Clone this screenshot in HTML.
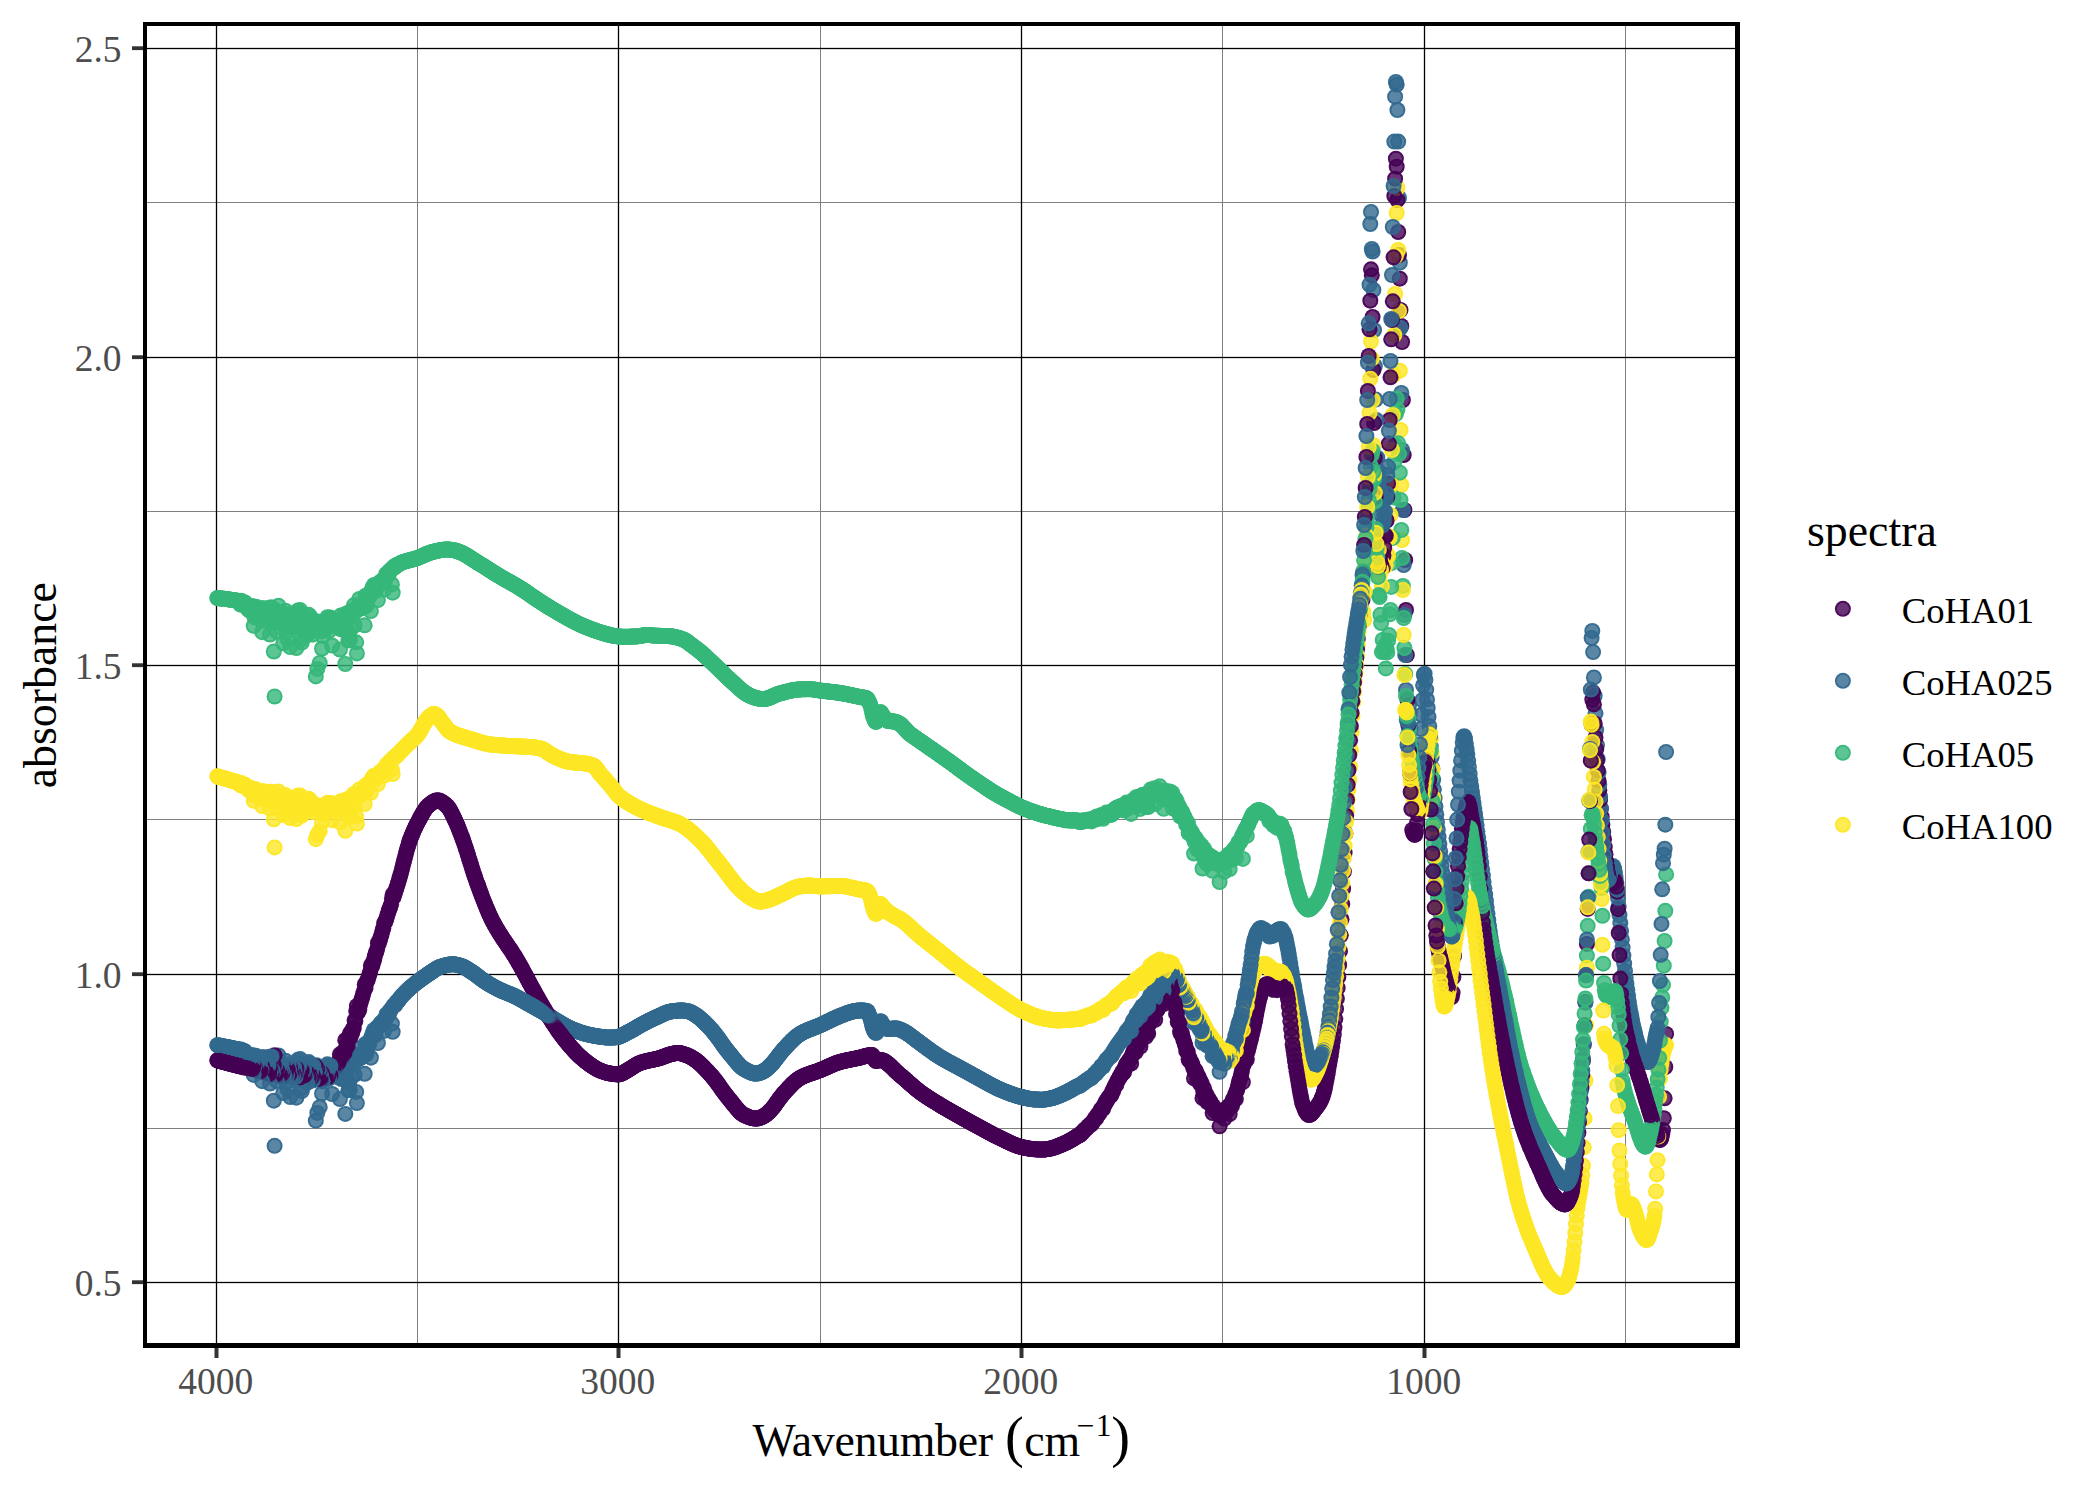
<!DOCTYPE html>
<html lang="en"><head><meta charset="utf-8"><title>FTIR spectra</title>
<style>
html,body{margin:0;padding:0;background:#fff}
body{width:2100px;height:1500px;overflow:hidden}
svg{display:block;font-family:"Liberation Serif","Times New Roman",serif}
circle{r:8px}
.a{fill:url(#ga)}.b{fill:url(#gb)}.c{fill:url(#gc)}.d{fill:url(#gd)}
.tk{fill:#4D4D4D;font-size:37.5px}
.lg{fill:#000;font-size:36.67px}
.tt{fill:#000;font-size:45.83px}
</style></head><body>
<svg width="2100" height="1500" viewBox="0 0 2100 1500">
<defs><radialGradient id="ga"><stop offset="0" stop-color="#440154" stop-opacity=".8"/><stop offset=".71" stop-color="#440154" stop-opacity=".8"/><stop offset=".76" stop-color="#440154" stop-opacity=".96"/><stop offset="1" stop-color="#440154" stop-opacity=".96"/></radialGradient><radialGradient id="gb"><stop offset="0" stop-color="#31688E" stop-opacity=".8"/><stop offset=".71" stop-color="#31688E" stop-opacity=".8"/><stop offset=".76" stop-color="#31688E" stop-opacity=".96"/><stop offset="1" stop-color="#31688E" stop-opacity=".96"/></radialGradient><radialGradient id="gc"><stop offset="0" stop-color="#35B779" stop-opacity=".8"/><stop offset=".71" stop-color="#35B779" stop-opacity=".8"/><stop offset=".76" stop-color="#35B779" stop-opacity=".96"/><stop offset="1" stop-color="#35B779" stop-opacity=".96"/></radialGradient><radialGradient id="gd"><stop offset="0" stop-color="#FDE725" stop-opacity=".8"/><stop offset=".71" stop-color="#FDE725" stop-opacity=".8"/><stop offset=".76" stop-color="#FDE725" stop-opacity=".96"/><stop offset="1" stop-color="#FDE725" stop-opacity=".96"/></radialGradient></defs>
<rect width="2100" height="1500" fill="#fff"/>
<g fill="#808080">
<rect x="417" y="26" width="1" height="1317"/><rect x="820" y="26" width="1" height="1317"/><rect x="1222" y="26" width="1" height="1317"/><rect x="1625" y="26" width="1" height="1317"/><rect x="147" y="202" width="1588" height="1"/><rect x="147" y="511" width="1588" height="1"/><rect x="147" y="819" width="1588" height="1"/><rect x="147" y="1128" width="1588" height="1"/>
</g>
<g fill="#000">
<rect x="215.85" y="26" width="1.3" height="1317"/><rect x="617.85" y="26" width="1.3" height="1317"/><rect x="1020.85" y="26" width="1.3" height="1317"/><rect x="1423.85" y="26" width="1.3" height="1317"/><rect x="147" y="47.85" width="1588" height="1.3"/><rect x="147" y="356.85" width="1588" height="1.3"/><rect x="147" y="664.85" width="1588" height="1.3"/><rect x="147" y="973.85" width="1588" height="1.3"/><rect x="147" y="1281.85" width="1588" height="1.3"/>
</g>
<svg x="147" y="26" width="1588" height="1317" viewBox="147 26 1588 1317" overflow="hidden">
<circle class=a cx=1666.1 cy=1033.9 r=8 /><circle class=b cx=1666.1 cy=752.0 r=8 /><circle class=c cx=1666.1 cy=874.4 r=8 /><circle class=d cx=1666.1 cy=1045.1 r=8 /><circle class=a cx=1665.3 cy=1067.0 r=8 /><circle class=b cx=1665.3 cy=824.7 r=8 />
<circle class=c cx=1665.3 cy=910.8 r=8 /><circle class=d cx=1665.3 cy=1046.3 r=8 /><circle class=a cx=1664.6 cy=1098.3 r=8 /><circle class=b cx=1664.6 cy=848.7 r=8 /><circle class=c cx=1664.6 cy=941.0 r=8 /><circle class=d cx=1664.6 cy=1048.3 r=8 />
<circle class=a cx=1663.8 cy=1118.2 r=8 /><circle class=b cx=1663.8 cy=854.7 r=8 /><circle class=c cx=1663.8 cy=965.7 r=8 /><circle class=d cx=1663.8 cy=1050.7 r=8 /><circle class=a cx=1663.0 cy=1130.0 r=8 /><circle class=b cx=1663.0 cy=863.2 r=8 />
<circle class=c cx=1663.0 cy=984.9 r=8 /><circle class=d cx=1663.0 cy=1054.1 r=8 /><circle class=a cx=1662.2 cy=1134.3 r=8 /><circle class=b cx=1662.2 cy=889.3 r=8 /><circle class=c cx=1662.2 cy=997.4 r=8 /><circle class=d cx=1662.2 cy=1058.5 r=8 />
<circle class=a cx=1661.5 cy=1137.5 r=8 /><circle class=b cx=1661.5 cy=923.9 r=8 /><circle class=c cx=1661.5 cy=1007.8 r=8 /><circle class=d cx=1661.5 cy=1063.7 r=8 /><circle class=a cx=1660.7 cy=1139.4 r=8 /><circle class=b cx=1660.7 cy=954.8 r=8 />
<circle class=c cx=1660.7 cy=1021.6 r=8 /><circle class=d cx=1660.7 cy=1069.9 r=8 /><circle class=a cx=1659.9 cy=1140.0 r=8 /><circle class=b cx=1659.9 cy=981.0 r=8 /><circle class=c cx=1659.9 cy=1040.6 r=8 /><circle class=d cx=1659.9 cy=1078.8 r=8 />
<circle class=a cx=1659.1 cy=1139.4 r=8 /><circle class=b cx=1659.1 cy=1002.9 r=8 /><circle class=c cx=1659.1 cy=1057.9 r=8 /><circle class=d cx=1659.1 cy=1096.9 r=8 /><circle class=a cx=1658.3 cy=1137.9 r=8 /><circle class=b cx=1658.3 cy=1017.0 r=8 />
<circle class=c cx=1658.3 cy=1069.5 r=8 /><circle class=d cx=1658.3 cy=1136.6 r=8 /><circle class=a cx=1657.6 cy=1135.9 r=8 /><circle class=b cx=1657.6 cy=1028.0 r=8 /><circle class=c cx=1657.6 cy=1079.1 r=8 /><circle class=d cx=1657.6 cy=1160.2 r=8 />
<circle class=a cx=1656.8 cy=1133.5 r=8 /><circle class=b cx=1656.8 cy=1032.0 r=8 /><circle class=c cx=1656.8 cy=1087.4 r=8 /><circle class=d cx=1656.8 cy=1174.4 r=8 /><circle class=a cx=1656.0 cy=1131.0 r=8 /><circle class=b cx=1656.0 cy=1034.9 r=8 />
<circle class=c cx=1656.0 cy=1094.8 r=8 /><circle class=d cx=1656.0 cy=1191.4 r=8 /><circle class=a cx=1655.2 cy=1128.7 r=8 /><circle class=b cx=1655.2 cy=1038.9 r=8 /><circle class=c cx=1655.2 cy=1101.9 r=8 /><circle class=d cx=1655.2 cy=1208.8 r=8 />
<circle class=a cx=1654.5 cy=1126.5 r=8 /><circle class=b cx=1654.5 cy=1043.2 r=8 /><circle class=c cx=1654.5 cy=1108.5 r=8 /><circle class=d cx=1654.5 cy=1215.8 r=8 /><circle class=a cx=1653.7 cy=1124.4 r=8 /><circle class=b cx=1653.7 cy=1047.2 r=8 />
<circle class=c cx=1653.7 cy=1114.6 r=8 /><circle class=d cx=1653.7 cy=1220.4 r=8 /><circle class=a cx=1652.9 cy=1122.1 r=8 /><circle class=b cx=1652.9 cy=1050.3 r=8 /><circle class=c cx=1652.9 cy=1119.9 r=8 /><circle class=d cx=1652.9 cy=1223.8 r=8 />
<circle class=a cx=1652.1 cy=1119.8 r=8 /><circle class=b cx=1652.1 cy=1052.9 r=8 /><circle class=c cx=1652.1 cy=1124.3 r=8 /><circle class=d cx=1652.1 cy=1226.5 r=8 /><circle class=a cx=1651.4 cy=1117.4 r=8 /><circle class=b cx=1651.4 cy=1055.5 r=8 />
<circle class=c cx=1651.4 cy=1128.1 r=8 /><circle class=d cx=1651.4 cy=1228.9 r=8 /><circle class=a cx=1650.6 cy=1115.0 r=8 /><circle class=b cx=1650.6 cy=1057.9 r=8 /><circle class=c cx=1650.6 cy=1131.8 r=8 /><circle class=d cx=1650.6 cy=1231.3 r=8 />
<circle class=a cx=1649.8 cy=1112.5 r=8 /><circle class=b cx=1649.8 cy=1059.8 r=8 /><circle class=c cx=1649.8 cy=1135.3 r=8 /><circle class=d cx=1649.8 cy=1233.8 r=8 /><circle class=a cx=1649.0 cy=1110.0 r=8 /><circle class=b cx=1649.0 cy=1061.2 r=8 />
<circle class=c cx=1649.0 cy=1138.6 r=8 /><circle class=d cx=1649.0 cy=1236.2 r=8 /><circle class=a cx=1648.3 cy=1107.5 r=8 /><circle class=b cx=1648.3 cy=1062.0 r=8 /><circle class=c cx=1648.3 cy=1141.5 r=8 /><circle class=d cx=1648.3 cy=1238.1 r=8 />
<circle class=a cx=1647.5 cy=1104.9 r=8 /><circle class=b cx=1647.5 cy=1061.9 r=8 /><circle class=c cx=1647.5 cy=1143.9 r=8 /><circle class=d cx=1647.5 cy=1239.5 r=8 /><circle class=a cx=1646.7 cy=1102.3 r=8 /><circle class=b cx=1646.7 cy=1061.5 r=8 />
<circle class=c cx=1646.7 cy=1145.6 r=8 /><circle class=d cx=1646.7 cy=1240.0 r=8 /><circle class=a cx=1645.9 cy=1099.7 r=8 /><circle class=b cx=1645.9 cy=1060.8 r=8 /><circle class=c cx=1645.9 cy=1146.6 r=8 /><circle class=d cx=1645.9 cy=1239.8 r=8 />
<circle class=a cx=1645.1 cy=1097.1 r=8 /><circle class=b cx=1645.1 cy=1059.9 r=8 /><circle class=c cx=1645.1 cy=1146.7 r=8 /><circle class=d cx=1645.1 cy=1239.2 r=8 /><circle class=a cx=1644.4 cy=1094.4 r=8 /><circle class=b cx=1644.4 cy=1058.8 r=8 />
<circle class=c cx=1644.4 cy=1146.2 r=8 /><circle class=d cx=1644.4 cy=1238.4 r=8 /><circle class=a cx=1643.6 cy=1091.8 r=8 /><circle class=b cx=1643.6 cy=1057.4 r=8 /><circle class=c cx=1643.6 cy=1145.4 r=8 /><circle class=d cx=1643.6 cy=1237.2 r=8 />
<circle class=a cx=1642.8 cy=1089.2 r=8 /><circle class=b cx=1642.8 cy=1055.9 r=8 /><circle class=c cx=1642.8 cy=1144.2 r=8 /><circle class=d cx=1642.8 cy=1235.9 r=8 /><circle class=a cx=1642.0 cy=1086.6 r=8 /><circle class=b cx=1642.0 cy=1054.4 r=8 />
<circle class=c cx=1642.0 cy=1142.7 r=8 /><circle class=d cx=1642.0 cy=1234.3 r=8 /><circle class=a cx=1641.3 cy=1084.1 r=8 /><circle class=b cx=1641.3 cy=1052.7 r=8 /><circle class=c cx=1641.3 cy=1141.0 r=8 /><circle class=d cx=1641.3 cy=1232.7 r=8 />
<circle class=a cx=1640.5 cy=1081.6 r=8 /><circle class=b cx=1640.5 cy=1051.0 r=8 /><circle class=c cx=1640.5 cy=1139.0 r=8 /><circle class=d cx=1640.5 cy=1231.1 r=8 /><circle class=a cx=1639.7 cy=1079.1 r=8 /><circle class=b cx=1639.7 cy=1049.4 r=8 />
<circle class=c cx=1639.7 cy=1136.8 r=8 /><circle class=d cx=1639.7 cy=1229.3 r=8 /><circle class=a cx=1638.9 cy=1076.7 r=8 /><circle class=b cx=1638.9 cy=1047.4 r=8 /><circle class=c cx=1638.9 cy=1134.4 r=8 /><circle class=d cx=1638.9 cy=1226.9 r=8 />
<circle class=a cx=1638.2 cy=1074.4 r=8 /><circle class=b cx=1638.2 cy=1045.2 r=8 /><circle class=c cx=1638.2 cy=1132.0 r=8 /><circle class=d cx=1638.2 cy=1224.0 r=8 /><circle class=a cx=1637.4 cy=1072.2 r=8 /><circle class=b cx=1637.4 cy=1042.7 r=8 />
<circle class=c cx=1637.4 cy=1129.5 r=8 /><circle class=d cx=1637.4 cy=1220.7 r=8 /><circle class=a cx=1636.6 cy=1070.0 r=8 /><circle class=b cx=1636.6 cy=1040.0 r=8 /><circle class=c cx=1636.6 cy=1127.0 r=8 /><circle class=d cx=1636.6 cy=1217.5 r=8 />
<circle class=a cx=1635.8 cy=1067.9 r=8 /><circle class=b cx=1635.8 cy=1037.1 r=8 /><circle class=c cx=1635.8 cy=1124.5 r=8 /><circle class=d cx=1635.8 cy=1214.5 r=8 /><circle class=a cx=1635.1 cy=1065.7 r=8 /><circle class=b cx=1635.1 cy=1033.9 r=8 />
<circle class=c cx=1635.1 cy=1122.1 r=8 /><circle class=d cx=1635.1 cy=1212.1 r=8 /><circle class=a cx=1634.3 cy=1063.4 r=8 /><circle class=b cx=1634.3 cy=1030.6 r=8 /><circle class=c cx=1634.3 cy=1119.9 r=8 /><circle class=d cx=1634.3 cy=1210.1 r=8 />
<circle class=a cx=1633.5 cy=1061.1 r=8 /><circle class=b cx=1633.5 cy=1027.1 r=8 /><circle class=c cx=1633.5 cy=1117.7 r=8 /><circle class=d cx=1633.5 cy=1208.0 r=8 /><circle class=a cx=1632.7 cy=1058.7 r=8 /><circle class=b cx=1632.7 cy=1023.5 r=8 />
<circle class=c cx=1632.7 cy=1115.7 r=8 /><circle class=d cx=1632.7 cy=1206.1 r=8 /><circle class=a cx=1631.9 cy=1056.2 r=8 /><circle class=b cx=1631.9 cy=1019.7 r=8 /><circle class=c cx=1631.9 cy=1113.7 r=8 /><circle class=d cx=1631.9 cy=1204.7 r=8 />
<circle class=a cx=1631.2 cy=1053.5 r=8 /><circle class=b cx=1631.2 cy=1015.7 r=8 /><circle class=c cx=1631.2 cy=1111.6 r=8 /><circle class=d cx=1631.2 cy=1204.0 r=8 /><circle class=a cx=1630.4 cy=1050.7 r=8 /><circle class=b cx=1630.4 cy=1011.3 r=8 />
<circle class=c cx=1630.4 cy=1109.6 r=8 /><circle class=d cx=1630.4 cy=1204.4 r=8 /><circle class=a cx=1629.6 cy=1047.6 r=8 /><circle class=b cx=1629.6 cy=1006.4 r=8 /><circle class=c cx=1629.6 cy=1107.4 r=8 /><circle class=d cx=1629.6 cy=1205.7 r=8 />
<circle class=a cx=1628.8 cy=1044.3 r=8 /><circle class=b cx=1628.8 cy=1001.3 r=8 /><circle class=c cx=1628.8 cy=1105.2 r=8 /><circle class=d cx=1628.8 cy=1207.4 r=8 /><circle class=a cx=1628.1 cy=1041.0 r=8 /><circle class=b cx=1628.1 cy=995.8 r=8 />
<circle class=c cx=1628.1 cy=1102.9 r=8 /><circle class=d cx=1628.1 cy=1209.0 r=8 /><circle class=a cx=1627.3 cy=1037.7 r=8 /><circle class=b cx=1627.3 cy=990.0 r=8 /><circle class=c cx=1627.3 cy=1100.4 r=8 /><circle class=d cx=1627.3 cy=1209.9 r=8 />
<circle class=a cx=1626.5 cy=1034.2 r=8 /><circle class=b cx=1626.5 cy=984.0 r=8 /><circle class=c cx=1626.5 cy=1097.8 r=8 /><circle class=d cx=1626.5 cy=1209.7 r=8 /><circle class=a cx=1625.7 cy=1030.5 r=8 /><circle class=b cx=1625.7 cy=977.8 r=8 />
<circle class=c cx=1625.7 cy=1095.1 r=8 /><circle class=d cx=1625.7 cy=1208.1 r=8 /><circle class=a cx=1625.0 cy=1026.3 r=8 /><circle class=b cx=1625.0 cy=971.0 r=8 /><circle class=c cx=1625.0 cy=1092.5 r=8 /><circle class=d cx=1625.0 cy=1205.3 r=8 />
<circle class=a cx=1624.2 cy=1021.5 r=8 /><circle class=b cx=1624.2 cy=963.6 r=8 /><circle class=c cx=1624.2 cy=1089.6 r=8 /><circle class=d cx=1624.2 cy=1201.6 r=8 /><circle class=a cx=1623.4 cy=1016.0 r=8 /><circle class=b cx=1623.4 cy=955.7 r=8 />
<circle class=c cx=1623.4 cy=1086.0 r=8 /><circle class=d cx=1623.4 cy=1197.3 r=8 /><circle class=a cx=1622.6 cy=1009.7 r=8 /><circle class=b cx=1622.6 cy=947.6 r=8 /><circle class=c cx=1622.6 cy=1081.0 r=8 /><circle class=d cx=1622.6 cy=1192.5 r=8 />
<circle class=a cx=1621.9 cy=1002.4 r=8 /><circle class=b cx=1621.9 cy=939.3 r=8 /><circle class=c cx=1621.9 cy=1069.9 r=8 /><circle class=d cx=1621.9 cy=1185.3 r=8 /><circle class=a cx=1621.1 cy=993.9 r=8 /><circle class=b cx=1621.1 cy=931.1 r=8 />
<circle class=c cx=1621.1 cy=1053.3 r=8 /><circle class=d cx=1621.1 cy=1175.6 r=8 /><circle class=a cx=1620.3 cy=978.6 r=8 /><circle class=b cx=1620.3 cy=923.0 r=8 /><circle class=c cx=1620.3 cy=1039.3 r=8 /><circle class=d cx=1620.3 cy=1164.0 r=8 />
<circle class=a cx=1619.5 cy=955.1 r=8 /><circle class=b cx=1619.5 cy=915.0 r=8 /><circle class=c cx=1619.5 cy=1025.5 r=8 /><circle class=d cx=1619.5 cy=1150.5 r=8 /><circle class=a cx=1618.7 cy=933.0 r=8 /><circle class=b cx=1618.7 cy=906.4 r=8 />
<circle class=c cx=1618.7 cy=1014.5 r=8 /><circle class=d cx=1618.7 cy=1130.2 r=8 /><circle class=a cx=1618.0 cy=909.2 r=8 /><circle class=b cx=1618.0 cy=897.8 r=8 /><circle class=c cx=1618.0 cy=1007.3 r=8 /><circle class=d cx=1618.0 cy=1106.1 r=8 />
<circle class=a cx=1617.2 cy=891.8 r=8 /><circle class=b cx=1617.2 cy=889.7 r=8 /><circle class=c cx=1617.2 cy=1000.8 r=8 /><circle class=d cx=1617.2 cy=1085.1 r=8 /><circle class=a cx=1616.4 cy=886.7 r=8 /><circle class=b cx=1616.4 cy=882.9 r=8 />
<circle class=c cx=1616.4 cy=995.5 r=8 /><circle class=d cx=1616.4 cy=1065.7 r=8 /><circle class=a cx=1615.6 cy=883.2 r=8 /><circle class=b cx=1615.6 cy=877.7 r=8 /><circle class=c cx=1615.6 cy=992.0 r=8 /><circle class=d cx=1615.6 cy=1057.5 r=8 />
<circle class=a cx=1614.9 cy=880.9 r=8 /><circle class=b cx=1614.9 cy=872.7 r=8 /><circle class=c cx=1614.9 cy=991.0 r=8 /><circle class=d cx=1614.9 cy=1053.2 r=8 /><circle class=a cx=1614.1 cy=880.0 r=8 /><circle class=b cx=1614.1 cy=868.6 r=8 />
<circle class=c cx=1614.1 cy=991.5 r=8 /><circle class=d cx=1614.1 cy=1050.2 r=8 /><circle class=a cx=1613.3 cy=880.0 r=8 /><circle class=b cx=1613.3 cy=866.2 r=8 /><circle class=c cx=1613.3 cy=992.6 r=8 /><circle class=d cx=1613.3 cy=1048.4 r=8 />
<circle class=a cx=1612.5 cy=880.0 r=8 /><circle class=b cx=1612.5 cy=866.3 r=8 /><circle class=c cx=1612.5 cy=993.9 r=8 /><circle class=d cx=1612.5 cy=1047.5 r=8 /><circle class=a cx=1611.8 cy=880.0 r=8 /><circle class=b cx=1611.8 cy=868.2 r=8 />
<circle class=c cx=1611.8 cy=995.3 r=8 /><circle class=d cx=1611.8 cy=1047.0 r=8 /><circle class=a cx=1611.0 cy=880.0 r=8 /><circle class=b cx=1611.0 cy=871.0 r=8 /><circle class=c cx=1611.0 cy=996.4 r=8 /><circle class=d cx=1611.0 cy=1046.6 r=8 />
<circle class=a cx=1610.2 cy=880.0 r=8 /><circle class=b cx=1610.2 cy=874.2 r=8 /><circle class=c cx=1610.2 cy=997.0 r=8 /><circle class=d cx=1610.2 cy=1046.3 r=8 /><circle class=a cx=1609.4 cy=879.4 r=8 /><circle class=b cx=1609.4 cy=877.2 r=8 />
<circle class=c cx=1609.4 cy=997.0 r=8 /><circle class=d cx=1609.4 cy=1046.0 r=8 /><circle class=a cx=1608.7 cy=877.0 r=8 /><circle class=b cx=1608.7 cy=879.3 r=8 /><circle class=c cx=1608.7 cy=996.8 r=8 /><circle class=d cx=1608.7 cy=1045.5 r=8 />
<circle class=a cx=1607.9 cy=873.0 r=8 /><circle class=b cx=1607.9 cy=880.0 r=8 /><circle class=c cx=1607.9 cy=996.4 r=8 /><circle class=d cx=1607.9 cy=1044.9 r=8 /><circle class=a cx=1607.1 cy=867.6 r=8 /><circle class=b cx=1607.1 cy=878.1 r=8 />
<circle class=c cx=1607.1 cy=996.0 r=8 /><circle class=d cx=1607.1 cy=1044.0 r=8 /><circle class=a cx=1606.3 cy=861.3 r=8 /><circle class=b cx=1606.3 cy=874.1 r=8 /><circle class=c cx=1606.3 cy=995.3 r=8 /><circle class=d cx=1606.3 cy=1042.9 r=8 />
<circle class=a cx=1605.5 cy=854.2 r=8 /><circle class=b cx=1605.5 cy=868.9 r=8 /><circle class=c cx=1605.5 cy=994.1 r=8 /><circle class=d cx=1605.5 cy=1041.2 r=8 /><circle class=a cx=1604.8 cy=846.8 r=8 /><circle class=b cx=1604.8 cy=863.2 r=8 />
<circle class=c cx=1604.8 cy=990.2 r=8 /><circle class=d cx=1604.8 cy=1038.6 r=8 /><circle class=a cx=1604.0 cy=839.2 r=8 /><circle class=b cx=1604.0 cy=855.1 r=8 /><circle class=c cx=1604.0 cy=983.0 r=8 /><circle class=d cx=1604.0 cy=1033.8 r=8 />
<circle class=a cx=1603.2 cy=831.9 r=8 /><circle class=b cx=1603.2 cy=844.6 r=8 /><circle class=c cx=1603.2 cy=963.7 r=8 /><circle class=d cx=1603.2 cy=1010.6 r=8 /><circle class=a cx=1602.4 cy=824.8 r=8 /><circle class=b cx=1602.4 cy=832.6 r=8 />
<circle class=c cx=1602.4 cy=915.8 r=8 /><circle class=d cx=1602.4 cy=944.8 r=8 /><circle class=a cx=1601.7 cy=817.0 r=8 /><circle class=b cx=1601.7 cy=820.2 r=8 /><circle class=c cx=1601.7 cy=888.0 r=8 /><circle class=d cx=1601.7 cy=899.0 r=8 />
<circle class=a cx=1600.9 cy=808.6 r=8 /><circle class=b cx=1600.9 cy=808.3 r=8 /><circle class=c cx=1600.9 cy=880.9 r=8 /><circle class=d cx=1600.9 cy=884.5 r=8 /><circle class=a cx=1600.1 cy=799.7 r=8 /><circle class=b cx=1600.1 cy=796.6 r=8 />
<circle class=c cx=1600.1 cy=875.9 r=8 /><circle class=d cx=1600.1 cy=873.8 r=8 /><circle class=a cx=1599.3 cy=790.3 r=8 /><circle class=b cx=1599.3 cy=784.7 r=8 /><circle class=c cx=1599.3 cy=869.7 r=8 /><circle class=d cx=1599.3 cy=861.0 r=8 />
<circle class=a cx=1598.6 cy=780.5 r=8 /><circle class=b cx=1598.6 cy=772.2 r=8 /><circle class=c cx=1598.6 cy=863.8 r=8 /><circle class=d cx=1598.6 cy=848.8 r=8 /><circle class=a cx=1597.8 cy=770.4 r=8 /><circle class=b cx=1597.8 cy=759.1 r=8 />
<circle class=c cx=1597.8 cy=858.1 r=8 /><circle class=d cx=1597.8 cy=837.1 r=8 /><circle class=a cx=1597.0 cy=760.0 r=8 /><circle class=b cx=1597.0 cy=745.1 r=8 /><circle class=c cx=1597.0 cy=852.5 r=8 /><circle class=d cx=1597.0 cy=825.4 r=8 />
<circle class=a cx=1596.2 cy=749.2 r=8 /><circle class=b cx=1596.2 cy=729.8 r=8 /><circle class=c cx=1596.2 cy=846.7 r=8 /><circle class=d cx=1596.2 cy=813.6 r=8 /><circle class=a cx=1595.5 cy=737.4 r=8 /><circle class=b cx=1595.5 cy=713.3 r=8 />
<circle class=c cx=1595.5 cy=840.2 r=8 /><circle class=d cx=1595.5 cy=801.5 r=8 /><circle class=a cx=1594.7 cy=723.5 r=8 /><circle class=b cx=1594.7 cy=695.8 r=8 /><circle class=c cx=1594.7 cy=832.2 r=8 /><circle class=d cx=1594.7 cy=789.4 r=8 />
<circle class=a cx=1593.9 cy=704.4 r=8 /><circle class=b cx=1593.9 cy=677.4 r=8 /><circle class=c cx=1593.9 cy=824.1 r=8 /><circle class=d cx=1593.9 cy=776.9 r=8 /><circle class=a cx=1593.1 cy=692.3 r=8 /><circle class=b cx=1593.1 cy=652.1 r=8 />
<circle class=c cx=1593.1 cy=817.4 r=8 /><circle class=d cx=1593.1 cy=762.1 r=8 /><circle class=a cx=1592.3 cy=699.6 r=8 /><circle class=b cx=1592.3 cy=630.9 r=8 /><circle class=c cx=1592.3 cy=813.5 r=8 /><circle class=d cx=1592.3 cy=741.9 r=8 />
<circle class=a cx=1591.6 cy=724.6 r=8 /><circle class=b cx=1591.6 cy=638.0 r=8 /><circle class=c cx=1591.6 cy=815.3 r=8 /><circle class=d cx=1591.6 cy=724.8 r=8 /><circle class=a cx=1590.8 cy=760.7 r=8 /><circle class=b cx=1590.8 cy=689.6 r=8 />
<circle class=c cx=1590.8 cy=829.0 r=8 /><circle class=d cx=1590.8 cy=721.6 r=8 /><circle class=a cx=1590.0 cy=801.2 r=8 /><circle class=b cx=1590.0 cy=749.0 r=8 /><circle class=c cx=1590.0 cy=850.1 r=8 /><circle class=d cx=1590.0 cy=750.2 r=8 />
<circle class=a cx=1589.2 cy=839.6 r=8 /><circle class=b cx=1589.2 cy=800.4 r=8 /><circle class=c cx=1589.2 cy=873.3 r=8 /><circle class=d cx=1589.2 cy=800.1 r=8 /><circle class=a cx=1588.5 cy=873.3 r=8 /><circle class=b cx=1588.5 cy=852.1 r=8 />
<circle class=c cx=1588.5 cy=896.8 r=8 /><circle class=d cx=1588.5 cy=852.4 r=8 /><circle class=a cx=1587.7 cy=908.9 r=8 /><circle class=b cx=1587.7 cy=897.7 r=8 /><circle class=c cx=1587.7 cy=925.8 r=8 /><circle class=d cx=1587.7 cy=907.3 r=8 />
<circle class=a cx=1586.9 cy=943.9 r=8 /><circle class=b cx=1586.9 cy=939.4 r=8 /><circle class=c cx=1586.9 cy=955.6 r=8 /><circle class=d cx=1586.9 cy=967.7 r=8 /><circle class=a cx=1586.1 cy=975.3 r=8 /><circle class=b cx=1586.1 cy=974.9 r=8 />
<circle class=c cx=1586.1 cy=980.6 r=8 /><circle class=d cx=1586.1 cy=1025.1 r=8 /><circle class=a cx=1585.4 cy=1001.8 r=8 /><circle class=b cx=1585.4 cy=1002.8 r=8 /><circle class=c cx=1585.4 cy=998.5 r=8 /><circle class=d cx=1585.4 cy=1080.7 r=8 />
<circle class=a cx=1584.6 cy=1025.3 r=8 /><circle class=b cx=1584.6 cy=1026.2 r=8 /><circle class=c cx=1584.6 cy=1013.5 r=8 /><circle class=d cx=1584.6 cy=1118.4 r=8 /><circle class=a cx=1583.8 cy=1044.4 r=8 /><circle class=b cx=1583.8 cy=1044.0 r=8 />
<circle class=c cx=1583.8 cy=1026.8 r=8 /><circle class=d cx=1583.8 cy=1147.3 r=8 /><circle class=a cx=1583.0 cy=1060.5 r=8 /><circle class=b cx=1583.0 cy=1058.3 r=8 /><circle class=c cx=1583.0 cy=1039.6 r=8 /><circle class=d cx=1583.0 cy=1165.6 r=8 />
<circle class=a cx=1582.3 cy=1074.9 r=8 /><circle class=b cx=1582.3 cy=1070.7 r=8 /><circle class=c cx=1582.3 cy=1052.0 r=8 /><circle class=d cx=1582.3 cy=1175.2 r=8 /><circle class=a cx=1581.5 cy=1087.9 r=8 /><circle class=b cx=1581.5 cy=1081.6 r=8 />
<circle class=c cx=1581.5 cy=1063.5 r=8 /><circle class=d cx=1581.5 cy=1182.4 r=8 /><circle class=a cx=1580.7 cy=1099.8 r=8 /><circle class=b cx=1580.7 cy=1091.5 r=8 /><circle class=c cx=1580.7 cy=1074.0 r=8 /><circle class=d cx=1580.7 cy=1188.0 r=8 />
<circle class=a cx=1579.9 cy=1111.1 r=8 /><circle class=b cx=1579.9 cy=1101.0 r=8 /><circle class=c cx=1579.9 cy=1084.2 r=8 /><circle class=d cx=1579.9 cy=1192.7 r=8 /><circle class=a cx=1579.1 cy=1122.1 r=8 /><circle class=b cx=1579.1 cy=1110.1 r=8 />
<circle class=c cx=1579.1 cy=1093.8 r=8 /><circle class=d cx=1579.1 cy=1197.2 r=8 /><circle class=a cx=1578.4 cy=1132.7 r=8 /><circle class=b cx=1578.4 cy=1118.7 r=8 /><circle class=c cx=1578.4 cy=1102.6 r=8 /><circle class=d cx=1578.4 cy=1202.1 r=8 />
<circle class=a cx=1577.6 cy=1142.8 r=8 /><circle class=b cx=1577.6 cy=1126.8 r=8 /><circle class=c cx=1577.6 cy=1110.1 r=8 /><circle class=d cx=1577.6 cy=1208.1 r=8 /><circle class=a cx=1576.8 cy=1152.1 r=8 /><circle class=b cx=1576.8 cy=1134.3 r=8 />
<circle class=c cx=1576.8 cy=1116.8 r=8 /><circle class=d cx=1576.8 cy=1215.5 r=8 /><circle class=a cx=1576.0 cy=1160.5 r=8 /><circle class=b cx=1576.0 cy=1141.4 r=8 /><circle class=c cx=1576.0 cy=1123.0 r=8 /><circle class=d cx=1576.0 cy=1224.0 r=8 />
<circle class=a cx=1575.3 cy=1167.8 r=8 /><circle class=b cx=1575.3 cy=1147.9 r=8 /><circle class=c cx=1575.3 cy=1128.5 r=8 /><circle class=d cx=1575.3 cy=1232.9 r=8 /><circle class=a cx=1574.5 cy=1174.2 r=8 /><circle class=b cx=1574.5 cy=1154.1 r=8 />
<circle class=c cx=1574.5 cy=1132.9 r=8 /><circle class=d cx=1574.5 cy=1241.8 r=8 /><circle class=a cx=1573.7 cy=1180.2 r=8 /><circle class=b cx=1573.7 cy=1160.3 r=8 /><circle class=c cx=1573.7 cy=1136.1 r=8 /><circle class=d cx=1573.7 cy=1250.1 r=8 />
<circle class=a cx=1572.9 cy=1185.7 r=8 /><circle class=b cx=1572.9 cy=1166.1 r=8 /><circle class=c cx=1572.9 cy=1138.9 r=8 /><circle class=d cx=1572.9 cy=1257.4 r=8 /><circle class=a cx=1572.2 cy=1190.4 r=8 /><circle class=b cx=1572.2 cy=1171.1 r=8 />
<circle class=c cx=1572.2 cy=1141.5 r=8 /><circle class=d cx=1572.2 cy=1263.1 r=8 /><circle class=a cx=1571.4 cy=1193.8 r=8 /><circle class=b cx=1571.4 cy=1174.8 r=8 /><circle class=c cx=1571.4 cy=1143.9 r=8 /><circle class=d cx=1571.4 cy=1267.4 r=8 />
<circle class=a cx=1570.6 cy=1196.0 r=8 /><circle class=b cx=1570.6 cy=1177.0 r=8 /><circle class=c cx=1570.6 cy=1146.0 r=8 /><circle class=d cx=1570.6 cy=1271.2 r=8 /><circle class=a cx=1569.8 cy=1197.9 r=8 /><circle class=b cx=1569.8 cy=1178.9 r=8 />
<circle class=c cx=1569.8 cy=1147.7 r=8 /><circle class=d cx=1569.8 cy=1274.6 r=8 /><circle class=a cx=1569.0 cy=1199.7 r=8 /><circle class=b cx=1569.0 cy=1180.6 r=8 /><circle class=c cx=1569.0 cy=1149.0 r=8 /><circle class=d cx=1569.0 cy=1277.3 r=8 />
<circle class=a cx=1568.3 cy=1201.2 r=8 /><circle class=b cx=1568.3 cy=1181.9 r=8 /><circle class=c cx=1568.3 cy=1149.7 r=8 /><circle class=d cx=1568.3 cy=1279.4 r=8 /><circle class=a cx=1567.5 cy=1202.5 r=8 /><circle class=b cx=1567.5 cy=1182.9 r=8 />
<circle class=c cx=1567.5 cy=1149.8 r=8 /><circle class=d cx=1567.5 cy=1280.9 r=8 /><circle class=a cx=1566.7 cy=1203.4 r=8 /><circle class=b cx=1566.7 cy=1183.4 r=8 /><circle class=c cx=1566.7 cy=1149.7 r=8 /><circle class=d cx=1566.7 cy=1282.3 r=8 />
<circle class=a cx=1565.9 cy=1204.1 r=8 /><circle class=b cx=1565.9 cy=1183.4 r=8 /><circle class=c cx=1565.9 cy=1149.4 r=8 /><circle class=d cx=1565.9 cy=1283.6 r=8 /><circle class=a cx=1565.2 cy=1204.4 r=8 /><circle class=b cx=1565.2 cy=1183.2 r=8 />
<circle class=c cx=1565.2 cy=1149.0 r=8 /><circle class=d cx=1565.2 cy=1284.7 r=8 /><circle class=a cx=1564.4 cy=1204.4 r=8 /><circle class=b cx=1564.4 cy=1182.8 r=8 /><circle class=c cx=1564.4 cy=1148.5 r=8 /><circle class=d cx=1564.4 cy=1285.6 r=8 />
<circle class=a cx=1563.6 cy=1204.2 r=8 /><circle class=b cx=1563.6 cy=1182.2 r=8 /><circle class=c cx=1563.6 cy=1147.9 r=8 /><circle class=d cx=1563.6 cy=1286.3 r=8 /><circle class=a cx=1562.8 cy=1203.9 r=8 /><circle class=b cx=1562.8 cy=1181.6 r=8 />
<circle class=c cx=1562.8 cy=1147.2 r=8 /><circle class=d cx=1562.8 cy=1286.8 r=8 /><circle class=a cx=1562.1 cy=1203.6 r=8 /><circle class=b cx=1562.1 cy=1180.8 r=8 /><circle class=c cx=1562.1 cy=1146.4 r=8 /><circle class=d cx=1562.1 cy=1287.0 r=8 />
<circle class=a cx=1561.3 cy=1203.1 r=8 /><circle class=b cx=1561.3 cy=1180.0 r=8 /><circle class=c cx=1561.3 cy=1145.5 r=8 /><circle class=d cx=1561.3 cy=1287.0 r=8 /><circle class=a cx=1560.5 cy=1202.6 r=8 /><circle class=b cx=1560.5 cy=1179.0 r=8 />
<circle class=c cx=1560.5 cy=1144.6 r=8 /><circle class=d cx=1560.5 cy=1286.8 r=8 /><circle class=a cx=1559.7 cy=1202.0 r=8 /><circle class=b cx=1559.7 cy=1178.0 r=8 /><circle class=c cx=1559.7 cy=1143.7 r=8 /><circle class=d cx=1559.7 cy=1286.6 r=8 />
<circle class=a cx=1559.0 cy=1201.3 r=8 /><circle class=b cx=1559.0 cy=1177.0 r=8 /><circle class=c cx=1559.0 cy=1142.7 r=8 /><circle class=d cx=1559.0 cy=1286.2 r=8 /><circle class=a cx=1558.2 cy=1200.5 r=8 /><circle class=b cx=1558.2 cy=1176.0 r=8 />
<circle class=c cx=1558.2 cy=1141.7 r=8 /><circle class=d cx=1558.2 cy=1285.8 r=8 /><circle class=a cx=1557.4 cy=1199.7 r=8 /><circle class=b cx=1557.4 cy=1175.0 r=8 /><circle class=c cx=1557.4 cy=1140.7 r=8 /><circle class=d cx=1557.4 cy=1285.3 r=8 />
<circle class=a cx=1556.6 cy=1198.9 r=8 /><circle class=b cx=1556.6 cy=1174.0 r=8 /><circle class=c cx=1556.6 cy=1139.7 r=8 /><circle class=d cx=1556.6 cy=1284.8 r=8 /><circle class=a cx=1555.8 cy=1198.0 r=8 /><circle class=b cx=1555.8 cy=1173.0 r=8 />
<circle class=c cx=1555.8 cy=1138.8 r=8 /><circle class=d cx=1555.8 cy=1284.2 r=8 /><circle class=a cx=1555.1 cy=1197.1 r=8 /><circle class=b cx=1555.1 cy=1172.0 r=8 /><circle class=c cx=1555.1 cy=1137.8 r=8 /><circle class=d cx=1555.1 cy=1283.5 r=8 />
<circle class=a cx=1554.3 cy=1196.2 r=8 /><circle class=b cx=1554.3 cy=1170.8 r=8 /><circle class=c cx=1554.3 cy=1136.9 r=8 /><circle class=d cx=1554.3 cy=1282.8 r=8 /><circle class=a cx=1553.5 cy=1195.3 r=8 /><circle class=b cx=1553.5 cy=1169.6 r=8 />
<circle class=c cx=1553.5 cy=1135.9 r=8 /><circle class=d cx=1553.5 cy=1282.1 r=8 /><circle class=a cx=1552.7 cy=1194.4 r=8 /><circle class=b cx=1552.7 cy=1168.3 r=8 /><circle class=c cx=1552.7 cy=1134.9 r=8 /><circle class=d cx=1552.7 cy=1281.3 r=8 />
<circle class=a cx=1552.0 cy=1193.5 r=8 /><circle class=b cx=1552.0 cy=1167.0 r=8 /><circle class=c cx=1552.0 cy=1133.8 r=8 /><circle class=d cx=1552.0 cy=1280.5 r=8 /><circle class=a cx=1551.2 cy=1192.4 r=8 /><circle class=b cx=1551.2 cy=1165.6 r=8 />
<circle class=c cx=1551.2 cy=1132.7 r=8 /><circle class=d cx=1551.2 cy=1279.7 r=8 /><circle class=a cx=1550.4 cy=1191.3 r=8 /><circle class=b cx=1550.4 cy=1164.2 r=8 /><circle class=c cx=1550.4 cy=1131.5 r=8 /><circle class=d cx=1550.4 cy=1278.9 r=8 />
<circle class=a cx=1549.6 cy=1190.1 r=8 /><circle class=b cx=1549.6 cy=1162.8 r=8 /><circle class=c cx=1549.6 cy=1130.3 r=8 /><circle class=d cx=1549.6 cy=1278.0 r=8 /><circle class=a cx=1548.9 cy=1188.7 r=8 /><circle class=b cx=1548.9 cy=1161.3 r=8 />
<circle class=c cx=1548.9 cy=1129.1 r=8 /><circle class=d cx=1548.9 cy=1277.2 r=8 /><circle class=a cx=1548.1 cy=1187.3 r=8 /><circle class=b cx=1548.1 cy=1159.8 r=8 /><circle class=c cx=1548.1 cy=1127.9 r=8 /><circle class=d cx=1548.1 cy=1276.1 r=8 />
<circle class=a cx=1547.3 cy=1185.8 r=8 /><circle class=b cx=1547.3 cy=1158.3 r=8 /><circle class=c cx=1547.3 cy=1126.6 r=8 /><circle class=d cx=1547.3 cy=1275.0 r=8 /><circle class=a cx=1546.5 cy=1184.2 r=8 /><circle class=b cx=1546.5 cy=1156.8 r=8 />
<circle class=c cx=1546.5 cy=1125.3 r=8 /><circle class=d cx=1546.5 cy=1273.8 r=8 /><circle class=a cx=1545.8 cy=1182.6 r=8 /><circle class=b cx=1545.8 cy=1155.3 r=8 /><circle class=c cx=1545.8 cy=1123.9 r=8 /><circle class=d cx=1545.8 cy=1272.4 r=8 />
<circle class=a cx=1545.0 cy=1180.9 r=8 /><circle class=b cx=1545.0 cy=1153.8 r=8 /><circle class=c cx=1545.0 cy=1122.5 r=8 /><circle class=d cx=1545.0 cy=1271.0 r=8 /><circle class=a cx=1544.2 cy=1179.2 r=8 /><circle class=b cx=1544.2 cy=1152.4 r=8 />
<circle class=c cx=1544.2 cy=1121.1 r=8 /><circle class=d cx=1544.2 cy=1269.5 r=8 /><circle class=a cx=1543.4 cy=1177.5 r=8 /><circle class=b cx=1543.4 cy=1150.9 r=8 /><circle class=c cx=1543.4 cy=1119.7 r=8 /><circle class=d cx=1543.4 cy=1267.9 r=8 />
<circle class=a cx=1542.6 cy=1175.7 r=8 /><circle class=b cx=1542.6 cy=1149.5 r=8 /><circle class=c cx=1542.6 cy=1118.3 r=8 /><circle class=d cx=1542.6 cy=1266.3 r=8 /><circle class=a cx=1541.9 cy=1173.9 r=8 /><circle class=b cx=1541.9 cy=1148.1 r=8 />
<circle class=c cx=1541.9 cy=1116.8 r=8 /><circle class=d cx=1541.9 cy=1264.6 r=8 /><circle class=a cx=1541.1 cy=1172.1 r=8 /><circle class=b cx=1541.1 cy=1146.7 r=8 /><circle class=c cx=1541.1 cy=1115.3 r=8 /><circle class=d cx=1541.1 cy=1262.8 r=8 />
<circle class=a cx=1540.3 cy=1170.3 r=8 /><circle class=b cx=1540.3 cy=1145.3 r=8 /><circle class=c cx=1540.3 cy=1113.8 r=8 /><circle class=d cx=1540.3 cy=1261.0 r=8 /><circle class=a cx=1539.5 cy=1168.6 r=8 /><circle class=b cx=1539.5 cy=1143.9 r=8 />
<circle class=c cx=1539.5 cy=1112.3 r=8 /><circle class=d cx=1539.5 cy=1259.2 r=8 /><circle class=a cx=1538.8 cy=1166.8 r=8 /><circle class=b cx=1538.8 cy=1142.5 r=8 /><circle class=c cx=1538.8 cy=1110.7 r=8 /><circle class=d cx=1538.8 cy=1257.4 r=8 />
<circle class=a cx=1538.0 cy=1165.1 r=8 /><circle class=b cx=1538.0 cy=1141.1 r=8 /><circle class=c cx=1538.0 cy=1109.2 r=8 /><circle class=d cx=1538.0 cy=1255.6 r=8 /><circle class=a cx=1537.2 cy=1163.4 r=8 /><circle class=b cx=1537.2 cy=1139.6 r=8 />
<circle class=c cx=1537.2 cy=1107.6 r=8 /><circle class=d cx=1537.2 cy=1253.7 r=8 /><circle class=a cx=1536.4 cy=1161.6 r=8 /><circle class=b cx=1536.4 cy=1138.2 r=8 /><circle class=c cx=1536.4 cy=1106.0 r=8 /><circle class=d cx=1536.4 cy=1251.9 r=8 />
<circle class=a cx=1535.7 cy=1159.9 r=8 /><circle class=b cx=1535.7 cy=1136.7 r=8 /><circle class=c cx=1535.7 cy=1104.3 r=8 /><circle class=d cx=1535.7 cy=1250.1 r=8 /><circle class=a cx=1534.9 cy=1158.2 r=8 /><circle class=b cx=1534.9 cy=1135.1 r=8 />
<circle class=c cx=1534.9 cy=1102.7 r=8 /><circle class=d cx=1534.9 cy=1248.4 r=8 /><circle class=a cx=1534.1 cy=1156.4 r=8 /><circle class=b cx=1534.1 cy=1133.5 r=8 /><circle class=c cx=1534.1 cy=1101.0 r=8 /><circle class=d cx=1534.1 cy=1246.6 r=8 />
<circle class=a cx=1533.3 cy=1154.7 r=8 /><circle class=b cx=1533.3 cy=1131.8 r=8 /><circle class=c cx=1533.3 cy=1099.2 r=8 /><circle class=d cx=1533.3 cy=1244.8 r=8 /><circle class=a cx=1532.6 cy=1152.9 r=8 /><circle class=b cx=1532.6 cy=1130.1 r=8 />
<circle class=c cx=1532.6 cy=1097.5 r=8 /><circle class=d cx=1532.6 cy=1242.9 r=8 /><circle class=a cx=1531.8 cy=1151.1 r=8 /><circle class=b cx=1531.8 cy=1128.4 r=8 /><circle class=c cx=1531.8 cy=1095.7 r=8 /><circle class=d cx=1531.8 cy=1241.1 r=8 />
<circle class=a cx=1531.0 cy=1149.3 r=8 /><circle class=b cx=1531.0 cy=1126.5 r=8 /><circle class=c cx=1531.0 cy=1093.8 r=8 /><circle class=d cx=1531.0 cy=1239.2 r=8 /><circle class=a cx=1530.2 cy=1147.4 r=8 /><circle class=b cx=1530.2 cy=1124.6 r=8 />
<circle class=c cx=1530.2 cy=1091.9 r=8 /><circle class=d cx=1530.2 cy=1237.3 r=8 /><circle class=a cx=1529.4 cy=1145.5 r=8 /><circle class=b cx=1529.4 cy=1122.6 r=8 /><circle class=c cx=1529.4 cy=1090.0 r=8 /><circle class=d cx=1529.4 cy=1235.4 r=8 />
<circle class=a cx=1528.7 cy=1143.6 r=8 /><circle class=b cx=1528.7 cy=1120.4 r=8 /><circle class=c cx=1528.7 cy=1088.1 r=8 /><circle class=d cx=1528.7 cy=1233.4 r=8 /><circle class=a cx=1527.9 cy=1141.6 r=8 /><circle class=b cx=1527.9 cy=1118.2 r=8 />
<circle class=c cx=1527.9 cy=1086.0 r=8 /><circle class=d cx=1527.9 cy=1231.4 r=8 /><circle class=a cx=1527.1 cy=1139.6 r=8 /><circle class=b cx=1527.1 cy=1115.8 r=8 /><circle class=c cx=1527.1 cy=1084.0 r=8 /><circle class=d cx=1527.1 cy=1229.4 r=8 />
<circle class=a cx=1526.3 cy=1137.6 r=8 /><circle class=b cx=1526.3 cy=1113.4 r=8 /><circle class=c cx=1526.3 cy=1081.9 r=8 /><circle class=d cx=1526.3 cy=1227.3 r=8 /><circle class=a cx=1525.6 cy=1135.5 r=8 /><circle class=b cx=1525.6 cy=1110.9 r=8 />
<circle class=c cx=1525.6 cy=1079.7 r=8 /><circle class=d cx=1525.6 cy=1225.1 r=8 /><circle class=a cx=1524.8 cy=1133.4 r=8 /><circle class=b cx=1524.8 cy=1108.2 r=8 /><circle class=c cx=1524.8 cy=1077.6 r=8 /><circle class=d cx=1524.8 cy=1222.9 r=8 />
<circle class=a cx=1524.0 cy=1131.2 r=8 /><circle class=b cx=1524.0 cy=1105.5 r=8 /><circle class=c cx=1524.0 cy=1075.3 r=8 /><circle class=d cx=1524.0 cy=1220.7 r=8 /><circle class=a cx=1523.2 cy=1128.9 r=8 /><circle class=b cx=1523.2 cy=1102.8 r=8 />
<circle class=c cx=1523.2 cy=1073.0 r=8 /><circle class=d cx=1523.2 cy=1218.4 r=8 /><circle class=a cx=1522.5 cy=1126.6 r=8 /><circle class=b cx=1522.5 cy=1099.9 r=8 /><circle class=c cx=1522.5 cy=1070.7 r=8 /><circle class=d cx=1522.5 cy=1216.0 r=8 />
<circle class=a cx=1521.7 cy=1124.3 r=8 /><circle class=b cx=1521.7 cy=1097.0 r=8 /><circle class=c cx=1521.7 cy=1068.3 r=8 /><circle class=d cx=1521.7 cy=1213.6 r=8 /><circle class=a cx=1520.9 cy=1121.8 r=8 /><circle class=b cx=1520.9 cy=1094.0 r=8 />
<circle class=c cx=1520.9 cy=1065.8 r=8 /><circle class=d cx=1520.9 cy=1211.0 r=8 /><circle class=a cx=1520.1 cy=1119.3 r=8 /><circle class=b cx=1520.1 cy=1091.0 r=8 /><circle class=c cx=1520.1 cy=1063.1 r=8 /><circle class=d cx=1520.1 cy=1208.4 r=8 />
<circle class=a cx=1519.4 cy=1116.6 r=8 /><circle class=b cx=1519.4 cy=1087.9 r=8 /><circle class=c cx=1519.4 cy=1060.3 r=8 /><circle class=d cx=1519.4 cy=1205.7 r=8 /><circle class=a cx=1518.6 cy=1113.9 r=8 /><circle class=b cx=1518.6 cy=1084.7 r=8 />
<circle class=c cx=1518.6 cy=1057.4 r=8 /><circle class=d cx=1518.6 cy=1202.9 r=8 /><circle class=a cx=1517.8 cy=1111.1 r=8 /><circle class=b cx=1517.8 cy=1081.5 r=8 /><circle class=c cx=1517.8 cy=1054.3 r=8 /><circle class=d cx=1517.8 cy=1199.8 r=8 />
<circle class=a cx=1517.0 cy=1108.1 r=8 /><circle class=b cx=1517.0 cy=1078.3 r=8 /><circle class=c cx=1517.0 cy=1051.2 r=8 /><circle class=d cx=1517.0 cy=1196.7 r=8 /><circle class=a cx=1516.2 cy=1105.2 r=8 /><circle class=b cx=1516.2 cy=1075.0 r=8 />
<circle class=c cx=1516.2 cy=1047.9 r=8 /><circle class=d cx=1516.2 cy=1193.4 r=8 /><circle class=a cx=1515.5 cy=1102.1 r=8 /><circle class=b cx=1515.5 cy=1071.7 r=8 /><circle class=c cx=1515.5 cy=1044.6 r=8 /><circle class=d cx=1515.5 cy=1190.0 r=8 />
<circle class=a cx=1514.7 cy=1099.0 r=8 /><circle class=b cx=1514.7 cy=1068.4 r=8 /><circle class=c cx=1514.7 cy=1041.2 r=8 /><circle class=d cx=1514.7 cy=1186.5 r=8 /><circle class=a cx=1513.9 cy=1095.8 r=8 /><circle class=b cx=1513.9 cy=1065.0 r=8 />
<circle class=c cx=1513.9 cy=1037.7 r=8 /><circle class=d cx=1513.9 cy=1182.9 r=8 /><circle class=a cx=1513.1 cy=1092.5 r=8 /><circle class=b cx=1513.1 cy=1061.5 r=8 /><circle class=c cx=1513.1 cy=1034.1 r=8 /><circle class=d cx=1513.1 cy=1179.2 r=8 />
<circle class=a cx=1512.4 cy=1089.2 r=8 /><circle class=b cx=1512.4 cy=1057.9 r=8 /><circle class=c cx=1512.4 cy=1030.6 r=8 /><circle class=d cx=1512.4 cy=1175.5 r=8 /><circle class=a cx=1511.6 cy=1085.9 r=8 /><circle class=b cx=1511.6 cy=1054.1 r=8 />
<circle class=c cx=1511.6 cy=1027.0 r=8 /><circle class=d cx=1511.6 cy=1171.7 r=8 /><circle class=a cx=1510.8 cy=1082.5 r=8 /><circle class=b cx=1510.8 cy=1050.3 r=8 /><circle class=c cx=1510.8 cy=1023.3 r=8 /><circle class=d cx=1510.8 cy=1167.9 r=8 />
<circle class=a cx=1510.0 cy=1079.0 r=8 /><circle class=b cx=1510.0 cy=1046.4 r=8 /><circle class=c cx=1510.0 cy=1019.7 r=8 /><circle class=d cx=1510.0 cy=1164.0 r=8 /><circle class=a cx=1509.3 cy=1075.5 r=8 /><circle class=b cx=1509.3 cy=1042.3 r=8 />
<circle class=c cx=1509.3 cy=1016.0 r=8 /><circle class=d cx=1509.3 cy=1160.2 r=8 /><circle class=a cx=1508.5 cy=1072.0 r=8 /><circle class=b cx=1508.5 cy=1038.3 r=8 /><circle class=c cx=1508.5 cy=1012.4 r=8 /><circle class=d cx=1508.5 cy=1156.3 r=8 />
<circle class=a cx=1507.7 cy=1068.5 r=8 /><circle class=b cx=1507.7 cy=1034.1 r=8 /><circle class=c cx=1507.7 cy=1008.8 r=8 /><circle class=d cx=1507.7 cy=1152.5 r=8 /><circle class=a cx=1506.9 cy=1064.9 r=8 /><circle class=b cx=1506.9 cy=1030.0 r=8 />
<circle class=c cx=1506.9 cy=1005.2 r=8 /><circle class=d cx=1506.9 cy=1148.7 r=8 /><circle class=a cx=1506.2 cy=1061.2 r=8 /><circle class=b cx=1506.2 cy=1025.7 r=8 /><circle class=c cx=1506.2 cy=1001.7 r=8 /><circle class=d cx=1506.2 cy=1144.9 r=8 />
<circle class=a cx=1505.4 cy=1057.5 r=8 /><circle class=b cx=1505.4 cy=1021.5 r=8 /><circle class=c cx=1505.4 cy=998.2 r=8 /><circle class=d cx=1505.4 cy=1141.1 r=8 /><circle class=a cx=1504.6 cy=1053.7 r=8 /><circle class=b cx=1504.6 cy=1017.2 r=8 />
<circle class=c cx=1504.6 cy=994.8 r=8 /><circle class=d cx=1504.6 cy=1137.3 r=8 /><circle class=a cx=1503.8 cy=1049.9 r=8 /><circle class=b cx=1503.8 cy=1013.0 r=8 /><circle class=c cx=1503.8 cy=991.5 r=8 /><circle class=d cx=1503.8 cy=1133.4 r=8 />
<circle class=a cx=1503.0 cy=1045.9 r=8 /><circle class=b cx=1503.0 cy=1008.7 r=8 /><circle class=c cx=1503.0 cy=988.2 r=8 /><circle class=d cx=1503.0 cy=1129.5 r=8 /><circle class=a cx=1502.3 cy=1041.9 r=8 /><circle class=b cx=1502.3 cy=1004.5 r=8 />
<circle class=c cx=1502.3 cy=985.1 r=8 /><circle class=d cx=1502.3 cy=1125.6 r=8 /><circle class=a cx=1501.5 cy=1037.9 r=8 /><circle class=b cx=1501.5 cy=1000.3 r=8 /><circle class=c cx=1501.5 cy=982.0 r=8 /><circle class=d cx=1501.5 cy=1121.7 r=8 />
<circle class=a cx=1500.7 cy=1033.7 r=8 /><circle class=b cx=1500.7 cy=996.1 r=8 /><circle class=c cx=1500.7 cy=979.1 r=8 /><circle class=d cx=1500.7 cy=1117.7 r=8 /><circle class=a cx=1499.9 cy=1029.6 r=8 /><circle class=b cx=1499.9 cy=991.9 r=8 />
<circle class=c cx=1499.9 cy=976.2 r=8 /><circle class=d cx=1499.9 cy=1113.6 r=8 /><circle class=a cx=1499.2 cy=1025.3 r=8 /><circle class=b cx=1499.2 cy=987.7 r=8 /><circle class=c cx=1499.2 cy=973.4 r=8 /><circle class=d cx=1499.2 cy=1109.5 r=8 />
<circle class=a cx=1498.4 cy=1021.0 r=8 /><circle class=b cx=1498.4 cy=983.6 r=8 /><circle class=c cx=1498.4 cy=970.6 r=8 /><circle class=d cx=1498.4 cy=1105.4 r=8 /><circle class=a cx=1497.6 cy=1016.7 r=8 /><circle class=b cx=1497.6 cy=979.4 r=8 />
<circle class=c cx=1497.6 cy=967.8 r=8 /><circle class=d cx=1497.6 cy=1101.1 r=8 /><circle class=a cx=1496.8 cy=1012.3 r=8 /><circle class=b cx=1496.8 cy=975.1 r=8 /><circle class=c cx=1496.8 cy=965.1 r=8 /><circle class=d cx=1496.8 cy=1096.8 r=8 />
<circle class=a cx=1496.1 cy=1007.9 r=8 /><circle class=b cx=1496.1 cy=970.8 r=8 /><circle class=c cx=1496.1 cy=962.4 r=8 /><circle class=d cx=1496.1 cy=1092.4 r=8 /><circle class=a cx=1495.3 cy=1003.4 r=8 /><circle class=b cx=1495.3 cy=966.4 r=8 />
<circle class=c cx=1495.3 cy=959.7 r=8 /><circle class=d cx=1495.3 cy=1088.0 r=8 /><circle class=a cx=1494.5 cy=998.9 r=8 /><circle class=b cx=1494.5 cy=961.9 r=8 /><circle class=c cx=1494.5 cy=956.9 r=8 /><circle class=d cx=1494.5 cy=1083.4 r=8 />
<circle class=a cx=1493.7 cy=994.3 r=8 /><circle class=b cx=1493.7 cy=957.3 r=8 /><circle class=c cx=1493.7 cy=954.1 r=8 /><circle class=d cx=1493.7 cy=1078.8 r=8 /><circle class=a cx=1493.0 cy=989.7 r=8 /><circle class=b cx=1493.0 cy=952.6 r=8 />
<circle class=c cx=1493.0 cy=951.3 r=8 /><circle class=d cx=1493.0 cy=1074.0 r=8 /><circle class=a cx=1492.2 cy=985.1 r=8 /><circle class=b cx=1492.2 cy=947.7 r=8 /><circle class=c cx=1492.2 cy=948.5 r=8 /><circle class=d cx=1492.2 cy=1069.1 r=8 />
<circle class=a cx=1491.4 cy=980.4 r=8 /><circle class=b cx=1491.4 cy=942.7 r=8 /><circle class=c cx=1491.4 cy=945.5 r=8 /><circle class=d cx=1491.4 cy=1064.1 r=8 /><circle class=a cx=1490.6 cy=975.9 r=8 /><circle class=b cx=1490.6 cy=937.4 r=8 />
<circle class=c cx=1490.6 cy=942.5 r=8 /><circle class=d cx=1490.6 cy=1058.8 r=8 /><circle class=a cx=1489.8 cy=971.5 r=8 /><circle class=b cx=1489.8 cy=931.9 r=8 /><circle class=c cx=1489.8 cy=939.4 r=8 /><circle class=d cx=1489.8 cy=1053.3 r=8 />
<circle class=a cx=1489.1 cy=967.1 r=8 /><circle class=b cx=1489.1 cy=926.1 r=8 /><circle class=c cx=1489.1 cy=936.2 r=8 /><circle class=d cx=1489.1 cy=1047.6 r=8 /><circle class=a cx=1488.3 cy=962.6 r=8 /><circle class=b cx=1488.3 cy=920.0 r=8 />
<circle class=c cx=1488.3 cy=933.1 r=8 /><circle class=d cx=1488.3 cy=1041.8 r=8 /><circle class=a cx=1487.5 cy=957.9 r=8 /><circle class=b cx=1487.5 cy=913.8 r=8 /><circle class=c cx=1487.5 cy=930.0 r=8 /><circle class=d cx=1487.5 cy=1035.8 r=8 />
<circle class=a cx=1486.7 cy=953.0 r=8 /><circle class=b cx=1486.7 cy=907.4 r=8 /><circle class=c cx=1486.7 cy=926.8 r=8 /><circle class=d cx=1486.7 cy=1029.7 r=8 /><circle class=a cx=1486.0 cy=947.8 r=8 /><circle class=b cx=1486.0 cy=901.0 r=8 />
<circle class=c cx=1486.0 cy=923.5 r=8 /><circle class=d cx=1486.0 cy=1023.5 r=8 /><circle class=a cx=1485.2 cy=942.2 r=8 /><circle class=b cx=1485.2 cy=894.6 r=8 /><circle class=c cx=1485.2 cy=920.2 r=8 /><circle class=d cx=1485.2 cy=1017.2 r=8 />
<circle class=a cx=1484.4 cy=936.2 r=8 /><circle class=b cx=1484.4 cy=888.3 r=8 /><circle class=c cx=1484.4 cy=916.8 r=8 /><circle class=d cx=1484.4 cy=1011.0 r=8 /><circle class=a cx=1483.6 cy=929.7 r=8 /><circle class=b cx=1483.6 cy=882.1 r=8 />
<circle class=c cx=1483.6 cy=913.3 r=8 /><circle class=d cx=1483.6 cy=1004.7 r=8 /><circle class=a cx=1482.9 cy=922.6 r=8 /><circle class=b cx=1482.9 cy=875.7 r=8 /><circle class=c cx=1482.9 cy=909.7 r=8 /><circle class=d cx=1482.9 cy=998.5 r=8 />
<circle class=a cx=1482.1 cy=913.1 r=8 /><circle class=b cx=1482.1 cy=869.3 r=8 /><circle class=c cx=1482.1 cy=906.0 r=8 /><circle class=d cx=1482.1 cy=992.4 r=8 /><circle class=a cx=1481.3 cy=901.5 r=8 /><circle class=b cx=1481.3 cy=862.9 r=8 />
<circle class=c cx=1481.3 cy=902.0 r=8 /><circle class=d cx=1481.3 cy=986.3 r=8 /><circle class=a cx=1480.5 cy=888.9 r=8 /><circle class=b cx=1480.5 cy=856.5 r=8 /><circle class=c cx=1480.5 cy=897.9 r=8 /><circle class=d cx=1480.5 cy=980.3 r=8 />
<circle class=a cx=1479.8 cy=876.6 r=8 /><circle class=b cx=1479.8 cy=850.0 r=8 /><circle class=c cx=1479.8 cy=893.6 r=8 /><circle class=d cx=1479.8 cy=974.0 r=8 /><circle class=a cx=1479.0 cy=866.0 r=8 /><circle class=b cx=1479.0 cy=843.7 r=8 />
<circle class=c cx=1479.0 cy=888.7 r=8 /><circle class=d cx=1479.0 cy=967.5 r=8 /><circle class=a cx=1478.2 cy=858.3 r=8 /><circle class=b cx=1478.2 cy=837.4 r=8 /><circle class=c cx=1478.2 cy=883.2 r=8 /><circle class=d cx=1478.2 cy=960.8 r=8 />
<circle class=a cx=1477.4 cy=852.0 r=8 /><circle class=b cx=1477.4 cy=831.3 r=8 /><circle class=c cx=1477.4 cy=877.4 r=8 /><circle class=d cx=1477.4 cy=954.1 r=8 /><circle class=a cx=1476.6 cy=846.3 r=8 /><circle class=b cx=1476.6 cy=825.3 r=8 />
<circle class=c cx=1476.6 cy=871.3 r=8 /><circle class=d cx=1476.6 cy=947.5 r=8 /><circle class=a cx=1475.9 cy=841.2 r=8 /><circle class=b cx=1475.9 cy=819.5 r=8 /><circle class=c cx=1475.9 cy=865.2 r=8 /><circle class=d cx=1475.9 cy=941.0 r=8 />
<circle class=a cx=1475.1 cy=836.5 r=8 /><circle class=b cx=1475.1 cy=813.9 r=8 /><circle class=c cx=1475.1 cy=859.2 r=8 /><circle class=d cx=1475.1 cy=934.8 r=8 /><circle class=a cx=1474.3 cy=832.1 r=8 /><circle class=b cx=1474.3 cy=808.4 r=8 />
<circle class=c cx=1474.3 cy=853.5 r=8 /><circle class=d cx=1474.3 cy=929.0 r=8 /><circle class=a cx=1473.5 cy=827.9 r=8 /><circle class=b cx=1473.5 cy=803.0 r=8 /><circle class=c cx=1473.5 cy=848.3 r=8 /><circle class=d cx=1473.5 cy=923.7 r=8 />
<circle class=a cx=1472.8 cy=823.9 r=8 /><circle class=b cx=1472.8 cy=797.5 r=8 /><circle class=c cx=1472.8 cy=843.6 r=8 /><circle class=d cx=1472.8 cy=919.0 r=8 /><circle class=a cx=1472.0 cy=819.9 r=8 /><circle class=b cx=1472.0 cy=791.9 r=8 />
<circle class=c cx=1472.0 cy=838.5 r=8 /><circle class=d cx=1472.0 cy=914.9 r=8 /><circle class=a cx=1471.2 cy=815.5 r=8 /><circle class=b cx=1471.2 cy=786.2 r=8 /><circle class=c cx=1471.2 cy=833.5 r=8 /><circle class=d cx=1471.2 cy=911.1 r=8 />
<circle class=a cx=1470.4 cy=810.9 r=8 /><circle class=b cx=1470.4 cy=780.3 r=8 /><circle class=c cx=1470.4 cy=829.7 r=8 /><circle class=d cx=1470.4 cy=907.3 r=8 /><circle class=a cx=1469.7 cy=806.6 r=8 /><circle class=b cx=1469.7 cy=773.9 r=8 />
<circle class=c cx=1469.7 cy=828.0 r=8 /><circle class=d cx=1469.7 cy=903.7 r=8 /><circle class=a cx=1468.9 cy=803.5 r=8 /><circle class=b cx=1468.9 cy=767.0 r=8 /><circle class=c cx=1468.9 cy=828.8 r=8 /><circle class=d cx=1468.9 cy=900.6 r=8 />
<circle class=a cx=1468.1 cy=802.0 r=8 /><circle class=b cx=1468.1 cy=760.3 r=8 /><circle class=c cx=1468.1 cy=831.3 r=8 /><circle class=d cx=1468.1 cy=898.3 r=8 /><circle class=a cx=1467.3 cy=802.6 r=8 /><circle class=b cx=1467.3 cy=754.2 r=8 />
<circle class=c cx=1467.3 cy=834.8 r=8 /><circle class=d cx=1467.3 cy=897.1 r=8 /><circle class=a cx=1466.6 cy=804.4 r=8 /><circle class=b cx=1466.6 cy=748.9 r=8 /><circle class=c cx=1466.6 cy=838.9 r=8 /><circle class=d cx=1466.6 cy=897.1 r=8 />
<circle class=a cx=1465.8 cy=807.1 r=8 /><circle class=b cx=1465.8 cy=743.4 r=8 /><circle class=c cx=1465.8 cy=843.3 r=8 /><circle class=d cx=1465.8 cy=897.7 r=8 /><circle class=a cx=1465.0 cy=810.4 r=8 /><circle class=b cx=1465.0 cy=738.7 r=8 />
<circle class=c cx=1465.0 cy=849.3 r=8 /><circle class=d cx=1465.0 cy=898.7 r=8 /><circle class=a cx=1464.2 cy=814.0 r=8 /><circle class=b cx=1464.2 cy=736.2 r=8 /><circle class=c cx=1464.2 cy=856.9 r=8 /><circle class=d cx=1464.2 cy=900.0 r=8 />
<circle class=a cx=1463.4 cy=817.8 r=8 /><circle class=b cx=1463.4 cy=737.2 r=8 /><circle class=c cx=1463.4 cy=865.2 r=8 /><circle class=d cx=1463.4 cy=901.6 r=8 /><circle class=a cx=1462.7 cy=822.7 r=8 /><circle class=b cx=1462.7 cy=742.5 r=8 />
<circle class=c cx=1462.7 cy=873.5 r=8 /><circle class=d cx=1462.7 cy=903.4 r=8 /><circle class=a cx=1461.9 cy=828.5 r=8 /><circle class=b cx=1461.9 cy=750.7 r=8 /><circle class=c cx=1461.9 cy=881.0 r=8 /><circle class=d cx=1461.9 cy=905.3 r=8 />
<circle class=a cx=1461.1 cy=835.0 r=8 /><circle class=b cx=1461.1 cy=760.5 r=8 /><circle class=c cx=1461.1 cy=888.5 r=8 /><circle class=d cx=1461.1 cy=907.8 r=8 /><circle class=a cx=1460.3 cy=841.9 r=8 /><circle class=b cx=1460.3 cy=770.7 r=8 />
<circle class=c cx=1460.3 cy=896.2 r=8 /><circle class=d cx=1460.3 cy=911.1 r=8 /><circle class=a cx=1459.6 cy=849.1 r=8 /><circle class=b cx=1459.6 cy=780.6 r=8 /><circle class=c cx=1459.6 cy=903.6 r=8 /><circle class=d cx=1459.6 cy=915.0 r=8 />
<circle class=a cx=1458.8 cy=857.1 r=8 /><circle class=b cx=1458.8 cy=791.7 r=8 /><circle class=c cx=1458.8 cy=910.1 r=8 /><circle class=d cx=1458.8 cy=919.4 r=8 /><circle class=a cx=1458.0 cy=866.2 r=8 /><circle class=b cx=1458.0 cy=804.5 r=8 />
<circle class=c cx=1458.0 cy=914.9 r=8 /><circle class=d cx=1458.0 cy=924.0 r=8 /><circle class=a cx=1457.2 cy=876.6 r=8 /><circle class=b cx=1457.2 cy=819.6 r=8 /><circle class=c cx=1457.2 cy=918.9 r=8 /><circle class=d cx=1457.2 cy=928.6 r=8 />
<circle class=a cx=1456.5 cy=888.6 r=8 /><circle class=b cx=1456.5 cy=838.4 r=8 /><circle class=c cx=1456.5 cy=922.6 r=8 /><circle class=d cx=1456.5 cy=933.3 r=8 /><circle class=a cx=1455.7 cy=903.3 r=8 /><circle class=b cx=1455.7 cy=858.2 r=8 />
<circle class=c cx=1455.7 cy=925.9 r=8 /><circle class=d cx=1455.7 cy=938.3 r=8 /><circle class=a cx=1454.9 cy=923.0 r=8 /><circle class=b cx=1454.9 cy=879.2 r=8 /><circle class=c cx=1454.9 cy=928.3 r=8 /><circle class=d cx=1454.9 cy=943.7 r=8 />
<circle class=a cx=1454.1 cy=956.0 r=8 /><circle class=b cx=1454.1 cy=899.0 r=8 /><circle class=c cx=1454.1 cy=929.8 r=8 /><circle class=d cx=1454.1 cy=949.3 r=8 /><circle class=a cx=1453.4 cy=977.0 r=8 /><circle class=b cx=1453.4 cy=920.7 r=8 />
<circle class=c cx=1453.4 cy=930.0 r=8 /><circle class=d cx=1453.4 cy=955.1 r=8 /><circle class=a cx=1452.6 cy=992.7 r=8 /><circle class=b cx=1452.6 cy=935.6 r=8 /><circle class=c cx=1452.6 cy=929.9 r=8 /><circle class=d cx=1452.6 cy=960.8 r=8 />
<circle class=a cx=1451.8 cy=997.0 r=8 /><circle class=b cx=1451.8 cy=936.7 r=8 /><circle class=c cx=1451.8 cy=929.8 r=8 /><circle class=d cx=1451.8 cy=966.5 r=8 /><circle class=a cx=1451.0 cy=996.2 r=8 /><circle class=b cx=1451.0 cy=935.2 r=8 />
<circle class=c cx=1451.0 cy=929.6 r=8 /><circle class=d cx=1451.0 cy=972.8 r=8 /><circle class=a cx=1450.2 cy=994.5 r=8 /><circle class=b cx=1450.2 cy=932.8 r=8 /><circle class=c cx=1450.2 cy=929.3 r=8 /><circle class=d cx=1450.2 cy=979.4 r=8 />
<circle class=a cx=1449.5 cy=992.4 r=8 /><circle class=b cx=1449.5 cy=929.9 r=8 /><circle class=c cx=1449.5 cy=929.0 r=8 /><circle class=d cx=1449.5 cy=985.7 r=8 /><circle class=a cx=1448.7 cy=990.0 r=8 /><circle class=b cx=1448.7 cy=926.6 r=8 />
<circle class=c cx=1448.7 cy=928.6 r=8 /><circle class=d cx=1448.7 cy=991.2 r=8 /><circle class=a cx=1447.9 cy=987.8 r=8 /><circle class=b cx=1447.9 cy=921.6 r=8 /><circle class=c cx=1447.9 cy=928.2 r=8 /><circle class=d cx=1447.9 cy=995.4 r=8 />
<circle class=a cx=1447.1 cy=985.4 r=8 /><circle class=b cx=1447.1 cy=915.0 r=8 /><circle class=c cx=1447.1 cy=927.8 r=8 /><circle class=d cx=1447.1 cy=998.8 r=8 /><circle class=a cx=1446.4 cy=982.8 r=8 /><circle class=b cx=1446.4 cy=907.7 r=8 />
<circle class=c cx=1446.4 cy=927.2 r=8 /><circle class=d cx=1446.4 cy=1002.1 r=8 /><circle class=a cx=1445.6 cy=980.0 r=8 /><circle class=b cx=1445.6 cy=900.3 r=8 /><circle class=c cx=1445.6 cy=926.7 r=8 /><circle class=d cx=1445.6 cy=1004.7 r=8 />
<circle class=a cx=1444.8 cy=977.0 r=8 /><circle class=b cx=1444.8 cy=893.4 r=8 /><circle class=c cx=1444.8 cy=925.7 r=8 /><circle class=d cx=1444.8 cy=1006.4 r=8 /><circle class=a cx=1444.0 cy=973.8 r=8 /><circle class=b cx=1444.0 cy=886.6 r=8 />
<circle class=c cx=1444.0 cy=924.3 r=8 /><circle class=d cx=1444.0 cy=1006.5 r=8 /><circle class=a cx=1443.3 cy=970.5 r=8 /><circle class=b cx=1443.3 cy=879.8 r=8 /><circle class=c cx=1443.3 cy=922.6 r=8 /><circle class=d cx=1443.3 cy=1004.4 r=8 />
<circle class=a cx=1442.5 cy=967.1 r=8 /><circle class=b cx=1442.5 cy=872.9 r=8 /><circle class=c cx=1442.5 cy=920.5 r=8 /><circle class=d cx=1442.5 cy=1000.3 r=8 /><circle class=a cx=1441.7 cy=963.7 r=8 /><circle class=b cx=1441.7 cy=865.8 r=8 />
<circle class=c cx=1441.7 cy=918.2 r=8 /><circle class=d cx=1441.7 cy=994.8 r=8 /><circle class=a cx=1440.9 cy=960.6 r=8 /><circle class=b cx=1440.9 cy=858.7 r=8 /><circle class=c cx=1440.9 cy=915.5 r=8 /><circle class=d cx=1440.9 cy=988.6 r=8 />
<circle class=a cx=1440.2 cy=957.6 r=8 /><circle class=b cx=1440.2 cy=851.4 r=8 /><circle class=c cx=1440.2 cy=912.6 r=8 /><circle class=d cx=1440.2 cy=981.7 r=8 /><circle class=a cx=1439.4 cy=954.4 r=8 /><circle class=b cx=1439.4 cy=844.1 r=8 />
<circle class=c cx=1439.4 cy=909.0 r=8 /><circle class=d cx=1439.4 cy=972.3 r=8 /><circle class=a cx=1438.6 cy=950.9 r=8 /><circle class=b cx=1438.6 cy=836.8 r=8 /><circle class=c cx=1438.6 cy=904.1 r=8 /><circle class=d cx=1438.6 cy=960.4 r=8 />
<circle class=a cx=1437.8 cy=946.7 r=8 /><circle class=b cx=1437.8 cy=829.5 r=8 /><circle class=c cx=1437.8 cy=897.8 r=8 /><circle class=d cx=1437.8 cy=946.6 r=8 /><circle class=a cx=1437.0 cy=941.7 r=8 /><circle class=b cx=1437.0 cy=822.1 r=8 />
<circle class=c cx=1437.0 cy=890.6 r=8 /><circle class=d cx=1437.0 cy=928.9 r=8 /><circle class=a cx=1436.3 cy=935.5 r=8 /><circle class=b cx=1436.3 cy=814.5 r=8 /><circle class=c cx=1436.3 cy=882.4 r=8 /><circle class=d cx=1436.3 cy=907.8 r=8 />
<circle class=a cx=1435.5 cy=925.5 r=8 /><circle class=b cx=1435.5 cy=806.5 r=8 /><circle class=c cx=1435.5 cy=871.9 r=8 /><circle class=d cx=1435.5 cy=883.9 r=8 /><circle class=a cx=1434.7 cy=907.6 r=8 /><circle class=b cx=1434.7 cy=798.1 r=8 />
<circle class=c cx=1434.7 cy=858.8 r=8 /><circle class=d cx=1434.7 cy=856.0 r=8 /><circle class=a cx=1433.9 cy=888.6 r=8 /><circle class=b cx=1433.9 cy=789.3 r=8 /><circle class=c cx=1433.9 cy=843.7 r=8 /><circle class=d cx=1433.9 cy=827.8 r=8 />
<circle class=a cx=1433.2 cy=871.3 r=8 /><circle class=b cx=1433.2 cy=779.4 r=8 /><circle class=c cx=1433.2 cy=824.1 r=8 /><circle class=d cx=1433.2 cy=797.5 r=8 /><circle class=a cx=1432.4 cy=853.4 r=8 /><circle class=b cx=1432.4 cy=768.5 r=8 />
<circle class=c cx=1432.4 cy=801.2 r=8 /><circle class=d cx=1432.4 cy=769.6 r=8 /><circle class=a cx=1431.6 cy=833.3 r=8 /><circle class=b cx=1431.6 cy=757.2 r=8 /><circle class=c cx=1431.6 cy=776.8 r=8 /><circle class=d cx=1431.6 cy=752.4 r=8 />
<circle class=a cx=1430.8 cy=809.5 r=8 /><circle class=b cx=1430.8 cy=746.1 r=8 /><circle class=c cx=1430.8 cy=750.8 r=8 /><circle class=d cx=1430.8 cy=739.2 r=8 /><circle class=a cx=1430.1 cy=790.9 r=8 /><circle class=b cx=1430.1 cy=735.7 r=8 />
<circle class=c cx=1430.1 cy=747.7 r=8 /><circle class=d cx=1430.1 cy=733.0 r=8 /><circle class=a cx=1429.3 cy=779.4 r=8 /><circle class=b cx=1429.3 cy=726.1 r=8 /><circle class=c cx=1429.3 cy=751.6 r=8 /><circle class=d cx=1429.3 cy=734.5 r=8 />
<circle class=a cx=1428.5 cy=769.4 r=8 /><circle class=b cx=1428.5 cy=716.9 r=8 /><circle class=c cx=1428.5 cy=758.0 r=8 /><circle class=d cx=1428.5 cy=738.8 r=8 /><circle class=a cx=1427.7 cy=762.4 r=8 /><circle class=b cx=1427.7 cy=708.0 r=8 />
<circle class=c cx=1427.7 cy=765.5 r=8 /><circle class=d cx=1427.7 cy=744.5 r=8 /><circle class=a cx=1427.0 cy=760.0 r=8 /><circle class=b cx=1427.0 cy=699.5 r=8 /><circle class=c cx=1427.0 cy=772.9 r=8 /><circle class=d cx=1427.0 cy=750.4 r=8 />
<circle class=a cx=1426.2 cy=760.6 r=8 /><circle class=b cx=1426.2 cy=689.7 r=8 /><circle class=c cx=1426.2 cy=779.0 r=8 /><circle class=d cx=1426.2 cy=757.3 r=8 /><circle class=a cx=1425.4 cy=762.1 r=8 /><circle class=b cx=1425.4 cy=679.9 r=8 />
<circle class=c cx=1425.4 cy=783.5 r=8 /><circle class=d cx=1425.4 cy=765.6 r=8 /><circle class=a cx=1424.6 cy=764.3 r=8 /><circle class=b cx=1424.6 cy=673.7 r=8 /><circle class=c cx=1424.6 cy=788.2 r=8 /><circle class=d cx=1424.6 cy=774.1 r=8 />
<circle class=a cx=1423.8 cy=766.9 r=8 /><circle class=b cx=1423.8 cy=675.0 r=8 /><circle class=c cx=1423.8 cy=792.6 r=8 /><circle class=d cx=1423.8 cy=781.4 r=8 /><circle class=a cx=1423.1 cy=769.7 r=8 /><circle class=b cx=1423.1 cy=685.3 r=8 />
<circle class=c cx=1423.1 cy=796.4 r=8 /><circle class=d cx=1423.1 cy=788.8 r=8 /><circle class=a cx=1422.3 cy=773.5 r=8 /><circle class=b cx=1422.3 cy=700.2 r=8 /><circle class=c cx=1422.3 cy=799.0 r=8 /><circle class=d cx=1422.3 cy=796.5 r=8 />
<circle class=a cx=1421.5 cy=778.7 r=8 /><circle class=b cx=1421.5 cy=714.8 r=8 /><circle class=c cx=1421.5 cy=800.0 r=8 /><circle class=d cx=1421.5 cy=803.5 r=8 /><circle class=a cx=1420.7 cy=785.0 r=8 /><circle class=b cx=1420.7 cy=729.0 r=8 />
<circle class=c cx=1420.7 cy=799.6 r=8 /><circle class=d cx=1420.7 cy=808.9 r=8 /><circle class=a cx=1420.0 cy=791.8 r=8 /><circle class=b cx=1420.0 cy=744.4 r=8 /><circle class=c cx=1420.0 cy=798.3 r=8 /><circle class=d cx=1420.0 cy=811.8 r=8 />
<circle class=a cx=1419.2 cy=798.5 r=8 /><circle class=b cx=1419.2 cy=757.5 r=8 /><circle class=c cx=1419.2 cy=796.5 r=8 /><circle class=d cx=1419.2 cy=811.8 r=8 /><circle class=a cx=1418.4 cy=805.5 r=8 /><circle class=b cx=1418.4 cy=767.6 r=8 />
<circle class=c cx=1418.4 cy=794.1 r=8 /><circle class=d cx=1418.4 cy=811.1 r=8 /><circle class=a cx=1417.6 cy=814.3 r=8 /><circle class=b cx=1417.6 cy=777.2 r=8 /><circle class=c cx=1417.6 cy=791.3 r=8 /><circle class=d cx=1417.6 cy=809.8 r=8 />
<circle class=a cx=1416.9 cy=823.1 r=8 /><circle class=b cx=1416.9 cy=784.6 r=8 /><circle class=c cx=1416.9 cy=788.3 r=8 /><circle class=d cx=1416.9 cy=808.0 r=8 /><circle class=a cx=1416.1 cy=830.5 r=8 /><circle class=b cx=1416.1 cy=788.0 r=8 />
<circle class=c cx=1416.1 cy=785.3 r=8 /><circle class=d cx=1416.1 cy=806.0 r=8 /><circle class=a cx=1415.3 cy=834.6 r=8 /><circle class=b cx=1415.3 cy=786.5 r=8 /><circle class=c cx=1415.3 cy=781.9 r=8 /><circle class=d cx=1415.3 cy=803.9 r=8 />
<circle class=a cx=1414.5 cy=834.9 r=8 /><circle class=b cx=1414.5 cy=781.7 r=8 /><circle class=c cx=1414.5 cy=777.7 r=8 /><circle class=d cx=1414.5 cy=801.5 r=8 /><circle class=a cx=1413.7 cy=834.1 r=8 /><circle class=b cx=1413.7 cy=774.6 r=8 />
<circle class=c cx=1413.7 cy=772.8 r=8 /><circle class=d cx=1413.7 cy=798.4 r=8 /><circle class=a cx=1413.0 cy=832.6 r=8 /><circle class=b cx=1413.0 cy=766.2 r=8 /><circle class=c cx=1413.0 cy=767.3 r=8 /><circle class=d cx=1413.0 cy=794.5 r=8 />
<circle class=a cx=1412.2 cy=830.0 r=8 /><circle class=b cx=1412.2 cy=757.2 r=8 /><circle class=c cx=1412.2 cy=761.5 r=8 /><circle class=d cx=1412.2 cy=790.0 r=8 /><circle class=a cx=1411.4 cy=809.0 r=8 /><circle class=b cx=1411.4 cy=745.9 r=8 />
<circle class=c cx=1411.4 cy=755.3 r=8 /><circle class=d cx=1411.4 cy=784.9 r=8 /><circle class=a cx=1410.6 cy=792.0 r=8 /><circle class=b cx=1410.6 cy=729.0 r=8 /><circle class=c cx=1410.6 cy=748.1 r=8 /><circle class=d cx=1410.6 cy=779.4 r=8 />
<circle class=a cx=1409.9 cy=773.0 r=8 /><circle class=b cx=1409.9 cy=713.1 r=8 /><circle class=c cx=1409.9 cy=740.1 r=8 /><circle class=d cx=1409.9 cy=772.9 r=8 /><circle class=a cx=1409.1 cy=751.0 r=8 /><circle class=b cx=1409.1 cy=705.1 r=8 />
<circle class=c cx=1409.1 cy=729.9 r=8 /><circle class=d cx=1409.1 cy=764.9 r=8 /><circle class=a cx=1408.3 cy=725.0 r=8 /><circle class=b cx=1408.3 cy=723.1 r=8 /><circle class=c cx=1408.3 cy=717.7 r=8 /><circle class=d cx=1408.3 cy=754.8 r=8 />
<circle class=a cx=1407.5 cy=700.0 r=8 /><circle class=b cx=1407.5 cy=745.0 r=8 /><circle class=c cx=1407.5 cy=736.0 r=8 /><circle class=d cx=1407.5 cy=737.4 r=8 /><circle class=a cx=1406.8 cy=655.0 r=8 /><circle class=b cx=1406.8 cy=720.0 r=8 />
<circle class=c cx=1406.8 cy=716.0 r=8 /><circle class=d cx=1406.8 cy=712.6 r=8 /><circle class=a cx=1406.0 cy=610.0 r=8 /><circle class=b cx=1406.0 cy=690.0 r=8 /><circle class=c cx=1406.0 cy=696.0 r=8 /><circle class=d cx=1406.0 cy=710.0 r=8 />
<circle class=a cx=1405.2 cy=560.0 r=8 /><circle class=b cx=1405.2 cy=655.0 r=8 /><circle class=c cx=1405.2 cy=674.0 r=8 /><circle class=d cx=1405.2 cy=710.0 r=8 /><circle class=a cx=1404.4 cy=510.0 r=8 /><circle class=b cx=1404.4 cy=615.0 r=8 />
<circle class=c cx=1404.4 cy=648.0 r=8 /><circle class=d cx=1404.4 cy=675.0 r=8 /><circle class=a cx=1403.7 cy=455.0 r=8 /><circle class=b cx=1403.7 cy=565.0 r=8 /><circle class=c cx=1403.7 cy=618.0 r=8 /><circle class=d cx=1403.7 cy=635.0 r=8 />
<circle class=a cx=1402.9 cy=400.0 r=8 /><circle class=b cx=1402.9 cy=510.0 r=8 /><circle class=c cx=1402.9 cy=586.0 r=8 /><circle class=d cx=1402.9 cy=590.0 r=8 /><circle class=a cx=1402.1 cy=342.0 r=8 /><circle class=b cx=1402.1 cy=450.0 r=8 />
<circle class=c cx=1402.1 cy=558.0 r=8 /><circle class=d cx=1402.1 cy=540.0 r=8 /><circle class=a cx=1401.3 cy=326.0 r=8 /><circle class=b cx=1401.3 cy=393.0 r=8 /><circle class=c cx=1401.3 cy=530.0 r=8 /><circle class=d cx=1401.3 cy=485.0 r=8 />
<circle class=a cx=1400.5 cy=310.0 r=8 /><circle class=b cx=1400.5 cy=328.0 r=8 /><circle class=c cx=1400.5 cy=500.0 r=8 /><circle class=d cx=1400.5 cy=430.0 r=8 /><circle class=a cx=1399.8 cy=278.7 r=8 /><circle class=b cx=1399.8 cy=262.7 r=8 />
<circle class=c cx=1399.8 cy=472.7 r=8 /><circle class=d cx=1399.8 cy=370.7 r=8 /><circle class=a cx=1399.0 cy=255.0 r=8 /><circle class=b cx=1399.0 cy=198.0 r=8 /><circle class=c cx=1399.0 cy=454.0 r=8 /><circle class=d cx=1399.0 cy=311.0 r=8 />
<circle class=a cx=1398.2 cy=232.0 r=8 /><circle class=b cx=1398.2 cy=141.6 r=8 /><circle class=c cx=1398.2 cy=443.3 r=8 /><circle class=d cx=1398.2 cy=250.0 r=8 /><circle class=a cx=1397.4 cy=200.0 r=8 /><circle class=b cx=1397.4 cy=110.0 r=8 />
<circle class=c cx=1397.4 cy=409.7 r=8 /><circle class=d cx=1397.4 cy=188.0 r=8 /><circle class=a cx=1396.7 cy=166.7 r=8 /><circle class=b cx=1396.7 cy=84.5 r=8 /><circle class=c cx=1396.7 cy=398.5 r=8 /><circle class=d cx=1396.7 cy=213.0 r=8 />
<circle class=a cx=1395.9 cy=158.7 r=8 /><circle class=b cx=1395.9 cy=82.0 r=8 /><circle class=c cx=1395.9 cy=414.2 r=8 /><circle class=d cx=1395.9 cy=256.0 r=8 /><circle class=a cx=1395.1 cy=178.7 r=8 /><circle class=b cx=1395.1 cy=96.7 r=8 />
<circle class=c cx=1395.1 cy=445.4 r=8 /><circle class=d cx=1395.1 cy=294.0 r=8 /><circle class=a cx=1394.3 cy=196.0 r=8 /><circle class=b cx=1394.3 cy=141.6 r=8 /><circle class=c cx=1394.3 cy=462.0 r=8 /><circle class=d cx=1394.3 cy=335.0 r=8 />
<circle class=a cx=1393.6 cy=257.3 r=8 /><circle class=b cx=1393.6 cy=186.0 r=8 /><circle class=c cx=1393.6 cy=497.4 r=8 /><circle class=d cx=1393.6 cy=375.0 r=8 /><circle class=a cx=1392.8 cy=301.3 r=8 /><circle class=b cx=1392.8 cy=227.0 r=8 />
<circle class=c cx=1392.8 cy=537.9 r=8 /><circle class=d cx=1392.8 cy=415.0 r=8 /><circle class=a cx=1392.0 cy=320.0 r=8 /><circle class=b cx=1392.0 cy=275.0 r=8 /><circle class=c cx=1392.0 cy=562.9 r=8 /><circle class=d cx=1392.0 cy=450.0 r=8 />
<circle class=a cx=1391.2 cy=339.3 r=8 /><circle class=b cx=1391.2 cy=319.0 r=8 /><circle class=c cx=1391.2 cy=586.9 r=8 /><circle class=d cx=1391.2 cy=485.0 r=8 /><circle class=a cx=1390.5 cy=377.3 r=8 /><circle class=b cx=1390.5 cy=361.0 r=8 />
<circle class=c cx=1390.5 cy=610.0 r=8 /><circle class=d cx=1390.5 cy=515.0 r=8 /><circle class=a cx=1389.7 cy=420.0 r=8 /><circle class=b cx=1389.7 cy=398.9 r=8 /><circle class=c cx=1389.7 cy=614.3 r=8 /><circle class=d cx=1389.7 cy=537.6 r=8 />
<circle class=a cx=1388.9 cy=443.6 r=8 /><circle class=b cx=1388.9 cy=430.8 r=8 /><circle class=c cx=1388.9 cy=634.9 r=8 /><circle class=d cx=1388.9 cy=536.3 r=8 /><circle class=a cx=1388.1 cy=483.4 r=8 /><circle class=b cx=1388.1 cy=466.8 r=8 />
<circle class=c cx=1388.1 cy=640.7 r=8 /><circle class=d cx=1388.1 cy=556.3 r=8 /><circle class=a cx=1387.3 cy=496.9 r=8 /><circle class=b cx=1387.3 cy=474.9 r=8 /><circle class=c cx=1387.3 cy=652.4 r=8 /><circle class=d cx=1387.3 cy=554.2 r=8 />
<circle class=a cx=1386.6 cy=520.5 r=8 /><circle class=b cx=1386.6 cy=493.7 r=8 /><circle class=c cx=1386.6 cy=648.8 r=8 /><circle class=d cx=1386.6 cy=555.8 r=8 /><circle class=a cx=1385.8 cy=535.8 r=8 /><circle class=b cx=1385.8 cy=498.7 r=8 />
<circle class=c cx=1385.8 cy=668.4 r=8 /><circle class=d cx=1385.8 cy=565.3 r=8 /><circle class=a cx=1385.0 cy=535.4 r=8 /><circle class=b cx=1385.0 cy=511.3 r=8 /><circle class=c cx=1385.0 cy=645.3 r=8 /><circle class=d cx=1385.0 cy=561.1 r=8 />
<circle class=a cx=1384.2 cy=547.7 r=8 /><circle class=b cx=1384.2 cy=514.5 r=8 /><circle class=c cx=1384.2 cy=651.9 r=8 /><circle class=d cx=1384.2 cy=565.4 r=8 /><circle class=a cx=1383.5 cy=555.5 r=8 /><circle class=b cx=1383.5 cy=521.7 r=8 />
<circle class=c cx=1383.5 cy=649.2 r=8 /><circle class=d cx=1383.5 cy=567.4 r=8 /><circle class=a cx=1382.7 cy=567.5 r=8 /><circle class=b cx=1382.7 cy=525.3 r=8 /><circle class=c cx=1382.7 cy=639.9 r=8 /><circle class=d cx=1382.7 cy=563.9 r=8 />
<circle class=a cx=1381.9 cy=566.3 r=8 /><circle class=b cx=1381.9 cy=506.3 r=8 /><circle class=c cx=1381.9 cy=652.1 r=8 /><circle class=d cx=1381.9 cy=586.2 r=8 /><circle class=a cx=1381.1 cy=553.9 r=8 /><circle class=b cx=1381.1 cy=514.5 r=8 />
<circle class=c cx=1381.1 cy=623.1 r=8 /><circle class=d cx=1381.1 cy=570.2 r=8 /><circle class=a cx=1380.4 cy=562.2 r=8 /><circle class=b cx=1380.4 cy=490.4 r=8 /><circle class=c cx=1380.4 cy=614.8 r=8 /><circle class=d cx=1380.4 cy=568.7 r=8 />
<circle class=a cx=1379.6 cy=561.5 r=8 /><circle class=b cx=1379.6 cy=480.0 r=8 /><circle class=c cx=1379.6 cy=597.1 r=8 /><circle class=d cx=1379.6 cy=575.5 r=8 /><circle class=a cx=1378.8 cy=567.0 r=8 /><circle class=b cx=1378.8 cy=481.6 r=8 />
<circle class=c cx=1378.8 cy=595.1 r=8 /><circle class=d cx=1378.8 cy=549.9 r=8 /><circle class=a cx=1378.0 cy=540.4 r=8 /><circle class=b cx=1378.0 cy=470.5 r=8 /><circle class=c cx=1378.0 cy=576.9 r=8 /><circle class=d cx=1378.0 cy=566.0 r=8 />
<circle class=a cx=1377.3 cy=541.2 r=8 /><circle class=b cx=1377.3 cy=457.7 r=8 /><circle class=c cx=1377.3 cy=557.1 r=8 /><circle class=d cx=1377.3 cy=562.1 r=8 /><circle class=a cx=1376.5 cy=543.0 r=8 /><circle class=b cx=1376.5 cy=420.1 r=8 />
<circle class=c cx=1376.5 cy=547.8 r=8 /><circle class=d cx=1376.5 cy=544.1 r=8 /><circle class=a cx=1375.7 cy=496.9 r=8 /><circle class=b cx=1375.7 cy=399.6 r=8 /><circle class=c cx=1375.7 cy=529.0 r=8 /><circle class=d cx=1375.7 cy=532.7 r=8 />
<circle class=a cx=1374.9 cy=457.8 r=8 /><circle class=b cx=1374.9 cy=366.0 r=8 /><circle class=c cx=1374.9 cy=501.7 r=8 /><circle class=d cx=1374.9 cy=492.8 r=8 /><circle class=a cx=1374.1 cy=423.1 r=8 /><circle class=b cx=1374.1 cy=330.0 r=8 />
<circle class=c cx=1374.1 cy=479.3 r=8 /><circle class=d cx=1374.1 cy=474.9 r=8 /><circle class=a cx=1373.4 cy=370.0 r=8 /><circle class=b cx=1373.4 cy=290.0 r=8 /><circle class=c cx=1373.4 cy=471.9 r=8 /><circle class=d cx=1373.4 cy=445.2 r=8 />
<circle class=a cx=1372.6 cy=317.0 r=8 /><circle class=b cx=1372.6 cy=251.5 r=8 /><circle class=c cx=1372.6 cy=450.7 r=8 /><circle class=d cx=1372.6 cy=400.0 r=8 /><circle class=a cx=1371.8 cy=275.3 r=8 /><circle class=b cx=1371.8 cy=249.0 r=8 />
<circle class=c cx=1371.8 cy=454.6 r=8 /><circle class=d cx=1371.8 cy=358.7 r=8 /><circle class=a cx=1371.0 cy=269.3 r=8 /><circle class=b cx=1371.0 cy=212.0 r=8 /><circle class=c cx=1371.0 cy=466.3 r=8 /><circle class=d cx=1371.0 cy=341.3 r=8 />
<circle class=a cx=1370.3 cy=300.7 r=8 /><circle class=b cx=1370.3 cy=224.0 r=8 /><circle class=c cx=1370.3 cy=483.7 r=8 /><circle class=d cx=1370.3 cy=378.7 r=8 /><circle class=a cx=1369.5 cy=329.3 r=8 /><circle class=b cx=1369.5 cy=284.7 r=8 />
<circle class=c cx=1369.5 cy=489.0 r=8 /><circle class=d cx=1369.5 cy=413.0 r=8 /><circle class=a cx=1368.7 cy=356.0 r=8 /><circle class=b cx=1368.7 cy=323.3 r=8 /><circle class=c cx=1368.7 cy=500.0 r=8 /><circle class=d cx=1368.7 cy=447.0 r=8 />
<circle class=a cx=1367.9 cy=391.0 r=8 /><circle class=b cx=1367.9 cy=362.7 r=8 /><circle class=c cx=1367.9 cy=509.2 r=8 /><circle class=d cx=1367.9 cy=477.0 r=8 /><circle class=a cx=1367.2 cy=424.0 r=8 /><circle class=b cx=1367.2 cy=400.0 r=8 />
<circle class=c cx=1367.2 cy=518.1 r=8 /><circle class=d cx=1367.2 cy=507.0 r=8 /><circle class=a cx=1366.4 cy=457.0 r=8 /><circle class=b cx=1366.4 cy=436.0 r=8 /><circle class=c cx=1366.4 cy=527.9 r=8 /><circle class=d cx=1366.4 cy=536.0 r=8 />
<circle class=a cx=1365.6 cy=488.0 r=8 /><circle class=b cx=1365.6 cy=468.0 r=8 /><circle class=c cx=1365.6 cy=538.3 r=8 /><circle class=d cx=1365.6 cy=565.0 r=8 /><circle class=a cx=1364.8 cy=517.0 r=8 /><circle class=b cx=1364.8 cy=497.0 r=8 />
<circle class=c cx=1364.8 cy=549.3 r=8 /><circle class=d cx=1364.8 cy=592.0 r=8 /><circle class=a cx=1364.1 cy=545.0 r=8 /><circle class=b cx=1364.1 cy=525.0 r=8 /><circle class=c cx=1364.1 cy=560.3 r=8 /><circle class=d cx=1364.1 cy=620.0 r=8 />
<circle class=a cx=1363.3 cy=572.0 r=8 /><circle class=b cx=1363.3 cy=551.0 r=8 /><circle class=c cx=1363.3 cy=571.3 r=8 /><circle class=d cx=1363.3 cy=611.8 r=8 /><circle class=a cx=1362.5 cy=600.0 r=8 /><circle class=b cx=1362.5 cy=575.0 r=8 />
<circle class=c cx=1362.5 cy=581.8 r=8 /><circle class=d cx=1362.5 cy=596.9 r=8 /><circle class=a cx=1361.7 cy=600.0 r=8 /><circle class=b cx=1361.7 cy=585.6 r=8 /><circle class=c cx=1361.7 cy=591.6 r=8 /><circle class=d cx=1361.7 cy=590.0 r=8 />
<circle class=a cx=1360.9 cy=600.7 r=8 /><circle class=b cx=1360.9 cy=592.8 r=8 /><circle class=c cx=1360.9 cy=600.6 r=8 /><circle class=d cx=1360.9 cy=594.4 r=8 /><circle class=a cx=1360.2 cy=606.0 r=8 /><circle class=b cx=1360.2 cy=598.7 r=8 />
<circle class=c cx=1360.2 cy=608.7 r=8 /><circle class=d cx=1360.2 cy=604.3 r=8 /><circle class=a cx=1359.4 cy=615.4 r=8 /><circle class=b cx=1359.4 cy=604.4 r=8 /><circle class=c cx=1359.4 cy=616.2 r=8 /><circle class=d cx=1359.4 cy=617.6 r=8 />
<circle class=a cx=1358.6 cy=626.9 r=8 /><circle class=b cx=1358.6 cy=609.4 r=8 /><circle class=c cx=1358.6 cy=623.4 r=8 /><circle class=d cx=1358.6 cy=632.0 r=8 /><circle class=a cx=1357.8 cy=638.8 r=8 /><circle class=b cx=1357.8 cy=613.9 r=8 />
<circle class=c cx=1357.8 cy=630.2 r=8 /><circle class=d cx=1357.8 cy=645.2 r=8 /><circle class=a cx=1357.1 cy=649.2 r=8 /><circle class=b cx=1357.1 cy=618.3 r=8 /><circle class=c cx=1357.1 cy=636.9 r=8 /><circle class=d cx=1357.1 cy=655.5 r=8 />
<circle class=a cx=1356.3 cy=657.8 r=8 /><circle class=b cx=1356.3 cy=623.1 r=8 /><circle class=c cx=1356.3 cy=643.6 r=8 /><circle class=d cx=1356.3 cy=664.5 r=8 /><circle class=a cx=1355.5 cy=665.9 r=8 /><circle class=b cx=1355.5 cy=628.2 r=8 />
<circle class=c cx=1355.5 cy=650.4 r=8 /><circle class=d cx=1355.5 cy=673.2 r=8 /><circle class=a cx=1354.7 cy=673.9 r=8 /><circle class=b cx=1354.7 cy=633.2 r=8 /><circle class=c cx=1354.7 cy=657.4 r=8 /><circle class=d cx=1354.7 cy=682.0 r=8 />
<circle class=a cx=1354.0 cy=682.2 r=8 /><circle class=b cx=1354.0 cy=638.2 r=8 /><circle class=c cx=1354.0 cy=664.3 r=8 /><circle class=d cx=1354.0 cy=691.5 r=8 /><circle class=a cx=1353.2 cy=691.2 r=8 /><circle class=b cx=1353.2 cy=643.5 r=8 />
<circle class=c cx=1353.2 cy=671.2 r=8 /><circle class=d cx=1353.2 cy=702.2 r=8 /><circle class=a cx=1352.4 cy=701.3 r=8 /><circle class=b cx=1352.4 cy=649.4 r=8 /><circle class=c cx=1352.4 cy=678.1 r=8 /><circle class=d cx=1352.4 cy=715.6 r=8 />
<circle class=a cx=1351.6 cy=713.0 r=8 /><circle class=b cx=1351.6 cy=656.4 r=8 /><circle class=c cx=1351.6 cy=685.0 r=8 /><circle class=d cx=1351.6 cy=732.3 r=8 /><circle class=a cx=1350.9 cy=726.1 r=8 /><circle class=b cx=1350.9 cy=664.8 r=8 />
<circle class=c cx=1350.9 cy=692.0 r=8 /><circle class=d cx=1350.9 cy=750.2 r=8 /><circle class=a cx=1350.1 cy=740.3 r=8 /><circle class=b cx=1350.1 cy=677.0 r=8 /><circle class=c cx=1350.1 cy=699.3 r=8 /><circle class=d cx=1350.1 cy=766.6 r=8 />
<circle class=a cx=1349.3 cy=755.0 r=8 /><circle class=b cx=1349.3 cy=692.6 r=8 /><circle class=c cx=1349.3 cy=706.8 r=8 /><circle class=d cx=1349.3 cy=779.5 r=8 /><circle class=a cx=1348.5 cy=770.0 r=8 /><circle class=b cx=1348.5 cy=709.3 r=8 />
<circle class=c cx=1348.5 cy=714.6 r=8 /><circle class=d cx=1348.5 cy=789.5 r=8 /><circle class=a cx=1347.7 cy=784.8 r=8 /><circle class=b cx=1347.7 cy=725.0 r=8 /><circle class=c cx=1347.7 cy=722.5 r=8 /><circle class=d cx=1347.7 cy=799.4 r=8 />
<circle class=a cx=1347.0 cy=799.9 r=8 /><circle class=b cx=1347.0 cy=740.4 r=8 /><circle class=c cx=1347.0 cy=730.4 r=8 /><circle class=d cx=1347.0 cy=810.4 r=8 /><circle class=a cx=1346.2 cy=815.8 r=8 /><circle class=b cx=1346.2 cy=756.0 r=8 />
<circle class=c cx=1346.2 cy=738.1 r=8 /><circle class=d cx=1346.2 cy=821.8 r=8 /><circle class=a cx=1345.4 cy=833.4 r=8 /><circle class=b cx=1345.4 cy=771.6 r=8 /><circle class=c cx=1345.4 cy=745.6 r=8 /><circle class=d cx=1345.4 cy=833.6 r=8 />
<circle class=a cx=1344.6 cy=852.7 r=8 /><circle class=b cx=1344.6 cy=787.2 r=8 /><circle class=c cx=1344.6 cy=752.9 r=8 /><circle class=d cx=1344.6 cy=845.6 r=8 /><circle class=a cx=1343.9 cy=871.7 r=8 /><circle class=b cx=1343.9 cy=802.7 r=8 />
<circle class=c cx=1343.9 cy=760.2 r=8 /><circle class=d cx=1343.9 cy=857.9 r=8 /><circle class=a cx=1343.1 cy=888.7 r=8 /><circle class=b cx=1343.1 cy=818.2 r=8 /><circle class=c cx=1343.1 cy=767.4 r=8 /><circle class=d cx=1343.1 cy=870.5 r=8 />
<circle class=a cx=1342.3 cy=904.1 r=8 /><circle class=b cx=1342.3 cy=833.8 r=8 /><circle class=c cx=1342.3 cy=774.8 r=8 /><circle class=d cx=1342.3 cy=883.2 r=8 /><circle class=a cx=1341.5 cy=919.3 r=8 /><circle class=b cx=1341.5 cy=849.3 r=8 />
<circle class=c cx=1341.5 cy=782.7 r=8 /><circle class=d cx=1341.5 cy=896.1 r=8 /><circle class=a cx=1340.8 cy=935.3 r=8 /><circle class=b cx=1340.8 cy=864.8 r=8 /><circle class=c cx=1340.8 cy=790.7 r=8 /><circle class=d cx=1340.8 cy=909.2 r=8 />
<circle class=a cx=1340.0 cy=951.2 r=8 /><circle class=b cx=1340.0 cy=880.3 r=8 /><circle class=c cx=1340.0 cy=798.3 r=8 /><circle class=d cx=1340.0 cy=922.1 r=8 /><circle class=a cx=1339.2 cy=964.9 r=8 /><circle class=b cx=1339.2 cy=895.9 r=8 />
<circle class=c cx=1339.2 cy=805.1 r=8 /><circle class=d cx=1339.2 cy=934.6 r=8 /><circle class=a cx=1338.4 cy=976.9 r=8 /><circle class=b cx=1338.4 cy=912.3 r=8 /><circle class=c cx=1338.4 cy=810.8 r=8 /><circle class=d cx=1338.4 cy=947.1 r=8 />
<circle class=a cx=1337.7 cy=987.9 r=8 /><circle class=b cx=1337.7 cy=929.8 r=8 /><circle class=c cx=1337.7 cy=815.9 r=8 /><circle class=d cx=1337.7 cy=958.5 r=8 /><circle class=a cx=1336.9 cy=998.4 r=8 /><circle class=b cx=1336.9 cy=944.2 r=8 />
<circle class=c cx=1336.9 cy=820.6 r=8 /><circle class=d cx=1336.9 cy=967.9 r=8 /><circle class=a cx=1336.1 cy=1008.9 r=8 /><circle class=b cx=1336.1 cy=953.7 r=8 /><circle class=c cx=1336.1 cy=825.0 r=8 /><circle class=d cx=1336.1 cy=976.3 r=8 />
<circle class=a cx=1335.3 cy=1018.9 r=8 /><circle class=b cx=1335.3 cy=960.9 r=8 /><circle class=c cx=1335.3 cy=829.3 r=8 /><circle class=d cx=1335.3 cy=983.8 r=8 /><circle class=a cx=1334.5 cy=1027.6 r=8 /><circle class=b cx=1334.5 cy=967.0 r=8 />
<circle class=c cx=1334.5 cy=833.4 r=8 /><circle class=d cx=1334.5 cy=990.6 r=8 /><circle class=a cx=1333.8 cy=1034.6 r=8 /><circle class=b cx=1333.8 cy=973.1 r=8 /><circle class=c cx=1333.8 cy=837.5 r=8 /><circle class=d cx=1333.8 cy=996.9 r=8 />
<circle class=a cx=1333.0 cy=1040.8 r=8 /><circle class=b cx=1333.0 cy=980.1 r=8 /><circle class=c cx=1333.0 cy=841.7 r=8 /><circle class=d cx=1333.0 cy=1002.8 r=8 /><circle class=a cx=1332.2 cy=1046.4 r=8 /><circle class=b cx=1332.2 cy=988.5 r=8 />
<circle class=c cx=1332.2 cy=845.8 r=8 /><circle class=d cx=1332.2 cy=1008.4 r=8 /><circle class=a cx=1331.4 cy=1051.5 r=8 /><circle class=b cx=1331.4 cy=997.7 r=8 /><circle class=c cx=1331.4 cy=850.0 r=8 /><circle class=d cx=1331.4 cy=1013.7 r=8 />
<circle class=a cx=1330.7 cy=1056.2 r=8 /><circle class=b cx=1330.7 cy=1006.6 r=8 /><circle class=c cx=1330.7 cy=854.1 r=8 /><circle class=d cx=1330.7 cy=1018.6 r=8 /><circle class=a cx=1329.9 cy=1060.8 r=8 /><circle class=b cx=1329.9 cy=1014.0 r=8 />
<circle class=c cx=1329.9 cy=858.1 r=8 /><circle class=d cx=1329.9 cy=1023.2 r=8 /><circle class=a cx=1329.1 cy=1065.2 r=8 /><circle class=b cx=1329.1 cy=1020.5 r=8 /><circle class=c cx=1329.1 cy=862.0 r=8 /><circle class=d cx=1329.1 cy=1027.4 r=8 />
<circle class=a cx=1328.3 cy=1069.7 r=8 /><circle class=b cx=1328.3 cy=1026.8 r=8 /><circle class=c cx=1328.3 cy=865.8 r=8 /><circle class=d cx=1328.3 cy=1031.3 r=8 /><circle class=a cx=1327.6 cy=1074.2 r=8 /><circle class=b cx=1327.6 cy=1032.6 r=8 />
<circle class=c cx=1327.6 cy=869.4 r=8 /><circle class=d cx=1327.6 cy=1035.0 r=8 /><circle class=a cx=1326.8 cy=1078.5 r=8 /><circle class=b cx=1326.8 cy=1037.9 r=8 /><circle class=c cx=1326.8 cy=872.9 r=8 /><circle class=d cx=1326.8 cy=1038.4 r=8 />
<circle class=a cx=1326.0 cy=1082.6 r=8 /><circle class=b cx=1326.0 cy=1042.4 r=8 /><circle class=c cx=1326.0 cy=876.4 r=8 /><circle class=d cx=1326.0 cy=1041.8 r=8 /><circle class=a cx=1325.2 cy=1086.5 r=8 /><circle class=b cx=1325.2 cy=1045.9 r=8 />
<circle class=c cx=1325.2 cy=879.9 r=8 /><circle class=d cx=1325.2 cy=1045.0 r=8 /><circle class=a cx=1324.5 cy=1090.0 r=8 /><circle class=b cx=1324.5 cy=1048.4 r=8 /><circle class=c cx=1324.5 cy=883.2 r=8 /><circle class=d cx=1324.5 cy=1048.0 r=8 />
<circle class=a cx=1323.7 cy=1093.0 r=8 /><circle class=b cx=1323.7 cy=1050.5 r=8 /><circle class=c cx=1323.7 cy=886.2 r=8 /><circle class=d cx=1323.7 cy=1050.9 r=8 /><circle class=a cx=1322.9 cy=1095.6 r=8 /><circle class=b cx=1322.9 cy=1052.3 r=8 />
<circle class=c cx=1322.9 cy=888.9 r=8 /><circle class=d cx=1322.9 cy=1053.7 r=8 /><circle class=a cx=1322.1 cy=1097.6 r=8 /><circle class=b cx=1322.1 cy=1053.9 r=8 /><circle class=c cx=1322.1 cy=891.0 r=8 /><circle class=d cx=1322.1 cy=1056.3 r=8 />
<circle class=a cx=1321.3 cy=1099.4 r=8 /><circle class=b cx=1321.3 cy=1055.4 r=8 /><circle class=c cx=1321.3 cy=892.9 r=8 /><circle class=d cx=1321.3 cy=1058.9 r=8 /><circle class=a cx=1320.6 cy=1101.0 r=8 /><circle class=b cx=1320.6 cy=1056.8 r=8 />
<circle class=c cx=1320.6 cy=894.7 r=8 /><circle class=d cx=1320.6 cy=1061.3 r=8 /><circle class=a cx=1319.8 cy=1102.5 r=8 /><circle class=b cx=1319.8 cy=1058.4 r=8 /><circle class=c cx=1319.8 cy=896.4 r=8 /><circle class=d cx=1319.8 cy=1063.6 r=8 />
<circle class=a cx=1319.0 cy=1103.8 r=8 /><circle class=b cx=1319.0 cy=1060.2 r=8 /><circle class=c cx=1319.0 cy=897.9 r=8 /><circle class=d cx=1319.0 cy=1065.8 r=8 /><circle class=a cx=1318.2 cy=1105.0 r=8 /><circle class=b cx=1318.2 cy=1061.9 r=8 />
<circle class=c cx=1318.2 cy=899.3 r=8 /><circle class=d cx=1318.2 cy=1067.9 r=8 /><circle class=a cx=1317.5 cy=1106.1 r=8 /><circle class=b cx=1317.5 cy=1063.4 r=8 /><circle class=c cx=1317.5 cy=900.6 r=8 /><circle class=d cx=1317.5 cy=1069.9 r=8 />
<circle class=a cx=1316.7 cy=1107.1 r=8 /><circle class=b cx=1316.7 cy=1064.3 r=8 /><circle class=c cx=1316.7 cy=901.8 r=8 /><circle class=d cx=1316.7 cy=1071.6 r=8 /><circle class=a cx=1315.9 cy=1108.1 r=8 /><circle class=b cx=1315.9 cy=1065.2 r=8 />
<circle class=c cx=1315.9 cy=902.9 r=8 /><circle class=d cx=1315.9 cy=1073.2 r=8 /><circle class=a cx=1315.1 cy=1109.1 r=8 /><circle class=b cx=1315.1 cy=1065.9 r=8 /><circle class=c cx=1315.1 cy=903.8 r=8 /><circle class=d cx=1315.1 cy=1074.7 r=8 />
<circle class=a cx=1314.4 cy=1110.2 r=8 /><circle class=b cx=1314.4 cy=1066.5 r=8 /><circle class=c cx=1314.4 cy=904.7 r=8 /><circle class=d cx=1314.4 cy=1076.3 r=8 /><circle class=a cx=1313.6 cy=1111.3 r=8 /><circle class=b cx=1313.6 cy=1066.9 r=8 />
<circle class=c cx=1313.6 cy=905.6 r=8 /><circle class=d cx=1313.6 cy=1077.7 r=8 /><circle class=a cx=1312.8 cy=1112.2 r=8 /><circle class=b cx=1312.8 cy=1067.0 r=8 /><circle class=c cx=1312.8 cy=906.5 r=8 /><circle class=d cx=1312.8 cy=1078.8 r=8 />
<circle class=a cx=1312.0 cy=1113.2 r=8 /><circle class=b cx=1312.0 cy=1066.4 r=8 /><circle class=c cx=1312.0 cy=907.3 r=8 /><circle class=d cx=1312.0 cy=1079.4 r=8 /><circle class=a cx=1311.3 cy=1113.9 r=8 /><circle class=b cx=1311.3 cy=1065.2 r=8 />
<circle class=c cx=1311.3 cy=908.1 r=8 /><circle class=d cx=1311.3 cy=1079.5 r=8 /><circle class=a cx=1310.5 cy=1114.5 r=8 /><circle class=b cx=1310.5 cy=1063.6 r=8 /><circle class=c cx=1310.5 cy=908.7 r=8 /><circle class=d cx=1310.5 cy=1079.4 r=8 />
<circle class=a cx=1309.7 cy=1114.9 r=8 /><circle class=b cx=1309.7 cy=1061.8 r=8 /><circle class=c cx=1309.7 cy=909.1 r=8 /><circle class=d cx=1309.7 cy=1079.3 r=8 /><circle class=a cx=1308.9 cy=1115.0 r=8 /><circle class=b cx=1308.9 cy=1059.8 r=8 />
<circle class=c cx=1308.9 cy=909.4 r=8 /><circle class=d cx=1308.9 cy=1079.1 r=8 /><circle class=a cx=1308.1 cy=1114.7 r=8 /><circle class=b cx=1308.1 cy=1057.3 r=8 /><circle class=c cx=1308.1 cy=909.5 r=8 /><circle class=d cx=1308.1 cy=1078.9 r=8 />
<circle class=a cx=1307.4 cy=1114.0 r=8 /><circle class=b cx=1307.4 cy=1054.0 r=8 /><circle class=c cx=1307.4 cy=909.3 r=8 /><circle class=d cx=1307.4 cy=1078.6 r=8 /><circle class=a cx=1306.6 cy=1112.9 r=8 /><circle class=b cx=1306.6 cy=1050.4 r=8 />
<circle class=c cx=1306.6 cy=908.9 r=8 /><circle class=d cx=1306.6 cy=1078.3 r=8 /><circle class=a cx=1305.8 cy=1111.6 r=8 /><circle class=b cx=1305.8 cy=1046.8 r=8 /><circle class=c cx=1305.8 cy=908.2 r=8 /><circle class=d cx=1305.8 cy=1077.9 r=8 />
<circle class=a cx=1305.0 cy=1110.0 r=8 /><circle class=b cx=1305.0 cy=1043.3 r=8 /><circle class=c cx=1305.0 cy=907.4 r=8 /><circle class=d cx=1305.0 cy=1077.3 r=8 /><circle class=a cx=1304.3 cy=1108.1 r=8 /><circle class=b cx=1304.3 cy=1039.6 r=8 />
<circle class=c cx=1304.3 cy=906.4 r=8 /><circle class=d cx=1304.3 cy=1076.4 r=8 /><circle class=a cx=1303.5 cy=1106.2 r=8 /><circle class=b cx=1303.5 cy=1035.9 r=8 /><circle class=c cx=1303.5 cy=905.3 r=8 /><circle class=d cx=1303.5 cy=1075.2 r=8 />
<circle class=a cx=1302.7 cy=1104.2 r=8 /><circle class=b cx=1302.7 cy=1032.0 r=8 /><circle class=c cx=1302.7 cy=904.1 r=8 /><circle class=d cx=1302.7 cy=1073.8 r=8 /><circle class=a cx=1301.9 cy=1101.5 r=8 /><circle class=b cx=1301.9 cy=1028.2 r=8 />
<circle class=c cx=1301.9 cy=903.0 r=8 /><circle class=d cx=1301.9 cy=1072.2 r=8 /><circle class=a cx=1301.2 cy=1097.9 r=8 /><circle class=b cx=1301.2 cy=1024.2 r=8 /><circle class=c cx=1301.2 cy=901.4 r=8 /><circle class=d cx=1301.2 cy=1070.4 r=8 />
<circle class=a cx=1300.4 cy=1093.9 r=8 /><circle class=b cx=1300.4 cy=1020.2 r=8 /><circle class=c cx=1300.4 cy=899.4 r=8 /><circle class=d cx=1300.4 cy=1068.3 r=8 /><circle class=a cx=1299.6 cy=1089.4 r=8 /><circle class=b cx=1299.6 cy=1016.2 r=8 />
<circle class=c cx=1299.6 cy=897.1 r=8 /><circle class=d cx=1299.6 cy=1065.6 r=8 /><circle class=a cx=1298.8 cy=1085.0 r=8 /><circle class=b cx=1298.8 cy=1012.2 r=8 /><circle class=c cx=1298.8 cy=894.7 r=8 /><circle class=d cx=1298.8 cy=1062.3 r=8 />
<circle class=a cx=1298.1 cy=1080.4 r=8 /><circle class=b cx=1298.1 cy=1008.1 r=8 /><circle class=c cx=1298.1 cy=892.1 r=8 /><circle class=d cx=1298.1 cy=1058.5 r=8 /><circle class=a cx=1297.3 cy=1076.0 r=8 /><circle class=b cx=1297.3 cy=1004.1 r=8 />
<circle class=c cx=1297.3 cy=889.6 r=8 /><circle class=d cx=1297.3 cy=1054.4 r=8 /><circle class=a cx=1296.5 cy=1071.2 r=8 /><circle class=b cx=1296.5 cy=999.7 r=8 /><circle class=c cx=1296.5 cy=886.6 r=8 /><circle class=d cx=1296.5 cy=1049.8 r=8 />
<circle class=a cx=1295.7 cy=1066.2 r=8 /><circle class=b cx=1295.7 cy=995.4 r=8 /><circle class=c cx=1295.7 cy=883.5 r=8 /><circle class=d cx=1295.7 cy=1044.9 r=8 /><circle class=a cx=1294.9 cy=1061.1 r=8 /><circle class=b cx=1294.9 cy=991.1 r=8 />
<circle class=c cx=1294.9 cy=880.4 r=8 /><circle class=d cx=1294.9 cy=1038.9 r=8 /><circle class=a cx=1294.2 cy=1055.6 r=8 /><circle class=b cx=1294.2 cy=986.7 r=8 /><circle class=c cx=1294.2 cy=877.2 r=8 /><circle class=d cx=1294.2 cy=1031.9 r=8 />
<circle class=a cx=1293.4 cy=1049.8 r=8 /><circle class=b cx=1293.4 cy=982.3 r=8 /><circle class=c cx=1293.4 cy=873.8 r=8 /><circle class=d cx=1293.4 cy=1024.6 r=8 /><circle class=a cx=1292.6 cy=1044.4 r=8 /><circle class=b cx=1292.6 cy=978.5 r=8 />
<circle class=c cx=1292.6 cy=871.5 r=8 /><circle class=d cx=1292.6 cy=1018.4 r=8 /><circle class=a cx=1291.8 cy=1036.1 r=8 /><circle class=b cx=1291.8 cy=972.9 r=8 /><circle class=c cx=1291.8 cy=866.0 r=8 /><circle class=d cx=1291.8 cy=1011.8 r=8 />
<circle class=a cx=1291.1 cy=1028.9 r=8 /><circle class=b cx=1291.1 cy=968.4 r=8 /><circle class=c cx=1291.1 cy=863.0 r=8 /><circle class=d cx=1291.1 cy=1007.3 r=8 /><circle class=a cx=1290.3 cy=1021.3 r=8 /><circle class=b cx=1290.3 cy=963.7 r=8 />
<circle class=c cx=1290.3 cy=859.5 r=8 /><circle class=d cx=1290.3 cy=1002.8 r=8 /><circle class=a cx=1289.5 cy=1013.3 r=8 /><circle class=b cx=1289.5 cy=958.3 r=8 /><circle class=c cx=1289.5 cy=854.6 r=8 /><circle class=d cx=1289.5 cy=997.9 r=8 />
<circle class=a cx=1288.7 cy=1005.9 r=8 /><circle class=b cx=1288.7 cy=953.5 r=8 /><circle class=c cx=1288.7 cy=850.3 r=8 /><circle class=d cx=1288.7 cy=993.7 r=8 /><circle class=a cx=1288.0 cy=999.2 r=8 /><circle class=b cx=1288.0 cy=949.3 r=8 />
<circle class=c cx=1288.0 cy=846.5 r=8 /><circle class=d cx=1288.0 cy=990.1 r=8 /><circle class=a cx=1287.2 cy=994.7 r=8 /><circle class=b cx=1287.2 cy=945.4 r=8 /><circle class=c cx=1287.2 cy=842.7 r=8 /><circle class=d cx=1287.2 cy=986.5 r=8 />
<circle class=a cx=1286.4 cy=990.9 r=8 /><circle class=b cx=1286.4 cy=941.5 r=8 /><circle class=c cx=1286.4 cy=838.9 r=8 /><circle class=d cx=1286.4 cy=982.8 r=8 /><circle class=a cx=1285.6 cy=988.0 r=8 /><circle class=b cx=1285.6 cy=938.0 r=8 />
<circle class=c cx=1285.6 cy=835.4 r=8 /><circle class=d cx=1285.6 cy=979.8 r=8 /><circle class=a cx=1284.9 cy=988.3 r=8 /><circle class=b cx=1284.9 cy=936.8 r=8 /><circle class=c cx=1284.9 cy=835.0 r=8 /><circle class=d cx=1284.9 cy=978.9 r=8 />
<circle class=a cx=1284.1 cy=986.5 r=8 /><circle class=b cx=1284.1 cy=933.5 r=8 /><circle class=c cx=1284.1 cy=830.7 r=8 /><circle class=d cx=1284.1 cy=976.0 r=8 /><circle class=a cx=1283.3 cy=986.9 r=8 /><circle class=b cx=1283.3 cy=932.3 r=8 />
<circle class=c cx=1283.3 cy=829.9 r=8 /><circle class=d cx=1283.3 cy=975.1 r=8 /><circle class=a cx=1282.5 cy=988.4 r=8 /><circle class=b cx=1282.5 cy=932.3 r=8 /><circle class=c cx=1282.5 cy=830.7 r=8 /><circle class=d cx=1282.5 cy=975.4 r=8 />
<circle class=a cx=1281.7 cy=985.5 r=8 /><circle class=b cx=1281.7 cy=929.4 r=8 /><circle class=c cx=1281.7 cy=825.3 r=8 /><circle class=d cx=1281.7 cy=972.4 r=8 /><circle class=a cx=1281.0 cy=985.2 r=8 /><circle class=b cx=1281.0 cy=929.3 r=8 />
<circle class=c cx=1281.0 cy=824.6 r=8 /><circle class=d cx=1281.0 cy=972.0 r=8 /><circle class=a cx=1280.2 cy=985.2 r=8 /><circle class=b cx=1280.2 cy=929.2 r=8 /><circle class=c cx=1280.2 cy=824.1 r=8 /><circle class=d cx=1280.2 cy=971.7 r=8 />
<circle class=a cx=1279.4 cy=985.7 r=8 /><circle class=b cx=1279.4 cy=929.4 r=8 /><circle class=c cx=1279.4 cy=823.9 r=8 /><circle class=d cx=1279.4 cy=971.6 r=8 /><circle class=a cx=1278.6 cy=986.3 r=8 /><circle class=b cx=1278.6 cy=929.6 r=8 />
<circle class=c cx=1278.6 cy=823.6 r=8 /><circle class=d cx=1278.6 cy=971.4 r=8 /><circle class=a cx=1277.9 cy=987.3 r=8 /><circle class=b cx=1277.9 cy=930.3 r=8 /><circle class=c cx=1277.9 cy=824.1 r=8 /><circle class=d cx=1277.9 cy=971.6 r=8 />
<circle class=a cx=1277.1 cy=990.2 r=8 /><circle class=b cx=1277.1 cy=932.7 r=8 /><circle class=c cx=1277.1 cy=827.8 r=8 /><circle class=d cx=1277.1 cy=973.6 r=8 /><circle class=a cx=1276.3 cy=988.2 r=8 /><circle class=b cx=1276.3 cy=931.1 r=8 />
<circle class=c cx=1276.3 cy=823.7 r=8 /><circle class=d cx=1276.3 cy=971.5 r=8 /><circle class=a cx=1275.5 cy=988.2 r=8 /><circle class=b cx=1275.5 cy=931.5 r=8 /><circle class=c cx=1275.5 cy=823.2 r=8 /><circle class=d cx=1275.5 cy=971.3 r=8 />
<circle class=a cx=1274.8 cy=988.9 r=8 /><circle class=b cx=1274.8 cy=932.8 r=8 /><circle class=c cx=1274.8 cy=823.9 r=8 /><circle class=d cx=1274.8 cy=971.8 r=8 /><circle class=a cx=1274.0 cy=988.8 r=8 /><circle class=b cx=1274.0 cy=933.7 r=8 />
<circle class=c cx=1274.0 cy=823.5 r=8 /><circle class=d cx=1274.0 cy=971.5 r=8 /><circle class=a cx=1273.2 cy=989.8 r=8 /><circle class=b cx=1273.2 cy=935.6 r=8 /><circle class=c cx=1273.2 cy=825.0 r=8 /><circle class=d cx=1273.2 cy=972.0 r=8 />
<circle class=a cx=1272.4 cy=987.3 r=8 /><circle class=b cx=1272.4 cy=934.4 r=8 /><circle class=c cx=1272.4 cy=820.8 r=8 /><circle class=d cx=1272.4 cy=969.4 r=8 /><circle class=a cx=1271.7 cy=988.2 r=8 /><circle class=b cx=1271.7 cy=936.0 r=8 />
<circle class=c cx=1271.7 cy=821.9 r=8 /><circle class=d cx=1271.7 cy=969.7 r=8 /><circle class=a cx=1270.9 cy=986.7 r=8 /><circle class=b cx=1270.9 cy=935.3 r=8 /><circle class=c cx=1270.9 cy=819.3 r=8 /><circle class=d cx=1270.9 cy=968.0 r=8 />
<circle class=a cx=1270.1 cy=986.1 r=8 /><circle class=b cx=1270.1 cy=935.1 r=8 /><circle class=c cx=1270.1 cy=818.3 r=8 /><circle class=d cx=1270.1 cy=967.4 r=8 /><circle class=a cx=1269.3 cy=987.8 r=8 /><circle class=b cx=1269.3 cy=936.6 r=8 />
<circle class=c cx=1269.3 cy=821.1 r=8 /><circle class=d cx=1269.3 cy=968.8 r=8 /><circle class=a cx=1268.5 cy=984.6 r=8 /><circle class=b cx=1268.5 cy=933.6 r=8 /><circle class=c cx=1268.5 cy=815.9 r=8 /><circle class=d cx=1268.5 cy=965.8 r=8 />
<circle class=a cx=1267.8 cy=984.7 r=8 /><circle class=b cx=1267.8 cy=933.2 r=8 /><circle class=c cx=1267.8 cy=815.9 r=8 /><circle class=d cx=1267.8 cy=965.7 r=8 /><circle class=a cx=1267.0 cy=984.0 r=8 /><circle class=b cx=1267.0 cy=931.8 r=8 />
<circle class=c cx=1267.0 cy=814.2 r=8 /><circle class=d cx=1267.0 cy=964.6 r=8 /><circle class=a cx=1266.2 cy=985.1 r=8 /><circle class=b cx=1266.2 cy=932.0 r=8 /><circle class=c cx=1266.2 cy=815.1 r=8 /><circle class=d cx=1266.2 cy=964.9 r=8 />
<circle class=a cx=1265.4 cy=985.0 r=8 /><circle class=b cx=1265.4 cy=930.8 r=8 /><circle class=c cx=1265.4 cy=813.5 r=8 /><circle class=d cx=1265.4 cy=964.1 r=8 /><circle class=a cx=1264.7 cy=985.8 r=8 /><circle class=b cx=1264.7 cy=930.1 r=8 />
<circle class=c cx=1264.7 cy=812.7 r=8 /><circle class=d cx=1264.7 cy=963.9 r=8 /><circle class=a cx=1263.9 cy=986.8 r=8 /><circle class=b cx=1263.9 cy=929.5 r=8 /><circle class=c cx=1263.9 cy=812.2 r=8 /><circle class=d cx=1263.9 cy=963.9 r=8 />
<circle class=a cx=1263.1 cy=988.9 r=8 /><circle class=b cx=1263.1 cy=929.8 r=8 /><circle class=c cx=1263.1 cy=813.2 r=8 /><circle class=d cx=1263.1 cy=964.9 r=8 /><circle class=a cx=1262.3 cy=990.2 r=8 /><circle class=b cx=1262.3 cy=929.2 r=8 />
<circle class=c cx=1262.3 cy=812.4 r=8 /><circle class=d cx=1262.3 cy=964.8 r=8 /><circle class=a cx=1261.6 cy=991.6 r=8 /><circle class=b cx=1261.6 cy=928.3 r=8 /><circle class=c cx=1261.6 cy=810.9 r=8 /><circle class=d cx=1261.6 cy=964.3 r=8 />
<circle class=a cx=1260.8 cy=994.3 r=8 /><circle class=b cx=1260.8 cy=928.3 r=8 /><circle class=c cx=1260.8 cy=810.8 r=8 /><circle class=d cx=1260.8 cy=964.6 r=8 /><circle class=a cx=1260.0 cy=997.0 r=8 /><circle class=b cx=1260.0 cy=928.5 r=8 />
<circle class=c cx=1260.0 cy=810.5 r=8 /><circle class=d cx=1260.0 cy=964.7 r=8 /><circle class=a cx=1259.2 cy=999.7 r=8 /><circle class=b cx=1259.2 cy=929.1 r=8 /><circle class=c cx=1259.2 cy=810.1 r=8 /><circle class=d cx=1259.2 cy=964.9 r=8 />
<circle class=a cx=1258.4 cy=1003.3 r=8 /><circle class=b cx=1258.4 cy=930.3 r=8 /><circle class=c cx=1258.4 cy=810.5 r=8 /><circle class=d cx=1258.4 cy=965.6 r=8 /><circle class=a cx=1257.7 cy=1007.0 r=8 /><circle class=b cx=1257.7 cy=931.7 r=8 />
<circle class=c cx=1257.7 cy=810.6 r=8 /><circle class=d cx=1257.7 cy=966.4 r=8 /><circle class=a cx=1256.9 cy=1010.6 r=8 /><circle class=b cx=1256.9 cy=932.9 r=8 /><circle class=c cx=1256.9 cy=810.5 r=8 /><circle class=d cx=1256.9 cy=967.1 r=8 />
<circle class=a cx=1256.1 cy=1015.0 r=8 /><circle class=b cx=1256.1 cy=935.0 r=8 /><circle class=c cx=1256.1 cy=811.7 r=8 /><circle class=d cx=1256.1 cy=968.5 r=8 /><circle class=a cx=1255.3 cy=1019.7 r=8 /><circle class=b cx=1255.3 cy=937.5 r=8 />
<circle class=c cx=1255.3 cy=813.3 r=8 /><circle class=d cx=1255.3 cy=970.3 r=8 /><circle class=a cx=1254.6 cy=1022.9 r=8 /><circle class=b cx=1254.6 cy=939.6 r=8 /><circle class=c cx=1254.6 cy=812.7 r=8 /><circle class=d cx=1254.6 cy=970.9 r=8 />
<circle class=a cx=1253.8 cy=1026.8 r=8 /><circle class=b cx=1253.8 cy=943.1 r=8 /><circle class=c cx=1253.8 cy=813.7 r=8 /><circle class=d cx=1253.8 cy=972.5 r=8 /><circle class=a cx=1253.0 cy=1029.9 r=8 /><circle class=b cx=1253.0 cy=946.6 r=8 />
<circle class=c cx=1253.0 cy=814.0 r=8 /><circle class=d cx=1253.0 cy=974.0 r=8 /><circle class=a cx=1252.2 cy=1033.2 r=8 /><circle class=b cx=1252.2 cy=951.8 r=8 /><circle class=c cx=1252.2 cy=815.3 r=8 /><circle class=d cx=1252.2 cy=976.3 r=8 />
<circle class=a cx=1251.5 cy=1036.4 r=8 /><circle class=b cx=1251.5 cy=958.1 r=8 /><circle class=c cx=1251.5 cy=816.8 r=8 /><circle class=d cx=1251.5 cy=978.7 r=8 /><circle class=a cx=1250.7 cy=1040.0 r=8 /><circle class=b cx=1250.7 cy=964.5 r=8 />
<circle class=c cx=1250.7 cy=819.1 r=8 /><circle class=d cx=1250.7 cy=981.8 r=8 /><circle class=a cx=1249.9 cy=1042.7 r=8 /><circle class=b cx=1249.9 cy=969.9 r=8 /><circle class=c cx=1249.9 cy=820.3 r=8 /><circle class=d cx=1249.9 cy=985.0 r=8 />
<circle class=a cx=1249.1 cy=1045.7 r=8 /><circle class=b cx=1249.1 cy=975.4 r=8 /><circle class=c cx=1249.1 cy=822.1 r=8 /><circle class=d cx=1249.1 cy=989.0 r=8 /><circle class=a cx=1248.4 cy=1048.8 r=8 /><circle class=b cx=1248.4 cy=980.6 r=8 />
<circle class=c cx=1248.4 cy=824.1 r=8 /><circle class=d cx=1248.4 cy=993.4 r=8 /><circle class=a cx=1247.6 cy=1051.8 r=8 /><circle class=b cx=1247.6 cy=985.1 r=8 /><circle class=c cx=1247.6 cy=825.9 r=8 /><circle class=d cx=1247.6 cy=997.5 r=8 />
<circle class=a cx=1246.8 cy=1059.6 r=8 /><circle class=b cx=1246.8 cy=993.6 r=8 /><circle class=c cx=1246.8 cy=835.8 r=8 /><circle class=d cx=1246.8 cy=1005.7 r=8 /><circle class=a cx=1246.0 cy=1056.8 r=8 /><circle class=b cx=1246.0 cy=992.5 r=8 />
<circle class=c cx=1246.0 cy=828.5 r=8 /><circle class=d cx=1246.0 cy=1004.6 r=8 /><circle class=a cx=1245.2 cy=1059.3 r=8 /><circle class=b cx=1245.2 cy=996.0 r=8 /><circle class=c cx=1245.2 cy=829.8 r=8 /><circle class=d cx=1245.2 cy=1008.1 r=8 />
<circle class=a cx=1244.5 cy=1062.3 r=8 /><circle class=b cx=1244.5 cy=1000.2 r=8 /><circle class=c cx=1244.5 cy=832.1 r=8 /><circle class=d cx=1244.5 cy=1011.8 r=8 /><circle class=a cx=1243.7 cy=1064.5 r=8 /><circle class=b cx=1243.7 cy=1003.8 r=8 />
<circle class=c cx=1243.7 cy=833.1 r=8 /><circle class=d cx=1243.7 cy=1014.5 r=8 /><circle class=a cx=1242.9 cy=1082.1 r=8 /><circle class=b cx=1242.9 cy=1020.7 r=8 /><circle class=c cx=1242.9 cy=858.9 r=8 /><circle class=d cx=1242.9 cy=1030.2 r=8 />
<circle class=a cx=1242.1 cy=1069.8 r=8 /><circle class=b cx=1242.1 cy=1011.1 r=8 /><circle class=c cx=1242.1 cy=835.9 r=8 /><circle class=d cx=1242.1 cy=1019.5 r=8 /><circle class=a cx=1241.4 cy=1073.7 r=8 /><circle class=b cx=1241.4 cy=1015.2 r=8 />
<circle class=c cx=1241.4 cy=839.1 r=8 /><circle class=d cx=1241.4 cy=1022.8 r=8 /><circle class=a cx=1240.6 cy=1077.0 r=8 /><circle class=b cx=1240.6 cy=1018.4 r=8 /><circle class=c cx=1240.6 cy=841.2 r=8 /><circle class=d cx=1240.6 cy=1025.5 r=8 />
<circle class=a cx=1239.8 cy=1079.9 r=8 /><circle class=b cx=1239.8 cy=1021.1 r=8 /><circle class=c cx=1239.8 cy=842.4 r=8 /><circle class=d cx=1239.8 cy=1028.1 r=8 /><circle class=a cx=1239.0 cy=1081.5 r=8 /><circle class=b cx=1239.0 cy=1022.5 r=8 />
<circle class=c cx=1239.0 cy=841.6 r=8 /><circle class=d cx=1239.0 cy=1029.9 r=8 /><circle class=a cx=1238.3 cy=1084.4 r=8 /><circle class=b cx=1238.3 cy=1025.0 r=8 /><circle class=c cx=1238.3 cy=843.0 r=8 /><circle class=d cx=1238.3 cy=1033.5 r=8 />
<circle class=a cx=1237.5 cy=1088.5 r=8 /><circle class=b cx=1237.5 cy=1028.7 r=8 /><circle class=c cx=1237.5 cy=846.4 r=8 /><circle class=d cx=1237.5 cy=1038.8 r=8 /><circle class=a cx=1236.7 cy=1091.0 r=8 /><circle class=b cx=1236.7 cy=1031.3 r=8 />
<circle class=c cx=1236.7 cy=847.5 r=8 /><circle class=d cx=1236.7 cy=1042.6 r=8 /><circle class=a cx=1235.9 cy=1099.1 r=8 /><circle class=b cx=1235.9 cy=1039.0 r=8 /><circle class=c cx=1235.9 cy=857.9 r=8 /><circle class=d cx=1235.9 cy=1050.5 r=8 />
<circle class=a cx=1235.2 cy=1094.2 r=8 /><circle class=b cx=1235.2 cy=1035.8 r=8 /><circle class=c cx=1235.2 cy=847.6 r=8 /><circle class=d cx=1235.2 cy=1046.7 r=8 /><circle class=a cx=1234.4 cy=1098.9 r=8 /><circle class=b cx=1234.4 cy=1041.2 r=8 />
<circle class=c cx=1234.4 cy=853.2 r=8 /><circle class=d cx=1234.4 cy=1051.4 r=8 /><circle class=a cx=1233.6 cy=1098.8 r=8 /><circle class=b cx=1233.6 cy=1042.5 r=8 /><circle class=c cx=1233.6 cy=851.3 r=8 /><circle class=d cx=1233.6 cy=1051.8 r=8 />
<circle class=a cx=1232.8 cy=1099.4 r=8 /><circle class=b cx=1232.8 cy=1044.2 r=8 /><circle class=c cx=1232.8 cy=850.7 r=8 /><circle class=d cx=1232.8 cy=1052.4 r=8 /><circle class=a cx=1232.0 cy=1106.0 r=8 /><circle class=b cx=1232.0 cy=1050.7 r=8 />
<circle class=c cx=1232.0 cy=859.8 r=8 /><circle class=d cx=1232.0 cy=1057.7 r=8 /><circle class=a cx=1231.3 cy=1103.4 r=8 /><circle class=b cx=1231.3 cy=1048.8 r=8 /><circle class=c cx=1231.3 cy=854.2 r=8 /><circle class=d cx=1231.3 cy=1054.3 r=8 />
<circle class=a cx=1230.5 cy=1105.5 r=8 /><circle class=b cx=1230.5 cy=1050.9 r=8 /><circle class=c cx=1230.5 cy=856.3 r=8 /><circle class=d cx=1230.5 cy=1054.9 r=8 /><circle class=a cx=1229.7 cy=1114.1 r=8 /><circle class=b cx=1229.7 cy=1058.6 r=8 />
<circle class=c cx=1229.7 cy=869.1 r=8 /><circle class=d cx=1229.7 cy=1061.1 r=8 /><circle class=a cx=1228.9 cy=1107.5 r=8 /><circle class=b cx=1228.9 cy=1053.0 r=8 /><circle class=c cx=1228.9 cy=857.4 r=8 /><circle class=d cx=1228.9 cy=1054.2 r=8 />
<circle class=a cx=1228.2 cy=1106.3 r=8 /><circle class=b cx=1228.2 cy=1052.1 r=8 /><circle class=c cx=1228.2 cy=854.7 r=8 /><circle class=d cx=1228.2 cy=1051.9 r=8 /><circle class=a cx=1227.4 cy=1110.8 r=8 /><circle class=b cx=1227.4 cy=1056.2 r=8 />
<circle class=c cx=1227.4 cy=861.3 r=8 /><circle class=d cx=1227.4 cy=1054.7 r=8 /><circle class=a cx=1226.6 cy=1111.0 r=8 /><circle class=b cx=1226.6 cy=1056.6 r=8 /><circle class=c cx=1226.6 cy=861.1 r=8 /><circle class=d cx=1226.6 cy=1053.8 r=8 />
<circle class=a cx=1225.8 cy=1110.1 r=8 /><circle class=b cx=1225.8 cy=1056.0 r=8 /><circle class=c cx=1225.8 cy=859.1 r=8 /><circle class=d cx=1225.8 cy=1052.0 r=8 /><circle class=a cx=1225.1 cy=1109.7 r=8 /><circle class=b cx=1225.1 cy=1055.8 r=8 />
<circle class=c cx=1225.1 cy=858.0 r=8 /><circle class=d cx=1225.1 cy=1050.6 r=8 /><circle class=a cx=1224.3 cy=1118.5 r=8 /><circle class=b cx=1224.3 cy=1063.7 r=8 /><circle class=c cx=1224.3 cy=871.8 r=8 /><circle class=d cx=1224.3 cy=1057.2 r=8 />
<circle class=a cx=1223.5 cy=1113.3 r=8 /><circle class=b cx=1223.5 cy=1059.5 r=8 /><circle class=c cx=1223.5 cy=862.8 r=8 /><circle class=d cx=1223.5 cy=1051.7 r=8 /><circle class=a cx=1222.7 cy=1112.9 r=8 /><circle class=b cx=1222.7 cy=1059.4 r=8 />
<circle class=c cx=1222.7 cy=861.4 r=8 /><circle class=d cx=1222.7 cy=1050.3 r=8 /><circle class=a cx=1222.0 cy=1113.5 r=8 /><circle class=b cx=1222.0 cy=1060.2 r=8 /><circle class=c cx=1222.0 cy=861.9 r=8 /><circle class=d cx=1222.0 cy=1049.9 r=8 />
<circle class=a cx=1221.2 cy=1113.8 r=8 /><circle class=b cx=1221.2 cy=1060.8 r=8 /><circle class=c cx=1221.2 cy=862.0 r=8 /><circle class=d cx=1221.2 cy=1049.3 r=8 /><circle class=a cx=1220.4 cy=1115.5 r=8 /><circle class=b cx=1220.4 cy=1062.4 r=8 />
<circle class=c cx=1220.4 cy=864.4 r=8 /><circle class=d cx=1220.4 cy=1049.9 r=8 /><circle class=a cx=1219.6 cy=1126.3 r=8 /><circle class=b cx=1219.6 cy=1071.8 r=8 /><circle class=c cx=1219.6 cy=882.0 r=8 /><circle class=d cx=1219.6 cy=1058.6 r=8 />
<circle class=a cx=1218.8 cy=1115.2 r=8 /><circle class=b cx=1218.8 cy=1061.9 r=8 /><circle class=c cx=1218.8 cy=864.5 r=8 /><circle class=d cx=1218.8 cy=1048.5 r=8 /><circle class=a cx=1218.1 cy=1113.0 r=8 /><circle class=b cx=1218.1 cy=1059.7 r=8 />
<circle class=c cx=1218.1 cy=861.9 r=8 /><circle class=d cx=1218.1 cy=1046.3 r=8 /><circle class=a cx=1217.3 cy=1112.3 r=8 /><circle class=b cx=1217.3 cy=1058.6 r=8 /><circle class=c cx=1217.3 cy=861.9 r=8 /><circle class=d cx=1217.3 cy=1045.5 r=8 />
<circle class=a cx=1216.5 cy=1110.3 r=8 /><circle class=b cx=1216.5 cy=1056.4 r=8 /><circle class=c cx=1216.5 cy=859.9 r=8 /><circle class=d cx=1216.5 cy=1043.6 r=8 /><circle class=a cx=1215.7 cy=1111.2 r=8 /><circle class=b cx=1215.7 cy=1056.8 r=8 />
<circle class=c cx=1215.7 cy=862.5 r=8 /><circle class=d cx=1215.7 cy=1044.2 r=8 /><circle class=a cx=1215.0 cy=1108.4 r=8 /><circle class=b cx=1215.0 cy=1053.8 r=8 /><circle class=c cx=1215.0 cy=859.1 r=8 /><circle class=d cx=1215.0 cy=1041.6 r=8 />
<circle class=a cx=1214.2 cy=1110.0 r=8 /><circle class=b cx=1214.2 cy=1054.6 r=8 /><circle class=c cx=1214.2 cy=863.0 r=8 /><circle class=d cx=1214.2 cy=1042.9 r=8 /><circle class=a cx=1213.4 cy=1106.2 r=8 /><circle class=b cx=1213.4 cy=1050.7 r=8 />
<circle class=c cx=1213.4 cy=858.1 r=8 /><circle class=d cx=1213.4 cy=1039.4 r=8 /><circle class=a cx=1212.6 cy=1113.1 r=8 /><circle class=b cx=1212.6 cy=1056.2 r=8 /><circle class=c cx=1212.6 cy=870.8 r=8 /><circle class=d cx=1212.6 cy=1045.4 r=8 />
<circle class=a cx=1211.9 cy=1105.7 r=8 /><circle class=b cx=1211.9 cy=1049.3 r=8 /><circle class=c cx=1211.9 cy=860.1 r=8 /><circle class=d cx=1211.9 cy=1038.9 r=8 /><circle class=a cx=1211.1 cy=1103.1 r=8 /><circle class=b cx=1211.1 cy=1046.7 r=8 />
<circle class=c cx=1211.1 cy=857.4 r=8 /><circle class=d cx=1211.1 cy=1036.7 r=8 /><circle class=a cx=1210.3 cy=1101.3 r=8 /><circle class=b cx=1210.3 cy=1045.0 r=8 /><circle class=c cx=1210.3 cy=856.0 r=8 /><circle class=d cx=1210.3 cy=1035.1 r=8 />
<circle class=a cx=1209.5 cy=1101.0 r=8 /><circle class=b cx=1209.5 cy=1044.6 r=8 /><circle class=c cx=1209.5 cy=857.1 r=8 /><circle class=d cx=1209.5 cy=1035.0 r=8 /><circle class=a cx=1208.8 cy=1102.0 r=8 /><circle class=b cx=1208.8 cy=1045.4 r=8 />
<circle class=c cx=1208.8 cy=860.3 r=8 /><circle class=d cx=1208.8 cy=1035.9 r=8 /><circle class=a cx=1208.0 cy=1097.6 r=8 /><circle class=b cx=1208.0 cy=1041.5 r=8 /><circle class=c cx=1208.0 cy=854.9 r=8 /><circle class=d cx=1208.0 cy=1032.1 r=8 />
<circle class=a cx=1207.2 cy=1102.1 r=8 /><circle class=b cx=1207.2 cy=1045.6 r=8 /><circle class=c cx=1207.2 cy=864.1 r=8 /><circle class=d cx=1207.2 cy=1036.2 r=8 /><circle class=a cx=1206.4 cy=1094.3 r=8 /><circle class=b cx=1206.4 cy=1038.8 r=8 />
<circle class=c cx=1206.4 cy=853.2 r=8 /><circle class=d cx=1206.4 cy=1029.4 r=8 /><circle class=a cx=1205.6 cy=1098.8 r=8 /><circle class=b cx=1205.6 cy=1042.8 r=8 /><circle class=c cx=1205.6 cy=862.2 r=8 /><circle class=d cx=1205.6 cy=1033.4 r=8 />
<circle class=a cx=1204.9 cy=1094.9 r=8 /><circle class=b cx=1204.9 cy=1039.6 r=8 /><circle class=c cx=1204.9 cy=857.7 r=8 /><circle class=d cx=1204.9 cy=1030.1 r=8 /><circle class=a cx=1204.1 cy=1088.4 r=8 /><circle class=b cx=1204.1 cy=1034.0 r=8 />
<circle class=c cx=1204.1 cy=849.0 r=8 /><circle class=d cx=1204.1 cy=1024.6 r=8 /><circle class=a cx=1203.3 cy=1092.0 r=8 /><circle class=b cx=1203.3 cy=1037.3 r=8 /><circle class=c cx=1203.3 cy=856.7 r=8 /><circle class=d cx=1203.3 cy=1027.8 r=8 />
<circle class=a cx=1202.5 cy=1098.2 r=8 /><circle class=b cx=1202.5 cy=1042.8 r=8 /><circle class=c cx=1202.5 cy=868.5 r=8 /><circle class=d cx=1202.5 cy=1033.4 r=8 /><circle class=a cx=1201.8 cy=1083.3 r=8 /><circle class=b cx=1201.8 cy=1029.7 r=8 />
<circle class=c cx=1201.8 cy=846.0 r=8 /><circle class=d cx=1201.8 cy=1020.4 r=8 /><circle class=a cx=1201.0 cy=1085.2 r=8 /><circle class=b cx=1201.0 cy=1031.3 r=8 /><circle class=c cx=1201.0 cy=850.8 r=8 /><circle class=d cx=1201.0 cy=1022.2 r=8 />
<circle class=a cx=1200.2 cy=1080.3 r=8 /><circle class=b cx=1200.2 cy=1026.8 r=8 /><circle class=c cx=1200.2 cy=844.5 r=8 /><circle class=d cx=1200.2 cy=1018.0 r=8 /><circle class=a cx=1199.4 cy=1082.6 r=8 /><circle class=b cx=1199.4 cy=1028.7 r=8 />
<circle class=c cx=1199.4 cy=850.1 r=8 /><circle class=d cx=1199.4 cy=1020.3 r=8 /><circle class=a cx=1198.7 cy=1077.2 r=8 /><circle class=b cx=1198.7 cy=1023.6 r=8 /><circle class=c cx=1198.7 cy=842.8 r=8 /><circle class=d cx=1198.7 cy=1015.6 r=8 />
<circle class=a cx=1197.9 cy=1075.9 r=8 /><circle class=b cx=1197.9 cy=1022.1 r=8 /><circle class=c cx=1197.9 cy=842.3 r=8 /><circle class=d cx=1197.9 cy=1014.6 r=8 /><circle class=a cx=1197.1 cy=1079.2 r=8 /><circle class=b cx=1197.1 cy=1024.7 r=8 />
<circle class=c cx=1197.1 cy=849.3 r=8 /><circle class=d cx=1197.1 cy=1017.6 r=8 /><circle class=a cx=1196.3 cy=1072.3 r=8 /><circle class=b cx=1196.3 cy=1018.3 r=8 /><circle class=c cx=1196.3 cy=839.7 r=8 /><circle class=d cx=1196.3 cy=1011.7 r=8 />
<circle class=a cx=1195.6 cy=1070.3 r=8 /><circle class=b cx=1195.6 cy=1016.2 r=8 /><circle class=c cx=1195.6 cy=837.8 r=8 /><circle class=d cx=1195.6 cy=1010.0 r=8 /><circle class=a cx=1194.8 cy=1072.2 r=8 /><circle class=b cx=1194.8 cy=1017.6 r=8 />
<circle class=c cx=1194.8 cy=842.2 r=8 /><circle class=d cx=1194.8 cy=1011.8 r=8 /><circle class=a cx=1194.0 cy=1078.4 r=8 /><circle class=b cx=1194.0 cy=1022.8 r=8 /><circle class=c cx=1194.0 cy=853.6 r=8 /><circle class=d cx=1194.0 cy=1017.3 r=8 />
<circle class=a cx=1193.2 cy=1067.7 r=8 /><circle class=b cx=1193.2 cy=1013.3 r=8 /><circle class=c cx=1193.2 cy=837.5 r=8 /><circle class=d cx=1193.2 cy=1008.1 r=8 /><circle class=a cx=1192.4 cy=1064.6 r=8 /><circle class=b cx=1192.4 cy=1010.5 r=8 />
<circle class=c cx=1192.4 cy=833.8 r=8 /><circle class=d cx=1192.4 cy=1005.5 r=8 /><circle class=a cx=1191.7 cy=1062.5 r=8 /><circle class=b cx=1191.7 cy=1008.7 r=8 /><circle class=c cx=1191.7 cy=831.8 r=8 /><circle class=d cx=1191.7 cy=1004.0 r=8 />
<circle class=a cx=1190.9 cy=1062.2 r=8 /><circle class=b cx=1190.9 cy=1008.4 r=8 /><circle class=c cx=1190.9 cy=832.7 r=8 /><circle class=d cx=1190.9 cy=1003.9 r=8 /><circle class=a cx=1190.1 cy=1061.4 r=8 /><circle class=b cx=1190.1 cy=1007.7 r=8 />
<circle class=c cx=1190.1 cy=832.8 r=8 /><circle class=d cx=1190.1 cy=1003.5 r=8 /><circle class=a cx=1189.3 cy=1057.7 r=8 /><circle class=b cx=1189.3 cy=1004.5 r=8 /><circle class=c cx=1189.3 cy=828.2 r=8 /><circle class=d cx=1189.3 cy=1000.6 r=8 />
<circle class=a cx=1188.6 cy=1059.6 r=8 /><circle class=b cx=1188.6 cy=1006.4 r=8 /><circle class=c cx=1188.6 cy=833.1 r=8 /><circle class=d cx=1188.6 cy=1002.7 r=8 /><circle class=a cx=1187.8 cy=1052.0 r=8 /><circle class=b cx=1187.8 cy=1000.0 r=8 />
<circle class=c cx=1187.8 cy=822.6 r=8 /><circle class=d cx=1187.8 cy=996.6 r=8 /><circle class=a cx=1187.0 cy=1051.4 r=8 /><circle class=b cx=1187.0 cy=999.8 r=8 /><circle class=c cx=1187.0 cy=823.5 r=8 /><circle class=d cx=1187.0 cy=996.7 r=8 />
<circle class=a cx=1186.2 cy=1050.9 r=8 /><circle class=b cx=1186.2 cy=999.7 r=8 /><circle class=c cx=1186.2 cy=824.7 r=8 /><circle class=d cx=1186.2 cy=996.8 r=8 /><circle class=a cx=1185.5 cy=1046.2 r=8 /><circle class=b cx=1185.5 cy=996.1 r=8 />
<circle class=c cx=1185.5 cy=819.4 r=8 /><circle class=d cx=1185.5 cy=993.5 r=8 /><circle class=a cx=1184.7 cy=1043.5 r=8 /><circle class=b cx=1184.7 cy=994.4 r=8 /><circle class=c cx=1184.7 cy=817.3 r=8 /><circle class=d cx=1184.7 cy=991.9 r=8 />
<circle class=a cx=1183.9 cy=1041.2 r=8 /><circle class=b cx=1183.9 cy=993.1 r=8 /><circle class=c cx=1183.9 cy=816.2 r=8 /><circle class=d cx=1183.9 cy=990.8 r=8 /><circle class=a cx=1183.1 cy=1038.8 r=8 /><circle class=b cx=1183.1 cy=991.8 r=8 />
<circle class=c cx=1183.1 cy=815.0 r=8 /><circle class=d cx=1183.1 cy=989.6 r=8 /><circle class=a cx=1182.4 cy=1035.4 r=8 /><circle class=b cx=1182.4 cy=989.8 r=8 /><circle class=c cx=1182.4 cy=812.5 r=8 /><circle class=d cx=1182.4 cy=987.6 r=8 />
<circle class=a cx=1181.6 cy=1032.6 r=8 /><circle class=b cx=1181.6 cy=988.5 r=8 /><circle class=c cx=1181.6 cy=811.1 r=8 /><circle class=d cx=1181.6 cy=986.2 r=8 /><circle class=a cx=1180.8 cy=1033.8 r=8 /><circle class=b cx=1180.8 cy=990.6 r=8 />
<circle class=c cx=1180.8 cy=816.2 r=8 /><circle class=d cx=1180.8 cy=988.2 r=8 /><circle class=a cx=1180.0 cy=1031.8 r=8 /><circle class=b cx=1180.0 cy=990.1 r=8 /><circle class=c cx=1180.0 cy=816.3 r=8 /><circle class=d cx=1180.0 cy=987.4 r=8 />
<circle class=a cx=1179.2 cy=1023.8 r=8 /><circle class=b cx=1179.2 cy=984.5 r=8 /><circle class=c cx=1179.2 cy=806.9 r=8 /><circle class=d cx=1179.2 cy=981.2 r=8 /><circle class=a cx=1178.5 cy=1021.5 r=8 /><circle class=b cx=1178.5 cy=983.8 r=8 />
<circle class=c cx=1178.5 cy=806.5 r=8 /><circle class=d cx=1178.5 cy=979.6 r=8 /><circle class=a cx=1177.7 cy=1021.9 r=8 /><circle class=b cx=1177.7 cy=985.5 r=8 /><circle class=c cx=1177.7 cy=810.8 r=8 /><circle class=d cx=1177.7 cy=980.4 r=8 />
<circle class=a cx=1176.9 cy=1013.8 r=8 /><circle class=b cx=1176.9 cy=979.7 r=8 /><circle class=c cx=1176.9 cy=801.3 r=8 /><circle class=d cx=1176.9 cy=973.8 r=8 /><circle class=a cx=1176.1 cy=1013.8 r=8 /><circle class=b cx=1176.1 cy=981.0 r=8 />
<circle class=c cx=1176.1 cy=805.4 r=8 /><circle class=d cx=1176.1 cy=974.4 r=8 /><circle class=a cx=1175.4 cy=1006.8 r=8 /><circle class=b cx=1175.4 cy=976.8 r=8 /><circle class=c cx=1175.4 cy=798.9 r=8 /><circle class=d cx=1175.4 cy=969.5 r=8 />
<circle class=a cx=1174.6 cy=1004.0 r=8 /><circle class=b cx=1174.6 cy=976.7 r=8 /><circle class=c cx=1174.6 cy=799.6 r=8 /><circle class=d cx=1174.6 cy=968.7 r=8 /><circle class=a cx=1173.8 cy=1001.7 r=8 /><circle class=b cx=1173.8 cy=977.8 r=8 />
<circle class=c cx=1173.8 cy=801.4 r=8 /><circle class=d cx=1173.8 cy=968.7 r=8 /><circle class=a cx=1173.0 cy=1003.1 r=8 /><circle class=b cx=1173.0 cy=982.1 r=8 /><circle class=c cx=1173.0 cy=808.6 r=8 /><circle class=d cx=1173.0 cy=972.2 r=8 />
<circle class=a cx=1172.3 cy=990.6 r=8 /><circle class=b cx=1172.3 cy=973.9 r=8 /><circle class=c cx=1172.3 cy=792.9 r=8 /><circle class=d cx=1172.3 cy=963.5 r=8 /><circle class=a cx=1171.5 cy=989.3 r=8 /><circle class=b cx=1171.5 cy=975.4 r=8 />
<circle class=c cx=1171.5 cy=794.9 r=8 /><circle class=d cx=1171.5 cy=964.4 r=8 /><circle class=a cx=1170.7 cy=985.3 r=8 /><circle class=b cx=1170.7 cy=974.9 r=8 /><circle class=c cx=1170.7 cy=793.1 r=8 /><circle class=d cx=1170.7 cy=963.3 r=8 />
<circle class=a cx=1169.9 cy=982.0 r=8 /><circle class=b cx=1169.9 cy=974.4 r=8 /><circle class=c cx=1169.9 cy=791.5 r=8 /><circle class=d cx=1169.9 cy=962.3 r=8 /><circle class=a cx=1169.2 cy=981.8 r=8 /><circle class=b cx=1169.2 cy=975.7 r=8 />
<circle class=c cx=1169.2 cy=792.9 r=8 /><circle class=d cx=1169.2 cy=962.8 r=8 /><circle class=a cx=1168.4 cy=983.3 r=8 /><circle class=b cx=1168.4 cy=977.2 r=8 /><circle class=c cx=1168.4 cy=794.3 r=8 /><circle class=d cx=1168.4 cy=963.4 r=8 />
<circle class=a cx=1167.6 cy=983.7 r=8 /><circle class=b cx=1167.6 cy=977.2 r=8 /><circle class=c cx=1167.6 cy=792.7 r=8 /><circle class=d cx=1167.6 cy=962.5 r=8 /><circle class=a cx=1166.8 cy=990.3 r=8 /><circle class=b cx=1166.8 cy=982.1 r=8 />
<circle class=c cx=1166.8 cy=800.0 r=8 /><circle class=d cx=1166.8 cy=966.5 r=8 /><circle class=a cx=1166.0 cy=987.1 r=8 /><circle class=b cx=1166.0 cy=978.4 r=8 /><circle class=c cx=1166.0 cy=791.1 r=8 /><circle class=d cx=1166.0 cy=961.8 r=8 />
<circle class=a cx=1165.3 cy=989.2 r=8 /><circle class=b cx=1165.3 cy=979.3 r=8 /><circle class=c cx=1165.3 cy=791.0 r=8 /><circle class=d cx=1165.3 cy=961.9 r=8 /><circle class=a cx=1164.5 cy=991.6 r=8 /><circle class=b cx=1164.5 cy=980.6 r=8 />
<circle class=c cx=1164.5 cy=791.7 r=8 /><circle class=d cx=1164.5 cy=962.4 r=8 /><circle class=a cx=1163.7 cy=1004.0 r=8 /><circle class=b cx=1163.7 cy=990.8 r=8 /><circle class=c cx=1163.7 cy=808.8 r=8 /><circle class=d cx=1163.7 cy=971.6 r=8 />
<circle class=a cx=1162.9 cy=999.9 r=8 /><circle class=b cx=1162.9 cy=986.5 r=8 /><circle class=c cx=1162.9 cy=799.0 r=8 /><circle class=d cx=1162.9 cy=966.4 r=8 /><circle class=a cx=1162.2 cy=999.7 r=8 /><circle class=b cx=1162.2 cy=985.6 r=8 />
<circle class=c cx=1162.2 cy=795.5 r=8 /><circle class=d cx=1162.2 cy=964.5 r=8 /><circle class=a cx=1161.4 cy=998.8 r=8 /><circle class=b cx=1161.4 cy=984.2 r=8 /><circle class=c cx=1161.4 cy=791.0 r=8 /><circle class=d cx=1161.4 cy=962.0 r=8 />
<circle class=a cx=1160.6 cy=1001.6 r=8 /><circle class=b cx=1160.6 cy=985.9 r=8 /><circle class=c cx=1160.6 cy=792.4 r=8 /><circle class=d cx=1160.6 cy=962.8 r=8 /><circle class=a cx=1159.8 cy=999.6 r=8 /><circle class=b cx=1159.8 cy=983.6 r=8 />
<circle class=c cx=1159.8 cy=786.3 r=8 /><circle class=d cx=1159.8 cy=959.4 r=8 /><circle class=a cx=1159.1 cy=1006.0 r=8 /><circle class=b cx=1159.1 cy=988.5 r=8 /><circle class=c cx=1159.1 cy=793.7 r=8 /><circle class=d cx=1159.1 cy=963.5 r=8 />
<circle class=a cx=1158.3 cy=1008.0 r=8 /><circle class=b cx=1158.3 cy=989.8 r=8 /><circle class=c cx=1158.3 cy=794.4 r=8 /><circle class=d cx=1158.3 cy=964.0 r=8 /><circle class=a cx=1157.5 cy=1010.1 r=8 /><circle class=b cx=1157.5 cy=991.1 r=8 />
<circle class=c cx=1157.5 cy=795.4 r=8 /><circle class=d cx=1157.5 cy=964.8 r=8 /><circle class=a cx=1156.7 cy=1007.7 r=8 /><circle class=b cx=1156.7 cy=988.5 r=8 /><circle class=c cx=1156.7 cy=789.0 r=8 /><circle class=d cx=1156.7 cy=961.6 r=8 />
<circle class=a cx=1156.0 cy=1009.0 r=8 /><circle class=b cx=1156.0 cy=989.1 r=8 /><circle class=c cx=1156.0 cy=788.8 r=8 /><circle class=d cx=1156.0 cy=961.9 r=8 /><circle class=a cx=1155.2 cy=1019.8 r=8 /><circle class=b cx=1155.2 cy=998.2 r=8 />
<circle class=c cx=1155.2 cy=804.1 r=8 /><circle class=d cx=1155.2 cy=970.6 r=8 /><circle class=a cx=1154.4 cy=1011.4 r=8 /><circle class=b cx=1154.4 cy=990.4 r=8 /><circle class=c cx=1154.4 cy=788.2 r=8 /><circle class=d cx=1154.4 cy=962.5 r=8 />
<circle class=a cx=1153.6 cy=1014.0 r=8 /><circle class=b cx=1153.6 cy=992.3 r=8 /><circle class=c cx=1153.6 cy=790.3 r=8 /><circle class=d cx=1153.6 cy=964.1 r=8 /><circle class=a cx=1152.8 cy=1018.8 r=8 /><circle class=b cx=1152.8 cy=996.0 r=8 />
<circle class=c cx=1152.8 cy=795.8 r=8 /><circle class=d cx=1152.8 cy=967.6 r=8 /><circle class=a cx=1152.1 cy=1020.2 r=8 /><circle class=b cx=1152.1 cy=996.9 r=8 /><circle class=c cx=1152.1 cy=796.1 r=8 /><circle class=d cx=1152.1 cy=968.1 r=8 />
<circle class=a cx=1151.3 cy=1020.9 r=8 /><circle class=b cx=1151.3 cy=997.1 r=8 /><circle class=c cx=1151.3 cy=795.1 r=8 /><circle class=d cx=1151.3 cy=968.0 r=8 /><circle class=a cx=1150.5 cy=1018.8 r=8 /><circle class=b cx=1150.5 cy=994.9 r=8 />
<circle class=c cx=1150.5 cy=789.6 r=8 /><circle class=d cx=1150.5 cy=965.5 r=8 /><circle class=a cx=1149.7 cy=1022.2 r=8 /><circle class=b cx=1149.7 cy=997.6 r=8 /><circle class=c cx=1149.7 cy=793.1 r=8 /><circle class=d cx=1149.7 cy=968.0 r=8 />
<circle class=a cx=1149.0 cy=1024.4 r=8 /><circle class=b cx=1149.0 cy=999.2 r=8 /><circle class=c cx=1149.0 cy=794.6 r=8 /><circle class=d cx=1149.0 cy=969.4 r=8 /><circle class=a cx=1148.2 cy=1033.4 r=8 /><circle class=b cx=1148.2 cy=1006.7 r=8 />
<circle class=c cx=1148.2 cy=807.1 r=8 /><circle class=d cx=1148.2 cy=976.7 r=8 /><circle class=a cx=1147.4 cy=1031.5 r=8 /><circle class=b cx=1147.4 cy=1004.8 r=8 /><circle class=c cx=1147.4 cy=802.1 r=8 /><circle class=d cx=1147.4 cy=974.6 r=8 />
<circle class=a cx=1146.6 cy=1028.7 r=8 /><circle class=b cx=1146.6 cy=1002.0 r=8 /><circle class=c cx=1146.6 cy=795.5 r=8 /><circle class=d cx=1146.6 cy=971.6 r=8 /><circle class=a cx=1145.9 cy=1036.9 r=8 /><circle class=b cx=1145.9 cy=1009.0 r=8 />
<circle class=c cx=1145.9 cy=807.0 r=8 /><circle class=d cx=1145.9 cy=978.5 r=8 /><circle class=a cx=1145.1 cy=1033.1 r=8 /><circle class=b cx=1145.1 cy=1005.4 r=8 /><circle class=c cx=1145.1 cy=798.8 r=8 /><circle class=d cx=1145.1 cy=974.7 r=8 />
<circle class=a cx=1144.3 cy=1034.4 r=8 /><circle class=b cx=1144.3 cy=1006.3 r=8 /><circle class=c cx=1144.3 cy=798.9 r=8 /><circle class=d cx=1144.3 cy=975.3 r=8 /><circle class=a cx=1143.5 cy=1033.5 r=8 /><circle class=b cx=1143.5 cy=1005.3 r=8 />
<circle class=c cx=1143.5 cy=795.5 r=8 /><circle class=d cx=1143.5 cy=974.0 r=8 /><circle class=a cx=1142.8 cy=1034.5 r=8 /><circle class=b cx=1142.8 cy=1005.9 r=8 /><circle class=c cx=1142.8 cy=795.2 r=8 /><circle class=d cx=1142.8 cy=974.4 r=8 />
<circle class=a cx=1142.0 cy=1035.6 r=8 /><circle class=b cx=1142.0 cy=1006.7 r=8 /><circle class=c cx=1142.0 cy=795.1 r=8 /><circle class=d cx=1142.0 cy=974.9 r=8 /><circle class=a cx=1141.2 cy=1038.5 r=8 /><circle class=b cx=1141.2 cy=1009.1 r=8 />
<circle class=c cx=1141.2 cy=797.8 r=8 /><circle class=d cx=1141.2 cy=976.8 r=8 /><circle class=a cx=1140.4 cy=1046.6 r=8 /><circle class=b cx=1140.4 cy=1016.0 r=8 /><circle class=c cx=1140.4 cy=808.9 r=8 /><circle class=d cx=1140.4 cy=983.3 r=8 />
<circle class=a cx=1139.6 cy=1040.3 r=8 /><circle class=b cx=1139.6 cy=1010.4 r=8 /><circle class=c cx=1139.6 cy=796.9 r=8 /><circle class=d cx=1139.6 cy=977.2 r=8 /><circle class=a cx=1138.9 cy=1043.9 r=8 /><circle class=b cx=1138.9 cy=1013.5 r=8 />
<circle class=c cx=1138.9 cy=800.8 r=8 /><circle class=d cx=1138.9 cy=979.8 r=8 /><circle class=a cx=1138.1 cy=1043.8 r=8 /><circle class=b cx=1138.1 cy=1013.4 r=8 /><circle class=c cx=1138.1 cy=798.7 r=8 /><circle class=d cx=1138.1 cy=979.1 r=8 />
<circle class=a cx=1137.3 cy=1045.3 r=8 /><circle class=b cx=1137.3 cy=1014.7 r=8 /><circle class=c cx=1137.3 cy=799.2 r=8 /><circle class=d cx=1137.3 cy=979.8 r=8 /><circle class=a cx=1136.5 cy=1045.0 r=8 /><circle class=b cx=1136.5 cy=1014.5 r=8 />
<circle class=c cx=1136.5 cy=796.9 r=8 /><circle class=d cx=1136.5 cy=979.0 r=8 /><circle class=a cx=1135.8 cy=1052.1 r=8 /><circle class=b cx=1135.8 cy=1020.7 r=8 /><circle class=c cx=1135.8 cy=806.5 r=8 /><circle class=d cx=1135.8 cy=984.6 r=8 />
<circle class=a cx=1135.0 cy=1050.1 r=8 /><circle class=b cx=1135.0 cy=1019.0 r=8 /><circle class=c cx=1135.0 cy=801.3 r=8 /><circle class=d cx=1135.0 cy=982.2 r=8 /><circle class=a cx=1134.2 cy=1050.7 r=8 /><circle class=b cx=1134.2 cy=1019.6 r=8 />
<circle class=c cx=1134.2 cy=800.5 r=8 /><circle class=d cx=1134.2 cy=982.1 r=8 /><circle class=a cx=1133.4 cy=1051.5 r=8 /><circle class=b cx=1133.4 cy=1020.3 r=8 /><circle class=c cx=1133.4 cy=799.8 r=8 /><circle class=d cx=1133.4 cy=982.2 r=8 />
<circle class=a cx=1132.7 cy=1053.5 r=8 /><circle class=b cx=1132.7 cy=1022.2 r=8 /><circle class=c cx=1132.7 cy=801.1 r=8 /><circle class=d cx=1132.7 cy=983.3 r=8 /><circle class=a cx=1131.9 cy=1055.6 r=8 /><circle class=b cx=1131.9 cy=1024.1 r=8 />
<circle class=c cx=1131.9 cy=802.6 r=8 /><circle class=d cx=1131.9 cy=984.6 r=8 /><circle class=a cx=1131.1 cy=1063.7 r=8 /><circle class=b cx=1131.1 cy=1031.2 r=8 /><circle class=c cx=1131.1 cy=813.9 r=8 /><circle class=d cx=1131.1 cy=991.0 r=8 />
<circle class=a cx=1130.3 cy=1059.4 r=8 /><circle class=b cx=1130.3 cy=1027.6 r=8 /><circle class=c cx=1130.3 cy=805.1 r=8 /><circle class=d cx=1130.3 cy=986.7 r=8 /><circle class=a cx=1129.6 cy=1059.8 r=8 /><circle class=b cx=1129.6 cy=1028.0 r=8 />
<circle class=c cx=1129.6 cy=803.8 r=8 /><circle class=d cx=1129.6 cy=986.5 r=8 /><circle class=a cx=1128.8 cy=1060.5 r=8 /><circle class=b cx=1128.8 cy=1028.6 r=8 /><circle class=c cx=1128.8 cy=803.0 r=8 /><circle class=d cx=1128.8 cy=986.4 r=8 />
<circle class=a cx=1128.0 cy=1064.9 r=8 /><circle class=b cx=1128.0 cy=1032.5 r=8 /><circle class=c cx=1128.0 cy=808.3 r=8 /><circle class=d cx=1128.0 cy=989.7 r=8 /><circle class=a cx=1127.2 cy=1063.6 r=8 /><circle class=b cx=1127.2 cy=1031.4 r=8 />
<circle class=c cx=1127.2 cy=804.3 r=8 /><circle class=d cx=1127.2 cy=988.0 r=8 /><circle class=a cx=1126.4 cy=1063.8 r=8 /><circle class=b cx=1126.4 cy=1031.5 r=8 /><circle class=c cx=1126.4 cy=802.6 r=8 /><circle class=d cx=1126.4 cy=987.5 r=8 />
<circle class=a cx=1125.7 cy=1066.0 r=8 /><circle class=b cx=1125.7 cy=1033.5 r=8 /><circle class=c cx=1125.7 cy=804.4 r=8 /><circle class=d cx=1125.7 cy=988.9 r=8 /><circle class=a cx=1124.9 cy=1067.6 r=8 /><circle class=b cx=1124.9 cy=1034.7 r=8 />
<circle class=c cx=1124.9 cy=805.0 r=8 /><circle class=d cx=1124.9 cy=989.7 r=8 /><circle class=a cx=1124.1 cy=1072.2 r=8 /><circle class=b cx=1124.1 cy=1038.7 r=8 /><circle class=c cx=1124.1 cy=810.5 r=8 /><circle class=d cx=1124.1 cy=993.1 r=8 />
<circle class=a cx=1123.3 cy=1072.9 r=8 /><circle class=b cx=1123.3 cy=1039.3 r=8 /><circle class=c cx=1123.3 cy=809.8 r=8 /><circle class=d cx=1123.3 cy=993.2 r=8 /><circle class=a cx=1122.6 cy=1071.5 r=8 /><circle class=b cx=1122.6 cy=1037.9 r=8 />
<circle class=c cx=1122.6 cy=805.5 r=8 /><circle class=d cx=1122.6 cy=991.4 r=8 /><circle class=a cx=1121.8 cy=1073.0 r=8 /><circle class=b cx=1121.8 cy=1039.1 r=8 /><circle class=c cx=1121.8 cy=806.0 r=8 /><circle class=d cx=1121.8 cy=992.1 r=8 />
<circle class=a cx=1121.0 cy=1075.6 r=8 /><circle class=b cx=1121.0 cy=1041.2 r=8 /><circle class=c cx=1121.0 cy=808.2 r=8 /><circle class=d cx=1121.0 cy=993.9 r=8 /><circle class=a cx=1120.2 cy=1075.6 r=8 /><circle class=b cx=1120.2 cy=1041.1 r=8 />
<circle class=c cx=1120.2 cy=806.2 r=8 /><circle class=d cx=1120.2 cy=993.3 r=8 /><circle class=a cx=1119.5 cy=1077.4 r=8 /><circle class=b cx=1119.5 cy=1042.5 r=8 /><circle class=c cx=1119.5 cy=807.1 r=8 /><circle class=d cx=1119.5 cy=994.3 r=8 />
<circle class=a cx=1118.7 cy=1079.1 r=8 /><circle class=b cx=1118.7 cy=1043.8 r=8 /><circle class=c cx=1118.7 cy=807.8 r=8 /><circle class=d cx=1118.7 cy=995.2 r=8 /><circle class=a cx=1117.9 cy=1080.1 r=8 /><circle class=b cx=1117.9 cy=1044.5 r=8 />
<circle class=c cx=1117.9 cy=807.4 r=8 /><circle class=d cx=1117.9 cy=995.5 r=8 /><circle class=a cx=1117.1 cy=1081.3 r=8 /><circle class=b cx=1117.1 cy=1045.4 r=8 /><circle class=c cx=1117.1 cy=807.4 r=8 /><circle class=d cx=1117.1 cy=996.0 r=8 />
<circle class=a cx=1116.4 cy=1084.5 r=8 /><circle class=b cx=1116.4 cy=1048.1 r=8 /><circle class=c cx=1116.4 cy=810.6 r=8 /><circle class=d cx=1116.4 cy=998.2 r=8 /><circle class=a cx=1115.6 cy=1084.5 r=8 /><circle class=b cx=1115.6 cy=1047.8 r=8 />
<circle class=c cx=1115.6 cy=808.5 r=8 /><circle class=d cx=1115.6 cy=997.6 r=8 /><circle class=a cx=1114.8 cy=1086.1 r=8 /><circle class=b cx=1114.8 cy=1049.1 r=8 /><circle class=c cx=1114.8 cy=809.2 r=8 /><circle class=d cx=1114.8 cy=998.5 r=8 />
<circle class=a cx=1114.0 cy=1087.9 r=8 /><circle class=b cx=1114.0 cy=1050.5 r=8 /><circle class=c cx=1114.0 cy=810.2 r=8 /><circle class=d cx=1114.0 cy=999.6 r=8 /><circle class=a cx=1113.2 cy=1091.0 r=8 /><circle class=b cx=1113.2 cy=1053.0 r=8 />
<circle class=c cx=1113.2 cy=813.2 r=8 /><circle class=d cx=1113.2 cy=1001.6 r=8 /><circle class=a cx=1112.5 cy=1090.7 r=8 /><circle class=b cx=1112.5 cy=1052.6 r=8 /><circle class=c cx=1112.5 cy=810.9 r=8 /><circle class=d cx=1112.5 cy=1000.9 r=8 />
<circle class=a cx=1111.7 cy=1094.1 r=8 /><circle class=b cx=1111.7 cy=1055.4 r=8 /><circle class=c cx=1111.7 cy=814.5 r=8 /><circle class=d cx=1111.7 cy=1003.3 r=8 /><circle class=a cx=1110.9 cy=1095.5 r=8 /><circle class=b cx=1110.9 cy=1056.4 r=8 />
<circle class=c cx=1110.9 cy=814.9 r=8 /><circle class=d cx=1110.9 cy=1003.9 r=8 /><circle class=a cx=1110.1 cy=1095.3 r=8 /><circle class=b cx=1110.1 cy=1056.1 r=8 /><circle class=c cx=1110.1 cy=812.7 r=8 /><circle class=d cx=1110.1 cy=1003.2 r=8 />
<circle class=a cx=1109.4 cy=1096.9 r=8 /><circle class=b cx=1109.4 cy=1057.3 r=8 /><circle class=c cx=1109.4 cy=813.5 r=8 /><circle class=d cx=1109.4 cy=1004.0 r=8 /><circle class=a cx=1108.6 cy=1097.5 r=8 /><circle class=b cx=1108.6 cy=1057.7 r=8 />
<circle class=c cx=1108.6 cy=812.8 r=8 /><circle class=d cx=1108.6 cy=1004.0 r=8 /><circle class=a cx=1107.8 cy=1098.8 r=8 /><circle class=b cx=1107.8 cy=1058.7 r=8 /><circle class=c cx=1107.8 cy=813.1 r=8 /><circle class=d cx=1107.8 cy=1004.6 r=8 />
<circle class=a cx=1107.0 cy=1100.8 r=8 /><circle class=b cx=1107.0 cy=1060.2 r=8 /><circle class=c cx=1107.0 cy=814.5 r=8 /><circle class=d cx=1107.0 cy=1005.7 r=8 /><circle class=a cx=1106.3 cy=1100.7 r=8 /><circle class=b cx=1106.3 cy=1060.0 r=8 />
<circle class=c cx=1106.3 cy=812.6 r=8 /><circle class=d cx=1106.3 cy=1005.1 r=8 /><circle class=a cx=1105.5 cy=1102.9 r=8 /><circle class=b cx=1105.5 cy=1061.8 r=8 /><circle class=c cx=1105.5 cy=814.5 r=8 /><circle class=d cx=1105.5 cy=1006.4 r=8 />
<circle class=a cx=1104.7 cy=1104.5 r=8 /><circle class=b cx=1104.7 cy=1063.1 r=8 /><circle class=c cx=1104.7 cy=815.3 r=8 /><circle class=d cx=1104.7 cy=1007.3 r=8 /><circle class=a cx=1103.9 cy=1105.5 r=8 /><circle class=b cx=1103.9 cy=1063.8 r=8 />
<circle class=c cx=1103.9 cy=815.2 r=8 /><circle class=d cx=1103.9 cy=1007.6 r=8 /><circle class=a cx=1103.1 cy=1108.8 r=8 /><circle class=b cx=1103.1 cy=1066.5 r=8 /><circle class=c cx=1103.1 cy=818.8 r=8 /><circle class=d cx=1103.1 cy=1009.9 r=8 />
<circle class=a cx=1102.4 cy=1108.6 r=8 /><circle class=b cx=1102.4 cy=1066.2 r=8 /><circle class=c cx=1102.4 cy=816.8 r=8 /><circle class=d cx=1102.4 cy=1009.1 r=8 /><circle class=a cx=1101.6 cy=1108.6 r=8 /><circle class=b cx=1101.6 cy=1066.0 r=8 />
<circle class=c cx=1101.6 cy=815.0 r=8 /><circle class=d cx=1101.6 cy=1008.5 r=8 /><circle class=a cx=1100.8 cy=1110.0 r=8 /><circle class=b cx=1100.8 cy=1067.2 r=8 /><circle class=c cx=1100.8 cy=815.6 r=8 /><circle class=d cx=1100.8 cy=1009.2 r=8 />
<circle class=a cx=1100.0 cy=1111.9 r=8 /><circle class=b cx=1100.0 cy=1068.7 r=8 /><circle class=c cx=1100.0 cy=817.0 r=8 /><circle class=d cx=1100.0 cy=1010.3 r=8 /><circle class=a cx=1099.3 cy=1113.5 r=8 /><circle class=b cx=1099.3 cy=1069.9 r=8 />
<circle class=c cx=1099.3 cy=817.8 r=8 /><circle class=d cx=1099.3 cy=1011.1 r=8 /><circle class=a cx=1098.5 cy=1113.9 r=8 /><circle class=b cx=1098.5 cy=1070.1 r=8 /><circle class=c cx=1098.5 cy=816.9 r=8 /><circle class=d cx=1098.5 cy=1010.9 r=8 />
<circle class=a cx=1097.7 cy=1114.8 r=8 /><circle class=b cx=1097.7 cy=1070.8 r=8 /><circle class=c cx=1097.7 cy=816.7 r=8 /><circle class=d cx=1097.7 cy=1011.2 r=8 /><circle class=a cx=1096.9 cy=1115.6 r=8 /><circle class=b cx=1096.9 cy=1071.4 r=8 />
<circle class=c cx=1096.9 cy=816.5 r=8 /><circle class=d cx=1096.9 cy=1011.4 r=8 /><circle class=a cx=1096.2 cy=1118.4 r=8 /><circle class=b cx=1096.2 cy=1073.6 r=8 /><circle class=c cx=1096.2 cy=819.5 r=8 /><circle class=d cx=1096.2 cy=1013.2 r=8 />
<circle class=a cx=1095.4 cy=1118.2 r=8 /><circle class=b cx=1095.4 cy=1073.3 r=8 /><circle class=c cx=1095.4 cy=817.8 r=8 /><circle class=d cx=1095.4 cy=1012.6 r=8 /><circle class=a cx=1094.6 cy=1119.0 r=8 /><circle class=b cx=1094.6 cy=1073.9 r=8 />
<circle class=c cx=1094.6 cy=817.7 r=8 /><circle class=d cx=1094.6 cy=1012.8 r=8 /><circle class=a cx=1093.8 cy=1120.7 r=8 /><circle class=b cx=1093.8 cy=1075.3 r=8 /><circle class=c cx=1093.8 cy=819.1 r=8 /><circle class=d cx=1093.8 cy=1013.7 r=8 />
<circle class=a cx=1093.1 cy=1121.9 r=8 /><circle class=b cx=1093.1 cy=1076.2 r=8 /><circle class=c cx=1093.1 cy=819.7 r=8 /><circle class=d cx=1093.1 cy=1014.3 r=8 /><circle class=a cx=1092.3 cy=1122.3 r=8 /><circle class=b cx=1092.3 cy=1076.4 r=8 />
<circle class=c cx=1092.3 cy=819.1 r=8 /><circle class=d cx=1092.3 cy=1014.1 r=8 /><circle class=a cx=1091.5 cy=1124.4 r=8 /><circle class=b cx=1091.5 cy=1078.1 r=8 /><circle class=c cx=1091.5 cy=821.4 r=8 /><circle class=d cx=1091.5 cy=1015.5 r=8 />
<circle class=a cx=1090.7 cy=1123.9 r=8 /><circle class=b cx=1090.7 cy=1077.6 r=8 /><circle class=c cx=1090.7 cy=819.4 r=8 /><circle class=d cx=1090.7 cy=1014.7 r=8 /><circle class=a cx=1089.9 cy=1125.3 r=8 /><circle class=b cx=1089.9 cy=1078.7 r=8 />
<circle class=c cx=1089.9 cy=820.6 r=8 /><circle class=d cx=1089.9 cy=1015.4 r=8 /><circle class=a cx=1089.2 cy=1125.6 r=8 /><circle class=b cx=1089.2 cy=1078.8 r=8 /><circle class=c cx=1089.2 cy=819.9 r=8 /><circle class=d cx=1089.2 cy=1015.3 r=8 />
<circle class=a cx=1088.4 cy=1125.9 r=8 /><circle class=b cx=1088.4 cy=1079.0 r=8 /><circle class=c cx=1088.4 cy=819.4 r=8 /><circle class=d cx=1088.4 cy=1015.2 r=8 /><circle class=a cx=1087.6 cy=1127.2 r=8 /><circle class=b cx=1087.6 cy=1080.0 r=8 />
<circle class=c cx=1087.6 cy=820.3 r=8 /><circle class=d cx=1087.6 cy=1015.9 r=8 /><circle class=a cx=1086.8 cy=1128.2 r=8 /><circle class=b cx=1086.8 cy=1080.6 r=8 /><circle class=c cx=1086.8 cy=820.7 r=8 /><circle class=d cx=1086.8 cy=1016.3 r=8 />
<circle class=a cx=1086.1 cy=1128.8 r=8 /><circle class=b cx=1086.1 cy=1081.1 r=8 /><circle class=c cx=1086.1 cy=820.7 r=8 /><circle class=d cx=1086.1 cy=1016.5 r=8 /><circle class=a cx=1085.3 cy=1129.2 r=8 /><circle class=b cx=1085.3 cy=1081.3 r=8 />
<circle class=c cx=1085.3 cy=820.2 r=8 /><circle class=d cx=1085.3 cy=1016.5 r=8 /><circle class=a cx=1084.5 cy=1130.0 r=8 /><circle class=b cx=1084.5 cy=1081.8 r=8 /><circle class=c cx=1084.5 cy=820.3 r=8 /><circle class=d cx=1084.5 cy=1016.7 r=8 />
<circle class=a cx=1083.7 cy=1131.0 r=8 /><circle class=b cx=1083.7 cy=1082.6 r=8 /><circle class=c cx=1083.7 cy=820.9 r=8 /><circle class=d cx=1083.7 cy=1017.3 r=8 /><circle class=a cx=1083.0 cy=1132.1 r=8 /><circle class=b cx=1083.0 cy=1083.5 r=8 />
<circle class=c cx=1083.0 cy=821.5 r=8 /><circle class=d cx=1083.0 cy=1017.9 r=8 /><circle class=a cx=1082.2 cy=1132.5 r=8 /><circle class=b cx=1082.2 cy=1083.7 r=8 /><circle class=c cx=1082.2 cy=821.0 r=8 /><circle class=d cx=1082.2 cy=1017.8 r=8 />
<circle class=a cx=1081.4 cy=1132.9 r=8 /><circle class=b cx=1081.4 cy=1083.9 r=8 /><circle class=c cx=1081.4 cy=820.6 r=8 /><circle class=d cx=1081.4 cy=1017.8 r=8 /><circle class=a cx=1080.6 cy=1134.6 r=8 /><circle class=b cx=1080.6 cy=1085.3 r=8 />
<circle class=c cx=1080.6 cy=822.3 r=8 /><circle class=d cx=1080.6 cy=1019.0 r=8 /><circle class=a cx=1079.9 cy=1134.9 r=8 /><circle class=b cx=1079.9 cy=1085.5 r=8 /><circle class=c cx=1079.9 cy=821.8 r=8 /><circle class=d cx=1079.9 cy=1018.9 r=8 />
<circle class=a cx=1079.1 cy=1135.5 r=8 /><circle class=b cx=1079.1 cy=1086.0 r=8 /><circle class=c cx=1079.1 cy=821.8 r=8 /><circle class=d cx=1079.1 cy=1019.1 r=8 /><circle class=a cx=1078.3 cy=1135.5 r=8 /><circle class=b cx=1078.3 cy=1085.9 r=8 />
<circle class=c cx=1078.3 cy=820.8 r=8 /><circle class=d cx=1078.3 cy=1018.7 r=8 /><circle class=a cx=1077.5 cy=1135.9 r=8 /><circle class=b cx=1077.5 cy=1086.2 r=8 /><circle class=c cx=1077.5 cy=820.4 r=8 /><circle class=d cx=1077.5 cy=1018.7 r=8 />
<circle class=a cx=1076.7 cy=1136.7 r=8 /><circle class=b cx=1076.7 cy=1086.8 r=8 /><circle class=c cx=1076.7 cy=820.8 r=8 /><circle class=d cx=1076.7 cy=1019.1 r=8 /><circle class=a cx=1076.0 cy=1136.8 r=8 /><circle class=b cx=1076.0 cy=1086.9 r=8 />
<circle class=c cx=1076.0 cy=820.2 r=8 /><circle class=d cx=1076.0 cy=1018.9 r=8 /><circle class=a cx=1075.2 cy=1137.5 r=8 /><circle class=b cx=1075.2 cy=1087.5 r=8 /><circle class=c cx=1075.2 cy=820.3 r=8 /><circle class=d cx=1075.2 cy=1019.1 r=8 />
<circle class=a cx=1074.4 cy=1138.1 r=8 /><circle class=b cx=1074.4 cy=1088.0 r=8 /><circle class=c cx=1074.4 cy=820.5 r=8 /><circle class=d cx=1074.4 cy=1019.3 r=8 /><circle class=a cx=1073.6 cy=1138.5 r=8 /><circle class=b cx=1073.6 cy=1088.4 r=8 />
<circle class=c cx=1073.6 cy=820.4 r=8 /><circle class=d cx=1073.6 cy=1019.3 r=8 /><circle class=a cx=1072.9 cy=1139.0 r=8 /><circle class=b cx=1072.9 cy=1088.9 r=8 /><circle class=c cx=1072.9 cy=820.4 r=8 /><circle class=d cx=1072.9 cy=1019.4 r=8 />
<circle class=a cx=1072.1 cy=1139.4 r=8 /><circle class=b cx=1072.1 cy=1089.3 r=8 /><circle class=c cx=1072.1 cy=820.3 r=8 /><circle class=d cx=1072.1 cy=1019.5 r=8 /><circle class=a cx=1071.3 cy=1139.8 r=8 /><circle class=b cx=1071.3 cy=1089.6 r=8 />
<circle class=c cx=1071.3 cy=820.1 r=8 /><circle class=d cx=1071.3 cy=1019.5 r=8 /><circle class=a cx=1070.5 cy=1140.7 r=8 /><circle class=b cx=1070.5 cy=1090.5 r=8 /><circle class=c cx=1070.5 cy=820.9 r=8 /><circle class=d cx=1070.5 cy=1020.0 r=8 />
<circle class=a cx=1069.8 cy=1140.6 r=8 /><circle class=b cx=1069.8 cy=1090.4 r=8 /><circle class=c cx=1069.8 cy=820.0 r=8 /><circle class=d cx=1069.8 cy=1019.6 r=8 /><circle class=a cx=1069.0 cy=1141.1 r=8 /><circle class=b cx=1069.0 cy=1090.9 r=8 />
<circle class=c cx=1069.0 cy=820.0 r=8 /><circle class=d cx=1069.0 cy=1019.7 r=8 /><circle class=a cx=1068.2 cy=1141.5 r=8 /><circle class=b cx=1068.2 cy=1091.3 r=8 /><circle class=c cx=1068.2 cy=820.0 r=8 /><circle class=d cx=1068.2 cy=1019.8 r=8 />
<circle class=a cx=1067.4 cy=1142.0 r=8 /><circle class=b cx=1067.4 cy=1091.8 r=8 /><circle class=c cx=1067.4 cy=820.1 r=8 /><circle class=d cx=1067.4 cy=1020.0 r=8 /><circle class=a cx=1066.7 cy=1142.7 r=8 /><circle class=b cx=1066.7 cy=1092.5 r=8 />
<circle class=c cx=1066.7 cy=820.6 r=8 /><circle class=d cx=1066.7 cy=1020.3 r=8 /><circle class=a cx=1065.9 cy=1142.7 r=8 /><circle class=b cx=1065.9 cy=1092.6 r=8 /><circle class=c cx=1065.9 cy=819.9 r=8 /><circle class=d cx=1065.9 cy=1020.1 r=8 />
<circle class=a cx=1065.1 cy=1143.0 r=8 /><circle class=b cx=1065.1 cy=1092.9 r=8 /><circle class=c cx=1065.1 cy=819.7 r=8 /><circle class=d cx=1065.1 cy=1020.0 r=8 /><circle class=a cx=1064.3 cy=1143.4 r=8 /><circle class=b cx=1064.3 cy=1093.3 r=8 />
<circle class=c cx=1064.3 cy=819.7 r=8 /><circle class=d cx=1064.3 cy=1020.1 r=8 /><circle class=a cx=1063.5 cy=1143.9 r=8 /><circle class=b cx=1063.5 cy=1093.8 r=8 /><circle class=c cx=1063.5 cy=819.7 r=8 /><circle class=d cx=1063.5 cy=1020.3 r=8 />
<circle class=a cx=1062.8 cy=1144.1 r=8 /><circle class=b cx=1062.8 cy=1094.0 r=8 /><circle class=c cx=1062.8 cy=819.4 r=8 /><circle class=d cx=1062.8 cy=1020.2 r=8 /><circle class=a cx=1062.0 cy=1144.5 r=8 /><circle class=b cx=1062.0 cy=1094.4 r=8 />
<circle class=c cx=1062.0 cy=819.4 r=8 /><circle class=d cx=1062.0 cy=1020.3 r=8 /><circle class=a cx=1061.2 cy=1144.8 r=8 /><circle class=b cx=1061.2 cy=1094.8 r=8 /><circle class=c cx=1061.2 cy=819.2 r=8 /><circle class=d cx=1061.2 cy=1020.3 r=8 />
<circle class=a cx=1060.4 cy=1145.0 r=8 /><circle class=b cx=1060.4 cy=1095.0 r=8 /><circle class=c cx=1060.4 cy=818.9 r=8 /><circle class=d cx=1060.4 cy=1020.3 r=8 /><circle class=a cx=1059.7 cy=1145.5 r=8 /><circle class=b cx=1059.7 cy=1095.5 r=8 />
<circle class=c cx=1059.7 cy=819.0 r=8 /><circle class=d cx=1059.7 cy=1020.4 r=8 /><circle class=a cx=1058.9 cy=1145.7 r=8 /><circle class=b cx=1058.9 cy=1095.7 r=8 /><circle class=c cx=1058.9 cy=818.7 r=8 /><circle class=d cx=1058.9 cy=1020.4 r=8 />
<circle class=a cx=1058.1 cy=1146.0 r=8 /><circle class=b cx=1058.1 cy=1096.0 r=8 /><circle class=c cx=1058.1 cy=818.5 r=8 /><circle class=d cx=1058.1 cy=1020.4 r=8 /><circle class=a cx=1057.3 cy=1146.4 r=8 /><circle class=b cx=1057.3 cy=1096.4 r=8 />
<circle class=c cx=1057.3 cy=818.4 r=8 /><circle class=d cx=1057.3 cy=1020.4 r=8 /><circle class=a cx=1056.6 cy=1146.6 r=8 /><circle class=b cx=1056.6 cy=1096.6 r=8 /><circle class=c cx=1056.6 cy=818.1 r=8 /><circle class=d cx=1056.6 cy=1020.3 r=8 />
<circle class=a cx=1055.8 cy=1147.0 r=8 /><circle class=b cx=1055.8 cy=1097.0 r=8 /><circle class=c cx=1055.8 cy=818.1 r=8 /><circle class=d cx=1055.8 cy=1020.4 r=8 /><circle class=a cx=1055.0 cy=1147.3 r=8 /><circle class=b cx=1055.0 cy=1097.2 r=8 />
<circle class=c cx=1055.0 cy=817.8 r=8 /><circle class=d cx=1055.0 cy=1020.3 r=8 /><circle class=a cx=1054.2 cy=1147.4 r=8 /><circle class=b cx=1054.2 cy=1097.4 r=8 /><circle class=c cx=1054.2 cy=817.5 r=8 /><circle class=d cx=1054.2 cy=1020.1 r=8 />
<circle class=a cx=1053.5 cy=1147.8 r=8 /><circle class=b cx=1053.5 cy=1097.7 r=8 /><circle class=c cx=1053.5 cy=817.4 r=8 /><circle class=d cx=1053.5 cy=1020.1 r=8 /><circle class=a cx=1052.7 cy=1148.2 r=8 /><circle class=b cx=1052.7 cy=1098.1 r=8 />
<circle class=c cx=1052.7 cy=817.5 r=8 /><circle class=d cx=1052.7 cy=1020.2 r=8 /><circle class=a cx=1051.9 cy=1148.3 r=8 /><circle class=b cx=1051.9 cy=1098.2 r=8 /><circle class=c cx=1051.9 cy=817.1 r=8 /><circle class=d cx=1051.9 cy=1020.0 r=8 />
<circle class=a cx=1051.1 cy=1148.4 r=8 /><circle class=b cx=1051.1 cy=1098.3 r=8 /><circle class=c cx=1051.1 cy=816.8 r=8 /><circle class=d cx=1051.1 cy=1019.8 r=8 /><circle class=a cx=1050.3 cy=1148.6 r=8 /><circle class=b cx=1050.3 cy=1098.5 r=8 />
<circle class=c cx=1050.3 cy=816.7 r=8 /><circle class=d cx=1050.3 cy=1019.7 r=8 /><circle class=a cx=1049.6 cy=1148.7 r=8 /><circle class=b cx=1049.6 cy=1098.6 r=8 /><circle class=c cx=1049.6 cy=816.4 r=8 /><circle class=d cx=1049.6 cy=1019.5 r=8 />
<circle class=a cx=1048.8 cy=1148.8 r=8 /><circle class=b cx=1048.8 cy=1098.8 r=8 /><circle class=c cx=1048.8 cy=816.3 r=8 /><circle class=d cx=1048.8 cy=1019.4 r=8 /><circle class=a cx=1048.0 cy=1149.0 r=8 /><circle class=b cx=1048.0 cy=1098.9 r=8 />
<circle class=c cx=1048.0 cy=816.1 r=8 /><circle class=d cx=1048.0 cy=1019.3 r=8 /><circle class=a cx=1047.2 cy=1149.1 r=8 /><circle class=b cx=1047.2 cy=1099.1 r=8 /><circle class=c cx=1047.2 cy=815.9 r=8 /><circle class=d cx=1047.2 cy=1019.1 r=8 />
<circle class=a cx=1046.5 cy=1149.2 r=8 /><circle class=b cx=1046.5 cy=1099.2 r=8 /><circle class=c cx=1046.5 cy=815.8 r=8 /><circle class=d cx=1046.5 cy=1019.0 r=8 /><circle class=a cx=1045.7 cy=1149.4 r=8 /><circle class=b cx=1045.7 cy=1099.4 r=8 />
<circle class=c cx=1045.7 cy=815.7 r=8 /><circle class=d cx=1045.7 cy=1018.9 r=8 /><circle class=a cx=1044.9 cy=1149.4 r=8 /><circle class=b cx=1044.9 cy=1099.5 r=8 /><circle class=c cx=1044.9 cy=815.4 r=8 /><circle class=d cx=1044.9 cy=1018.7 r=8 />
<circle class=a cx=1044.1 cy=1149.5 r=8 /><circle class=b cx=1044.1 cy=1099.6 r=8 /><circle class=c cx=1044.1 cy=815.2 r=8 /><circle class=d cx=1044.1 cy=1018.5 r=8 /><circle class=a cx=1043.4 cy=1149.6 r=8 /><circle class=b cx=1043.4 cy=1099.6 r=8 />
<circle class=c cx=1043.4 cy=815.0 r=8 /><circle class=d cx=1043.4 cy=1018.4 r=8 /><circle class=a cx=1042.6 cy=1149.6 r=8 /><circle class=b cx=1042.6 cy=1099.7 r=8 /><circle class=c cx=1042.6 cy=814.8 r=8 /><circle class=d cx=1042.6 cy=1018.2 r=8 />
<circle class=a cx=1041.8 cy=1149.6 r=8 /><circle class=b cx=1041.8 cy=1099.7 r=8 /><circle class=c cx=1041.8 cy=814.6 r=8 /><circle class=d cx=1041.8 cy=1018.1 r=8 /><circle class=a cx=1041.0 cy=1149.6 r=8 /><circle class=b cx=1041.0 cy=1099.7 r=8 />
<circle class=c cx=1041.0 cy=814.3 r=8 /><circle class=d cx=1041.0 cy=1017.9 r=8 /><circle class=a cx=1040.3 cy=1149.6 r=8 /><circle class=b cx=1040.3 cy=1099.7 r=8 /><circle class=c cx=1040.3 cy=814.1 r=8 /><circle class=d cx=1040.3 cy=1017.7 r=8 />
<circle class=a cx=1039.5 cy=1149.6 r=8 /><circle class=b cx=1039.5 cy=1099.7 r=8 /><circle class=c cx=1039.5 cy=813.9 r=8 /><circle class=d cx=1039.5 cy=1017.5 r=8 /><circle class=a cx=1038.7 cy=1149.5 r=8 /><circle class=b cx=1038.7 cy=1099.6 r=8 />
<circle class=c cx=1038.7 cy=813.6 r=8 /><circle class=d cx=1038.7 cy=1017.3 r=8 /><circle class=a cx=1037.9 cy=1149.5 r=8 /><circle class=b cx=1037.9 cy=1099.6 r=8 /><circle class=c cx=1037.9 cy=813.4 r=8 /><circle class=d cx=1037.9 cy=1017.0 r=8 />
<circle class=a cx=1037.1 cy=1149.4 r=8 /><circle class=b cx=1037.1 cy=1099.6 r=8 /><circle class=c cx=1037.1 cy=813.2 r=8 /><circle class=d cx=1037.1 cy=1016.8 r=8 /><circle class=a cx=1036.4 cy=1149.4 r=8 /><circle class=b cx=1036.4 cy=1099.6 r=8 />
<circle class=c cx=1036.4 cy=812.9 r=8 /><circle class=d cx=1036.4 cy=1016.6 r=8 /><circle class=a cx=1035.6 cy=1149.3 r=8 /><circle class=b cx=1035.6 cy=1099.5 r=8 /><circle class=c cx=1035.6 cy=812.6 r=8 /><circle class=d cx=1035.6 cy=1016.3 r=8 />
<circle class=a cx=1034.8 cy=1149.3 r=8 /><circle class=b cx=1034.8 cy=1099.5 r=8 /><circle class=c cx=1034.8 cy=812.4 r=8 /><circle class=d cx=1034.8 cy=1016.0 r=8 /><circle class=a cx=1034.0 cy=1149.2 r=8 /><circle class=b cx=1034.0 cy=1099.4 r=8 />
<circle class=c cx=1034.0 cy=812.1 r=8 /><circle class=d cx=1034.0 cy=1015.7 r=8 /><circle class=a cx=1033.3 cy=1149.2 r=8 /><circle class=b cx=1033.3 cy=1099.4 r=8 /><circle class=c cx=1033.3 cy=811.9 r=8 /><circle class=d cx=1033.3 cy=1015.4 r=8 />
<circle class=a cx=1032.5 cy=1149.1 r=8 /><circle class=b cx=1032.5 cy=1099.3 r=8 /><circle class=c cx=1032.5 cy=811.6 r=8 /><circle class=d cx=1032.5 cy=1015.1 r=8 /><circle class=a cx=1031.7 cy=1149.0 r=8 /><circle class=b cx=1031.7 cy=1099.2 r=8 />
<circle class=c cx=1031.7 cy=811.3 r=8 /><circle class=d cx=1031.7 cy=1014.8 r=8 /><circle class=a cx=1030.9 cy=1148.9 r=8 /><circle class=b cx=1030.9 cy=1099.1 r=8 /><circle class=c cx=1030.9 cy=811.0 r=8 /><circle class=d cx=1030.9 cy=1014.5 r=8 />
<circle class=a cx=1030.2 cy=1148.8 r=8 /><circle class=b cx=1030.2 cy=1099.0 r=8 /><circle class=c cx=1030.2 cy=810.8 r=8 /><circle class=d cx=1030.2 cy=1014.2 r=8 /><circle class=a cx=1029.4 cy=1148.6 r=8 /><circle class=b cx=1029.4 cy=1098.8 r=8 />
<circle class=c cx=1029.4 cy=810.5 r=8 /><circle class=d cx=1029.4 cy=1013.8 r=8 /><circle class=a cx=1028.6 cy=1148.5 r=8 /><circle class=b cx=1028.6 cy=1098.7 r=8 /><circle class=c cx=1028.6 cy=810.2 r=8 /><circle class=d cx=1028.6 cy=1013.5 r=8 />
<circle class=a cx=1027.8 cy=1148.4 r=8 /><circle class=b cx=1027.8 cy=1098.5 r=8 /><circle class=c cx=1027.8 cy=809.9 r=8 /><circle class=d cx=1027.8 cy=1013.1 r=8 /><circle class=a cx=1027.1 cy=1148.2 r=8 /><circle class=b cx=1027.1 cy=1098.3 r=8 />
<circle class=c cx=1027.1 cy=809.6 r=8 /><circle class=d cx=1027.1 cy=1012.8 r=8 /><circle class=a cx=1026.3 cy=1148.1 r=8 /><circle class=b cx=1026.3 cy=1098.2 r=8 /><circle class=c cx=1026.3 cy=809.3 r=8 /><circle class=d cx=1026.3 cy=1012.4 r=8 />
<circle class=a cx=1025.5 cy=1147.9 r=8 /><circle class=b cx=1025.5 cy=1098.0 r=8 /><circle class=c cx=1025.5 cy=809.0 r=8 /><circle class=d cx=1025.5 cy=1012.0 r=8 /><circle class=a cx=1024.7 cy=1147.8 r=8 /><circle class=b cx=1024.7 cy=1097.8 r=8 />
<circle class=c cx=1024.7 cy=808.7 r=8 /><circle class=d cx=1024.7 cy=1011.7 r=8 /><circle class=a cx=1023.9 cy=1147.6 r=8 /><circle class=b cx=1023.9 cy=1097.6 r=8 /><circle class=c cx=1023.9 cy=808.3 r=8 /><circle class=d cx=1023.9 cy=1011.3 r=8 />
<circle class=a cx=1023.2 cy=1147.4 r=8 /><circle class=b cx=1023.2 cy=1097.4 r=8 /><circle class=c cx=1023.2 cy=808.0 r=8 /><circle class=d cx=1023.2 cy=1010.9 r=8 /><circle class=a cx=1022.4 cy=1147.3 r=8 /><circle class=b cx=1022.4 cy=1097.3 r=8 />
<circle class=c cx=1022.4 cy=807.7 r=8 /><circle class=d cx=1022.4 cy=1010.5 r=8 /><circle class=a cx=1021.6 cy=1147.1 r=8 /><circle class=b cx=1021.6 cy=1097.1 r=8 /><circle class=c cx=1021.6 cy=807.4 r=8 /><circle class=d cx=1021.6 cy=1010.2 r=8 />
<circle class=a cx=1020.8 cy=1146.9 r=8 /><circle class=b cx=1020.8 cy=1096.9 r=8 /><circle class=c cx=1020.8 cy=807.0 r=8 /><circle class=d cx=1020.8 cy=1009.8 r=8 /><circle class=a cx=1020.1 cy=1146.7 r=8 /><circle class=b cx=1020.1 cy=1096.7 r=8 />
<circle class=c cx=1020.1 cy=806.7 r=8 /><circle class=d cx=1020.1 cy=1009.4 r=8 /><circle class=a cx=1019.3 cy=1146.5 r=8 /><circle class=b cx=1019.3 cy=1096.5 r=8 /><circle class=c cx=1019.3 cy=806.3 r=8 /><circle class=d cx=1019.3 cy=1009.0 r=8 />
<circle class=a cx=1018.5 cy=1146.2 r=8 /><circle class=b cx=1018.5 cy=1096.3 r=8 /><circle class=c cx=1018.5 cy=805.9 r=8 /><circle class=d cx=1018.5 cy=1008.6 r=8 /><circle class=a cx=1017.7 cy=1146.0 r=8 /><circle class=b cx=1017.7 cy=1096.1 r=8 />
<circle class=c cx=1017.7 cy=805.6 r=8 /><circle class=d cx=1017.7 cy=1008.1 r=8 /><circle class=a cx=1017.0 cy=1145.7 r=8 /><circle class=b cx=1017.0 cy=1095.8 r=8 /><circle class=c cx=1017.0 cy=805.2 r=8 /><circle class=d cx=1017.0 cy=1007.7 r=8 />
<circle class=a cx=1016.2 cy=1145.4 r=8 /><circle class=b cx=1016.2 cy=1095.6 r=8 /><circle class=c cx=1016.2 cy=804.8 r=8 /><circle class=d cx=1016.2 cy=1007.2 r=8 /><circle class=a cx=1015.4 cy=1145.1 r=8 /><circle class=b cx=1015.4 cy=1095.4 r=8 />
<circle class=c cx=1015.4 cy=804.4 r=8 /><circle class=d cx=1015.4 cy=1006.8 r=8 /><circle class=a cx=1014.6 cy=1144.8 r=8 /><circle class=b cx=1014.6 cy=1095.1 r=8 /><circle class=c cx=1014.6 cy=804.0 r=8 /><circle class=d cx=1014.6 cy=1006.3 r=8 />
<circle class=a cx=1013.9 cy=1144.5 r=8 /><circle class=b cx=1013.9 cy=1094.9 r=8 /><circle class=c cx=1013.9 cy=803.6 r=8 /><circle class=d cx=1013.9 cy=1005.8 r=8 /><circle class=a cx=1013.1 cy=1144.2 r=8 /><circle class=b cx=1013.1 cy=1094.6 r=8 />
<circle class=c cx=1013.1 cy=803.2 r=8 /><circle class=d cx=1013.1 cy=1005.3 r=8 /><circle class=a cx=1012.3 cy=1143.9 r=8 /><circle class=b cx=1012.3 cy=1094.3 r=8 /><circle class=c cx=1012.3 cy=802.8 r=8 /><circle class=d cx=1012.3 cy=1004.8 r=8 />
<circle class=a cx=1011.5 cy=1143.5 r=8 /><circle class=b cx=1011.5 cy=1094.1 r=8 /><circle class=c cx=1011.5 cy=802.4 r=8 /><circle class=d cx=1011.5 cy=1004.3 r=8 /><circle class=a cx=1010.7 cy=1143.2 r=8 /><circle class=b cx=1010.7 cy=1093.8 r=8 />
<circle class=c cx=1010.7 cy=801.9 r=8 /><circle class=d cx=1010.7 cy=1003.8 r=8 /><circle class=a cx=1010.0 cy=1142.8 r=8 /><circle class=b cx=1010.0 cy=1093.5 r=8 /><circle class=c cx=1010.0 cy=801.5 r=8 /><circle class=d cx=1010.0 cy=1003.3 r=8 />
<circle class=a cx=1009.2 cy=1142.4 r=8 /><circle class=b cx=1009.2 cy=1093.2 r=8 /><circle class=c cx=1009.2 cy=801.1 r=8 /><circle class=d cx=1009.2 cy=1002.8 r=8 /><circle class=a cx=1008.4 cy=1142.1 r=8 /><circle class=b cx=1008.4 cy=1092.9 r=8 />
<circle class=c cx=1008.4 cy=800.7 r=8 /><circle class=d cx=1008.4 cy=1002.2 r=8 /><circle class=a cx=1007.6 cy=1141.7 r=8 /><circle class=b cx=1007.6 cy=1092.6 r=8 /><circle class=c cx=1007.6 cy=800.3 r=8 /><circle class=d cx=1007.6 cy=1001.7 r=8 />
<circle class=a cx=1006.9 cy=1141.3 r=8 /><circle class=b cx=1006.9 cy=1092.3 r=8 /><circle class=c cx=1006.9 cy=799.9 r=8 /><circle class=d cx=1006.9 cy=1001.2 r=8 /><circle class=a cx=1006.1 cy=1141.0 r=8 /><circle class=b cx=1006.1 cy=1092.0 r=8 />
<circle class=c cx=1006.1 cy=799.5 r=8 /><circle class=d cx=1006.1 cy=1000.7 r=8 /><circle class=a cx=1005.3 cy=1140.6 r=8 /><circle class=b cx=1005.3 cy=1091.7 r=8 /><circle class=c cx=1005.3 cy=799.1 r=8 /><circle class=d cx=1005.3 cy=1000.1 r=8 />
<circle class=a cx=1004.5 cy=1140.2 r=8 /><circle class=b cx=1004.5 cy=1091.4 r=8 /><circle class=c cx=1004.5 cy=798.7 r=8 /><circle class=d cx=1004.5 cy=999.6 r=8 /><circle class=a cx=1003.8 cy=1139.8 r=8 /><circle class=b cx=1003.8 cy=1091.1 r=8 />
<circle class=c cx=1003.8 cy=798.3 r=8 /><circle class=d cx=1003.8 cy=999.1 r=8 /><circle class=a cx=1003.0 cy=1139.4 r=8 /><circle class=b cx=1003.0 cy=1090.7 r=8 /><circle class=c cx=1003.0 cy=797.8 r=8 /><circle class=d cx=1003.0 cy=998.5 r=8 />
<circle class=a cx=1002.2 cy=1139.1 r=8 /><circle class=b cx=1002.2 cy=1090.4 r=8 /><circle class=c cx=1002.2 cy=797.4 r=8 /><circle class=d cx=1002.2 cy=998.0 r=8 /><circle class=a cx=1001.4 cy=1138.7 r=8 /><circle class=b cx=1001.4 cy=1090.1 r=8 />
<circle class=c cx=1001.4 cy=797.0 r=8 /><circle class=d cx=1001.4 cy=997.5 r=8 /><circle class=a cx=1000.7 cy=1138.3 r=8 /><circle class=b cx=1000.7 cy=1089.8 r=8 /><circle class=c cx=1000.7 cy=796.6 r=8 /><circle class=d cx=1000.7 cy=996.9 r=8 />
<circle class=a cx=999.9 cy=1137.9 r=8 /><circle class=b cx=999.9 cy=1089.4 r=8 /><circle class=c cx=999.9 cy=796.1 r=8 /><circle class=d cx=999.9 cy=996.4 r=8 /><circle class=a cx=999.1 cy=1137.6 r=8 /><circle class=b cx=999.1 cy=1089.1 r=8 />
<circle class=c cx=999.1 cy=795.7 r=8 /><circle class=d cx=999.1 cy=995.9 r=8 /><circle class=a cx=998.3 cy=1137.2 r=8 /><circle class=b cx=998.3 cy=1088.8 r=8 /><circle class=c cx=998.3 cy=795.3 r=8 /><circle class=d cx=998.3 cy=995.4 r=8 />
<circle class=a cx=997.5 cy=1136.8 r=8 /><circle class=b cx=997.5 cy=1088.4 r=8 /><circle class=c cx=997.5 cy=794.8 r=8 /><circle class=d cx=997.5 cy=994.8 r=8 /><circle class=a cx=996.8 cy=1136.4 r=8 /><circle class=b cx=996.8 cy=1088.0 r=8 />
<circle class=c cx=996.8 cy=794.4 r=8 /><circle class=d cx=996.8 cy=994.3 r=8 /><circle class=a cx=996.0 cy=1136.0 r=8 /><circle class=b cx=996.0 cy=1087.6 r=8 /><circle class=c cx=996.0 cy=793.9 r=8 /><circle class=d cx=996.0 cy=993.8 r=8 />
<circle class=a cx=995.2 cy=1135.7 r=8 /><circle class=b cx=995.2 cy=1087.2 r=8 /><circle class=c cx=995.2 cy=793.4 r=8 /><circle class=d cx=995.2 cy=993.2 r=8 /><circle class=a cx=994.4 cy=1135.3 r=8 /><circle class=b cx=994.4 cy=1086.8 r=8 />
<circle class=c cx=994.4 cy=793.0 r=8 /><circle class=d cx=994.4 cy=992.7 r=8 /><circle class=a cx=993.7 cy=1134.9 r=8 /><circle class=b cx=993.7 cy=1086.4 r=8 /><circle class=c cx=993.7 cy=792.5 r=8 /><circle class=d cx=993.7 cy=992.2 r=8 />
<circle class=a cx=992.9 cy=1134.5 r=8 /><circle class=b cx=992.9 cy=1086.0 r=8 /><circle class=c cx=992.9 cy=792.0 r=8 /><circle class=d cx=992.9 cy=991.6 r=8 /><circle class=a cx=992.1 cy=1134.0 r=8 /><circle class=b cx=992.1 cy=1085.6 r=8 />
<circle class=c cx=992.1 cy=791.6 r=8 /><circle class=d cx=992.1 cy=991.1 r=8 /><circle class=a cx=991.3 cy=1133.6 r=8 /><circle class=b cx=991.3 cy=1085.2 r=8 /><circle class=c cx=991.3 cy=791.1 r=8 /><circle class=d cx=991.3 cy=990.5 r=8 />
<circle class=a cx=990.6 cy=1133.2 r=8 /><circle class=b cx=990.6 cy=1084.8 r=8 /><circle class=c cx=990.6 cy=790.6 r=8 /><circle class=d cx=990.6 cy=990.0 r=8 /><circle class=a cx=989.8 cy=1132.8 r=8 /><circle class=b cx=989.8 cy=1084.4 r=8 />
<circle class=c cx=989.8 cy=790.1 r=8 /><circle class=d cx=989.8 cy=989.4 r=8 /><circle class=a cx=989.0 cy=1132.4 r=8 /><circle class=b cx=989.0 cy=1084.0 r=8 /><circle class=c cx=989.0 cy=789.6 r=8 /><circle class=d cx=989.0 cy=988.9 r=8 />
<circle class=a cx=988.2 cy=1132.0 r=8 /><circle class=b cx=988.2 cy=1083.6 r=8 /><circle class=c cx=988.2 cy=789.0 r=8 /><circle class=d cx=988.2 cy=988.3 r=8 /><circle class=a cx=987.5 cy=1131.5 r=8 /><circle class=b cx=987.5 cy=1083.1 r=8 />
<circle class=c cx=987.5 cy=788.5 r=8 /><circle class=d cx=987.5 cy=987.7 r=8 /><circle class=a cx=986.7 cy=1131.1 r=8 /><circle class=b cx=986.7 cy=1082.7 r=8 /><circle class=c cx=986.7 cy=788.0 r=8 /><circle class=d cx=986.7 cy=987.2 r=8 />
<circle class=a cx=985.9 cy=1130.7 r=8 /><circle class=b cx=985.9 cy=1082.3 r=8 /><circle class=c cx=985.9 cy=787.5 r=8 /><circle class=d cx=985.9 cy=986.6 r=8 /><circle class=a cx=985.1 cy=1130.3 r=8 /><circle class=b cx=985.1 cy=1081.8 r=8 />
<circle class=c cx=985.1 cy=787.0 r=8 /><circle class=d cx=985.1 cy=986.1 r=8 /><circle class=a cx=984.3 cy=1129.9 r=8 /><circle class=b cx=984.3 cy=1081.4 r=8 /><circle class=c cx=984.3 cy=786.4 r=8 /><circle class=d cx=984.3 cy=985.5 r=8 />
<circle class=a cx=983.6 cy=1129.4 r=8 /><circle class=b cx=983.6 cy=1081.0 r=8 /><circle class=c cx=983.6 cy=785.9 r=8 /><circle class=d cx=983.6 cy=985.0 r=8 /><circle class=a cx=982.8 cy=1129.0 r=8 /><circle class=b cx=982.8 cy=1080.5 r=8 />
<circle class=c cx=982.8 cy=785.4 r=8 /><circle class=d cx=982.8 cy=984.4 r=8 /><circle class=a cx=982.0 cy=1128.6 r=8 /><circle class=b cx=982.0 cy=1080.1 r=8 /><circle class=c cx=982.0 cy=784.9 r=8 /><circle class=d cx=982.0 cy=983.8 r=8 />
<circle class=a cx=981.2 cy=1128.2 r=8 /><circle class=b cx=981.2 cy=1079.7 r=8 /><circle class=c cx=981.2 cy=784.3 r=8 /><circle class=d cx=981.2 cy=983.3 r=8 /><circle class=a cx=980.5 cy=1127.7 r=8 /><circle class=b cx=980.5 cy=1079.3 r=8 />
<circle class=c cx=980.5 cy=783.8 r=8 /><circle class=d cx=980.5 cy=982.7 r=8 /><circle class=a cx=979.7 cy=1127.3 r=8 /><circle class=b cx=979.7 cy=1078.8 r=8 /><circle class=c cx=979.7 cy=783.3 r=8 /><circle class=d cx=979.7 cy=982.2 r=8 />
<circle class=a cx=978.9 cy=1126.9 r=8 /><circle class=b cx=978.9 cy=1078.4 r=8 /><circle class=c cx=978.9 cy=782.8 r=8 /><circle class=d cx=978.9 cy=981.6 r=8 /><circle class=a cx=978.1 cy=1126.5 r=8 /><circle class=b cx=978.1 cy=1078.0 r=8 />
<circle class=c cx=978.1 cy=782.2 r=8 /><circle class=d cx=978.1 cy=981.1 r=8 /><circle class=a cx=977.4 cy=1126.1 r=8 /><circle class=b cx=977.4 cy=1077.5 r=8 /><circle class=c cx=977.4 cy=781.7 r=8 /><circle class=d cx=977.4 cy=980.5 r=8 />
<circle class=a cx=976.6 cy=1125.7 r=8 /><circle class=b cx=976.6 cy=1077.1 r=8 /><circle class=c cx=976.6 cy=781.2 r=8 /><circle class=d cx=976.6 cy=980.0 r=8 /><circle class=a cx=975.8 cy=1125.2 r=8 /><circle class=b cx=975.8 cy=1076.7 r=8 />
<circle class=c cx=975.8 cy=780.7 r=8 /><circle class=d cx=975.8 cy=979.4 r=8 /><circle class=a cx=975.0 cy=1124.8 r=8 /><circle class=b cx=975.0 cy=1076.3 r=8 /><circle class=c cx=975.0 cy=780.1 r=8 /><circle class=d cx=975.0 cy=978.9 r=8 />
<circle class=a cx=974.3 cy=1124.4 r=8 /><circle class=b cx=974.3 cy=1075.8 r=8 /><circle class=c cx=974.3 cy=779.6 r=8 /><circle class=d cx=974.3 cy=978.3 r=8 /><circle class=a cx=973.5 cy=1124.0 r=8 /><circle class=b cx=973.5 cy=1075.4 r=8 />
<circle class=c cx=973.5 cy=779.1 r=8 /><circle class=d cx=973.5 cy=977.8 r=8 /><circle class=a cx=972.7 cy=1123.5 r=8 /><circle class=b cx=972.7 cy=1075.0 r=8 /><circle class=c cx=972.7 cy=778.5 r=8 /><circle class=d cx=972.7 cy=977.2 r=8 />
<circle class=a cx=971.9 cy=1123.1 r=8 /><circle class=b cx=971.9 cy=1074.6 r=8 /><circle class=c cx=971.9 cy=778.0 r=8 /><circle class=d cx=971.9 cy=976.7 r=8 /><circle class=a cx=971.1 cy=1122.7 r=8 /><circle class=b cx=971.1 cy=1074.1 r=8 />
<circle class=c cx=971.1 cy=777.4 r=8 /><circle class=d cx=971.1 cy=976.1 r=8 /><circle class=a cx=970.4 cy=1122.3 r=8 /><circle class=b cx=970.4 cy=1073.7 r=8 /><circle class=c cx=970.4 cy=776.9 r=8 /><circle class=d cx=970.4 cy=975.6 r=8 />
<circle class=a cx=969.6 cy=1121.8 r=8 /><circle class=b cx=969.6 cy=1073.3 r=8 /><circle class=c cx=969.6 cy=776.4 r=8 /><circle class=d cx=969.6 cy=975.0 r=8 /><circle class=a cx=968.8 cy=1121.4 r=8 /><circle class=b cx=968.8 cy=1072.9 r=8 />
<circle class=c cx=968.8 cy=775.8 r=8 /><circle class=d cx=968.8 cy=974.5 r=8 /><circle class=a cx=968.0 cy=1121.0 r=8 /><circle class=b cx=968.0 cy=1072.4 r=8 /><circle class=c cx=968.0 cy=775.3 r=8 /><circle class=d cx=968.0 cy=973.9 r=8 />
<circle class=a cx=967.3 cy=1120.6 r=8 /><circle class=b cx=967.3 cy=1072.0 r=8 /><circle class=c cx=967.3 cy=774.7 r=8 /><circle class=d cx=967.3 cy=973.4 r=8 /><circle class=a cx=966.5 cy=1120.1 r=8 /><circle class=b cx=966.5 cy=1071.6 r=8 />
<circle class=c cx=966.5 cy=774.2 r=8 /><circle class=d cx=966.5 cy=972.8 r=8 /><circle class=a cx=965.7 cy=1119.7 r=8 /><circle class=b cx=965.7 cy=1071.2 r=8 /><circle class=c cx=965.7 cy=773.6 r=8 /><circle class=d cx=965.7 cy=972.2 r=8 />
<circle class=a cx=964.9 cy=1119.3 r=8 /><circle class=b cx=964.9 cy=1070.7 r=8 /><circle class=c cx=964.9 cy=773.0 r=8 /><circle class=d cx=964.9 cy=971.7 r=8 /><circle class=a cx=964.2 cy=1118.8 r=8 /><circle class=b cx=964.2 cy=1070.3 r=8 />
<circle class=c cx=964.2 cy=772.5 r=8 /><circle class=d cx=964.2 cy=971.1 r=8 /><circle class=a cx=963.4 cy=1118.4 r=8 /><circle class=b cx=963.4 cy=1069.9 r=8 /><circle class=c cx=963.4 cy=771.9 r=8 /><circle class=d cx=963.4 cy=970.5 r=8 />
<circle class=a cx=962.6 cy=1118.0 r=8 /><circle class=b cx=962.6 cy=1069.5 r=8 /><circle class=c cx=962.6 cy=771.4 r=8 /><circle class=d cx=962.6 cy=970.0 r=8 /><circle class=a cx=961.8 cy=1117.5 r=8 /><circle class=b cx=961.8 cy=1069.0 r=8 />
<circle class=c cx=961.8 cy=770.8 r=8 /><circle class=d cx=961.8 cy=969.4 r=8 /><circle class=a cx=961.1 cy=1117.1 r=8 /><circle class=b cx=961.1 cy=1068.6 r=8 /><circle class=c cx=961.1 cy=770.2 r=8 /><circle class=d cx=961.1 cy=968.8 r=8 />
<circle class=a cx=960.3 cy=1116.7 r=8 /><circle class=b cx=960.3 cy=1068.2 r=8 /><circle class=c cx=960.3 cy=769.6 r=8 /><circle class=d cx=960.3 cy=968.2 r=8 /><circle class=a cx=959.5 cy=1116.2 r=8 /><circle class=b cx=959.5 cy=1067.8 r=8 />
<circle class=c cx=959.5 cy=769.0 r=8 /><circle class=d cx=959.5 cy=967.6 r=8 /><circle class=a cx=958.7 cy=1115.8 r=8 /><circle class=b cx=958.7 cy=1067.3 r=8 /><circle class=c cx=958.7 cy=768.5 r=8 /><circle class=d cx=958.7 cy=967.0 r=8 />
<circle class=a cx=957.9 cy=1115.3 r=8 /><circle class=b cx=957.9 cy=1066.9 r=8 /><circle class=c cx=957.9 cy=767.9 r=8 /><circle class=d cx=957.9 cy=966.4 r=8 /><circle class=a cx=957.2 cy=1114.9 r=8 /><circle class=b cx=957.2 cy=1066.5 r=8 />
<circle class=c cx=957.2 cy=767.3 r=8 /><circle class=d cx=957.2 cy=965.8 r=8 /><circle class=a cx=956.4 cy=1114.5 r=8 /><circle class=b cx=956.4 cy=1066.1 r=8 /><circle class=c cx=956.4 cy=766.7 r=8 /><circle class=d cx=956.4 cy=965.2 r=8 />
<circle class=a cx=955.6 cy=1114.0 r=8 /><circle class=b cx=955.6 cy=1065.7 r=8 /><circle class=c cx=955.6 cy=766.1 r=8 /><circle class=d cx=955.6 cy=964.6 r=8 /><circle class=a cx=954.8 cy=1113.6 r=8 /><circle class=b cx=954.8 cy=1065.3 r=8 />
<circle class=c cx=954.8 cy=765.6 r=8 /><circle class=d cx=954.8 cy=964.0 r=8 /><circle class=a cx=954.1 cy=1113.2 r=8 /><circle class=b cx=954.1 cy=1064.9 r=8 /><circle class=c cx=954.1 cy=765.0 r=8 /><circle class=d cx=954.1 cy=963.4 r=8 />
<circle class=a cx=953.3 cy=1112.7 r=8 /><circle class=b cx=953.3 cy=1064.4 r=8 /><circle class=c cx=953.3 cy=764.4 r=8 /><circle class=d cx=953.3 cy=962.8 r=8 /><circle class=a cx=952.5 cy=1112.3 r=8 /><circle class=b cx=952.5 cy=1064.0 r=8 />
<circle class=c cx=952.5 cy=763.8 r=8 /><circle class=d cx=952.5 cy=962.1 r=8 /><circle class=a cx=951.7 cy=1111.9 r=8 /><circle class=b cx=951.7 cy=1063.6 r=8 /><circle class=c cx=951.7 cy=763.3 r=8 /><circle class=d cx=951.7 cy=961.5 r=8 />
<circle class=a cx=951.0 cy=1111.4 r=8 /><circle class=b cx=951.0 cy=1063.2 r=8 /><circle class=c cx=951.0 cy=762.7 r=8 /><circle class=d cx=951.0 cy=960.9 r=8 /><circle class=a cx=950.2 cy=1111.0 r=8 /><circle class=b cx=950.2 cy=1062.8 r=8 />
<circle class=c cx=950.2 cy=762.1 r=8 /><circle class=d cx=950.2 cy=960.3 r=8 /><circle class=a cx=949.4 cy=1110.5 r=8 /><circle class=b cx=949.4 cy=1062.4 r=8 /><circle class=c cx=949.4 cy=761.6 r=8 /><circle class=d cx=949.4 cy=959.6 r=8 />
<circle class=a cx=948.6 cy=1110.1 r=8 /><circle class=b cx=948.6 cy=1061.9 r=8 /><circle class=c cx=948.6 cy=761.0 r=8 /><circle class=d cx=948.6 cy=959.0 r=8 /><circle class=a cx=947.8 cy=1109.6 r=8 /><circle class=b cx=947.8 cy=1061.5 r=8 />
<circle class=c cx=947.8 cy=760.5 r=8 /><circle class=d cx=947.8 cy=958.4 r=8 /><circle class=a cx=947.1 cy=1109.2 r=8 /><circle class=b cx=947.1 cy=1061.1 r=8 /><circle class=c cx=947.1 cy=759.9 r=8 /><circle class=d cx=947.1 cy=957.7 r=8 />
<circle class=a cx=946.3 cy=1108.7 r=8 /><circle class=b cx=946.3 cy=1060.7 r=8 /><circle class=c cx=946.3 cy=759.4 r=8 /><circle class=d cx=946.3 cy=957.1 r=8 /><circle class=a cx=945.5 cy=1108.3 r=8 /><circle class=b cx=945.5 cy=1060.2 r=8 />
<circle class=c cx=945.5 cy=758.8 r=8 /><circle class=d cx=945.5 cy=956.5 r=8 /><circle class=a cx=944.7 cy=1107.8 r=8 /><circle class=b cx=944.7 cy=1059.8 r=8 /><circle class=c cx=944.7 cy=758.3 r=8 /><circle class=d cx=944.7 cy=955.8 r=8 />
<circle class=a cx=944.0 cy=1107.4 r=8 /><circle class=b cx=944.0 cy=1059.3 r=8 /><circle class=c cx=944.0 cy=757.7 r=8 /><circle class=d cx=944.0 cy=955.2 r=8 /><circle class=a cx=943.2 cy=1106.9 r=8 /><circle class=b cx=943.2 cy=1058.9 r=8 />
<circle class=c cx=943.2 cy=757.2 r=8 /><circle class=d cx=943.2 cy=954.6 r=8 /><circle class=a cx=942.4 cy=1106.5 r=8 /><circle class=b cx=942.4 cy=1058.4 r=8 /><circle class=c cx=942.4 cy=756.6 r=8 /><circle class=d cx=942.4 cy=953.9 r=8 />
<circle class=a cx=941.6 cy=1106.0 r=8 /><circle class=b cx=941.6 cy=1058.0 r=8 /><circle class=c cx=941.6 cy=756.1 r=8 /><circle class=d cx=941.6 cy=953.3 r=8 /><circle class=a cx=940.9 cy=1105.5 r=8 /><circle class=b cx=940.9 cy=1057.5 r=8 />
<circle class=c cx=940.9 cy=755.5 r=8 /><circle class=d cx=940.9 cy=952.7 r=8 /><circle class=a cx=940.1 cy=1105.1 r=8 /><circle class=b cx=940.1 cy=1057.1 r=8 /><circle class=c cx=940.1 cy=755.0 r=8 /><circle class=d cx=940.1 cy=952.1 r=8 />
<circle class=a cx=939.3 cy=1104.6 r=8 /><circle class=b cx=939.3 cy=1056.6 r=8 /><circle class=c cx=939.3 cy=754.4 r=8 /><circle class=d cx=939.3 cy=951.4 r=8 /><circle class=a cx=938.5 cy=1104.1 r=8 /><circle class=b cx=938.5 cy=1056.1 r=8 />
<circle class=c cx=938.5 cy=753.9 r=8 /><circle class=d cx=938.5 cy=950.8 r=8 /><circle class=a cx=937.8 cy=1103.6 r=8 /><circle class=b cx=937.8 cy=1055.6 r=8 /><circle class=c cx=937.8 cy=753.4 r=8 /><circle class=d cx=937.8 cy=950.2 r=8 />
<circle class=a cx=937.0 cy=1103.2 r=8 /><circle class=b cx=937.0 cy=1055.1 r=8 /><circle class=c cx=937.0 cy=752.8 r=8 /><circle class=d cx=937.0 cy=949.6 r=8 /><circle class=a cx=936.2 cy=1102.7 r=8 /><circle class=b cx=936.2 cy=1054.6 r=8 />
<circle class=c cx=936.2 cy=752.3 r=8 /><circle class=d cx=936.2 cy=949.0 r=8 /><circle class=a cx=935.4 cy=1102.2 r=8 /><circle class=b cx=935.4 cy=1054.0 r=8 /><circle class=c cx=935.4 cy=751.7 r=8 /><circle class=d cx=935.4 cy=948.4 r=8 />
<circle class=a cx=934.6 cy=1101.7 r=8 /><circle class=b cx=934.6 cy=1053.5 r=8 /><circle class=c cx=934.6 cy=751.2 r=8 /><circle class=d cx=934.6 cy=947.7 r=8 /><circle class=a cx=933.9 cy=1101.2 r=8 /><circle class=b cx=933.9 cy=1053.0 r=8 />
<circle class=c cx=933.9 cy=750.6 r=8 /><circle class=d cx=933.9 cy=947.1 r=8 /><circle class=a cx=933.1 cy=1100.8 r=8 /><circle class=b cx=933.1 cy=1052.4 r=8 /><circle class=c cx=933.1 cy=750.1 r=8 /><circle class=d cx=933.1 cy=946.5 r=8 />
<circle class=a cx=932.3 cy=1100.3 r=8 /><circle class=b cx=932.3 cy=1051.9 r=8 /><circle class=c cx=932.3 cy=749.6 r=8 /><circle class=d cx=932.3 cy=945.9 r=8 /><circle class=a cx=931.5 cy=1099.8 r=8 /><circle class=b cx=931.5 cy=1051.3 r=8 />
<circle class=c cx=931.5 cy=749.0 r=8 /><circle class=d cx=931.5 cy=945.3 r=8 /><circle class=a cx=930.8 cy=1099.3 r=8 /><circle class=b cx=930.8 cy=1050.8 r=8 /><circle class=c cx=930.8 cy=748.5 r=8 /><circle class=d cx=930.8 cy=944.7 r=8 />
<circle class=a cx=930.0 cy=1098.8 r=8 /><circle class=b cx=930.0 cy=1050.2 r=8 /><circle class=c cx=930.0 cy=748.0 r=8 /><circle class=d cx=930.0 cy=944.1 r=8 /><circle class=a cx=929.2 cy=1098.3 r=8 /><circle class=b cx=929.2 cy=1049.7 r=8 />
<circle class=c cx=929.2 cy=747.4 r=8 /><circle class=d cx=929.2 cy=943.4 r=8 /><circle class=a cx=928.4 cy=1097.8 r=8 /><circle class=b cx=928.4 cy=1049.1 r=8 /><circle class=c cx=928.4 cy=746.9 r=8 /><circle class=d cx=928.4 cy=942.8 r=8 />
<circle class=a cx=927.7 cy=1097.3 r=8 /><circle class=b cx=927.7 cy=1048.5 r=8 /><circle class=c cx=927.7 cy=746.4 r=8 /><circle class=d cx=927.7 cy=942.2 r=8 /><circle class=a cx=926.9 cy=1096.8 r=8 /><circle class=b cx=926.9 cy=1048.0 r=8 />
<circle class=c cx=926.9 cy=745.8 r=8 /><circle class=d cx=926.9 cy=941.6 r=8 /><circle class=a cx=926.1 cy=1096.3 r=8 /><circle class=b cx=926.1 cy=1047.4 r=8 /><circle class=c cx=926.1 cy=745.3 r=8 /><circle class=d cx=926.1 cy=941.0 r=8 />
<circle class=a cx=925.3 cy=1095.8 r=8 /><circle class=b cx=925.3 cy=1046.8 r=8 /><circle class=c cx=925.3 cy=744.7 r=8 /><circle class=d cx=925.3 cy=940.3 r=8 /><circle class=a cx=924.6 cy=1095.2 r=8 /><circle class=b cx=924.6 cy=1046.2 r=8 />
<circle class=c cx=924.6 cy=744.2 r=8 /><circle class=d cx=924.6 cy=939.7 r=8 /><circle class=a cx=923.8 cy=1094.7 r=8 /><circle class=b cx=923.8 cy=1045.6 r=8 /><circle class=c cx=923.8 cy=743.7 r=8 /><circle class=d cx=923.8 cy=939.1 r=8 />
<circle class=a cx=923.0 cy=1094.2 r=8 /><circle class=b cx=923.0 cy=1045.0 r=8 /><circle class=c cx=923.0 cy=743.1 r=8 /><circle class=d cx=923.0 cy=938.5 r=8 /><circle class=a cx=922.2 cy=1093.6 r=8 /><circle class=b cx=922.2 cy=1044.5 r=8 />
<circle class=c cx=922.2 cy=742.6 r=8 /><circle class=d cx=922.2 cy=937.8 r=8 /><circle class=a cx=921.4 cy=1093.1 r=8 /><circle class=b cx=921.4 cy=1043.9 r=8 /><circle class=c cx=921.4 cy=742.0 r=8 /><circle class=d cx=921.4 cy=937.2 r=8 />
<circle class=a cx=920.7 cy=1092.5 r=8 /><circle class=b cx=920.7 cy=1043.3 r=8 /><circle class=c cx=920.7 cy=741.5 r=8 /><circle class=d cx=920.7 cy=936.6 r=8 /><circle class=a cx=919.9 cy=1091.9 r=8 /><circle class=b cx=919.9 cy=1042.7 r=8 />
<circle class=c cx=919.9 cy=740.9 r=8 /><circle class=d cx=919.9 cy=935.9 r=8 /><circle class=a cx=919.1 cy=1091.3 r=8 /><circle class=b cx=919.1 cy=1042.2 r=8 /><circle class=c cx=919.1 cy=740.4 r=8 /><circle class=d cx=919.1 cy=935.3 r=8 />
<circle class=a cx=918.3 cy=1090.7 r=8 /><circle class=b cx=918.3 cy=1041.6 r=8 /><circle class=c cx=918.3 cy=739.8 r=8 /><circle class=d cx=918.3 cy=934.6 r=8 /><circle class=a cx=917.6 cy=1090.1 r=8 /><circle class=b cx=917.6 cy=1041.0 r=8 />
<circle class=c cx=917.6 cy=739.3 r=8 /><circle class=d cx=917.6 cy=933.9 r=8 /><circle class=a cx=916.8 cy=1089.5 r=8 /><circle class=b cx=916.8 cy=1040.5 r=8 /><circle class=c cx=916.8 cy=738.8 r=8 /><circle class=d cx=916.8 cy=933.2 r=8 />
<circle class=a cx=916.0 cy=1088.9 r=8 /><circle class=b cx=916.0 cy=1039.9 r=8 /><circle class=c cx=916.0 cy=738.3 r=8 /><circle class=d cx=916.0 cy=932.5 r=8 /><circle class=a cx=915.2 cy=1088.2 r=8 /><circle class=b cx=915.2 cy=1039.3 r=8 />
<circle class=c cx=915.2 cy=737.7 r=8 /><circle class=d cx=915.2 cy=931.8 r=8 /><circle class=a cx=914.5 cy=1087.6 r=8 /><circle class=b cx=914.5 cy=1038.7 r=8 /><circle class=c cx=914.5 cy=737.2 r=8 /><circle class=d cx=914.5 cy=931.1 r=8 />
<circle class=a cx=913.7 cy=1086.9 r=8 /><circle class=b cx=913.7 cy=1038.1 r=8 /><circle class=c cx=913.7 cy=736.7 r=8 /><circle class=d cx=913.7 cy=930.4 r=8 /><circle class=a cx=912.9 cy=1086.2 r=8 /><circle class=b cx=912.9 cy=1037.5 r=8 />
<circle class=c cx=912.9 cy=736.1 r=8 /><circle class=d cx=912.9 cy=929.6 r=8 /><circle class=a cx=912.1 cy=1085.5 r=8 /><circle class=b cx=912.1 cy=1036.9 r=8 /><circle class=c cx=912.1 cy=735.6 r=8 /><circle class=d cx=912.1 cy=928.9 r=8 />
<circle class=a cx=911.4 cy=1084.9 r=8 /><circle class=b cx=911.4 cy=1036.3 r=8 /><circle class=c cx=911.4 cy=735.0 r=8 /><circle class=d cx=911.4 cy=928.2 r=8 /><circle class=a cx=910.6 cy=1084.2 r=8 /><circle class=b cx=910.6 cy=1035.7 r=8 />
<circle class=c cx=910.6 cy=734.4 r=8 /><circle class=d cx=910.6 cy=927.5 r=8 /><circle class=a cx=909.8 cy=1083.5 r=8 /><circle class=b cx=909.8 cy=1035.2 r=8 /><circle class=c cx=909.8 cy=733.8 r=8 /><circle class=d cx=909.8 cy=926.7 r=8 />
<circle class=a cx=909.0 cy=1082.8 r=8 /><circle class=b cx=909.0 cy=1034.6 r=8 /><circle class=c cx=909.0 cy=733.2 r=8 /><circle class=d cx=909.0 cy=926.0 r=8 /><circle class=a cx=908.2 cy=1082.1 r=8 /><circle class=b cx=908.2 cy=1034.1 r=8 />
<circle class=c cx=908.2 cy=732.5 r=8 /><circle class=d cx=908.2 cy=925.3 r=8 /><circle class=a cx=907.5 cy=1081.4 r=8 /><circle class=b cx=907.5 cy=1033.5 r=8 /><circle class=c cx=907.5 cy=731.7 r=8 /><circle class=d cx=907.5 cy=924.6 r=8 />
<circle class=a cx=906.7 cy=1080.7 r=8 /><circle class=b cx=906.7 cy=1033.0 r=8 /><circle class=c cx=906.7 cy=730.9 r=8 /><circle class=d cx=906.7 cy=924.0 r=8 /><circle class=a cx=905.9 cy=1080.0 r=8 /><circle class=b cx=905.9 cy=1032.5 r=8 />
<circle class=c cx=905.9 cy=730.0 r=8 /><circle class=d cx=905.9 cy=923.3 r=8 /><circle class=a cx=905.1 cy=1079.3 r=8 /><circle class=b cx=905.1 cy=1032.1 r=8 /><circle class=c cx=905.1 cy=729.1 r=8 /><circle class=d cx=905.1 cy=922.7 r=8 />
<circle class=a cx=904.4 cy=1078.7 r=8 /><circle class=b cx=904.4 cy=1031.6 r=8 /><circle class=c cx=904.4 cy=728.2 r=8 /><circle class=d cx=904.4 cy=922.1 r=8 /><circle class=a cx=903.6 cy=1078.0 r=8 /><circle class=b cx=903.6 cy=1031.2 r=8 />
<circle class=c cx=903.6 cy=727.3 r=8 /><circle class=d cx=903.6 cy=921.4 r=8 /><circle class=a cx=902.8 cy=1077.3 r=8 /><circle class=b cx=902.8 cy=1030.8 r=8 /><circle class=c cx=902.8 cy=726.4 r=8 /><circle class=d cx=902.8 cy=920.9 r=8 />
<circle class=a cx=902.0 cy=1076.7 r=8 /><circle class=b cx=902.0 cy=1030.5 r=8 /><circle class=c cx=902.0 cy=725.6 r=8 /><circle class=d cx=902.0 cy=920.3 r=8 /><circle class=a cx=901.3 cy=1076.0 r=8 /><circle class=b cx=901.3 cy=1030.1 r=8 />
<circle class=c cx=901.3 cy=724.9 r=8 /><circle class=d cx=901.3 cy=919.8 r=8 /><circle class=a cx=900.5 cy=1075.4 r=8 /><circle class=b cx=900.5 cy=1029.8 r=8 /><circle class=c cx=900.5 cy=724.3 r=8 /><circle class=d cx=900.5 cy=919.3 r=8 />
<circle class=a cx=899.7 cy=1074.8 r=8 /><circle class=b cx=899.7 cy=1029.5 r=8 /><circle class=c cx=899.7 cy=723.8 r=8 /><circle class=d cx=899.7 cy=918.8 r=8 /><circle class=a cx=898.9 cy=1074.1 r=8 /><circle class=b cx=898.9 cy=1029.2 r=8 />
<circle class=c cx=898.9 cy=723.4 r=8 /><circle class=d cx=898.9 cy=918.4 r=8 /><circle class=a cx=898.2 cy=1073.4 r=8 /><circle class=b cx=898.2 cy=1028.9 r=8 /><circle class=c cx=898.2 cy=723.0 r=8 /><circle class=d cx=898.2 cy=918.0 r=8 />
<circle class=a cx=897.4 cy=1072.7 r=8 /><circle class=b cx=897.4 cy=1028.6 r=8 /><circle class=c cx=897.4 cy=722.6 r=8 /><circle class=d cx=897.4 cy=917.7 r=8 /><circle class=a cx=896.6 cy=1072.0 r=8 /><circle class=b cx=896.6 cy=1028.4 r=8 />
<circle class=c cx=896.6 cy=722.2 r=8 /><circle class=d cx=896.6 cy=917.3 r=8 /><circle class=a cx=895.8 cy=1071.2 r=8 /><circle class=b cx=895.8 cy=1028.4 r=8 /><circle class=c cx=895.8 cy=722.0 r=8 /><circle class=d cx=895.8 cy=916.9 r=8 />
<circle class=a cx=895.0 cy=1070.5 r=8 /><circle class=b cx=895.0 cy=1028.4 r=8 /><circle class=c cx=895.0 cy=721.7 r=8 /><circle class=d cx=895.0 cy=916.5 r=8 /><circle class=a cx=894.3 cy=1069.7 r=8 /><circle class=b cx=894.3 cy=1028.5 r=8 />
<circle class=c cx=894.3 cy=721.5 r=8 /><circle class=d cx=894.3 cy=916.0 r=8 /><circle class=a cx=893.5 cy=1068.9 r=8 /><circle class=b cx=893.5 cy=1028.5 r=8 /><circle class=c cx=893.5 cy=721.4 r=8 /><circle class=d cx=893.5 cy=915.6 r=8 />
<circle class=a cx=892.7 cy=1068.1 r=8 /><circle class=b cx=892.7 cy=1028.6 r=8 /><circle class=c cx=892.7 cy=721.4 r=8 /><circle class=d cx=892.7 cy=915.2 r=8 /><circle class=a cx=891.9 cy=1067.4 r=8 /><circle class=b cx=891.9 cy=1028.7 r=8 />
<circle class=c cx=891.9 cy=721.3 r=8 /><circle class=d cx=891.9 cy=914.7 r=8 /><circle class=a cx=891.2 cy=1066.6 r=8 /><circle class=b cx=891.2 cy=1028.8 r=8 /><circle class=c cx=891.2 cy=721.3 r=8 /><circle class=d cx=891.2 cy=914.2 r=8 />
<circle class=a cx=890.4 cy=1065.9 r=8 /><circle class=b cx=890.4 cy=1028.9 r=8 /><circle class=c cx=890.4 cy=721.2 r=8 /><circle class=d cx=890.4 cy=913.7 r=8 /><circle class=a cx=889.6 cy=1065.2 r=8 /><circle class=b cx=889.6 cy=1028.9 r=8 />
<circle class=c cx=889.6 cy=721.2 r=8 /><circle class=d cx=889.6 cy=913.2 r=8 /><circle class=a cx=888.8 cy=1064.5 r=8 /><circle class=b cx=888.8 cy=1029.0 r=8 /><circle class=c cx=888.8 cy=721.1 r=8 /><circle class=d cx=888.8 cy=912.6 r=8 />
<circle class=a cx=888.1 cy=1063.8 r=8 /><circle class=b cx=888.1 cy=1029.0 r=8 /><circle class=c cx=888.1 cy=721.0 r=8 /><circle class=d cx=888.1 cy=912.0 r=8 /><circle class=a cx=887.3 cy=1063.2 r=8 /><circle class=b cx=887.3 cy=1028.9 r=8 />
<circle class=c cx=887.3 cy=720.7 r=8 /><circle class=d cx=887.3 cy=911.4 r=8 /><circle class=a cx=886.5 cy=1062.6 r=8 /><circle class=b cx=886.5 cy=1028.5 r=8 /><circle class=c cx=886.5 cy=720.2 r=8 /><circle class=d cx=886.5 cy=910.7 r=8 />
<circle class=a cx=885.7 cy=1062.1 r=8 /><circle class=b cx=885.7 cy=1027.9 r=8 /><circle class=c cx=885.7 cy=719.4 r=8 /><circle class=d cx=885.7 cy=909.9 r=8 /><circle class=a cx=885.0 cy=1061.6 r=8 /><circle class=b cx=885.0 cy=1027.2 r=8 />
<circle class=c cx=885.0 cy=718.5 r=8 /><circle class=d cx=885.0 cy=909.1 r=8 /><circle class=a cx=884.2 cy=1061.1 r=8 /><circle class=b cx=884.2 cy=1026.3 r=8 /><circle class=c cx=884.2 cy=717.5 r=8 /><circle class=d cx=884.2 cy=908.3 r=8 />
<circle class=a cx=883.4 cy=1060.8 r=8 /><circle class=b cx=883.4 cy=1025.4 r=8 /><circle class=c cx=883.4 cy=716.5 r=8 /><circle class=d cx=883.4 cy=907.4 r=8 /><circle class=a cx=882.6 cy=1060.5 r=8 /><circle class=b cx=882.6 cy=1024.5 r=8 />
<circle class=c cx=882.6 cy=715.4 r=8 /><circle class=d cx=882.6 cy=906.5 r=8 /><circle class=a cx=881.8 cy=1060.2 r=8 /><circle class=b cx=881.8 cy=1022.9 r=8 /><circle class=c cx=881.8 cy=713.8 r=8 /><circle class=d cx=881.8 cy=905.3 r=8 />
<circle class=a cx=881.1 cy=1060.1 r=8 /><circle class=b cx=881.1 cy=1021.4 r=8 /><circle class=c cx=881.1 cy=712.4 r=8 /><circle class=d cx=881.1 cy=904.3 r=8 /><circle class=a cx=880.3 cy=1060.0 r=8 /><circle class=b cx=880.3 cy=1021.2 r=8 />
<circle class=c cx=880.3 cy=712.1 r=8 /><circle class=d cx=880.3 cy=904.1 r=8 /><circle class=a cx=879.5 cy=1060.0 r=8 /><circle class=b cx=879.5 cy=1023.8 r=8 /><circle class=c cx=879.5 cy=714.4 r=8 /><circle class=d cx=879.5 cy=906.4 r=8 />
<circle class=a cx=878.7 cy=1060.2 r=8 /><circle class=b cx=878.7 cy=1027.2 r=8 /><circle class=c cx=878.7 cy=717.4 r=8 /><circle class=d cx=878.7 cy=909.4 r=8 /><circle class=a cx=878.0 cy=1060.5 r=8 /><circle class=b cx=878.0 cy=1029.4 r=8 />
<circle class=c cx=878.0 cy=719.2 r=8 /><circle class=d cx=878.0 cy=911.2 r=8 /><circle class=a cx=877.2 cy=1060.8 r=8 /><circle class=b cx=877.2 cy=1031.4 r=8 /><circle class=c cx=877.2 cy=720.8 r=8 /><circle class=d cx=877.2 cy=912.8 r=8 />
<circle class=a cx=876.4 cy=1061.0 r=8 /><circle class=b cx=876.4 cy=1032.8 r=8 /><circle class=c cx=876.4 cy=721.8 r=8 /><circle class=d cx=876.4 cy=913.8 r=8 /><circle class=a cx=875.6 cy=1060.9 r=8 /><circle class=b cx=875.6 cy=1032.9 r=8 />
<circle class=c cx=875.6 cy=721.9 r=8 /><circle class=d cx=875.6 cy=913.9 r=8 /><circle class=a cx=874.9 cy=1059.8 r=8 /><circle class=b cx=874.9 cy=1032.0 r=8 /><circle class=c cx=874.9 cy=720.8 r=8 /><circle class=d cx=874.9 cy=912.8 r=8 />
<circle class=a cx=874.1 cy=1058.2 r=8 /><circle class=b cx=874.1 cy=1030.5 r=8 /><circle class=c cx=874.1 cy=719.0 r=8 /><circle class=d cx=874.1 cy=911.0 r=8 /><circle class=a cx=873.3 cy=1056.5 r=8 /><circle class=b cx=873.3 cy=1028.7 r=8 />
<circle class=c cx=873.3 cy=716.8 r=8 /><circle class=d cx=873.3 cy=908.8 r=8 /><circle class=a cx=872.5 cy=1055.3 r=8 /><circle class=b cx=872.5 cy=1026.7 r=8 /><circle class=c cx=872.5 cy=714.5 r=8 /><circle class=d cx=872.5 cy=906.5 r=8 />
<circle class=a cx=871.8 cy=1055.0 r=8 /><circle class=b cx=871.8 cy=1023.7 r=8 /><circle class=c cx=871.8 cy=711.1 r=8 /><circle class=d cx=871.8 cy=903.1 r=8 /><circle class=a cx=871.0 cy=1055.0 r=8 /><circle class=b cx=871.0 cy=1020.4 r=8 />
<circle class=c cx=871.0 cy=707.5 r=8 /><circle class=d cx=871.0 cy=899.5 r=8 /><circle class=a cx=870.2 cy=1055.1 r=8 /><circle class=b cx=870.2 cy=1017.6 r=8 /><circle class=c cx=870.2 cy=704.6 r=8 /><circle class=d cx=870.2 cy=896.5 r=8 />
<circle class=a cx=869.4 cy=1055.3 r=8 /><circle class=b cx=869.4 cy=1015.5 r=8 /><circle class=c cx=869.4 cy=702.6 r=8 /><circle class=d cx=869.4 cy=894.7 r=8 /><circle class=a cx=868.6 cy=1055.4 r=8 /><circle class=b cx=868.6 cy=1013.4 r=8 />
<circle class=c cx=868.6 cy=700.8 r=8 /><circle class=d cx=868.6 cy=893.0 r=8 /><circle class=a cx=867.9 cy=1055.5 r=8 /><circle class=b cx=867.9 cy=1011.8 r=8 /><circle class=c cx=867.9 cy=699.4 r=8 /><circle class=d cx=867.9 cy=891.8 r=8 />
<circle class=a cx=867.1 cy=1055.7 r=8 /><circle class=b cx=867.1 cy=1011.0 r=8 /><circle class=c cx=867.1 cy=698.5 r=8 /><circle class=d cx=867.1 cy=891.0 r=8 /><circle class=a cx=866.3 cy=1055.8 r=8 /><circle class=b cx=866.3 cy=1010.9 r=8 />
<circle class=c cx=866.3 cy=698.2 r=8 /><circle class=d cx=866.3 cy=890.8 r=8 /><circle class=a cx=865.5 cy=1056.0 r=8 /><circle class=b cx=865.5 cy=1010.8 r=8 /><circle class=c cx=865.5 cy=698.0 r=8 /><circle class=d cx=865.5 cy=890.5 r=8 />
<circle class=a cx=864.8 cy=1056.3 r=8 /><circle class=b cx=864.8 cy=1010.7 r=8 /><circle class=c cx=864.8 cy=697.8 r=8 /><circle class=d cx=864.8 cy=890.3 r=8 /><circle class=a cx=864.0 cy=1056.5 r=8 /><circle class=b cx=864.0 cy=1010.6 r=8 />
<circle class=c cx=864.0 cy=697.6 r=8 /><circle class=d cx=864.0 cy=890.2 r=8 /><circle class=a cx=863.2 cy=1056.7 r=8 /><circle class=b cx=863.2 cy=1010.5 r=8 /><circle class=c cx=863.2 cy=697.5 r=8 /><circle class=d cx=863.2 cy=890.1 r=8 />
<circle class=a cx=862.4 cy=1056.9 r=8 /><circle class=b cx=862.4 cy=1010.5 r=8 /><circle class=c cx=862.4 cy=697.4 r=8 /><circle class=d cx=862.4 cy=890.0 r=8 /><circle class=a cx=861.7 cy=1057.2 r=8 /><circle class=b cx=861.7 cy=1010.4 r=8 />
<circle class=c cx=861.7 cy=697.3 r=8 /><circle class=d cx=861.7 cy=889.9 r=8 /><circle class=a cx=860.9 cy=1057.4 r=8 /><circle class=b cx=860.9 cy=1010.4 r=8 /><circle class=c cx=860.9 cy=697.2 r=8 /><circle class=d cx=860.9 cy=889.8 r=8 />
<circle class=a cx=860.1 cy=1057.6 r=8 /><circle class=b cx=860.1 cy=1010.4 r=8 /><circle class=c cx=860.1 cy=697.0 r=8 /><circle class=d cx=860.1 cy=889.6 r=8 /><circle class=a cx=859.3 cy=1057.8 r=8 /><circle class=b cx=859.3 cy=1010.4 r=8 />
<circle class=c cx=859.3 cy=696.9 r=8 /><circle class=d cx=859.3 cy=889.5 r=8 /><circle class=a cx=858.6 cy=1057.9 r=8 /><circle class=b cx=858.6 cy=1010.5 r=8 /><circle class=c cx=858.6 cy=696.7 r=8 /><circle class=d cx=858.6 cy=889.3 r=8 />
<circle class=a cx=857.8 cy=1058.1 r=8 /><circle class=b cx=857.8 cy=1010.6 r=8 /><circle class=c cx=857.8 cy=696.5 r=8 /><circle class=d cx=857.8 cy=889.1 r=8 /><circle class=a cx=857.0 cy=1058.3 r=8 /><circle class=b cx=857.0 cy=1010.7 r=8 />
<circle class=c cx=857.0 cy=696.4 r=8 /><circle class=d cx=857.0 cy=889.0 r=8 /><circle class=a cx=856.2 cy=1058.4 r=8 /><circle class=b cx=856.2 cy=1010.8 r=8 /><circle class=c cx=856.2 cy=696.2 r=8 /><circle class=d cx=856.2 cy=888.8 r=8 />
<circle class=a cx=855.4 cy=1058.6 r=8 /><circle class=b cx=855.4 cy=1011.0 r=8 /><circle class=c cx=855.4 cy=696.0 r=8 /><circle class=d cx=855.4 cy=888.6 r=8 /><circle class=a cx=854.7 cy=1058.8 r=8 /><circle class=b cx=854.7 cy=1011.1 r=8 />
<circle class=c cx=854.7 cy=695.9 r=8 /><circle class=d cx=854.7 cy=888.4 r=8 /><circle class=a cx=853.9 cy=1058.9 r=8 /><circle class=b cx=853.9 cy=1011.3 r=8 /><circle class=c cx=853.9 cy=695.7 r=8 /><circle class=d cx=853.9 cy=888.2 r=8 />
<circle class=a cx=853.1 cy=1059.1 r=8 /><circle class=b cx=853.1 cy=1011.5 r=8 /><circle class=c cx=853.1 cy=695.5 r=8 /><circle class=d cx=853.1 cy=888.0 r=8 /><circle class=a cx=852.3 cy=1059.2 r=8 /><circle class=b cx=852.3 cy=1011.6 r=8 />
<circle class=c cx=852.3 cy=695.4 r=8 /><circle class=d cx=852.3 cy=887.9 r=8 /><circle class=a cx=851.6 cy=1059.4 r=8 /><circle class=b cx=851.6 cy=1011.8 r=8 /><circle class=c cx=851.6 cy=695.2 r=8 /><circle class=d cx=851.6 cy=887.7 r=8 />
<circle class=a cx=850.8 cy=1059.5 r=8 /><circle class=b cx=850.8 cy=1012.0 r=8 /><circle class=c cx=850.8 cy=695.0 r=8 /><circle class=d cx=850.8 cy=887.5 r=8 /><circle class=a cx=850.0 cy=1059.7 r=8 /><circle class=b cx=850.0 cy=1012.3 r=8 />
<circle class=c cx=850.0 cy=694.9 r=8 /><circle class=d cx=850.0 cy=887.3 r=8 /><circle class=a cx=849.2 cy=1059.8 r=8 /><circle class=b cx=849.2 cy=1012.5 r=8 /><circle class=c cx=849.2 cy=694.7 r=8 /><circle class=d cx=849.2 cy=887.2 r=8 />
<circle class=a cx=848.5 cy=1060.0 r=8 /><circle class=b cx=848.5 cy=1012.8 r=8 /><circle class=c cx=848.5 cy=694.5 r=8 /><circle class=d cx=848.5 cy=887.0 r=8 /><circle class=a cx=847.7 cy=1060.2 r=8 /><circle class=b cx=847.7 cy=1013.0 r=8 />
<circle class=c cx=847.7 cy=694.4 r=8 /><circle class=d cx=847.7 cy=886.8 r=8 /><circle class=a cx=846.9 cy=1060.3 r=8 /><circle class=b cx=846.9 cy=1013.3 r=8 /><circle class=c cx=846.9 cy=694.2 r=8 /><circle class=d cx=846.9 cy=886.7 r=8 />
<circle class=a cx=846.1 cy=1060.5 r=8 /><circle class=b cx=846.1 cy=1013.6 r=8 /><circle class=c cx=846.1 cy=694.1 r=8 /><circle class=d cx=846.1 cy=886.6 r=8 /><circle class=a cx=845.4 cy=1060.7 r=8 /><circle class=b cx=845.4 cy=1013.9 r=8 />
<circle class=c cx=845.4 cy=693.9 r=8 /><circle class=d cx=845.4 cy=886.4 r=8 /><circle class=a cx=844.6 cy=1060.8 r=8 /><circle class=b cx=844.6 cy=1014.2 r=8 /><circle class=c cx=844.6 cy=693.8 r=8 /><circle class=d cx=844.6 cy=886.3 r=8 />
<circle class=a cx=843.8 cy=1061.0 r=8 /><circle class=b cx=843.8 cy=1014.5 r=8 /><circle class=c cx=843.8 cy=693.6 r=8 /><circle class=d cx=843.8 cy=886.2 r=8 /><circle class=a cx=843.0 cy=1061.2 r=8 /><circle class=b cx=843.0 cy=1014.8 r=8 />
<circle class=c cx=843.0 cy=693.5 r=8 /><circle class=d cx=843.0 cy=886.1 r=8 /><circle class=a cx=842.2 cy=1061.4 r=8 /><circle class=b cx=842.2 cy=1015.1 r=8 /><circle class=c cx=842.2 cy=693.4 r=8 /><circle class=d cx=842.2 cy=886.1 r=8 />
<circle class=a cx=841.5 cy=1061.6 r=8 /><circle class=b cx=841.5 cy=1015.4 r=8 /><circle class=c cx=841.5 cy=693.2 r=8 /><circle class=d cx=841.5 cy=886.0 r=8 /><circle class=a cx=840.7 cy=1061.8 r=8 /><circle class=b cx=840.7 cy=1015.7 r=8 />
<circle class=c cx=840.7 cy=693.1 r=8 /><circle class=d cx=840.7 cy=886.0 r=8 /><circle class=a cx=839.9 cy=1062.0 r=8 /><circle class=b cx=839.9 cy=1016.0 r=8 /><circle class=c cx=839.9 cy=693.0 r=8 /><circle class=d cx=839.9 cy=886.0 r=8 />
<circle class=a cx=839.1 cy=1062.3 r=8 /><circle class=b cx=839.1 cy=1016.3 r=8 /><circle class=c cx=839.1 cy=692.9 r=8 /><circle class=d cx=839.1 cy=886.0 r=8 /><circle class=a cx=838.4 cy=1062.5 r=8 /><circle class=b cx=838.4 cy=1016.7 r=8 />
<circle class=c cx=838.4 cy=692.8 r=8 /><circle class=d cx=838.4 cy=886.0 r=8 /><circle class=a cx=837.6 cy=1062.8 r=8 /><circle class=b cx=837.6 cy=1017.0 r=8 /><circle class=c cx=837.6 cy=692.6 r=8 /><circle class=d cx=837.6 cy=886.0 r=8 />
<circle class=a cx=836.8 cy=1063.0 r=8 /><circle class=b cx=836.8 cy=1017.3 r=8 /><circle class=c cx=836.8 cy=692.5 r=8 /><circle class=d cx=836.8 cy=886.0 r=8 /><circle class=a cx=836.0 cy=1063.3 r=8 /><circle class=b cx=836.0 cy=1017.7 r=8 />
<circle class=c cx=836.0 cy=692.4 r=8 /><circle class=d cx=836.0 cy=886.0 r=8 /><circle class=a cx=835.3 cy=1063.6 r=8 /><circle class=b cx=835.3 cy=1018.0 r=8 /><circle class=c cx=835.3 cy=692.3 r=8 /><circle class=d cx=835.3 cy=886.1 r=8 />
<circle class=a cx=834.5 cy=1063.9 r=8 /><circle class=b cx=834.5 cy=1018.4 r=8 /><circle class=c cx=834.5 cy=692.2 r=8 /><circle class=d cx=834.5 cy=886.1 r=8 /><circle class=a cx=833.7 cy=1064.3 r=8 /><circle class=b cx=833.7 cy=1018.7 r=8 />
<circle class=c cx=833.7 cy=692.1 r=8 /><circle class=d cx=833.7 cy=886.1 r=8 /><circle class=a cx=832.9 cy=1064.6 r=8 /><circle class=b cx=832.9 cy=1019.1 r=8 /><circle class=c cx=832.9 cy=692.0 r=8 /><circle class=d cx=832.9 cy=886.1 r=8 />
<circle class=a cx=832.2 cy=1064.9 r=8 /><circle class=b cx=832.2 cy=1019.5 r=8 /><circle class=c cx=832.2 cy=692.0 r=8 /><circle class=d cx=832.2 cy=886.1 r=8 /><circle class=a cx=831.4 cy=1065.3 r=8 /><circle class=b cx=831.4 cy=1019.8 r=8 />
<circle class=c cx=831.4 cy=691.9 r=8 /><circle class=d cx=831.4 cy=886.2 r=8 /><circle class=a cx=830.6 cy=1065.6 r=8 /><circle class=b cx=830.6 cy=1020.2 r=8 /><circle class=c cx=830.6 cy=691.8 r=8 /><circle class=d cx=830.6 cy=886.2 r=8 />
<circle class=a cx=829.8 cy=1065.9 r=8 /><circle class=b cx=829.8 cy=1020.6 r=8 /><circle class=c cx=829.8 cy=691.7 r=8 /><circle class=d cx=829.8 cy=886.2 r=8 /><circle class=a cx=829.0 cy=1066.3 r=8 /><circle class=b cx=829.0 cy=1021.0 r=8 />
<circle class=c cx=829.0 cy=691.6 r=8 /><circle class=d cx=829.0 cy=886.2 r=8 /><circle class=a cx=828.3 cy=1066.6 r=8 /><circle class=b cx=828.3 cy=1021.4 r=8 /><circle class=c cx=828.3 cy=691.5 r=8 /><circle class=d cx=828.3 cy=886.3 r=8 />
<circle class=a cx=827.5 cy=1067.0 r=8 /><circle class=b cx=827.5 cy=1021.7 r=8 /><circle class=c cx=827.5 cy=691.4 r=8 /><circle class=d cx=827.5 cy=886.3 r=8 /><circle class=a cx=826.7 cy=1067.3 r=8 /><circle class=b cx=826.7 cy=1022.1 r=8 />
<circle class=c cx=826.7 cy=691.3 r=8 /><circle class=d cx=826.7 cy=886.3 r=8 /><circle class=a cx=825.9 cy=1067.7 r=8 /><circle class=b cx=825.9 cy=1022.5 r=8 /><circle class=c cx=825.9 cy=691.2 r=8 /><circle class=d cx=825.9 cy=886.3 r=8 />
<circle class=a cx=825.2 cy=1068.0 r=8 /><circle class=b cx=825.2 cy=1022.9 r=8 /><circle class=c cx=825.2 cy=691.2 r=8 /><circle class=d cx=825.2 cy=886.3 r=8 /><circle class=a cx=824.4 cy=1068.4 r=8 /><circle class=b cx=824.4 cy=1023.2 r=8 />
<circle class=c cx=824.4 cy=691.1 r=8 /><circle class=d cx=824.4 cy=886.4 r=8 /><circle class=a cx=823.6 cy=1068.7 r=8 /><circle class=b cx=823.6 cy=1023.6 r=8 /><circle class=c cx=823.6 cy=691.0 r=8 /><circle class=d cx=823.6 cy=886.4 r=8 />
<circle class=a cx=822.8 cy=1069.1 r=8 /><circle class=b cx=822.8 cy=1024.0 r=8 /><circle class=c cx=822.8 cy=690.9 r=8 /><circle class=d cx=822.8 cy=886.4 r=8 /><circle class=a cx=822.1 cy=1069.4 r=8 /><circle class=b cx=822.1 cy=1024.3 r=8 />
<circle class=c cx=822.1 cy=690.8 r=8 /><circle class=d cx=822.1 cy=886.4 r=8 /><circle class=a cx=821.3 cy=1069.7 r=8 /><circle class=b cx=821.3 cy=1024.7 r=8 /><circle class=c cx=821.3 cy=690.7 r=8 /><circle class=d cx=821.3 cy=886.4 r=8 />
<circle class=a cx=820.5 cy=1070.0 r=8 /><circle class=b cx=820.5 cy=1025.0 r=8 /><circle class=c cx=820.5 cy=690.6 r=8 /><circle class=d cx=820.5 cy=886.4 r=8 /><circle class=a cx=819.7 cy=1070.3 r=8 /><circle class=b cx=819.7 cy=1025.4 r=8 />
<circle class=c cx=819.7 cy=690.5 r=8 /><circle class=d cx=819.7 cy=886.4 r=8 /><circle class=a cx=819.0 cy=1070.6 r=8 /><circle class=b cx=819.0 cy=1025.7 r=8 /><circle class=c cx=819.0 cy=690.4 r=8 /><circle class=d cx=819.0 cy=886.3 r=8 />
<circle class=a cx=818.2 cy=1070.9 r=8 /><circle class=b cx=818.2 cy=1026.0 r=8 /><circle class=c cx=818.2 cy=690.2 r=8 /><circle class=d cx=818.2 cy=886.3 r=8 /><circle class=a cx=817.4 cy=1071.2 r=8 /><circle class=b cx=817.4 cy=1026.4 r=8 />
<circle class=c cx=817.4 cy=690.1 r=8 /><circle class=d cx=817.4 cy=886.2 r=8 /><circle class=a cx=816.6 cy=1071.5 r=8 /><circle class=b cx=816.6 cy=1026.7 r=8 /><circle class=c cx=816.6 cy=690.0 r=8 /><circle class=d cx=816.6 cy=886.1 r=8 />
<circle class=a cx=815.8 cy=1071.7 r=8 /><circle class=b cx=815.8 cy=1027.0 r=8 /><circle class=c cx=815.8 cy=689.8 r=8 /><circle class=d cx=815.8 cy=886.1 r=8 /><circle class=a cx=815.1 cy=1072.0 r=8 /><circle class=b cx=815.1 cy=1027.3 r=8 />
<circle class=c cx=815.1 cy=689.7 r=8 /><circle class=d cx=815.1 cy=886.0 r=8 /><circle class=a cx=814.3 cy=1072.3 r=8 /><circle class=b cx=814.3 cy=1027.6 r=8 /><circle class=c cx=814.3 cy=689.6 r=8 /><circle class=d cx=814.3 cy=885.9 r=8 />
<circle class=a cx=813.5 cy=1072.5 r=8 /><circle class=b cx=813.5 cy=1027.9 r=8 /><circle class=c cx=813.5 cy=689.5 r=8 /><circle class=d cx=813.5 cy=885.8 r=8 /><circle class=a cx=812.7 cy=1072.8 r=8 /><circle class=b cx=812.7 cy=1028.2 r=8 />
<circle class=c cx=812.7 cy=689.4 r=8 /><circle class=d cx=812.7 cy=885.7 r=8 /><circle class=a cx=812.0 cy=1073.0 r=8 /><circle class=b cx=812.0 cy=1028.5 r=8 /><circle class=c cx=812.0 cy=689.3 r=8 /><circle class=d cx=812.0 cy=885.7 r=8 />
<circle class=a cx=811.2 cy=1073.3 r=8 /><circle class=b cx=811.2 cy=1028.8 r=8 /><circle class=c cx=811.2 cy=689.2 r=8 /><circle class=d cx=811.2 cy=885.6 r=8 /><circle class=a cx=810.4 cy=1073.6 r=8 /><circle class=b cx=810.4 cy=1029.1 r=8 />
<circle class=c cx=810.4 cy=689.2 r=8 /><circle class=d cx=810.4 cy=885.6 r=8 /><circle class=a cx=809.6 cy=1073.8 r=8 /><circle class=b cx=809.6 cy=1029.4 r=8 /><circle class=c cx=809.6 cy=689.2 r=8 /><circle class=d cx=809.6 cy=885.6 r=8 />
<circle class=a cx=808.9 cy=1074.1 r=8 /><circle class=b cx=808.9 cy=1029.7 r=8 /><circle class=c cx=808.9 cy=689.2 r=8 /><circle class=d cx=808.9 cy=885.6 r=8 /><circle class=a cx=808.1 cy=1074.4 r=8 /><circle class=b cx=808.1 cy=1030.0 r=8 />
<circle class=c cx=808.1 cy=689.2 r=8 /><circle class=d cx=808.1 cy=885.6 r=8 /><circle class=a cx=807.3 cy=1074.7 r=8 /><circle class=b cx=807.3 cy=1030.3 r=8 /><circle class=c cx=807.3 cy=689.2 r=8 /><circle class=d cx=807.3 cy=885.7 r=8 />
<circle class=a cx=806.5 cy=1075.0 r=8 /><circle class=b cx=806.5 cy=1030.7 r=8 /><circle class=c cx=806.5 cy=689.2 r=8 /><circle class=d cx=806.5 cy=885.7 r=8 /><circle class=a cx=805.8 cy=1075.3 r=8 /><circle class=b cx=805.8 cy=1031.0 r=8 />
<circle class=c cx=805.8 cy=689.2 r=8 /><circle class=d cx=805.8 cy=885.8 r=8 /><circle class=a cx=805.0 cy=1075.6 r=8 /><circle class=b cx=805.0 cy=1031.4 r=8 /><circle class=c cx=805.0 cy=689.3 r=8 /><circle class=d cx=805.0 cy=885.8 r=8 />
<circle class=a cx=804.2 cy=1075.9 r=8 /><circle class=b cx=804.2 cy=1031.7 r=8 /><circle class=c cx=804.2 cy=689.3 r=8 /><circle class=d cx=804.2 cy=885.9 r=8 /><circle class=a cx=803.4 cy=1076.3 r=8 /><circle class=b cx=803.4 cy=1032.1 r=8 />
<circle class=c cx=803.4 cy=689.3 r=8 /><circle class=d cx=803.4 cy=886.0 r=8 /><circle class=a cx=802.6 cy=1076.6 r=8 /><circle class=b cx=802.6 cy=1032.5 r=8 /><circle class=c cx=802.6 cy=689.3 r=8 /><circle class=d cx=802.6 cy=886.1 r=8 />
<circle class=a cx=801.9 cy=1077.0 r=8 /><circle class=b cx=801.9 cy=1032.9 r=8 /><circle class=c cx=801.9 cy=689.3 r=8 /><circle class=d cx=801.9 cy=886.2 r=8 /><circle class=a cx=801.1 cy=1077.4 r=8 /><circle class=b cx=801.1 cy=1033.4 r=8 />
<circle class=c cx=801.1 cy=689.4 r=8 /><circle class=d cx=801.1 cy=886.3 r=8 /><circle class=a cx=800.3 cy=1077.8 r=8 /><circle class=b cx=800.3 cy=1033.8 r=8 /><circle class=c cx=800.3 cy=689.4 r=8 /><circle class=d cx=800.3 cy=886.4 r=8 />
<circle class=a cx=799.5 cy=1078.3 r=8 /><circle class=b cx=799.5 cy=1034.3 r=8 /><circle class=c cx=799.5 cy=689.4 r=8 /><circle class=d cx=799.5 cy=886.5 r=8 /><circle class=a cx=798.8 cy=1078.7 r=8 /><circle class=b cx=798.8 cy=1034.8 r=8 />
<circle class=c cx=798.8 cy=689.5 r=8 /><circle class=d cx=798.8 cy=886.6 r=8 /><circle class=a cx=798.0 cy=1079.3 r=8 /><circle class=b cx=798.0 cy=1035.4 r=8 /><circle class=c cx=798.0 cy=689.5 r=8 /><circle class=d cx=798.0 cy=886.8 r=8 />
<circle class=a cx=797.2 cy=1079.8 r=8 /><circle class=b cx=797.2 cy=1035.9 r=8 /><circle class=c cx=797.2 cy=689.6 r=8 /><circle class=d cx=797.2 cy=887.0 r=8 /><circle class=a cx=796.4 cy=1080.4 r=8 /><circle class=b cx=796.4 cy=1036.6 r=8 />
<circle class=c cx=796.4 cy=689.7 r=8 /><circle class=d cx=796.4 cy=887.2 r=8 /><circle class=a cx=795.7 cy=1081.1 r=8 /><circle class=b cx=795.7 cy=1037.2 r=8 /><circle class=c cx=795.7 cy=689.8 r=8 /><circle class=d cx=795.7 cy=887.5 r=8 />
<circle class=a cx=794.9 cy=1081.7 r=8 /><circle class=b cx=794.9 cy=1037.9 r=8 /><circle class=c cx=794.9 cy=689.9 r=8 /><circle class=d cx=794.9 cy=887.7 r=8 /><circle class=a cx=794.1 cy=1082.4 r=8 /><circle class=b cx=794.1 cy=1038.6 r=8 />
<circle class=c cx=794.1 cy=690.0 r=8 /><circle class=d cx=794.1 cy=888.1 r=8 /><circle class=a cx=793.3 cy=1083.2 r=8 /><circle class=b cx=793.3 cy=1039.3 r=8 /><circle class=c cx=793.3 cy=690.2 r=8 /><circle class=d cx=793.3 cy=888.4 r=8 />
<circle class=a cx=792.5 cy=1083.9 r=8 /><circle class=b cx=792.5 cy=1040.0 r=8 /><circle class=c cx=792.5 cy=690.3 r=8 /><circle class=d cx=792.5 cy=888.7 r=8 /><circle class=a cx=791.8 cy=1084.7 r=8 /><circle class=b cx=791.8 cy=1040.8 r=8 />
<circle class=c cx=791.8 cy=690.5 r=8 /><circle class=d cx=791.8 cy=889.1 r=8 /><circle class=a cx=791.0 cy=1085.5 r=8 /><circle class=b cx=791.0 cy=1041.6 r=8 /><circle class=c cx=791.0 cy=690.6 r=8 /><circle class=d cx=791.0 cy=889.5 r=8 />
<circle class=a cx=790.2 cy=1086.3 r=8 /><circle class=b cx=790.2 cy=1042.4 r=8 /><circle class=c cx=790.2 cy=690.8 r=8 /><circle class=d cx=790.2 cy=889.8 r=8 /><circle class=a cx=789.4 cy=1087.1 r=8 /><circle class=b cx=789.4 cy=1043.2 r=8 />
<circle class=c cx=789.4 cy=691.0 r=8 /><circle class=d cx=789.4 cy=890.2 r=8 /><circle class=a cx=788.7 cy=1087.9 r=8 /><circle class=b cx=788.7 cy=1044.0 r=8 /><circle class=c cx=788.7 cy=691.2 r=8 /><circle class=d cx=788.7 cy=890.6 r=8 />
<circle class=a cx=787.9 cy=1088.7 r=8 /><circle class=b cx=787.9 cy=1044.8 r=8 /><circle class=c cx=787.9 cy=691.4 r=8 /><circle class=d cx=787.9 cy=891.1 r=8 /><circle class=a cx=787.1 cy=1089.6 r=8 /><circle class=b cx=787.1 cy=1045.7 r=8 />
<circle class=c cx=787.1 cy=691.5 r=8 /><circle class=d cx=787.1 cy=891.5 r=8 /><circle class=a cx=786.3 cy=1090.4 r=8 /><circle class=b cx=786.3 cy=1046.5 r=8 /><circle class=c cx=786.3 cy=691.7 r=8 /><circle class=d cx=786.3 cy=891.9 r=8 />
<circle class=a cx=785.6 cy=1091.3 r=8 /><circle class=b cx=785.6 cy=1047.3 r=8 /><circle class=c cx=785.6 cy=691.9 r=8 /><circle class=d cx=785.6 cy=892.3 r=8 /><circle class=a cx=784.8 cy=1092.1 r=8 /><circle class=b cx=784.8 cy=1048.2 r=8 />
<circle class=c cx=784.8 cy=692.1 r=8 /><circle class=d cx=784.8 cy=892.7 r=8 /><circle class=a cx=784.0 cy=1093.0 r=8 /><circle class=b cx=784.0 cy=1049.0 r=8 /><circle class=c cx=784.0 cy=692.4 r=8 /><circle class=d cx=784.0 cy=893.1 r=8 />
<circle class=a cx=783.2 cy=1093.9 r=8 /><circle class=b cx=783.2 cy=1049.8 r=8 /><circle class=c cx=783.2 cy=692.6 r=8 /><circle class=d cx=783.2 cy=893.5 r=8 /><circle class=a cx=782.5 cy=1094.8 r=8 /><circle class=b cx=782.5 cy=1050.7 r=8 />
<circle class=c cx=782.5 cy=692.8 r=8 /><circle class=d cx=782.5 cy=893.9 r=8 /><circle class=a cx=781.7 cy=1095.8 r=8 /><circle class=b cx=781.7 cy=1051.7 r=8 /><circle class=c cx=781.7 cy=693.0 r=8 /><circle class=d cx=781.7 cy=894.2 r=8 />
<circle class=a cx=780.9 cy=1096.8 r=8 /><circle class=b cx=780.9 cy=1052.6 r=8 /><circle class=c cx=780.9 cy=693.2 r=8 /><circle class=d cx=780.9 cy=894.6 r=8 /><circle class=a cx=780.1 cy=1097.8 r=8 /><circle class=b cx=780.1 cy=1053.6 r=8 />
<circle class=c cx=780.1 cy=693.4 r=8 /><circle class=d cx=780.1 cy=894.9 r=8 /><circle class=a cx=779.3 cy=1098.9 r=8 /><circle class=b cx=779.3 cy=1054.6 r=8 /><circle class=c cx=779.3 cy=693.6 r=8 /><circle class=d cx=779.3 cy=895.3 r=8 />
<circle class=a cx=778.6 cy=1100.0 r=8 /><circle class=b cx=778.6 cy=1055.6 r=8 /><circle class=c cx=778.6 cy=693.8 r=8 /><circle class=d cx=778.6 cy=895.6 r=8 /><circle class=a cx=777.8 cy=1101.1 r=8 /><circle class=b cx=777.8 cy=1056.6 r=8 />
<circle class=c cx=777.8 cy=694.1 r=8 /><circle class=d cx=777.8 cy=896.0 r=8 /><circle class=a cx=777.0 cy=1102.2 r=8 /><circle class=b cx=777.0 cy=1057.6 r=8 /><circle class=c cx=777.0 cy=694.4 r=8 /><circle class=d cx=777.0 cy=896.3 r=8 />
<circle class=a cx=776.2 cy=1103.2 r=8 /><circle class=b cx=776.2 cy=1058.7 r=8 /><circle class=c cx=776.2 cy=694.7 r=8 /><circle class=d cx=776.2 cy=896.7 r=8 /><circle class=a cx=775.5 cy=1104.3 r=8 /><circle class=b cx=775.5 cy=1059.7 r=8 />
<circle class=c cx=775.5 cy=695.0 r=8 /><circle class=d cx=775.5 cy=897.1 r=8 /><circle class=a cx=774.7 cy=1105.4 r=8 /><circle class=b cx=774.7 cy=1060.7 r=8 /><circle class=c cx=774.7 cy=695.4 r=8 /><circle class=d cx=774.7 cy=897.4 r=8 />
<circle class=a cx=773.9 cy=1106.4 r=8 /><circle class=b cx=773.9 cy=1061.6 r=8 /><circle class=c cx=773.9 cy=695.7 r=8 /><circle class=d cx=773.9 cy=897.8 r=8 /><circle class=a cx=773.1 cy=1107.4 r=8 /><circle class=b cx=773.1 cy=1062.6 r=8 />
<circle class=c cx=773.1 cy=696.1 r=8 /><circle class=d cx=773.1 cy=898.1 r=8 /><circle class=a cx=772.4 cy=1108.4 r=8 /><circle class=b cx=772.4 cy=1063.5 r=8 /><circle class=c cx=772.4 cy=696.5 r=8 /><circle class=d cx=772.4 cy=898.5 r=8 />
<circle class=a cx=771.6 cy=1109.3 r=8 /><circle class=b cx=771.6 cy=1064.4 r=8 /><circle class=c cx=771.6 cy=696.8 r=8 /><circle class=d cx=771.6 cy=898.8 r=8 /><circle class=a cx=770.8 cy=1110.2 r=8 /><circle class=b cx=770.8 cy=1065.2 r=8 />
<circle class=c cx=770.8 cy=697.2 r=8 /><circle class=d cx=770.8 cy=899.1 r=8 /><circle class=a cx=770.0 cy=1111.0 r=8 /><circle class=b cx=770.0 cy=1066.0 r=8 /><circle class=c cx=770.0 cy=697.5 r=8 /><circle class=d cx=770.0 cy=899.4 r=8 />
<circle class=a cx=769.3 cy=1111.7 r=8 /><circle class=b cx=769.3 cy=1066.7 r=8 /><circle class=c cx=769.3 cy=697.8 r=8 /><circle class=d cx=769.3 cy=899.6 r=8 /><circle class=a cx=768.5 cy=1112.5 r=8 /><circle class=b cx=768.5 cy=1067.5 r=8 />
<circle class=c cx=768.5 cy=698.1 r=8 /><circle class=d cx=768.5 cy=899.9 r=8 /><circle class=a cx=767.7 cy=1113.2 r=8 /><circle class=b cx=767.7 cy=1068.2 r=8 /><circle class=c cx=767.7 cy=698.3 r=8 /><circle class=d cx=767.7 cy=900.1 r=8 />
<circle class=a cx=766.9 cy=1113.9 r=8 /><circle class=b cx=766.9 cy=1068.9 r=8 /><circle class=c cx=766.9 cy=698.6 r=8 /><circle class=d cx=766.9 cy=900.3 r=8 /><circle class=a cx=766.1 cy=1114.6 r=8 /><circle class=b cx=766.1 cy=1069.6 r=8 />
<circle class=c cx=766.1 cy=698.8 r=8 /><circle class=d cx=766.1 cy=900.5 r=8 /><circle class=a cx=765.4 cy=1115.2 r=8 /><circle class=b cx=765.4 cy=1070.2 r=8 /><circle class=c cx=765.4 cy=698.9 r=8 /><circle class=d cx=765.4 cy=900.7 r=8 />
<circle class=a cx=764.6 cy=1115.7 r=8 /><circle class=b cx=764.6 cy=1070.7 r=8 /><circle class=c cx=764.6 cy=699.0 r=8 /><circle class=d cx=764.6 cy=900.9 r=8 /><circle class=a cx=763.8 cy=1116.1 r=8 /><circle class=b cx=763.8 cy=1071.1 r=8 />
<circle class=c cx=763.8 cy=699.1 r=8 /><circle class=d cx=763.8 cy=901.1 r=8 /><circle class=a cx=763.0 cy=1116.5 r=8 /><circle class=b cx=763.0 cy=1071.5 r=8 /><circle class=c cx=763.0 cy=699.1 r=8 /><circle class=d cx=763.0 cy=901.3 r=8 />
<circle class=a cx=762.3 cy=1116.8 r=8 /><circle class=b cx=762.3 cy=1071.8 r=8 /><circle class=c cx=762.3 cy=699.1 r=8 /><circle class=d cx=762.3 cy=901.4 r=8 /><circle class=a cx=761.5 cy=1117.2 r=8 /><circle class=b cx=761.5 cy=1072.2 r=8 />
<circle class=c cx=761.5 cy=699.0 r=8 /><circle class=d cx=761.5 cy=901.5 r=8 /><circle class=a cx=760.7 cy=1117.5 r=8 /><circle class=b cx=760.7 cy=1072.5 r=8 /><circle class=c cx=760.7 cy=698.9 r=8 /><circle class=d cx=760.7 cy=901.6 r=8 />
<circle class=a cx=759.9 cy=1117.8 r=8 /><circle class=b cx=759.9 cy=1072.8 r=8 /><circle class=c cx=759.9 cy=698.8 r=8 /><circle class=d cx=759.9 cy=901.6 r=8 /><circle class=a cx=759.2 cy=1118.1 r=8 /><circle class=b cx=759.2 cy=1073.1 r=8 />
<circle class=c cx=759.2 cy=698.7 r=8 /><circle class=d cx=759.2 cy=901.5 r=8 /><circle class=a cx=758.4 cy=1118.3 r=8 /><circle class=b cx=758.4 cy=1073.3 r=8 /><circle class=c cx=758.4 cy=698.5 r=8 /><circle class=d cx=758.4 cy=901.4 r=8 />
<circle class=a cx=757.6 cy=1118.5 r=8 /><circle class=b cx=757.6 cy=1073.5 r=8 /><circle class=c cx=757.6 cy=698.4 r=8 /><circle class=d cx=757.6 cy=901.2 r=8 /><circle class=a cx=756.8 cy=1118.6 r=8 /><circle class=b cx=756.8 cy=1073.6 r=8 />
<circle class=c cx=756.8 cy=698.2 r=8 /><circle class=d cx=756.8 cy=900.9 r=8 /><circle class=a cx=756.1 cy=1118.6 r=8 /><circle class=b cx=756.1 cy=1073.6 r=8 /><circle class=c cx=756.1 cy=698.0 r=8 /><circle class=d cx=756.1 cy=900.6 r=8 />
<circle class=a cx=755.3 cy=1118.6 r=8 /><circle class=b cx=755.3 cy=1073.6 r=8 /><circle class=c cx=755.3 cy=697.8 r=8 /><circle class=d cx=755.3 cy=900.2 r=8 /><circle class=a cx=754.5 cy=1118.5 r=8 /><circle class=b cx=754.5 cy=1073.5 r=8 />
<circle class=c cx=754.5 cy=697.6 r=8 /><circle class=d cx=754.5 cy=899.8 r=8 /><circle class=a cx=753.7 cy=1118.4 r=8 /><circle class=b cx=753.7 cy=1073.4 r=8 /><circle class=c cx=753.7 cy=697.3 r=8 /><circle class=d cx=753.7 cy=899.4 r=8 />
<circle class=a cx=752.9 cy=1118.3 r=8 /><circle class=b cx=752.9 cy=1073.2 r=8 /><circle class=c cx=752.9 cy=697.1 r=8 /><circle class=d cx=752.9 cy=899.0 r=8 /><circle class=a cx=752.2 cy=1118.1 r=8 /><circle class=b cx=752.2 cy=1073.0 r=8 />
<circle class=c cx=752.2 cy=696.7 r=8 /><circle class=d cx=752.2 cy=898.6 r=8 /><circle class=a cx=751.4 cy=1117.9 r=8 /><circle class=b cx=751.4 cy=1072.7 r=8 /><circle class=c cx=751.4 cy=696.4 r=8 /><circle class=d cx=751.4 cy=898.2 r=8 />
<circle class=a cx=750.6 cy=1117.7 r=8 /><circle class=b cx=750.6 cy=1072.4 r=8 /><circle class=c cx=750.6 cy=696.0 r=8 /><circle class=d cx=750.6 cy=897.7 r=8 /><circle class=a cx=749.8 cy=1117.4 r=8 /><circle class=b cx=749.8 cy=1072.1 r=8 />
<circle class=c cx=749.8 cy=695.7 r=8 /><circle class=d cx=749.8 cy=897.3 r=8 /><circle class=a cx=749.1 cy=1117.2 r=8 /><circle class=b cx=749.1 cy=1071.7 r=8 /><circle class=c cx=749.1 cy=695.3 r=8 /><circle class=d cx=749.1 cy=896.7 r=8 />
<circle class=a cx=748.3 cy=1116.9 r=8 /><circle class=b cx=748.3 cy=1071.3 r=8 /><circle class=c cx=748.3 cy=694.9 r=8 /><circle class=d cx=748.3 cy=896.2 r=8 /><circle class=a cx=747.5 cy=1116.6 r=8 /><circle class=b cx=747.5 cy=1070.9 r=8 />
<circle class=c cx=747.5 cy=694.5 r=8 /><circle class=d cx=747.5 cy=895.6 r=8 /><circle class=a cx=746.7 cy=1116.2 r=8 /><circle class=b cx=746.7 cy=1070.5 r=8 /><circle class=c cx=746.7 cy=694.0 r=8 /><circle class=d cx=746.7 cy=895.0 r=8 />
<circle class=a cx=746.0 cy=1115.9 r=8 /><circle class=b cx=746.0 cy=1070.1 r=8 /><circle class=c cx=746.0 cy=693.5 r=8 /><circle class=d cx=746.0 cy=894.4 r=8 /><circle class=a cx=745.2 cy=1115.5 r=8 /><circle class=b cx=745.2 cy=1069.7 r=8 />
<circle class=c cx=745.2 cy=693.0 r=8 /><circle class=d cx=745.2 cy=893.7 r=8 /><circle class=a cx=744.4 cy=1115.2 r=8 /><circle class=b cx=744.4 cy=1069.2 r=8 /><circle class=c cx=744.4 cy=692.5 r=8 /><circle class=d cx=744.4 cy=893.1 r=8 />
<circle class=a cx=743.6 cy=1114.8 r=8 /><circle class=b cx=743.6 cy=1068.8 r=8 /><circle class=c cx=743.6 cy=691.9 r=8 /><circle class=d cx=743.6 cy=892.4 r=8 /><circle class=a cx=742.9 cy=1114.4 r=8 /><circle class=b cx=742.9 cy=1068.3 r=8 />
<circle class=c cx=742.9 cy=691.3 r=8 /><circle class=d cx=742.9 cy=891.7 r=8 /><circle class=a cx=742.1 cy=1113.8 r=8 /><circle class=b cx=742.1 cy=1067.7 r=8 /><circle class=c cx=742.1 cy=690.7 r=8 /><circle class=d cx=742.1 cy=891.0 r=8 />
<circle class=a cx=741.3 cy=1113.2 r=8 /><circle class=b cx=741.3 cy=1067.1 r=8 /><circle class=c cx=741.3 cy=690.0 r=8 /><circle class=d cx=741.3 cy=890.2 r=8 /><circle class=a cx=740.5 cy=1112.5 r=8 /><circle class=b cx=740.5 cy=1066.3 r=8 />
<circle class=c cx=740.5 cy=689.4 r=8 /><circle class=d cx=740.5 cy=889.5 r=8 /><circle class=a cx=739.7 cy=1111.8 r=8 /><circle class=b cx=739.7 cy=1065.6 r=8 /><circle class=c cx=739.7 cy=688.7 r=8 /><circle class=d cx=739.7 cy=888.8 r=8 />
<circle class=a cx=739.0 cy=1111.0 r=8 /><circle class=b cx=739.0 cy=1064.8 r=8 /><circle class=c cx=739.0 cy=688.0 r=8 /><circle class=d cx=739.0 cy=888.0 r=8 /><circle class=a cx=738.2 cy=1110.1 r=8 /><circle class=b cx=738.2 cy=1063.9 r=8 />
<circle class=c cx=738.2 cy=687.3 r=8 /><circle class=d cx=738.2 cy=887.2 r=8 /><circle class=a cx=737.4 cy=1109.2 r=8 /><circle class=b cx=737.4 cy=1063.1 r=8 /><circle class=c cx=737.4 cy=686.6 r=8 /><circle class=d cx=737.4 cy=886.3 r=8 />
<circle class=a cx=736.6 cy=1108.3 r=8 /><circle class=b cx=736.6 cy=1062.1 r=8 /><circle class=c cx=736.6 cy=685.8 r=8 /><circle class=d cx=736.6 cy=885.5 r=8 /><circle class=a cx=735.9 cy=1107.3 r=8 /><circle class=b cx=735.9 cy=1061.2 r=8 />
<circle class=c cx=735.9 cy=685.1 r=8 /><circle class=d cx=735.9 cy=884.6 r=8 /><circle class=a cx=735.1 cy=1106.4 r=8 /><circle class=b cx=735.1 cy=1060.3 r=8 /><circle class=c cx=735.1 cy=684.4 r=8 /><circle class=d cx=735.1 cy=883.7 r=8 />
<circle class=a cx=734.3 cy=1105.4 r=8 /><circle class=b cx=734.3 cy=1059.3 r=8 /><circle class=c cx=734.3 cy=683.7 r=8 /><circle class=d cx=734.3 cy=882.7 r=8 /><circle class=a cx=733.5 cy=1104.4 r=8 /><circle class=b cx=733.5 cy=1058.3 r=8 />
<circle class=c cx=733.5 cy=683.0 r=8 /><circle class=d cx=733.5 cy=881.8 r=8 /><circle class=a cx=732.8 cy=1103.4 r=8 /><circle class=b cx=732.8 cy=1057.4 r=8 /><circle class=c cx=732.8 cy=682.3 r=8 /><circle class=d cx=732.8 cy=880.8 r=8 />
<circle class=a cx=732.0 cy=1102.4 r=8 /><circle class=b cx=732.0 cy=1056.4 r=8 /><circle class=c cx=732.0 cy=681.6 r=8 /><circle class=d cx=732.0 cy=879.8 r=8 /><circle class=a cx=731.2 cy=1101.4 r=8 /><circle class=b cx=731.2 cy=1055.4 r=8 />
<circle class=c cx=731.2 cy=680.9 r=8 /><circle class=d cx=731.2 cy=878.8 r=8 /><circle class=a cx=730.4 cy=1100.5 r=8 /><circle class=b cx=730.4 cy=1054.5 r=8 /><circle class=c cx=730.4 cy=680.2 r=8 /><circle class=d cx=730.4 cy=877.8 r=8 />
<circle class=a cx=729.7 cy=1099.6 r=8 /><circle class=b cx=729.7 cy=1053.6 r=8 /><circle class=c cx=729.7 cy=679.5 r=8 /><circle class=d cx=729.7 cy=876.7 r=8 /><circle class=a cx=728.9 cy=1098.7 r=8 /><circle class=b cx=728.9 cy=1052.7 r=8 />
<circle class=c cx=728.9 cy=678.8 r=8 /><circle class=d cx=728.9 cy=875.7 r=8 /><circle class=a cx=728.1 cy=1097.7 r=8 /><circle class=b cx=728.1 cy=1051.7 r=8 /><circle class=c cx=728.1 cy=678.0 r=8 /><circle class=d cx=728.1 cy=874.6 r=8 />
<circle class=a cx=727.3 cy=1096.7 r=8 /><circle class=b cx=727.3 cy=1050.7 r=8 /><circle class=c cx=727.3 cy=677.3 r=8 /><circle class=d cx=727.3 cy=873.6 r=8 /><circle class=a cx=726.5 cy=1095.7 r=8 /><circle class=b cx=726.5 cy=1049.7 r=8 />
<circle class=c cx=726.5 cy=676.6 r=8 /><circle class=d cx=726.5 cy=872.5 r=8 /><circle class=a cx=725.8 cy=1094.7 r=8 /><circle class=b cx=725.8 cy=1048.7 r=8 /><circle class=c cx=725.8 cy=675.8 r=8 /><circle class=d cx=725.8 cy=871.5 r=8 />
<circle class=a cx=725.0 cy=1093.7 r=8 /><circle class=b cx=725.0 cy=1047.6 r=8 /><circle class=c cx=725.0 cy=675.1 r=8 /><circle class=d cx=725.0 cy=870.4 r=8 /><circle class=a cx=724.2 cy=1092.6 r=8 /><circle class=b cx=724.2 cy=1046.6 r=8 />
<circle class=c cx=724.2 cy=674.3 r=8 /><circle class=d cx=724.2 cy=869.4 r=8 /><circle class=a cx=723.4 cy=1091.6 r=8 /><circle class=b cx=723.4 cy=1045.5 r=8 /><circle class=c cx=723.4 cy=673.6 r=8 /><circle class=d cx=723.4 cy=868.4 r=8 />
<circle class=a cx=722.7 cy=1090.5 r=8 /><circle class=b cx=722.7 cy=1044.4 r=8 /><circle class=c cx=722.7 cy=672.8 r=8 /><circle class=d cx=722.7 cy=867.4 r=8 /><circle class=a cx=721.9 cy=1089.4 r=8 /><circle class=b cx=721.9 cy=1043.3 r=8 />
<circle class=c cx=721.9 cy=672.0 r=8 /><circle class=d cx=721.9 cy=866.4 r=8 /><circle class=a cx=721.1 cy=1088.3 r=8 /><circle class=b cx=721.1 cy=1042.2 r=8 /><circle class=c cx=721.1 cy=671.3 r=8 /><circle class=d cx=721.1 cy=865.4 r=8 />
<circle class=a cx=720.3 cy=1087.3 r=8 /><circle class=b cx=720.3 cy=1041.1 r=8 /><circle class=c cx=720.3 cy=670.5 r=8 /><circle class=d cx=720.3 cy=864.4 r=8 /><circle class=a cx=719.6 cy=1086.2 r=8 /><circle class=b cx=719.6 cy=1040.1 r=8 />
<circle class=c cx=719.6 cy=669.8 r=8 /><circle class=d cx=719.6 cy=863.5 r=8 /><circle class=a cx=718.8 cy=1085.1 r=8 /><circle class=b cx=718.8 cy=1039.0 r=8 /><circle class=c cx=718.8 cy=669.0 r=8 /><circle class=d cx=718.8 cy=862.5 r=8 />
<circle class=a cx=718.0 cy=1084.0 r=8 /><circle class=b cx=718.0 cy=1037.9 r=8 /><circle class=c cx=718.0 cy=668.2 r=8 /><circle class=d cx=718.0 cy=861.5 r=8 /><circle class=a cx=717.2 cy=1083.0 r=8 /><circle class=b cx=717.2 cy=1036.8 r=8 />
<circle class=c cx=717.2 cy=667.5 r=8 /><circle class=d cx=717.2 cy=860.5 r=8 /><circle class=a cx=716.5 cy=1081.9 r=8 /><circle class=b cx=716.5 cy=1035.8 r=8 /><circle class=c cx=716.5 cy=666.7 r=8 /><circle class=d cx=716.5 cy=859.6 r=8 />
<circle class=a cx=715.7 cy=1080.9 r=8 /><circle class=b cx=715.7 cy=1034.8 r=8 /><circle class=c cx=715.7 cy=666.0 r=8 /><circle class=d cx=715.7 cy=858.6 r=8 /><circle class=a cx=714.9 cy=1079.9 r=8 /><circle class=b cx=714.9 cy=1033.8 r=8 />
<circle class=c cx=714.9 cy=665.2 r=8 /><circle class=d cx=714.9 cy=857.6 r=8 /><circle class=a cx=714.1 cy=1078.9 r=8 /><circle class=b cx=714.1 cy=1032.8 r=8 /><circle class=c cx=714.1 cy=664.5 r=8 /><circle class=d cx=714.1 cy=856.6 r=8 />
<circle class=a cx=713.3 cy=1077.9 r=8 /><circle class=b cx=713.3 cy=1031.8 r=8 /><circle class=c cx=713.3 cy=663.7 r=8 /><circle class=d cx=713.3 cy=855.6 r=8 /><circle class=a cx=712.6 cy=1077.0 r=8 /><circle class=b cx=712.6 cy=1030.9 r=8 />
<circle class=c cx=712.6 cy=663.0 r=8 /><circle class=d cx=712.6 cy=854.6 r=8 /><circle class=a cx=711.8 cy=1076.0 r=8 /><circle class=b cx=711.8 cy=1030.0 r=8 /><circle class=c cx=711.8 cy=662.2 r=8 /><circle class=d cx=711.8 cy=853.6 r=8 />
<circle class=a cx=711.0 cy=1075.1 r=8 /><circle class=b cx=711.0 cy=1029.1 r=8 /><circle class=c cx=711.0 cy=661.5 r=8 /><circle class=d cx=711.0 cy=852.6 r=8 /><circle class=a cx=710.2 cy=1074.3 r=8 /><circle class=b cx=710.2 cy=1028.3 r=8 />
<circle class=c cx=710.2 cy=660.8 r=8 /><circle class=d cx=710.2 cy=851.6 r=8 /><circle class=a cx=709.5 cy=1073.4 r=8 /><circle class=b cx=709.5 cy=1027.4 r=8 /><circle class=c cx=709.5 cy=660.1 r=8 /><circle class=d cx=709.5 cy=850.7 r=8 />
<circle class=a cx=708.7 cy=1072.6 r=8 /><circle class=b cx=708.7 cy=1026.6 r=8 /><circle class=c cx=708.7 cy=659.3 r=8 /><circle class=d cx=708.7 cy=849.7 r=8 /><circle class=a cx=707.9 cy=1071.7 r=8 /><circle class=b cx=707.9 cy=1025.8 r=8 />
<circle class=c cx=707.9 cy=658.6 r=8 /><circle class=d cx=707.9 cy=848.8 r=8 /><circle class=a cx=707.1 cy=1070.9 r=8 /><circle class=b cx=707.1 cy=1025.0 r=8 /><circle class=c cx=707.1 cy=657.9 r=8 /><circle class=d cx=707.1 cy=847.8 r=8 />
<circle class=a cx=706.4 cy=1070.1 r=8 /><circle class=b cx=706.4 cy=1024.3 r=8 /><circle class=c cx=706.4 cy=657.1 r=8 /><circle class=d cx=706.4 cy=846.9 r=8 /><circle class=a cx=705.6 cy=1069.3 r=8 /><circle class=b cx=705.6 cy=1023.5 r=8 />
<circle class=c cx=705.6 cy=656.4 r=8 /><circle class=d cx=705.6 cy=846.0 r=8 /><circle class=a cx=704.8 cy=1068.4 r=8 /><circle class=b cx=704.8 cy=1022.7 r=8 /><circle class=c cx=704.8 cy=655.7 r=8 /><circle class=d cx=704.8 cy=845.1 r=8 />
<circle class=a cx=704.0 cy=1067.6 r=8 /><circle class=b cx=704.0 cy=1022.0 r=8 /><circle class=c cx=704.0 cy=655.0 r=8 /><circle class=d cx=704.0 cy=844.2 r=8 /><circle class=a cx=703.3 cy=1066.8 r=8 /><circle class=b cx=703.3 cy=1021.2 r=8 />
<circle class=c cx=703.3 cy=654.3 r=8 /><circle class=d cx=703.3 cy=843.3 r=8 /><circle class=a cx=702.5 cy=1066.1 r=8 /><circle class=b cx=702.5 cy=1020.5 r=8 /><circle class=c cx=702.5 cy=653.6 r=8 /><circle class=d cx=702.5 cy=842.5 r=8 />
<circle class=a cx=701.7 cy=1065.3 r=8 /><circle class=b cx=701.7 cy=1019.8 r=8 /><circle class=c cx=701.7 cy=652.9 r=8 /><circle class=d cx=701.7 cy=841.7 r=8 /><circle class=a cx=700.9 cy=1064.6 r=8 /><circle class=b cx=700.9 cy=1019.1 r=8 />
<circle class=c cx=700.9 cy=652.3 r=8 /><circle class=d cx=700.9 cy=840.9 r=8 /><circle class=a cx=700.1 cy=1063.8 r=8 /><circle class=b cx=700.1 cy=1018.4 r=8 /><circle class=c cx=700.1 cy=651.6 r=8 /><circle class=d cx=700.1 cy=840.1 r=8 />
<circle class=a cx=699.4 cy=1063.1 r=8 /><circle class=b cx=699.4 cy=1017.8 r=8 /><circle class=c cx=699.4 cy=651.0 r=8 /><circle class=d cx=699.4 cy=839.4 r=8 /><circle class=a cx=698.6 cy=1062.5 r=8 /><circle class=b cx=698.6 cy=1017.1 r=8 />
<circle class=c cx=698.6 cy=650.4 r=8 /><circle class=d cx=698.6 cy=838.7 r=8 /><circle class=a cx=697.8 cy=1061.8 r=8 /><circle class=b cx=697.8 cy=1016.5 r=8 /><circle class=c cx=697.8 cy=649.8 r=8 /><circle class=d cx=697.8 cy=837.9 r=8 />
<circle class=a cx=697.0 cy=1061.2 r=8 /><circle class=b cx=697.0 cy=1016.0 r=8 /><circle class=c cx=697.0 cy=649.2 r=8 /><circle class=d cx=697.0 cy=837.2 r=8 /><circle class=a cx=696.3 cy=1060.6 r=8 /><circle class=b cx=696.3 cy=1015.4 r=8 />
<circle class=c cx=696.3 cy=648.6 r=8 /><circle class=d cx=696.3 cy=836.4 r=8 /><circle class=a cx=695.5 cy=1060.0 r=8 /><circle class=b cx=695.5 cy=1014.9 r=8 /><circle class=c cx=695.5 cy=648.0 r=8 /><circle class=d cx=695.5 cy=835.7 r=8 />
<circle class=a cx=694.7 cy=1059.5 r=8 /><circle class=b cx=694.7 cy=1014.4 r=8 /><circle class=c cx=694.7 cy=647.4 r=8 /><circle class=d cx=694.7 cy=835.0 r=8 /><circle class=a cx=693.9 cy=1059.0 r=8 /><circle class=b cx=693.9 cy=1014.0 r=8 />
<circle class=c cx=693.9 cy=646.9 r=8 /><circle class=d cx=693.9 cy=834.3 r=8 /><circle class=a cx=693.2 cy=1058.5 r=8 /><circle class=b cx=693.2 cy=1013.5 r=8 /><circle class=c cx=693.2 cy=646.3 r=8 /><circle class=d cx=693.2 cy=833.6 r=8 />
<circle class=a cx=692.4 cy=1058.0 r=8 /><circle class=b cx=692.4 cy=1013.1 r=8 /><circle class=c cx=692.4 cy=645.7 r=8 /><circle class=d cx=692.4 cy=832.9 r=8 /><circle class=a cx=691.6 cy=1057.6 r=8 /><circle class=b cx=691.6 cy=1012.7 r=8 />
<circle class=c cx=691.6 cy=645.2 r=8 /><circle class=d cx=691.6 cy=832.2 r=8 /><circle class=a cx=690.8 cy=1057.1 r=8 /><circle class=b cx=690.8 cy=1012.3 r=8 /><circle class=c cx=690.8 cy=644.6 r=8 /><circle class=d cx=690.8 cy=831.5 r=8 />
<circle class=a cx=690.1 cy=1056.7 r=8 /><circle class=b cx=690.1 cy=1011.9 r=8 /><circle class=c cx=690.1 cy=644.0 r=8 /><circle class=d cx=690.1 cy=830.9 r=8 /><circle class=a cx=689.3 cy=1056.3 r=8 /><circle class=b cx=689.3 cy=1011.6 r=8 />
<circle class=c cx=689.3 cy=643.4 r=8 /><circle class=d cx=689.3 cy=830.2 r=8 /><circle class=a cx=688.5 cy=1056.0 r=8 /><circle class=b cx=688.5 cy=1011.4 r=8 /><circle class=c cx=688.5 cy=642.8 r=8 /><circle class=d cx=688.5 cy=829.6 r=8 />
<circle class=a cx=687.7 cy=1055.6 r=8 /><circle class=b cx=687.7 cy=1011.2 r=8 /><circle class=c cx=687.7 cy=642.2 r=8 /><circle class=d cx=687.7 cy=829.0 r=8 /><circle class=a cx=686.9 cy=1055.3 r=8 /><circle class=b cx=686.9 cy=1011.1 r=8 />
<circle class=c cx=686.9 cy=641.5 r=8 /><circle class=d cx=686.9 cy=828.4 r=8 /><circle class=a cx=686.2 cy=1055.1 r=8 /><circle class=b cx=686.2 cy=1011.0 r=8 /><circle class=c cx=686.2 cy=641.0 r=8 /><circle class=d cx=686.2 cy=827.8 r=8 />
<circle class=a cx=685.4 cy=1054.8 r=8 /><circle class=b cx=685.4 cy=1010.8 r=8 /><circle class=c cx=685.4 cy=640.5 r=8 /><circle class=d cx=685.4 cy=827.2 r=8 /><circle class=a cx=684.6 cy=1054.5 r=8 /><circle class=b cx=684.6 cy=1010.7 r=8 />
<circle class=c cx=684.6 cy=640.1 r=8 /><circle class=d cx=684.6 cy=826.7 r=8 /><circle class=a cx=683.8 cy=1054.3 r=8 /><circle class=b cx=683.8 cy=1010.6 r=8 /><circle class=c cx=683.8 cy=639.8 r=8 /><circle class=d cx=683.8 cy=826.2 r=8 />
<circle class=a cx=683.1 cy=1054.0 r=8 /><circle class=b cx=683.1 cy=1010.6 r=8 /><circle class=c cx=683.1 cy=639.5 r=8 /><circle class=d cx=683.1 cy=825.7 r=8 /><circle class=a cx=682.3 cy=1053.8 r=8 /><circle class=b cx=682.3 cy=1010.5 r=8 />
<circle class=c cx=682.3 cy=639.2 r=8 /><circle class=d cx=682.3 cy=825.2 r=8 /><circle class=a cx=681.5 cy=1053.5 r=8 /><circle class=b cx=681.5 cy=1010.5 r=8 /><circle class=c cx=681.5 cy=638.9 r=8 /><circle class=d cx=681.5 cy=824.8 r=8 />
<circle class=a cx=680.7 cy=1053.3 r=8 /><circle class=b cx=680.7 cy=1010.5 r=8 /><circle class=c cx=680.7 cy=638.6 r=8 /><circle class=d cx=680.7 cy=824.4 r=8 /><circle class=a cx=680.0 cy=1053.2 r=8 /><circle class=b cx=680.0 cy=1010.5 r=8 />
<circle class=c cx=680.0 cy=638.4 r=8 /><circle class=d cx=680.0 cy=824.0 r=8 /><circle class=a cx=679.2 cy=1053.1 r=8 /><circle class=b cx=679.2 cy=1010.6 r=8 /><circle class=c cx=679.2 cy=638.1 r=8 /><circle class=d cx=679.2 cy=823.6 r=8 />
<circle class=a cx=678.4 cy=1053.0 r=8 /><circle class=b cx=678.4 cy=1010.6 r=8 /><circle class=c cx=678.4 cy=637.9 r=8 /><circle class=d cx=678.4 cy=823.3 r=8 /><circle class=a cx=677.6 cy=1053.0 r=8 /><circle class=b cx=677.6 cy=1010.7 r=8 />
<circle class=c cx=677.6 cy=637.7 r=8 /><circle class=d cx=677.6 cy=822.9 r=8 /><circle class=a cx=676.9 cy=1053.0 r=8 /><circle class=b cx=676.9 cy=1010.7 r=8 /><circle class=c cx=676.9 cy=637.5 r=8 /><circle class=d cx=676.9 cy=822.6 r=8 />
<circle class=a cx=676.1 cy=1053.1 r=8 /><circle class=b cx=676.1 cy=1010.8 r=8 /><circle class=c cx=676.1 cy=637.3 r=8 /><circle class=d cx=676.1 cy=822.3 r=8 /><circle class=a cx=675.3 cy=1053.3 r=8 /><circle class=b cx=675.3 cy=1010.9 r=8 />
<circle class=c cx=675.3 cy=637.1 r=8 /><circle class=d cx=675.3 cy=822.0 r=8 /><circle class=a cx=674.5 cy=1053.4 r=8 /><circle class=b cx=674.5 cy=1011.0 r=8 /><circle class=c cx=674.5 cy=636.9 r=8 /><circle class=d cx=674.5 cy=821.7 r=8 />
<circle class=a cx=673.7 cy=1053.6 r=8 /><circle class=b cx=673.7 cy=1011.1 r=8 /><circle class=c cx=673.7 cy=636.7 r=8 /><circle class=d cx=673.7 cy=821.4 r=8 /><circle class=a cx=673.0 cy=1053.8 r=8 /><circle class=b cx=673.0 cy=1011.2 r=8 />
<circle class=c cx=673.0 cy=636.6 r=8 /><circle class=d cx=673.0 cy=821.2 r=8 /><circle class=a cx=672.2 cy=1053.9 r=8 /><circle class=b cx=672.2 cy=1011.3 r=8 /><circle class=c cx=672.2 cy=636.5 r=8 /><circle class=d cx=672.2 cy=820.9 r=8 />
<circle class=a cx=671.4 cy=1054.1 r=8 /><circle class=b cx=671.4 cy=1011.4 r=8 /><circle class=c cx=671.4 cy=636.4 r=8 /><circle class=d cx=671.4 cy=820.7 r=8 /><circle class=a cx=670.6 cy=1054.3 r=8 /><circle class=b cx=670.6 cy=1011.5 r=8 />
<circle class=c cx=670.6 cy=636.3 r=8 /><circle class=d cx=670.6 cy=820.4 r=8 /><circle class=a cx=669.9 cy=1054.5 r=8 /><circle class=b cx=669.9 cy=1011.7 r=8 /><circle class=c cx=669.9 cy=636.2 r=8 /><circle class=d cx=669.9 cy=820.2 r=8 />
<circle class=a cx=669.1 cy=1054.7 r=8 /><circle class=b cx=669.1 cy=1011.9 r=8 /><circle class=c cx=669.1 cy=636.2 r=8 /><circle class=d cx=669.1 cy=819.9 r=8 /><circle class=a cx=668.3 cy=1055.0 r=8 /><circle class=b cx=668.3 cy=1012.1 r=8 />
<circle class=c cx=668.3 cy=636.1 r=8 /><circle class=d cx=668.3 cy=819.7 r=8 /><circle class=a cx=667.5 cy=1055.2 r=8 /><circle class=b cx=667.5 cy=1012.4 r=8 /><circle class=c cx=667.5 cy=636.1 r=8 /><circle class=d cx=667.5 cy=819.5 r=8 />
<circle class=a cx=666.8 cy=1055.5 r=8 /><circle class=b cx=666.8 cy=1012.6 r=8 /><circle class=c cx=666.8 cy=636.0 r=8 /><circle class=d cx=666.8 cy=819.2 r=8 /><circle class=a cx=666.0 cy=1055.8 r=8 /><circle class=b cx=666.0 cy=1012.9 r=8 />
<circle class=c cx=666.0 cy=636.0 r=8 /><circle class=d cx=666.0 cy=819.0 r=8 /><circle class=a cx=665.2 cy=1056.1 r=8 /><circle class=b cx=665.2 cy=1013.2 r=8 /><circle class=c cx=665.2 cy=636.0 r=8 /><circle class=d cx=665.2 cy=818.8 r=8 />
<circle class=a cx=664.4 cy=1056.4 r=8 /><circle class=b cx=664.4 cy=1013.6 r=8 /><circle class=c cx=664.4 cy=636.0 r=8 /><circle class=d cx=664.4 cy=818.5 r=8 /><circle class=a cx=663.7 cy=1056.7 r=8 /><circle class=b cx=663.7 cy=1013.9 r=8 />
<circle class=c cx=663.7 cy=635.9 r=8 /><circle class=d cx=663.7 cy=818.3 r=8 /><circle class=a cx=662.9 cy=1057.0 r=8 /><circle class=b cx=662.9 cy=1014.3 r=8 /><circle class=c cx=662.9 cy=635.9 r=8 /><circle class=d cx=662.9 cy=818.0 r=8 />
<circle class=a cx=662.1 cy=1057.3 r=8 /><circle class=b cx=662.1 cy=1014.6 r=8 /><circle class=c cx=662.1 cy=635.9 r=8 /><circle class=d cx=662.1 cy=817.7 r=8 /><circle class=a cx=661.3 cy=1057.6 r=8 /><circle class=b cx=661.3 cy=1015.0 r=8 />
<circle class=c cx=661.3 cy=635.9 r=8 /><circle class=d cx=661.3 cy=817.5 r=8 /><circle class=a cx=660.5 cy=1057.8 r=8 /><circle class=b cx=660.5 cy=1015.4 r=8 /><circle class=c cx=660.5 cy=635.8 r=8 /><circle class=d cx=660.5 cy=817.2 r=8 />
<circle class=a cx=659.8 cy=1058.1 r=8 /><circle class=b cx=659.8 cy=1015.7 r=8 /><circle class=c cx=659.8 cy=635.8 r=8 /><circle class=d cx=659.8 cy=816.9 r=8 /><circle class=a cx=659.0 cy=1058.3 r=8 /><circle class=b cx=659.0 cy=1016.1 r=8 />
<circle class=c cx=659.0 cy=635.8 r=8 /><circle class=d cx=659.0 cy=816.6 r=8 /><circle class=a cx=658.2 cy=1058.5 r=8 /><circle class=b cx=658.2 cy=1016.5 r=8 /><circle class=c cx=658.2 cy=635.8 r=8 /><circle class=d cx=658.2 cy=816.3 r=8 />
<circle class=a cx=657.4 cy=1058.7 r=8 /><circle class=b cx=657.4 cy=1016.8 r=8 /><circle class=c cx=657.4 cy=635.7 r=8 /><circle class=d cx=657.4 cy=816.1 r=8 /><circle class=a cx=656.7 cy=1058.9 r=8 /><circle class=b cx=656.7 cy=1017.1 r=8 />
<circle class=c cx=656.7 cy=635.7 r=8 /><circle class=d cx=656.7 cy=815.8 r=8 /><circle class=a cx=655.9 cy=1059.1 r=8 /><circle class=b cx=655.9 cy=1017.5 r=8 /><circle class=c cx=655.9 cy=635.7 r=8 /><circle class=d cx=655.9 cy=815.5 r=8 />
<circle class=a cx=655.1 cy=1059.3 r=8 /><circle class=b cx=655.1 cy=1017.8 r=8 /><circle class=c cx=655.1 cy=635.6 r=8 /><circle class=d cx=655.1 cy=815.2 r=8 /><circle class=a cx=654.3 cy=1059.4 r=8 /><circle class=b cx=654.3 cy=1018.2 r=8 />
<circle class=c cx=654.3 cy=635.6 r=8 /><circle class=d cx=654.3 cy=814.9 r=8 /><circle class=a cx=653.6 cy=1059.6 r=8 /><circle class=b cx=653.6 cy=1018.6 r=8 /><circle class=c cx=653.6 cy=635.5 r=8 /><circle class=d cx=653.6 cy=814.6 r=8 />
<circle class=a cx=652.8 cy=1059.8 r=8 /><circle class=b cx=652.8 cy=1018.9 r=8 /><circle class=c cx=652.8 cy=635.5 r=8 /><circle class=d cx=652.8 cy=814.3 r=8 /><circle class=a cx=652.0 cy=1059.9 r=8 /><circle class=b cx=652.0 cy=1019.3 r=8 />
<circle class=c cx=652.0 cy=635.4 r=8 /><circle class=d cx=652.0 cy=814.0 r=8 /><circle class=a cx=651.2 cy=1060.1 r=8 /><circle class=b cx=651.2 cy=1019.7 r=8 /><circle class=c cx=651.2 cy=635.3 r=8 /><circle class=d cx=651.2 cy=813.8 r=8 />
<circle class=a cx=650.5 cy=1060.2 r=8 /><circle class=b cx=650.5 cy=1020.0 r=8 /><circle class=c cx=650.5 cy=635.2 r=8 /><circle class=d cx=650.5 cy=813.5 r=8 /><circle class=a cx=649.7 cy=1060.4 r=8 /><circle class=b cx=649.7 cy=1020.4 r=8 />
<circle class=c cx=649.7 cy=635.1 r=8 /><circle class=d cx=649.7 cy=813.2 r=8 /><circle class=a cx=648.9 cy=1060.6 r=8 /><circle class=b cx=648.9 cy=1020.8 r=8 /><circle class=c cx=648.9 cy=635.0 r=8 /><circle class=d cx=648.9 cy=812.9 r=8 />
<circle class=a cx=648.1 cy=1060.7 r=8 /><circle class=b cx=648.1 cy=1021.2 r=8 /><circle class=c cx=648.1 cy=635.0 r=8 /><circle class=d cx=648.1 cy=812.5 r=8 /><circle class=a cx=647.3 cy=1060.9 r=8 /><circle class=b cx=647.3 cy=1021.6 r=8 />
<circle class=c cx=647.3 cy=634.9 r=8 /><circle class=d cx=647.3 cy=812.2 r=8 /><circle class=a cx=646.6 cy=1061.1 r=8 /><circle class=b cx=646.6 cy=1022.0 r=8 /><circle class=c cx=646.6 cy=634.9 r=8 /><circle class=d cx=646.6 cy=811.9 r=8 />
<circle class=a cx=645.8 cy=1061.3 r=8 /><circle class=b cx=645.8 cy=1022.4 r=8 /><circle class=c cx=645.8 cy=634.9 r=8 /><circle class=d cx=645.8 cy=811.6 r=8 /><circle class=a cx=645.0 cy=1061.5 r=8 /><circle class=b cx=645.0 cy=1022.8 r=8 />
<circle class=c cx=645.0 cy=635.0 r=8 /><circle class=d cx=645.0 cy=811.3 r=8 /><circle class=a cx=644.2 cy=1061.7 r=8 /><circle class=b cx=644.2 cy=1023.2 r=8 /><circle class=c cx=644.2 cy=635.2 r=8 /><circle class=d cx=644.2 cy=810.9 r=8 />
<circle class=a cx=643.5 cy=1061.9 r=8 /><circle class=b cx=643.5 cy=1023.6 r=8 /><circle class=c cx=643.5 cy=635.3 r=8 /><circle class=d cx=643.5 cy=810.6 r=8 /><circle class=a cx=642.7 cy=1062.1 r=8 /><circle class=b cx=642.7 cy=1024.0 r=8 />
<circle class=c cx=642.7 cy=635.5 r=8 /><circle class=d cx=642.7 cy=810.3 r=8 /><circle class=a cx=641.9 cy=1062.4 r=8 /><circle class=b cx=641.9 cy=1024.4 r=8 /><circle class=c cx=641.9 cy=635.7 r=8 /><circle class=d cx=641.9 cy=809.9 r=8 />
<circle class=a cx=641.1 cy=1062.6 r=8 /><circle class=b cx=641.1 cy=1024.9 r=8 /><circle class=c cx=641.1 cy=635.9 r=8 /><circle class=d cx=641.1 cy=809.5 r=8 /><circle class=a cx=640.4 cy=1062.9 r=8 /><circle class=b cx=640.4 cy=1025.3 r=8 />
<circle class=c cx=640.4 cy=636.0 r=8 /><circle class=d cx=640.4 cy=809.2 r=8 /><circle class=a cx=639.6 cy=1063.2 r=8 /><circle class=b cx=639.6 cy=1025.8 r=8 /><circle class=c cx=639.6 cy=636.1 r=8 /><circle class=d cx=639.6 cy=808.8 r=8 />
<circle class=a cx=638.8 cy=1063.5 r=8 /><circle class=b cx=638.8 cy=1026.2 r=8 /><circle class=c cx=638.8 cy=636.2 r=8 /><circle class=d cx=638.8 cy=808.4 r=8 /><circle class=a cx=638.0 cy=1063.9 r=8 /><circle class=b cx=638.0 cy=1026.7 r=8 />
<circle class=c cx=638.0 cy=636.3 r=8 /><circle class=d cx=638.0 cy=808.0 r=8 /><circle class=a cx=637.2 cy=1064.3 r=8 /><circle class=b cx=637.2 cy=1027.1 r=8 /><circle class=c cx=637.2 cy=636.3 r=8 /><circle class=d cx=637.2 cy=807.6 r=8 />
<circle class=a cx=636.5 cy=1064.7 r=8 /><circle class=b cx=636.5 cy=1027.6 r=8 /><circle class=c cx=636.5 cy=636.4 r=8 /><circle class=d cx=636.5 cy=807.3 r=8 /><circle class=a cx=635.7 cy=1065.2 r=8 /><circle class=b cx=635.7 cy=1028.1 r=8 />
<circle class=c cx=635.7 cy=636.4 r=8 /><circle class=d cx=635.7 cy=806.9 r=8 /><circle class=a cx=634.9 cy=1065.7 r=8 /><circle class=b cx=634.9 cy=1028.5 r=8 /><circle class=c cx=634.9 cy=636.5 r=8 /><circle class=d cx=634.9 cy=806.5 r=8 />
<circle class=a cx=634.1 cy=1066.2 r=8 /><circle class=b cx=634.1 cy=1029.0 r=8 /><circle class=c cx=634.1 cy=636.5 r=8 /><circle class=d cx=634.1 cy=806.0 r=8 /><circle class=a cx=633.4 cy=1066.7 r=8 /><circle class=b cx=633.4 cy=1029.4 r=8 />
<circle class=c cx=633.4 cy=636.5 r=8 /><circle class=d cx=633.4 cy=805.6 r=8 /><circle class=a cx=632.6 cy=1067.2 r=8 /><circle class=b cx=632.6 cy=1029.9 r=8 /><circle class=c cx=632.6 cy=636.6 r=8 /><circle class=d cx=632.6 cy=805.2 r=8 />
<circle class=a cx=631.8 cy=1067.7 r=8 /><circle class=b cx=631.8 cy=1030.3 r=8 /><circle class=c cx=631.8 cy=636.6 r=8 /><circle class=d cx=631.8 cy=804.8 r=8 /><circle class=a cx=631.0 cy=1068.2 r=8 /><circle class=b cx=631.0 cy=1030.7 r=8 />
<circle class=c cx=631.0 cy=636.6 r=8 /><circle class=d cx=631.0 cy=804.3 r=8 /><circle class=a cx=630.3 cy=1068.7 r=8 /><circle class=b cx=630.3 cy=1031.2 r=8 /><circle class=c cx=630.3 cy=636.7 r=8 /><circle class=d cx=630.3 cy=803.9 r=8 />
<circle class=a cx=629.5 cy=1069.2 r=8 /><circle class=b cx=629.5 cy=1031.6 r=8 /><circle class=c cx=629.5 cy=636.7 r=8 /><circle class=d cx=629.5 cy=803.4 r=8 /><circle class=a cx=628.7 cy=1069.6 r=8 /><circle class=b cx=628.7 cy=1031.9 r=8 />
<circle class=c cx=628.7 cy=636.7 r=8 /><circle class=d cx=628.7 cy=803.0 r=8 /><circle class=a cx=627.9 cy=1070.0 r=8 /><circle class=b cx=627.9 cy=1032.3 r=8 /><circle class=c cx=627.9 cy=636.7 r=8 /><circle class=d cx=627.9 cy=802.5 r=8 />
<circle class=a cx=627.2 cy=1070.5 r=8 /><circle class=b cx=627.2 cy=1032.7 r=8 /><circle class=c cx=627.2 cy=636.8 r=8 /><circle class=d cx=627.2 cy=802.0 r=8 /><circle class=a cx=626.4 cy=1070.9 r=8 /><circle class=b cx=626.4 cy=1033.1 r=8 />
<circle class=c cx=626.4 cy=636.8 r=8 /><circle class=d cx=626.4 cy=801.5 r=8 /><circle class=a cx=625.6 cy=1071.4 r=8 /><circle class=b cx=625.6 cy=1033.6 r=8 /><circle class=c cx=625.6 cy=636.8 r=8 /><circle class=d cx=625.6 cy=801.0 r=8 />
<circle class=a cx=624.8 cy=1071.9 r=8 /><circle class=b cx=624.8 cy=1034.0 r=8 /><circle class=c cx=624.8 cy=636.8 r=8 /><circle class=d cx=624.8 cy=800.4 r=8 /><circle class=a cx=624.0 cy=1072.4 r=8 /><circle class=b cx=624.0 cy=1034.4 r=8 />
<circle class=c cx=624.0 cy=636.8 r=8 /><circle class=d cx=624.0 cy=799.9 r=8 /><circle class=a cx=623.3 cy=1072.8 r=8 /><circle class=b cx=623.3 cy=1034.8 r=8 /><circle class=c cx=623.3 cy=636.8 r=8 /><circle class=d cx=623.3 cy=799.3 r=8 />
<circle class=a cx=622.5 cy=1073.2 r=8 /><circle class=b cx=622.5 cy=1035.2 r=8 /><circle class=c cx=622.5 cy=636.8 r=8 /><circle class=d cx=622.5 cy=798.8 r=8 /><circle class=a cx=621.7 cy=1073.6 r=8 /><circle class=b cx=621.7 cy=1035.6 r=8 />
<circle class=c cx=621.7 cy=636.7 r=8 /><circle class=d cx=621.7 cy=798.2 r=8 /><circle class=a cx=620.9 cy=1073.9 r=8 /><circle class=b cx=620.9 cy=1035.9 r=8 /><circle class=c cx=620.9 cy=636.7 r=8 /><circle class=d cx=620.9 cy=797.6 r=8 />
<circle class=a cx=620.2 cy=1074.2 r=8 /><circle class=b cx=620.2 cy=1036.3 r=8 /><circle class=c cx=620.2 cy=636.6 r=8 /><circle class=d cx=620.2 cy=796.9 r=8 /><circle class=a cx=619.4 cy=1074.3 r=8 /><circle class=b cx=619.4 cy=1036.5 r=8 />
<circle class=c cx=619.4 cy=636.6 r=8 /><circle class=d cx=619.4 cy=796.3 r=8 /><circle class=a cx=618.6 cy=1074.4 r=8 /><circle class=b cx=618.6 cy=1036.8 r=8 /><circle class=c cx=618.6 cy=636.5 r=8 /><circle class=d cx=618.6 cy=795.6 r=8 />
<circle class=a cx=617.8 cy=1074.4 r=8 /><circle class=b cx=617.8 cy=1037.0 r=8 /><circle class=c cx=617.8 cy=636.4 r=8 /><circle class=d cx=617.8 cy=794.9 r=8 /><circle class=a cx=617.1 cy=1074.4 r=8 /><circle class=b cx=617.1 cy=1037.2 r=8 />
<circle class=c cx=617.1 cy=636.3 r=8 /><circle class=d cx=617.1 cy=794.1 r=8 /><circle class=a cx=616.3 cy=1074.3 r=8 /><circle class=b cx=616.3 cy=1037.3 r=8 /><circle class=c cx=616.3 cy=636.2 r=8 /><circle class=d cx=616.3 cy=793.2 r=8 />
<circle class=a cx=615.5 cy=1074.2 r=8 /><circle class=b cx=615.5 cy=1037.3 r=8 /><circle class=c cx=615.5 cy=636.1 r=8 /><circle class=d cx=615.5 cy=792.2 r=8 /><circle class=a cx=614.7 cy=1074.2 r=8 /><circle class=b cx=614.7 cy=1037.4 r=8 />
<circle class=c cx=614.7 cy=636.0 r=8 /><circle class=d cx=614.7 cy=791.2 r=8 /><circle class=a cx=614.0 cy=1074.1 r=8 /><circle class=b cx=614.0 cy=1037.4 r=8 /><circle class=c cx=614.0 cy=635.9 r=8 /><circle class=d cx=614.0 cy=790.2 r=8 />
<circle class=a cx=613.2 cy=1074.0 r=8 /><circle class=b cx=613.2 cy=1037.5 r=8 /><circle class=c cx=613.2 cy=635.7 r=8 /><circle class=d cx=613.2 cy=789.1 r=8 /><circle class=a cx=612.4 cy=1073.9 r=8 /><circle class=b cx=612.4 cy=1037.5 r=8 />
<circle class=c cx=612.4 cy=635.5 r=8 /><circle class=d cx=612.4 cy=788.1 r=8 /><circle class=a cx=611.6 cy=1073.7 r=8 /><circle class=b cx=611.6 cy=1037.5 r=8 /><circle class=c cx=611.6 cy=635.4 r=8 /><circle class=d cx=611.6 cy=787.0 r=8 />
<circle class=a cx=610.8 cy=1073.6 r=8 /><circle class=b cx=610.8 cy=1037.6 r=8 /><circle class=c cx=610.8 cy=635.2 r=8 /><circle class=d cx=610.8 cy=786.0 r=8 /><circle class=a cx=610.1 cy=1073.5 r=8 /><circle class=b cx=610.1 cy=1037.6 r=8 />
<circle class=c cx=610.1 cy=635.0 r=8 /><circle class=d cx=610.1 cy=785.1 r=8 /><circle class=a cx=609.3 cy=1073.4 r=8 /><circle class=b cx=609.3 cy=1037.6 r=8 /><circle class=c cx=609.3 cy=634.8 r=8 /><circle class=d cx=609.3 cy=784.2 r=8 />
<circle class=a cx=608.5 cy=1073.2 r=8 /><circle class=b cx=608.5 cy=1037.6 r=8 /><circle class=c cx=608.5 cy=634.6 r=8 /><circle class=d cx=608.5 cy=783.3 r=8 /><circle class=a cx=607.7 cy=1073.1 r=8 /><circle class=b cx=607.7 cy=1037.6 r=8 />
<circle class=c cx=607.7 cy=634.5 r=8 /><circle class=d cx=607.7 cy=782.4 r=8 /><circle class=a cx=607.0 cy=1072.9 r=8 /><circle class=b cx=607.0 cy=1037.5 r=8 /><circle class=c cx=607.0 cy=634.3 r=8 /><circle class=d cx=607.0 cy=781.5 r=8 />
<circle class=a cx=606.2 cy=1072.7 r=8 /><circle class=b cx=606.2 cy=1037.5 r=8 /><circle class=c cx=606.2 cy=634.0 r=8 /><circle class=d cx=606.2 cy=780.6 r=8 /><circle class=a cx=605.4 cy=1072.4 r=8 /><circle class=b cx=605.4 cy=1037.4 r=8 />
<circle class=c cx=605.4 cy=633.8 r=8 /><circle class=d cx=605.4 cy=779.7 r=8 /><circle class=a cx=604.6 cy=1072.2 r=8 /><circle class=b cx=604.6 cy=1037.3 r=8 /><circle class=c cx=604.6 cy=633.6 r=8 /><circle class=d cx=604.6 cy=778.9 r=8 />
<circle class=a cx=603.9 cy=1071.9 r=8 /><circle class=b cx=603.9 cy=1037.2 r=8 /><circle class=c cx=603.9 cy=633.4 r=8 /><circle class=d cx=603.9 cy=778.0 r=8 /><circle class=a cx=603.1 cy=1071.7 r=8 /><circle class=b cx=603.1 cy=1037.1 r=8 />
<circle class=c cx=603.1 cy=633.1 r=8 /><circle class=d cx=603.1 cy=777.1 r=8 /><circle class=a cx=602.3 cy=1071.4 r=8 /><circle class=b cx=602.3 cy=1037.0 r=8 /><circle class=c cx=602.3 cy=632.9 r=8 /><circle class=d cx=602.3 cy=776.2 r=8 />
<circle class=a cx=601.5 cy=1071.1 r=8 /><circle class=b cx=601.5 cy=1036.9 r=8 /><circle class=c cx=601.5 cy=632.7 r=8 /><circle class=d cx=601.5 cy=775.3 r=8 /><circle class=a cx=600.8 cy=1070.8 r=8 /><circle class=b cx=600.8 cy=1036.8 r=8 />
<circle class=c cx=600.8 cy=632.4 r=8 /><circle class=d cx=600.8 cy=774.4 r=8 /><circle class=a cx=600.0 cy=1070.5 r=8 /><circle class=b cx=600.0 cy=1036.7 r=8 /><circle class=c cx=600.0 cy=632.2 r=8 /><circle class=d cx=600.0 cy=773.5 r=8 />
<circle class=a cx=599.2 cy=1070.2 r=8 /><circle class=b cx=599.2 cy=1036.6 r=8 /><circle class=c cx=599.2 cy=631.9 r=8 /><circle class=d cx=599.2 cy=772.5 r=8 /><circle class=a cx=598.4 cy=1069.8 r=8 /><circle class=b cx=598.4 cy=1036.5 r=8 />
<circle class=c cx=598.4 cy=631.7 r=8 /><circle class=d cx=598.4 cy=771.3 r=8 /><circle class=a cx=597.6 cy=1069.4 r=8 /><circle class=b cx=597.6 cy=1036.4 r=8 /><circle class=c cx=597.6 cy=631.4 r=8 /><circle class=d cx=597.6 cy=770.2 r=8 />
<circle class=a cx=596.9 cy=1069.0 r=8 /><circle class=b cx=596.9 cy=1036.2 r=8 /><circle class=c cx=596.9 cy=631.2 r=8 /><circle class=d cx=596.9 cy=769.0 r=8 /><circle class=a cx=596.1 cy=1068.6 r=8 /><circle class=b cx=596.1 cy=1036.1 r=8 />
<circle class=c cx=596.1 cy=630.9 r=8 /><circle class=d cx=596.1 cy=768.0 r=8 /><circle class=a cx=595.3 cy=1068.2 r=8 /><circle class=b cx=595.3 cy=1036.0 r=8 /><circle class=c cx=595.3 cy=630.6 r=8 /><circle class=d cx=595.3 cy=767.1 r=8 />
<circle class=a cx=594.5 cy=1067.7 r=8 /><circle class=b cx=594.5 cy=1035.8 r=8 /><circle class=c cx=594.5 cy=630.4 r=8 /><circle class=d cx=594.5 cy=766.3 r=8 /><circle class=a cx=593.8 cy=1067.2 r=8 /><circle class=b cx=593.8 cy=1035.7 r=8 />
<circle class=c cx=593.8 cy=630.1 r=8 /><circle class=d cx=593.8 cy=765.9 r=8 /><circle class=a cx=593.0 cy=1066.7 r=8 /><circle class=b cx=593.0 cy=1035.5 r=8 /><circle class=c cx=593.0 cy=629.8 r=8 /><circle class=d cx=593.0 cy=765.5 r=8 />
<circle class=a cx=592.2 cy=1066.2 r=8 /><circle class=b cx=592.2 cy=1035.4 r=8 /><circle class=c cx=592.2 cy=629.5 r=8 /><circle class=d cx=592.2 cy=765.2 r=8 /><circle class=a cx=591.4 cy=1065.7 r=8 /><circle class=b cx=591.4 cy=1035.2 r=8 />
<circle class=c cx=591.4 cy=629.2 r=8 /><circle class=d cx=591.4 cy=764.9 r=8 /><circle class=a cx=590.7 cy=1065.1 r=8 /><circle class=b cx=590.7 cy=1035.1 r=8 /><circle class=c cx=590.7 cy=628.9 r=8 /><circle class=d cx=590.7 cy=764.7 r=8 />
<circle class=a cx=589.9 cy=1064.6 r=8 /><circle class=b cx=589.9 cy=1034.9 r=8 /><circle class=c cx=589.9 cy=628.6 r=8 /><circle class=d cx=589.9 cy=764.4 r=8 /><circle class=a cx=589.1 cy=1064.0 r=8 /><circle class=b cx=589.1 cy=1034.7 r=8 />
<circle class=c cx=589.1 cy=628.3 r=8 /><circle class=d cx=589.1 cy=764.2 r=8 /><circle class=a cx=588.3 cy=1063.4 r=8 /><circle class=b cx=588.3 cy=1034.5 r=8 /><circle class=c cx=588.3 cy=628.0 r=8 /><circle class=d cx=588.3 cy=764.0 r=8 />
<circle class=a cx=587.6 cy=1062.8 r=8 /><circle class=b cx=587.6 cy=1034.4 r=8 /><circle class=c cx=587.6 cy=627.7 r=8 /><circle class=d cx=587.6 cy=763.9 r=8 /><circle class=a cx=586.8 cy=1062.2 r=8 /><circle class=b cx=586.8 cy=1034.2 r=8 />
<circle class=c cx=586.8 cy=627.4 r=8 /><circle class=d cx=586.8 cy=763.7 r=8 /><circle class=a cx=586.0 cy=1061.6 r=8 /><circle class=b cx=586.0 cy=1034.0 r=8 /><circle class=c cx=586.0 cy=627.1 r=8 /><circle class=d cx=586.0 cy=763.6 r=8 />
<circle class=a cx=585.2 cy=1061.0 r=8 /><circle class=b cx=585.2 cy=1033.8 r=8 /><circle class=c cx=585.2 cy=626.8 r=8 /><circle class=d cx=585.2 cy=763.5 r=8 /><circle class=a cx=584.4 cy=1060.4 r=8 /><circle class=b cx=584.4 cy=1033.6 r=8 />
<circle class=c cx=584.4 cy=626.4 r=8 /><circle class=d cx=584.4 cy=763.4 r=8 /><circle class=a cx=583.7 cy=1059.7 r=8 /><circle class=b cx=583.7 cy=1033.4 r=8 /><circle class=c cx=583.7 cy=626.1 r=8 /><circle class=d cx=583.7 cy=763.3 r=8 />
<circle class=a cx=582.9 cy=1059.1 r=8 /><circle class=b cx=582.9 cy=1033.1 r=8 /><circle class=c cx=582.9 cy=625.8 r=8 /><circle class=d cx=582.9 cy=763.2 r=8 /><circle class=a cx=582.1 cy=1058.4 r=8 /><circle class=b cx=582.1 cy=1032.9 r=8 />
<circle class=c cx=582.1 cy=625.4 r=8 /><circle class=d cx=582.1 cy=763.1 r=8 /><circle class=a cx=581.3 cy=1057.7 r=8 /><circle class=b cx=581.3 cy=1032.7 r=8 /><circle class=c cx=581.3 cy=625.1 r=8 /><circle class=d cx=581.3 cy=763.1 r=8 />
<circle class=a cx=580.6 cy=1057.0 r=8 /><circle class=b cx=580.6 cy=1032.4 r=8 /><circle class=c cx=580.6 cy=624.8 r=8 /><circle class=d cx=580.6 cy=763.0 r=8 /><circle class=a cx=579.8 cy=1056.3 r=8 /><circle class=b cx=579.8 cy=1032.1 r=8 />
<circle class=c cx=579.8 cy=624.4 r=8 /><circle class=d cx=579.8 cy=762.9 r=8 /><circle class=a cx=579.0 cy=1055.6 r=8 /><circle class=b cx=579.0 cy=1031.9 r=8 /><circle class=c cx=579.0 cy=624.0 r=8 /><circle class=d cx=579.0 cy=762.9 r=8 />
<circle class=a cx=578.2 cy=1054.8 r=8 /><circle class=b cx=578.2 cy=1031.6 r=8 /><circle class=c cx=578.2 cy=623.7 r=8 /><circle class=d cx=578.2 cy=762.8 r=8 /><circle class=a cx=577.5 cy=1054.1 r=8 /><circle class=b cx=577.5 cy=1031.3 r=8 />
<circle class=c cx=577.5 cy=623.3 r=8 /><circle class=d cx=577.5 cy=762.8 r=8 /><circle class=a cx=576.7 cy=1053.3 r=8 /><circle class=b cx=576.7 cy=1031.0 r=8 /><circle class=c cx=576.7 cy=622.9 r=8 /><circle class=d cx=576.7 cy=762.7 r=8 />
<circle class=a cx=575.9 cy=1052.5 r=8 /><circle class=b cx=575.9 cy=1030.7 r=8 /><circle class=c cx=575.9 cy=622.5 r=8 /><circle class=d cx=575.9 cy=762.6 r=8 /><circle class=a cx=575.1 cy=1051.7 r=8 /><circle class=b cx=575.1 cy=1030.4 r=8 />
<circle class=c cx=575.1 cy=622.1 r=8 /><circle class=d cx=575.1 cy=762.6 r=8 /><circle class=a cx=574.4 cy=1050.8 r=8 /><circle class=b cx=574.4 cy=1030.1 r=8 /><circle class=c cx=574.4 cy=621.7 r=8 /><circle class=d cx=574.4 cy=762.5 r=8 />
<circle class=a cx=573.6 cy=1050.0 r=8 /><circle class=b cx=573.6 cy=1029.8 r=8 /><circle class=c cx=573.6 cy=621.3 r=8 /><circle class=d cx=573.6 cy=762.4 r=8 /><circle class=a cx=572.8 cy=1049.1 r=8 /><circle class=b cx=572.8 cy=1029.5 r=8 />
<circle class=c cx=572.8 cy=620.9 r=8 /><circle class=d cx=572.8 cy=762.4 r=8 /><circle class=a cx=572.0 cy=1048.3 r=8 /><circle class=b cx=572.0 cy=1029.2 r=8 /><circle class=c cx=572.0 cy=620.5 r=8 /><circle class=d cx=572.0 cy=762.3 r=8 />
<circle class=a cx=571.2 cy=1047.4 r=8 /><circle class=b cx=571.2 cy=1028.8 r=8 /><circle class=c cx=571.2 cy=620.1 r=8 /><circle class=d cx=571.2 cy=762.2 r=8 /><circle class=a cx=570.5 cy=1046.5 r=8 /><circle class=b cx=570.5 cy=1028.5 r=8 />
<circle class=c cx=570.5 cy=619.7 r=8 /><circle class=d cx=570.5 cy=762.1 r=8 /><circle class=a cx=569.7 cy=1045.6 r=8 /><circle class=b cx=569.7 cy=1028.1 r=8 /><circle class=c cx=569.7 cy=619.2 r=8 /><circle class=d cx=569.7 cy=762.0 r=8 />
<circle class=a cx=568.9 cy=1044.7 r=8 /><circle class=b cx=568.9 cy=1027.8 r=8 /><circle class=c cx=568.9 cy=618.8 r=8 /><circle class=d cx=568.9 cy=761.8 r=8 /><circle class=a cx=568.1 cy=1043.8 r=8 /><circle class=b cx=568.1 cy=1027.4 r=8 />
<circle class=c cx=568.1 cy=618.4 r=8 /><circle class=d cx=568.1 cy=761.6 r=8 /><circle class=a cx=567.4 cy=1042.9 r=8 /><circle class=b cx=567.4 cy=1027.0 r=8 /><circle class=c cx=567.4 cy=617.9 r=8 /><circle class=d cx=567.4 cy=761.5 r=8 />
<circle class=a cx=566.6 cy=1041.9 r=8 /><circle class=b cx=566.6 cy=1026.6 r=8 /><circle class=c cx=566.6 cy=617.5 r=8 /><circle class=d cx=566.6 cy=761.2 r=8 /><circle class=a cx=565.8 cy=1041.0 r=8 /><circle class=b cx=565.8 cy=1026.1 r=8 />
<circle class=c cx=565.8 cy=617.0 r=8 /><circle class=d cx=565.8 cy=761.0 r=8 /><circle class=a cx=565.0 cy=1040.0 r=8 /><circle class=b cx=565.0 cy=1025.7 r=8 /><circle class=c cx=565.0 cy=616.6 r=8 /><circle class=d cx=565.0 cy=760.8 r=8 />
<circle class=a cx=564.3 cy=1039.1 r=8 /><circle class=b cx=564.3 cy=1025.3 r=8 /><circle class=c cx=564.3 cy=616.1 r=8 /><circle class=d cx=564.3 cy=760.5 r=8 /><circle class=a cx=563.5 cy=1038.1 r=8 /><circle class=b cx=563.5 cy=1024.8 r=8 />
<circle class=c cx=563.5 cy=615.7 r=8 /><circle class=d cx=563.5 cy=760.3 r=8 /><circle class=a cx=562.7 cy=1037.1 r=8 /><circle class=b cx=562.7 cy=1024.4 r=8 /><circle class=c cx=562.7 cy=615.3 r=8 /><circle class=d cx=562.7 cy=760.0 r=8 />
<circle class=a cx=561.9 cy=1036.1 r=8 /><circle class=b cx=561.9 cy=1023.9 r=8 /><circle class=c cx=561.9 cy=614.8 r=8 /><circle class=d cx=561.9 cy=759.7 r=8 /><circle class=a cx=561.2 cy=1035.0 r=8 /><circle class=b cx=561.2 cy=1023.5 r=8 />
<circle class=c cx=561.2 cy=614.4 r=8 /><circle class=d cx=561.2 cy=759.4 r=8 /><circle class=a cx=560.4 cy=1033.9 r=8 /><circle class=b cx=560.4 cy=1023.0 r=8 /><circle class=c cx=560.4 cy=613.9 r=8 /><circle class=d cx=560.4 cy=759.1 r=8 />
<circle class=a cx=559.6 cy=1032.9 r=8 /><circle class=b cx=559.6 cy=1022.5 r=8 /><circle class=c cx=559.6 cy=613.5 r=8 /><circle class=d cx=559.6 cy=758.8 r=8 /><circle class=a cx=558.8 cy=1031.7 r=8 /><circle class=b cx=558.8 cy=1022.1 r=8 />
<circle class=c cx=558.8 cy=613.0 r=8 /><circle class=d cx=558.8 cy=758.5 r=8 /><circle class=a cx=558.0 cy=1030.6 r=8 /><circle class=b cx=558.0 cy=1021.6 r=8 /><circle class=c cx=558.0 cy=612.6 r=8 /><circle class=d cx=558.0 cy=758.2 r=8 />
<circle class=a cx=557.3 cy=1029.5 r=8 /><circle class=b cx=557.3 cy=1021.2 r=8 /><circle class=c cx=557.3 cy=612.1 r=8 /><circle class=d cx=557.3 cy=757.8 r=8 /><circle class=a cx=556.5 cy=1028.3 r=8 /><circle class=b cx=556.5 cy=1020.7 r=8 />
<circle class=c cx=556.5 cy=611.7 r=8 /><circle class=d cx=556.5 cy=757.5 r=8 /><circle class=a cx=555.7 cy=1027.2 r=8 /><circle class=b cx=555.7 cy=1020.2 r=8 /><circle class=c cx=555.7 cy=611.2 r=8 /><circle class=d cx=555.7 cy=757.1 r=8 />
<circle class=a cx=554.9 cy=1026.0 r=8 /><circle class=b cx=554.9 cy=1019.7 r=8 /><circle class=c cx=554.9 cy=610.7 r=8 /><circle class=d cx=554.9 cy=756.7 r=8 /><circle class=a cx=554.2 cy=1024.8 r=8 /><circle class=b cx=554.2 cy=1019.3 r=8 />
<circle class=c cx=554.2 cy=610.3 r=8 /><circle class=d cx=554.2 cy=756.3 r=8 /><circle class=a cx=553.4 cy=1023.7 r=8 /><circle class=b cx=553.4 cy=1018.8 r=8 /><circle class=c cx=553.4 cy=609.8 r=8 /><circle class=d cx=553.4 cy=755.9 r=8 />
<circle class=a cx=552.6 cy=1022.5 r=8 /><circle class=b cx=552.6 cy=1018.3 r=8 /><circle class=c cx=552.6 cy=609.4 r=8 /><circle class=d cx=552.6 cy=755.5 r=8 /><circle class=a cx=551.8 cy=1021.3 r=8 /><circle class=b cx=551.8 cy=1017.8 r=8 />
<circle class=c cx=551.8 cy=608.9 r=8 /><circle class=d cx=551.8 cy=755.0 r=8 /><circle class=a cx=551.1 cy=1020.1 r=8 /><circle class=b cx=551.1 cy=1017.2 r=8 /><circle class=c cx=551.1 cy=608.4 r=8 /><circle class=d cx=551.1 cy=754.6 r=8 />
<circle class=a cx=550.3 cy=1018.9 r=8 /><circle class=b cx=550.3 cy=1016.7 r=8 /><circle class=c cx=550.3 cy=607.9 r=8 /><circle class=d cx=550.3 cy=754.2 r=8 /><circle class=a cx=549.5 cy=1017.7 r=8 /><circle class=b cx=549.5 cy=1016.2 r=8 />
<circle class=c cx=549.5 cy=607.5 r=8 /><circle class=d cx=549.5 cy=753.7 r=8 /><circle class=a cx=548.7 cy=1016.4 r=8 /><circle class=b cx=548.7 cy=1015.7 r=8 /><circle class=c cx=548.7 cy=607.0 r=8 /><circle class=d cx=548.7 cy=753.2 r=8 />
<circle class=a cx=548.0 cy=1015.2 r=8 /><circle class=b cx=548.0 cy=1015.2 r=8 /><circle class=c cx=548.0 cy=606.5 r=8 /><circle class=d cx=548.0 cy=752.7 r=8 /><circle class=a cx=547.2 cy=1013.9 r=8 /><circle class=b cx=547.2 cy=1014.7 r=8 />
<circle class=c cx=547.2 cy=606.0 r=8 /><circle class=d cx=547.2 cy=752.1 r=8 /><circle class=a cx=546.4 cy=1012.6 r=8 /><circle class=b cx=546.4 cy=1014.2 r=8 /><circle class=c cx=546.4 cy=605.5 r=8 /><circle class=d cx=546.4 cy=751.5 r=8 />
<circle class=a cx=545.6 cy=1011.3 r=8 /><circle class=b cx=545.6 cy=1013.7 r=8 /><circle class=c cx=545.6 cy=605.1 r=8 /><circle class=d cx=545.6 cy=750.9 r=8 /><circle class=a cx=544.8 cy=1010.0 r=8 /><circle class=b cx=544.8 cy=1013.2 r=8 />
<circle class=c cx=544.8 cy=604.6 r=8 /><circle class=d cx=544.8 cy=750.4 r=8 /><circle class=a cx=544.1 cy=1008.7 r=8 /><circle class=b cx=544.1 cy=1012.7 r=8 /><circle class=c cx=544.1 cy=604.1 r=8 /><circle class=d cx=544.1 cy=749.9 r=8 />
<circle class=a cx=543.3 cy=1007.4 r=8 /><circle class=b cx=543.3 cy=1012.2 r=8 /><circle class=c cx=543.3 cy=603.6 r=8 /><circle class=d cx=543.3 cy=749.5 r=8 /><circle class=a cx=542.5 cy=1006.1 r=8 /><circle class=b cx=542.5 cy=1011.8 r=8 />
<circle class=c cx=542.5 cy=603.1 r=8 /><circle class=d cx=542.5 cy=749.2 r=8 /><circle class=a cx=541.7 cy=1004.7 r=8 /><circle class=b cx=541.7 cy=1011.3 r=8 /><circle class=c cx=541.7 cy=602.6 r=8 /><circle class=d cx=541.7 cy=748.9 r=8 />
<circle class=a cx=541.0 cy=1003.4 r=8 /><circle class=b cx=541.0 cy=1010.9 r=8 /><circle class=c cx=541.0 cy=602.1 r=8 /><circle class=d cx=541.0 cy=748.7 r=8 /><circle class=a cx=540.2 cy=1002.1 r=8 /><circle class=b cx=540.2 cy=1010.4 r=8 />
<circle class=c cx=540.2 cy=601.6 r=8 /><circle class=d cx=540.2 cy=748.5 r=8 /><circle class=a cx=539.4 cy=1000.7 r=8 /><circle class=b cx=539.4 cy=1010.0 r=8 /><circle class=c cx=539.4 cy=601.1 r=8 /><circle class=d cx=539.4 cy=748.4 r=8 />
<circle class=a cx=538.6 cy=999.4 r=8 /><circle class=b cx=538.6 cy=1009.5 r=8 /><circle class=c cx=538.6 cy=600.6 r=8 /><circle class=d cx=538.6 cy=748.2 r=8 /><circle class=a cx=537.9 cy=998.0 r=8 /><circle class=b cx=537.9 cy=1009.1 r=8 />
<circle class=c cx=537.9 cy=600.1 r=8 /><circle class=d cx=537.9 cy=748.0 r=8 /><circle class=a cx=537.1 cy=996.6 r=8 /><circle class=b cx=537.1 cy=1008.6 r=8 /><circle class=c cx=537.1 cy=599.6 r=8 /><circle class=d cx=537.1 cy=747.9 r=8 />
<circle class=a cx=536.3 cy=995.2 r=8 /><circle class=b cx=536.3 cy=1008.2 r=8 /><circle class=c cx=536.3 cy=599.1 r=8 /><circle class=d cx=536.3 cy=747.8 r=8 /><circle class=a cx=535.5 cy=993.8 r=8 /><circle class=b cx=535.5 cy=1007.8 r=8 />
<circle class=c cx=535.5 cy=598.5 r=8 /><circle class=d cx=535.5 cy=747.6 r=8 /><circle class=a cx=534.8 cy=992.4 r=8 /><circle class=b cx=534.8 cy=1007.3 r=8 /><circle class=c cx=534.8 cy=598.0 r=8 /><circle class=d cx=534.8 cy=747.5 r=8 />
<circle class=a cx=534.0 cy=991.0 r=8 /><circle class=b cx=534.0 cy=1006.9 r=8 /><circle class=c cx=534.0 cy=597.5 r=8 /><circle class=d cx=534.0 cy=747.4 r=8 /><circle class=a cx=533.2 cy=989.6 r=8 /><circle class=b cx=533.2 cy=1006.5 r=8 />
<circle class=c cx=533.2 cy=596.9 r=8 /><circle class=d cx=533.2 cy=747.3 r=8 /><circle class=a cx=532.4 cy=988.2 r=8 /><circle class=b cx=532.4 cy=1006.0 r=8 /><circle class=c cx=532.4 cy=596.4 r=8 /><circle class=d cx=532.4 cy=747.2 r=8 />
<circle class=a cx=531.6 cy=986.7 r=8 /><circle class=b cx=531.6 cy=1005.6 r=8 /><circle class=c cx=531.6 cy=595.8 r=8 /><circle class=d cx=531.6 cy=747.1 r=8 /><circle class=a cx=530.9 cy=985.3 r=8 /><circle class=b cx=530.9 cy=1005.2 r=8 />
<circle class=c cx=530.9 cy=595.3 r=8 /><circle class=d cx=530.9 cy=747.1 r=8 /><circle class=a cx=530.1 cy=983.8 r=8 /><circle class=b cx=530.1 cy=1004.7 r=8 /><circle class=c cx=530.1 cy=594.8 r=8 /><circle class=d cx=530.1 cy=747.0 r=8 />
<circle class=a cx=529.3 cy=982.4 r=8 /><circle class=b cx=529.3 cy=1004.3 r=8 /><circle class=c cx=529.3 cy=594.2 r=8 /><circle class=d cx=529.3 cy=746.9 r=8 /><circle class=a cx=528.5 cy=980.9 r=8 /><circle class=b cx=528.5 cy=1003.9 r=8 />
<circle class=c cx=528.5 cy=593.7 r=8 /><circle class=d cx=528.5 cy=746.9 r=8 /><circle class=a cx=527.8 cy=979.5 r=8 /><circle class=b cx=527.8 cy=1003.4 r=8 /><circle class=c cx=527.8 cy=593.1 r=8 /><circle class=d cx=527.8 cy=746.8 r=8 />
<circle class=a cx=527.0 cy=978.0 r=8 /><circle class=b cx=527.0 cy=1003.0 r=8 /><circle class=c cx=527.0 cy=592.6 r=8 /><circle class=d cx=527.0 cy=746.8 r=8 /><circle class=a cx=526.2 cy=976.6 r=8 /><circle class=b cx=526.2 cy=1002.5 r=8 />
<circle class=c cx=526.2 cy=592.1 r=8 /><circle class=d cx=526.2 cy=746.7 r=8 /><circle class=a cx=525.4 cy=975.1 r=8 /><circle class=b cx=525.4 cy=1002.1 r=8 /><circle class=c cx=525.4 cy=591.5 r=8 /><circle class=d cx=525.4 cy=746.7 r=8 />
<circle class=a cx=524.7 cy=973.7 r=8 /><circle class=b cx=524.7 cy=1001.6 r=8 /><circle class=c cx=524.7 cy=591.0 r=8 /><circle class=d cx=524.7 cy=746.7 r=8 /><circle class=a cx=523.9 cy=972.3 r=8 /><circle class=b cx=523.9 cy=1001.2 r=8 />
<circle class=c cx=523.9 cy=590.5 r=8 /><circle class=d cx=523.9 cy=746.6 r=8 /><circle class=a cx=523.1 cy=970.8 r=8 /><circle class=b cx=523.1 cy=1000.8 r=8 /><circle class=c cx=523.1 cy=590.0 r=8 /><circle class=d cx=523.1 cy=746.6 r=8 />
<circle class=a cx=522.3 cy=969.4 r=8 /><circle class=b cx=522.3 cy=1000.3 r=8 /><circle class=c cx=522.3 cy=589.5 r=8 /><circle class=d cx=522.3 cy=746.5 r=8 /><circle class=a cx=521.6 cy=968.0 r=8 /><circle class=b cx=521.6 cy=999.9 r=8 />
<circle class=c cx=521.6 cy=589.0 r=8 /><circle class=d cx=521.6 cy=746.5 r=8 /><circle class=a cx=520.8 cy=966.6 r=8 /><circle class=b cx=520.8 cy=999.4 r=8 /><circle class=c cx=520.8 cy=588.5 r=8 /><circle class=d cx=520.8 cy=746.5 r=8 />
<circle class=a cx=520.0 cy=965.2 r=8 /><circle class=b cx=520.0 cy=999.0 r=8 /><circle class=c cx=520.0 cy=588.0 r=8 /><circle class=d cx=520.0 cy=746.5 r=8 /><circle class=a cx=519.2 cy=963.9 r=8 /><circle class=b cx=519.2 cy=998.6 r=8 />
<circle class=c cx=519.2 cy=587.5 r=8 /><circle class=d cx=519.2 cy=746.4 r=8 /><circle class=a cx=518.4 cy=962.5 r=8 /><circle class=b cx=518.4 cy=998.1 r=8 /><circle class=c cx=518.4 cy=587.0 r=8 /><circle class=d cx=518.4 cy=746.4 r=8 />
<circle class=a cx=517.7 cy=961.1 r=8 /><circle class=b cx=517.7 cy=997.7 r=8 /><circle class=c cx=517.7 cy=586.6 r=8 /><circle class=d cx=517.7 cy=746.4 r=8 /><circle class=a cx=516.9 cy=959.8 r=8 /><circle class=b cx=516.9 cy=997.3 r=8 />
<circle class=c cx=516.9 cy=586.1 r=8 /><circle class=d cx=516.9 cy=746.3 r=8 /><circle class=a cx=516.1 cy=958.5 r=8 /><circle class=b cx=516.1 cy=996.9 r=8 /><circle class=c cx=516.1 cy=585.7 r=8 /><circle class=d cx=516.1 cy=746.3 r=8 />
<circle class=a cx=515.3 cy=957.2 r=8 /><circle class=b cx=515.3 cy=996.5 r=8 /><circle class=c cx=515.3 cy=585.2 r=8 /><circle class=d cx=515.3 cy=746.3 r=8 /><circle class=a cx=514.6 cy=956.0 r=8 /><circle class=b cx=514.6 cy=996.1 r=8 />
<circle class=c cx=514.6 cy=584.8 r=8 /><circle class=d cx=514.6 cy=746.2 r=8 /><circle class=a cx=513.8 cy=954.7 r=8 /><circle class=b cx=513.8 cy=995.8 r=8 /><circle class=c cx=513.8 cy=584.3 r=8 /><circle class=d cx=513.8 cy=746.2 r=8 />
<circle class=a cx=513.0 cy=953.5 r=8 /><circle class=b cx=513.0 cy=995.4 r=8 /><circle class=c cx=513.0 cy=583.9 r=8 /><circle class=d cx=513.0 cy=746.2 r=8 /><circle class=a cx=512.2 cy=952.3 r=8 /><circle class=b cx=512.2 cy=995.1 r=8 />
<circle class=c cx=512.2 cy=583.4 r=8 /><circle class=d cx=512.2 cy=746.1 r=8 /><circle class=a cx=511.5 cy=951.1 r=8 /><circle class=b cx=511.5 cy=994.7 r=8 /><circle class=c cx=511.5 cy=583.0 r=8 /><circle class=d cx=511.5 cy=746.1 r=8 />
<circle class=a cx=510.7 cy=950.0 r=8 /><circle class=b cx=510.7 cy=994.4 r=8 /><circle class=c cx=510.7 cy=582.6 r=8 /><circle class=d cx=510.7 cy=746.0 r=8 /><circle class=a cx=509.9 cy=948.8 r=8 /><circle class=b cx=509.9 cy=994.1 r=8 />
<circle class=c cx=509.9 cy=582.1 r=8 /><circle class=d cx=509.9 cy=746.0 r=8 /><circle class=a cx=509.1 cy=947.7 r=8 /><circle class=b cx=509.1 cy=993.8 r=8 /><circle class=c cx=509.1 cy=581.7 r=8 /><circle class=d cx=509.1 cy=745.9 r=8 />
<circle class=a cx=508.4 cy=946.5 r=8 /><circle class=b cx=508.4 cy=993.5 r=8 /><circle class=c cx=508.4 cy=581.3 r=8 /><circle class=d cx=508.4 cy=745.9 r=8 /><circle class=a cx=507.6 cy=945.4 r=8 /><circle class=b cx=507.6 cy=993.2 r=8 />
<circle class=c cx=507.6 cy=580.8 r=8 /><circle class=d cx=507.6 cy=745.9 r=8 /><circle class=a cx=506.8 cy=944.2 r=8 /><circle class=b cx=506.8 cy=992.9 r=8 /><circle class=c cx=506.8 cy=580.4 r=8 /><circle class=d cx=506.8 cy=745.8 r=8 />
<circle class=a cx=506.0 cy=943.1 r=8 /><circle class=b cx=506.0 cy=992.6 r=8 /><circle class=c cx=506.0 cy=580.0 r=8 /><circle class=d cx=506.0 cy=745.8 r=8 /><circle class=a cx=505.2 cy=942.0 r=8 /><circle class=b cx=505.2 cy=992.3 r=8 />
<circle class=c cx=505.2 cy=579.5 r=8 /><circle class=d cx=505.2 cy=745.7 r=8 /><circle class=a cx=504.5 cy=940.8 r=8 /><circle class=b cx=504.5 cy=991.9 r=8 /><circle class=c cx=504.5 cy=579.1 r=8 /><circle class=d cx=504.5 cy=745.7 r=8 />
<circle class=a cx=503.7 cy=939.7 r=8 /><circle class=b cx=503.7 cy=991.6 r=8 /><circle class=c cx=503.7 cy=578.7 r=8 /><circle class=d cx=503.7 cy=745.6 r=8 /><circle class=a cx=502.9 cy=938.5 r=8 /><circle class=b cx=502.9 cy=991.3 r=8 />
<circle class=c cx=502.9 cy=578.2 r=8 /><circle class=d cx=502.9 cy=745.6 r=8 /><circle class=a cx=502.1 cy=937.3 r=8 /><circle class=b cx=502.1 cy=991.0 r=8 /><circle class=c cx=502.1 cy=577.8 r=8 /><circle class=d cx=502.1 cy=745.5 r=8 />
<circle class=a cx=501.4 cy=936.2 r=8 /><circle class=b cx=501.4 cy=990.6 r=8 /><circle class=c cx=501.4 cy=577.3 r=8 /><circle class=d cx=501.4 cy=745.5 r=8 /><circle class=a cx=500.6 cy=935.0 r=8 /><circle class=b cx=500.6 cy=990.3 r=8 />
<circle class=c cx=500.6 cy=576.8 r=8 /><circle class=d cx=500.6 cy=745.4 r=8 /><circle class=a cx=499.8 cy=933.7 r=8 /><circle class=b cx=499.8 cy=989.9 r=8 /><circle class=c cx=499.8 cy=576.4 r=8 /><circle class=d cx=499.8 cy=745.3 r=8 />
<circle class=a cx=499.0 cy=932.5 r=8 /><circle class=b cx=499.0 cy=989.5 r=8 /><circle class=c cx=499.0 cy=575.9 r=8 /><circle class=d cx=499.0 cy=745.3 r=8 /><circle class=a cx=498.3 cy=931.2 r=8 /><circle class=b cx=498.3 cy=989.1 r=8 />
<circle class=c cx=498.3 cy=575.4 r=8 /><circle class=d cx=498.3 cy=745.2 r=8 /><circle class=a cx=497.5 cy=929.9 r=8 /><circle class=b cx=497.5 cy=988.8 r=8 /><circle class=c cx=497.5 cy=575.0 r=8 /><circle class=d cx=497.5 cy=745.2 r=8 />
<circle class=a cx=496.7 cy=928.6 r=8 /><circle class=b cx=496.7 cy=988.4 r=8 /><circle class=c cx=496.7 cy=574.5 r=8 /><circle class=d cx=496.7 cy=745.1 r=8 /><circle class=a cx=495.9 cy=927.3 r=8 /><circle class=b cx=495.9 cy=987.9 r=8 />
<circle class=c cx=495.9 cy=574.0 r=8 /><circle class=d cx=495.9 cy=745.0 r=8 /><circle class=a cx=495.2 cy=925.9 r=8 /><circle class=b cx=495.2 cy=987.5 r=8 /><circle class=c cx=495.2 cy=573.5 r=8 /><circle class=d cx=495.2 cy=745.0 r=8 />
<circle class=a cx=494.4 cy=924.5 r=8 /><circle class=b cx=494.4 cy=987.1 r=8 /><circle class=c cx=494.4 cy=573.0 r=8 /><circle class=d cx=494.4 cy=744.9 r=8 /><circle class=a cx=493.6 cy=923.1 r=8 /><circle class=b cx=493.6 cy=986.7 r=8 />
<circle class=c cx=493.6 cy=572.6 r=8 /><circle class=d cx=493.6 cy=744.8 r=8 /><circle class=a cx=492.8 cy=921.6 r=8 /><circle class=b cx=492.8 cy=986.3 r=8 /><circle class=c cx=492.8 cy=572.1 r=8 /><circle class=d cx=492.8 cy=744.7 r=8 />
<circle class=a cx=492.0 cy=920.1 r=8 /><circle class=b cx=492.0 cy=985.8 r=8 /><circle class=c cx=492.0 cy=571.6 r=8 /><circle class=d cx=492.0 cy=744.6 r=8 /><circle class=a cx=491.3 cy=918.5 r=8 /><circle class=b cx=491.3 cy=985.4 r=8 />
<circle class=c cx=491.3 cy=571.1 r=8 /><circle class=d cx=491.3 cy=744.6 r=8 /><circle class=a cx=490.5 cy=916.9 r=8 /><circle class=b cx=490.5 cy=984.9 r=8 /><circle class=c cx=490.5 cy=570.6 r=8 /><circle class=d cx=490.5 cy=744.5 r=8 />
<circle class=a cx=489.7 cy=915.2 r=8 /><circle class=b cx=489.7 cy=984.5 r=8 /><circle class=c cx=489.7 cy=570.1 r=8 /><circle class=d cx=489.7 cy=744.4 r=8 /><circle class=a cx=488.9 cy=913.5 r=8 /><circle class=b cx=488.9 cy=984.0 r=8 />
<circle class=c cx=488.9 cy=569.6 r=8 /><circle class=d cx=488.9 cy=744.3 r=8 /><circle class=a cx=488.2 cy=911.7 r=8 /><circle class=b cx=488.2 cy=983.5 r=8 /><circle class=c cx=488.2 cy=569.1 r=8 /><circle class=d cx=488.2 cy=744.1 r=8 />
<circle class=a cx=487.4 cy=909.9 r=8 /><circle class=b cx=487.4 cy=983.0 r=8 /><circle class=c cx=487.4 cy=568.6 r=8 /><circle class=d cx=487.4 cy=744.0 r=8 /><circle class=a cx=486.6 cy=908.1 r=8 /><circle class=b cx=486.6 cy=982.6 r=8 />
<circle class=c cx=486.6 cy=568.1 r=8 /><circle class=d cx=486.6 cy=743.8 r=8 /><circle class=a cx=485.8 cy=906.2 r=8 /><circle class=b cx=485.8 cy=982.1 r=8 /><circle class=c cx=485.8 cy=567.6 r=8 /><circle class=d cx=485.8 cy=743.7 r=8 />
<circle class=a cx=485.1 cy=904.2 r=8 /><circle class=b cx=485.1 cy=981.6 r=8 /><circle class=c cx=485.1 cy=567.1 r=8 /><circle class=d cx=485.1 cy=743.5 r=8 /><circle class=a cx=484.3 cy=902.3 r=8 /><circle class=b cx=484.3 cy=981.1 r=8 />
<circle class=c cx=484.3 cy=566.6 r=8 /><circle class=d cx=484.3 cy=743.3 r=8 /><circle class=a cx=483.5 cy=900.3 r=8 /><circle class=b cx=483.5 cy=980.5 r=8 /><circle class=c cx=483.5 cy=566.2 r=8 /><circle class=d cx=483.5 cy=743.1 r=8 />
<circle class=a cx=482.7 cy=898.3 r=8 /><circle class=b cx=482.7 cy=980.0 r=8 /><circle class=c cx=482.7 cy=565.7 r=8 /><circle class=d cx=482.7 cy=742.9 r=8 /><circle class=a cx=481.9 cy=896.2 r=8 /><circle class=b cx=481.9 cy=979.4 r=8 />
<circle class=c cx=481.9 cy=565.2 r=8 /><circle class=d cx=481.9 cy=742.7 r=8 /><circle class=a cx=481.2 cy=894.2 r=8 /><circle class=b cx=481.2 cy=978.8 r=8 /><circle class=c cx=481.2 cy=564.7 r=8 /><circle class=d cx=481.2 cy=742.5 r=8 />
<circle class=a cx=480.4 cy=892.1 r=8 /><circle class=b cx=480.4 cy=978.3 r=8 /><circle class=c cx=480.4 cy=564.2 r=8 /><circle class=d cx=480.4 cy=742.3 r=8 /><circle class=a cx=479.6 cy=890.0 r=8 /><circle class=b cx=479.6 cy=977.7 r=8 />
<circle class=c cx=479.6 cy=563.8 r=8 /><circle class=d cx=479.6 cy=742.1 r=8 /><circle class=a cx=478.8 cy=887.8 r=8 /><circle class=b cx=478.8 cy=977.1 r=8 /><circle class=c cx=478.8 cy=563.3 r=8 /><circle class=d cx=478.8 cy=741.8 r=8 />
<circle class=a cx=478.1 cy=885.7 r=8 /><circle class=b cx=478.1 cy=976.5 r=8 /><circle class=c cx=478.1 cy=562.8 r=8 /><circle class=d cx=478.1 cy=741.6 r=8 /><circle class=a cx=477.3 cy=883.6 r=8 /><circle class=b cx=477.3 cy=975.9 r=8 />
<circle class=c cx=477.3 cy=562.3 r=8 /><circle class=d cx=477.3 cy=741.3 r=8 /><circle class=a cx=476.5 cy=881.4 r=8 /><circle class=b cx=476.5 cy=975.3 r=8 /><circle class=c cx=476.5 cy=561.8 r=8 /><circle class=d cx=476.5 cy=741.1 r=8 />
<circle class=a cx=475.7 cy=879.3 r=8 /><circle class=b cx=475.7 cy=974.7 r=8 /><circle class=c cx=475.7 cy=561.3 r=8 /><circle class=d cx=475.7 cy=740.8 r=8 /><circle class=a cx=475.0 cy=877.0 r=8 /><circle class=b cx=475.0 cy=974.2 r=8 />
<circle class=c cx=475.0 cy=560.8 r=8 /><circle class=d cx=475.0 cy=740.6 r=8 /><circle class=a cx=474.2 cy=874.8 r=8 /><circle class=b cx=474.2 cy=973.6 r=8 /><circle class=c cx=474.2 cy=560.3 r=8 /><circle class=d cx=474.2 cy=740.3 r=8 />
<circle class=a cx=473.4 cy=872.4 r=8 /><circle class=b cx=473.4 cy=973.0 r=8 /><circle class=c cx=473.4 cy=559.8 r=8 /><circle class=d cx=473.4 cy=740.1 r=8 /><circle class=a cx=472.6 cy=870.0 r=8 /><circle class=b cx=472.6 cy=972.5 r=8 />
<circle class=c cx=472.6 cy=559.3 r=8 /><circle class=d cx=472.6 cy=739.8 r=8 /><circle class=a cx=471.9 cy=867.5 r=8 /><circle class=b cx=471.9 cy=972.0 r=8 /><circle class=c cx=471.9 cy=558.8 r=8 /><circle class=d cx=471.9 cy=739.6 r=8 />
<circle class=a cx=471.1 cy=865.0 r=8 /><circle class=b cx=471.1 cy=971.5 r=8 /><circle class=c cx=471.1 cy=558.3 r=8 /><circle class=d cx=471.1 cy=739.3 r=8 /><circle class=a cx=470.3 cy=862.5 r=8 /><circle class=b cx=470.3 cy=971.0 r=8 />
<circle class=c cx=470.3 cy=557.8 r=8 /><circle class=d cx=470.3 cy=739.1 r=8 /><circle class=a cx=469.5 cy=860.0 r=8 /><circle class=b cx=469.5 cy=970.5 r=8 /><circle class=c cx=469.5 cy=557.3 r=8 /><circle class=d cx=469.5 cy=738.9 r=8 />
<circle class=a cx=468.7 cy=857.5 r=8 /><circle class=b cx=468.7 cy=970.0 r=8 /><circle class=c cx=468.7 cy=556.8 r=8 /><circle class=d cx=468.7 cy=738.6 r=8 /><circle class=a cx=468.0 cy=855.0 r=8 /><circle class=b cx=468.0 cy=969.4 r=8 />
<circle class=c cx=468.0 cy=556.3 r=8 /><circle class=d cx=468.0 cy=738.4 r=8 /><circle class=a cx=467.2 cy=852.5 r=8 /><circle class=b cx=467.2 cy=968.9 r=8 /><circle class=c cx=467.2 cy=555.8 r=8 /><circle class=d cx=467.2 cy=738.2 r=8 />
<circle class=a cx=466.4 cy=850.1 r=8 /><circle class=b cx=466.4 cy=968.5 r=8 /><circle class=c cx=466.4 cy=555.4 r=8 /><circle class=d cx=466.4 cy=737.9 r=8 /><circle class=a cx=465.6 cy=847.7 r=8 /><circle class=b cx=465.6 cy=968.0 r=8 />
<circle class=c cx=465.6 cy=554.9 r=8 /><circle class=d cx=465.6 cy=737.7 r=8 /><circle class=a cx=464.9 cy=845.3 r=8 /><circle class=b cx=464.9 cy=967.6 r=8 /><circle class=c cx=464.9 cy=554.5 r=8 /><circle class=d cx=464.9 cy=737.5 r=8 />
<circle class=a cx=464.1 cy=843.1 r=8 /><circle class=b cx=464.1 cy=967.2 r=8 /><circle class=c cx=464.1 cy=554.1 r=8 /><circle class=d cx=464.1 cy=737.3 r=8 /><circle class=a cx=463.3 cy=840.9 r=8 /><circle class=b cx=463.3 cy=966.8 r=8 />
<circle class=c cx=463.3 cy=553.7 r=8 /><circle class=d cx=463.3 cy=737.1 r=8 /><circle class=a cx=462.5 cy=838.7 r=8 /><circle class=b cx=462.5 cy=966.5 r=8 /><circle class=c cx=462.5 cy=553.3 r=8 /><circle class=d cx=462.5 cy=736.8 r=8 />
<circle class=a cx=461.8 cy=836.6 r=8 /><circle class=b cx=461.8 cy=966.2 r=8 /><circle class=c cx=461.8 cy=552.9 r=8 /><circle class=d cx=461.8 cy=736.6 r=8 /><circle class=a cx=461.0 cy=834.5 r=8 /><circle class=b cx=461.0 cy=966.0 r=8 />
<circle class=c cx=461.0 cy=552.6 r=8 /><circle class=d cx=461.0 cy=736.4 r=8 /><circle class=a cx=460.2 cy=832.5 r=8 /><circle class=b cx=460.2 cy=965.7 r=8 /><circle class=c cx=460.2 cy=552.3 r=8 /><circle class=d cx=460.2 cy=736.1 r=8 />
<circle class=a cx=459.4 cy=830.4 r=8 /><circle class=b cx=459.4 cy=965.5 r=8 /><circle class=c cx=459.4 cy=552.0 r=8 /><circle class=d cx=459.4 cy=735.9 r=8 /><circle class=a cx=458.7 cy=828.4 r=8 /><circle class=b cx=458.7 cy=965.3 r=8 />
<circle class=c cx=458.7 cy=551.7 r=8 /><circle class=d cx=458.7 cy=735.6 r=8 /><circle class=a cx=457.9 cy=826.5 r=8 /><circle class=b cx=457.9 cy=965.0 r=8 /><circle class=c cx=457.9 cy=551.4 r=8 /><circle class=d cx=457.9 cy=735.3 r=8 />
<circle class=a cx=457.1 cy=824.7 r=8 /><circle class=b cx=457.1 cy=964.9 r=8 /><circle class=c cx=457.1 cy=551.1 r=8 /><circle class=d cx=457.1 cy=735.0 r=8 /><circle class=a cx=456.3 cy=822.9 r=8 /><circle class=b cx=456.3 cy=964.7 r=8 />
<circle class=c cx=456.3 cy=550.9 r=8 /><circle class=d cx=456.3 cy=734.7 r=8 /><circle class=a cx=455.5 cy=821.2 r=8 /><circle class=b cx=455.5 cy=964.5 r=8 /><circle class=c cx=455.5 cy=550.6 r=8 /><circle class=d cx=455.5 cy=734.4 r=8 />
<circle class=a cx=454.8 cy=819.5 r=8 /><circle class=b cx=454.8 cy=964.4 r=8 /><circle class=c cx=454.8 cy=550.5 r=8 /><circle class=d cx=454.8 cy=734.1 r=8 /><circle class=a cx=454.0 cy=817.9 r=8 /><circle class=b cx=454.0 cy=964.3 r=8 />
<circle class=c cx=454.0 cy=550.3 r=8 /><circle class=d cx=454.0 cy=733.7 r=8 /><circle class=a cx=453.2 cy=816.3 r=8 /><circle class=b cx=453.2 cy=964.3 r=8 /><circle class=c cx=453.2 cy=550.2 r=8 /><circle class=d cx=453.2 cy=733.4 r=8 />
<circle class=a cx=452.4 cy=814.7 r=8 /><circle class=b cx=452.4 cy=964.3 r=8 /><circle class=c cx=452.4 cy=550.0 r=8 /><circle class=d cx=452.4 cy=733.0 r=8 /><circle class=a cx=451.7 cy=813.1 r=8 /><circle class=b cx=451.7 cy=964.3 r=8 />
<circle class=c cx=451.7 cy=549.9 r=8 /><circle class=d cx=451.7 cy=732.6 r=8 /><circle class=a cx=450.9 cy=811.6 r=8 /><circle class=b cx=450.9 cy=964.4 r=8 /><circle class=c cx=450.9 cy=549.8 r=8 /><circle class=d cx=450.9 cy=732.1 r=8 />
<circle class=a cx=450.1 cy=810.2 r=8 /><circle class=b cx=450.1 cy=964.5 r=8 /><circle class=c cx=450.1 cy=549.7 r=8 /><circle class=d cx=450.1 cy=731.7 r=8 /><circle class=a cx=449.3 cy=808.9 r=8 /><circle class=b cx=449.3 cy=964.6 r=8 />
<circle class=c cx=449.3 cy=549.6 r=8 /><circle class=d cx=449.3 cy=731.1 r=8 /><circle class=a cx=448.6 cy=807.8 r=8 /><circle class=b cx=448.6 cy=964.7 r=8 /><circle class=c cx=448.6 cy=549.6 r=8 /><circle class=d cx=448.6 cy=730.5 r=8 />
<circle class=a cx=447.8 cy=806.8 r=8 /><circle class=b cx=447.8 cy=964.8 r=8 /><circle class=c cx=447.8 cy=549.5 r=8 /><circle class=d cx=447.8 cy=729.6 r=8 /><circle class=a cx=447.0 cy=806.0 r=8 /><circle class=b cx=447.0 cy=965.0 r=8 />
<circle class=c cx=447.0 cy=549.5 r=8 /><circle class=d cx=447.0 cy=728.7 r=8 /><circle class=a cx=446.2 cy=805.3 r=8 /><circle class=b cx=446.2 cy=965.2 r=8 /><circle class=c cx=446.2 cy=549.5 r=8 /><circle class=d cx=446.2 cy=727.7 r=8 />
<circle class=a cx=445.5 cy=804.6 r=8 /><circle class=b cx=445.5 cy=965.4 r=8 /><circle class=c cx=445.5 cy=549.6 r=8 /><circle class=d cx=445.5 cy=726.7 r=8 /><circle class=a cx=444.7 cy=804.0 r=8 /><circle class=b cx=444.7 cy=965.6 r=8 />
<circle class=c cx=444.7 cy=549.6 r=8 /><circle class=d cx=444.7 cy=725.6 r=8 /><circle class=a cx=443.9 cy=803.3 r=8 /><circle class=b cx=443.9 cy=965.8 r=8 /><circle class=c cx=443.9 cy=549.7 r=8 /><circle class=d cx=443.9 cy=724.5 r=8 />
<circle class=a cx=443.1 cy=802.7 r=8 /><circle class=b cx=443.1 cy=966.0 r=8 /><circle class=c cx=443.1 cy=549.8 r=8 /><circle class=d cx=443.1 cy=723.5 r=8 /><circle class=a cx=442.3 cy=802.2 r=8 /><circle class=b cx=442.3 cy=966.3 r=8 />
<circle class=c cx=442.3 cy=549.9 r=8 /><circle class=d cx=442.3 cy=722.4 r=8 /><circle class=a cx=441.6 cy=801.7 r=8 /><circle class=b cx=441.6 cy=966.5 r=8 /><circle class=c cx=441.6 cy=550.1 r=8 /><circle class=d cx=441.6 cy=721.4 r=8 />
<circle class=a cx=440.8 cy=801.3 r=8 /><circle class=b cx=440.8 cy=966.7 r=8 /><circle class=c cx=440.8 cy=550.2 r=8 /><circle class=d cx=440.8 cy=720.3 r=8 /><circle class=a cx=440.0 cy=800.9 r=8 /><circle class=b cx=440.0 cy=967.0 r=8 />
<circle class=c cx=440.0 cy=550.3 r=8 /><circle class=d cx=440.0 cy=719.2 r=8 /><circle class=a cx=439.2 cy=800.6 r=8 /><circle class=b cx=439.2 cy=967.3 r=8 /><circle class=c cx=439.2 cy=550.4 r=8 /><circle class=d cx=439.2 cy=718.0 r=8 />
<circle class=a cx=438.5 cy=800.5 r=8 /><circle class=b cx=438.5 cy=967.6 r=8 /><circle class=c cx=438.5 cy=550.6 r=8 /><circle class=d cx=438.5 cy=717.0 r=8 /><circle class=a cx=437.7 cy=800.4 r=8 /><circle class=b cx=437.7 cy=968.0 r=8 />
<circle class=c cx=437.7 cy=550.7 r=8 /><circle class=d cx=437.7 cy=716.1 r=8 /><circle class=a cx=436.9 cy=800.4 r=8 /><circle class=b cx=436.9 cy=968.4 r=8 /><circle class=c cx=436.9 cy=550.9 r=8 /><circle class=d cx=436.9 cy=715.4 r=8 />
<circle class=a cx=436.1 cy=800.6 r=8 /><circle class=b cx=436.1 cy=968.9 r=8 /><circle class=c cx=436.1 cy=551.1 r=8 /><circle class=d cx=436.1 cy=714.9 r=8 /><circle class=a cx=435.4 cy=800.8 r=8 /><circle class=b cx=435.4 cy=969.3 r=8 />
<circle class=c cx=435.4 cy=551.3 r=8 /><circle class=d cx=435.4 cy=714.4 r=8 /><circle class=a cx=434.6 cy=801.2 r=8 /><circle class=b cx=434.6 cy=969.9 r=8 /><circle class=c cx=434.6 cy=551.5 r=8 /><circle class=d cx=434.6 cy=714.1 r=8 />
<circle class=a cx=433.8 cy=801.6 r=8 /><circle class=b cx=433.8 cy=970.4 r=8 /><circle class=c cx=433.8 cy=551.7 r=8 /><circle class=d cx=433.8 cy=714.0 r=8 /><circle class=a cx=433.0 cy=802.0 r=8 /><circle class=b cx=433.0 cy=970.9 r=8 />
<circle class=c cx=433.0 cy=551.9 r=8 /><circle class=d cx=433.0 cy=714.2 r=8 /><circle class=a cx=432.3 cy=802.6 r=8 /><circle class=b cx=432.3 cy=971.5 r=8 /><circle class=c cx=432.3 cy=552.1 r=8 /><circle class=d cx=432.3 cy=714.6 r=8 />
<circle class=a cx=431.5 cy=803.1 r=8 /><circle class=b cx=431.5 cy=972.0 r=8 /><circle class=c cx=431.5 cy=552.3 r=8 /><circle class=d cx=431.5 cy=715.2 r=8 /><circle class=a cx=430.7 cy=803.7 r=8 /><circle class=b cx=430.7 cy=972.5 r=8 />
<circle class=c cx=430.7 cy=552.6 r=8 /><circle class=d cx=430.7 cy=715.7 r=8 /><circle class=a cx=429.9 cy=804.4 r=8 /><circle class=b cx=429.9 cy=973.0 r=8 /><circle class=c cx=429.9 cy=552.8 r=8 /><circle class=d cx=429.9 cy=716.4 r=8 />
<circle class=a cx=429.1 cy=805.0 r=8 /><circle class=b cx=429.1 cy=973.6 r=8 /><circle class=c cx=429.1 cy=553.1 r=8 /><circle class=d cx=429.1 cy=717.1 r=8 /><circle class=a cx=428.4 cy=805.7 r=8 /><circle class=b cx=428.4 cy=974.1 r=8 />
<circle class=c cx=428.4 cy=553.4 r=8 /><circle class=d cx=428.4 cy=718.0 r=8 /><circle class=a cx=427.6 cy=806.4 r=8 /><circle class=b cx=427.6 cy=974.6 r=8 /><circle class=c cx=427.6 cy=553.7 r=8 /><circle class=d cx=427.6 cy=719.0 r=8 />
<circle class=a cx=426.8 cy=807.2 r=8 /><circle class=b cx=426.8 cy=975.1 r=8 /><circle class=c cx=426.8 cy=554.0 r=8 /><circle class=d cx=426.8 cy=719.9 r=8 /><circle class=a cx=426.0 cy=808.1 r=8 /><circle class=b cx=426.0 cy=975.7 r=8 />
<circle class=c cx=426.0 cy=554.3 r=8 /><circle class=d cx=426.0 cy=720.9 r=8 /><circle class=a cx=425.3 cy=809.2 r=8 /><circle class=b cx=425.3 cy=976.2 r=8 /><circle class=c cx=425.3 cy=554.6 r=8 /><circle class=d cx=425.3 cy=722.0 r=8 />
<circle class=a cx=424.5 cy=810.3 r=8 /><circle class=b cx=424.5 cy=976.8 r=8 /><circle class=c cx=424.5 cy=555.0 r=8 /><circle class=d cx=424.5 cy=723.2 r=8 /><circle class=a cx=423.7 cy=811.6 r=8 /><circle class=b cx=423.7 cy=977.3 r=8 />
<circle class=c cx=423.7 cy=555.3 r=8 /><circle class=d cx=423.7 cy=724.5 r=8 /><circle class=a cx=422.9 cy=812.9 r=8 /><circle class=b cx=422.9 cy=977.9 r=8 /><circle class=c cx=422.9 cy=555.7 r=8 /><circle class=d cx=422.9 cy=725.9 r=8 />
<circle class=a cx=422.2 cy=814.2 r=8 /><circle class=b cx=422.2 cy=978.4 r=8 /><circle class=c cx=422.2 cy=556.1 r=8 /><circle class=d cx=422.2 cy=727.3 r=8 /><circle class=a cx=421.4 cy=815.6 r=8 /><circle class=b cx=421.4 cy=979.0 r=8 />
<circle class=c cx=421.4 cy=556.4 r=8 /><circle class=d cx=421.4 cy=728.7 r=8 /><circle class=a cx=420.6 cy=817.0 r=8 /><circle class=b cx=420.6 cy=979.6 r=8 /><circle class=c cx=420.6 cy=556.7 r=8 /><circle class=d cx=420.6 cy=730.1 r=8 />
<circle class=a cx=419.8 cy=818.5 r=8 /><circle class=b cx=419.8 cy=980.2 r=8 /><circle class=c cx=419.8 cy=557.1 r=8 /><circle class=d cx=419.8 cy=731.4 r=8 /><circle class=a cx=419.1 cy=819.9 r=8 /><circle class=b cx=419.1 cy=980.7 r=8 />
<circle class=c cx=419.1 cy=557.4 r=8 /><circle class=d cx=419.1 cy=732.7 r=8 /><circle class=a cx=418.3 cy=821.3 r=8 /><circle class=b cx=418.3 cy=981.3 r=8 /><circle class=c cx=418.3 cy=557.7 r=8 /><circle class=d cx=418.3 cy=733.9 r=8 />
<circle class=a cx=417.5 cy=822.8 r=8 /><circle class=b cx=417.5 cy=981.9 r=8 /><circle class=c cx=417.5 cy=558.0 r=8 /><circle class=d cx=417.5 cy=734.9 r=8 /><circle class=a cx=416.7 cy=824.3 r=8 /><circle class=b cx=416.7 cy=982.5 r=8 />
<circle class=c cx=416.7 cy=558.3 r=8 /><circle class=d cx=416.7 cy=735.8 r=8 /><circle class=a cx=415.9 cy=825.9 r=8 /><circle class=b cx=415.9 cy=983.1 r=8 /><circle class=c cx=415.9 cy=558.5 r=8 /><circle class=d cx=415.9 cy=736.6 r=8 />
<circle class=a cx=415.2 cy=827.5 r=8 /><circle class=b cx=415.2 cy=983.7 r=8 /><circle class=c cx=415.2 cy=558.8 r=8 /><circle class=d cx=415.2 cy=737.4 r=8 /><circle class=a cx=414.4 cy=829.2 r=8 /><circle class=b cx=414.4 cy=984.3 r=8 />
<circle class=c cx=414.4 cy=559.0 r=8 /><circle class=d cx=414.4 cy=738.1 r=8 /><circle class=a cx=413.6 cy=831.0 r=8 /><circle class=b cx=413.6 cy=984.9 r=8 /><circle class=c cx=413.6 cy=559.2 r=8 /><circle class=d cx=413.6 cy=738.8 r=8 />
<circle class=a cx=412.8 cy=832.8 r=8 /><circle class=b cx=412.8 cy=985.6 r=8 /><circle class=c cx=412.8 cy=559.4 r=8 /><circle class=d cx=412.8 cy=739.4 r=8 /><circle class=a cx=412.1 cy=834.6 r=8 /><circle class=b cx=412.1 cy=986.2 r=8 />
<circle class=c cx=412.1 cy=559.6 r=8 /><circle class=d cx=412.1 cy=740.1 r=8 /><circle class=a cx=411.3 cy=836.6 r=8 /><circle class=b cx=411.3 cy=986.9 r=8 /><circle class=c cx=411.3 cy=559.8 r=8 /><circle class=d cx=411.3 cy=740.8 r=8 />
<circle class=a cx=410.5 cy=838.6 r=8 /><circle class=b cx=410.5 cy=987.5 r=8 /><circle class=c cx=410.5 cy=560.0 r=8 /><circle class=d cx=410.5 cy=741.5 r=8 /><circle class=a cx=409.7 cy=840.7 r=8 /><circle class=b cx=409.7 cy=988.2 r=8 />
<circle class=c cx=409.7 cy=560.2 r=8 /><circle class=d cx=409.7 cy=742.3 r=8 /><circle class=a cx=409.0 cy=843.0 r=8 /><circle class=b cx=409.0 cy=988.9 r=8 /><circle class=c cx=409.0 cy=560.4 r=8 /><circle class=d cx=409.0 cy=743.0 r=8 />
<circle class=a cx=408.2 cy=845.5 r=8 /><circle class=b cx=408.2 cy=989.7 r=8 /><circle class=c cx=408.2 cy=560.6 r=8 /><circle class=d cx=408.2 cy=743.8 r=8 /><circle class=a cx=407.4 cy=848.2 r=8 /><circle class=b cx=407.4 cy=990.4 r=8 />
<circle class=c cx=407.4 cy=560.8 r=8 /><circle class=d cx=407.4 cy=744.6 r=8 /><circle class=a cx=406.6 cy=851.0 r=8 /><circle class=b cx=406.6 cy=991.1 r=8 /><circle class=c cx=406.6 cy=561.0 r=8 /><circle class=d cx=406.6 cy=745.4 r=8 />
<circle class=a cx=405.9 cy=853.9 r=8 /><circle class=b cx=405.9 cy=991.9 r=8 /><circle class=c cx=405.9 cy=561.2 r=8 /><circle class=d cx=405.9 cy=746.2 r=8 /><circle class=a cx=405.1 cy=856.9 r=8 /><circle class=b cx=405.1 cy=992.7 r=8 />
<circle class=c cx=405.1 cy=561.5 r=8 /><circle class=d cx=405.1 cy=747.0 r=8 /><circle class=a cx=404.3 cy=860.0 r=8 /><circle class=b cx=404.3 cy=993.5 r=8 /><circle class=c cx=404.3 cy=561.7 r=8 /><circle class=d cx=404.3 cy=747.7 r=8 />
<circle class=a cx=403.5 cy=863.0 r=8 /><circle class=b cx=403.5 cy=994.3 r=8 /><circle class=c cx=403.5 cy=561.9 r=8 /><circle class=d cx=403.5 cy=748.5 r=8 /><circle class=a cx=402.7 cy=866.1 r=8 /><circle class=b cx=402.7 cy=995.1 r=8 />
<circle class=c cx=402.7 cy=562.2 r=8 /><circle class=d cx=402.7 cy=749.3 r=8 /><circle class=a cx=402.0 cy=869.1 r=8 /><circle class=b cx=402.0 cy=995.9 r=8 /><circle class=c cx=402.0 cy=562.5 r=8 /><circle class=d cx=402.0 cy=750.1 r=8 />
<circle class=a cx=401.2 cy=872.1 r=8 /><circle class=b cx=401.2 cy=996.8 r=8 /><circle class=c cx=401.2 cy=562.8 r=8 /><circle class=d cx=401.2 cy=750.9 r=8 /><circle class=a cx=400.4 cy=875.0 r=8 /><circle class=b cx=400.4 cy=997.8 r=8 />
<circle class=c cx=400.4 cy=563.2 r=8 /><circle class=d cx=400.4 cy=751.8 r=8 /><circle class=a cx=399.6 cy=877.7 r=8 /><circle class=b cx=399.6 cy=999.0 r=8 /><circle class=c cx=399.6 cy=563.9 r=8 /><circle class=d cx=399.6 cy=752.7 r=8 />
<circle class=a cx=398.9 cy=880.3 r=8 /><circle class=b cx=398.9 cy=999.8 r=8 /><circle class=c cx=398.9 cy=564.2 r=8 /><circle class=d cx=398.9 cy=753.4 r=8 /><circle class=a cx=398.1 cy=882.8 r=8 /><circle class=b cx=398.1 cy=1000.9 r=8 />
<circle class=c cx=398.1 cy=564.7 r=8 /><circle class=d cx=398.1 cy=754.3 r=8 /><circle class=a cx=397.3 cy=885.3 r=8 /><circle class=b cx=397.3 cy=1001.9 r=8 /><circle class=c cx=397.3 cy=565.2 r=8 /><circle class=d cx=397.3 cy=755.0 r=8 />
<circle class=a cx=396.5 cy=887.9 r=8 /><circle class=b cx=396.5 cy=1002.2 r=8 /><circle class=c cx=396.5 cy=565.0 r=8 /><circle class=d cx=396.5 cy=755.3 r=8 /><circle class=a cx=395.8 cy=890.2 r=8 /><circle class=b cx=395.8 cy=1003.7 r=8 />
<circle class=c cx=395.8 cy=566.1 r=8 /><circle class=d cx=395.8 cy=756.3 r=8 /><circle class=a cx=395.0 cy=892.4 r=8 /><circle class=b cx=395.0 cy=1005.4 r=8 /><circle class=c cx=395.0 cy=567.4 r=8 /><circle class=d cx=395.0 cy=757.4 r=8 />
<circle class=a cx=394.2 cy=895.0 r=8 /><circle class=b cx=394.2 cy=1005.2 r=8 /><circle class=c cx=394.2 cy=566.8 r=8 /><circle class=d cx=394.2 cy=757.4 r=8 /><circle class=a cx=393.4 cy=897.4 r=8 /><circle class=b cx=393.4 cy=1005.8 r=8 />
<circle class=c cx=393.4 cy=567.1 r=8 /><circle class=d cx=393.4 cy=757.9 r=8 /><circle class=a cx=392.7 cy=894.3 r=8 /><circle class=b cx=392.7 cy=1031.8 r=8 /><circle class=c cx=392.7 cy=592.7 r=8 /><circle class=d cx=392.7 cy=774.1 r=8 />
<circle class=a cx=391.9 cy=898.5 r=8 /><circle class=b cx=391.9 cy=1023.7 r=8 /><circle class=c cx=391.9 cy=584.4 r=8 /><circle class=d cx=391.9 cy=769.2 r=8 /><circle class=a cx=391.1 cy=904.3 r=8 /><circle class=b cx=391.1 cy=1009.1 r=8 />
<circle class=c cx=391.1 cy=569.5 r=8 /><circle class=d cx=391.1 cy=760.3 r=8 /><circle class=a cx=390.3 cy=906.5 r=8 /><circle class=b cx=390.3 cy=1010.6 r=8 /><circle class=c cx=390.3 cy=570.8 r=8 /><circle class=d cx=390.3 cy=761.3 r=8 />
<circle class=a cx=389.5 cy=908.9 r=8 /><circle class=b cx=389.5 cy=1011.1 r=8 /><circle class=c cx=389.5 cy=571.0 r=8 /><circle class=d cx=389.5 cy=761.8 r=8 /><circle class=a cx=388.8 cy=910.6 r=8 /><circle class=b cx=388.8 cy=1014.8 r=8 />
<circle class=c cx=388.8 cy=574.4 r=8 /><circle class=d cx=388.8 cy=764.3 r=8 /><circle class=a cx=388.0 cy=913.3 r=8 /><circle class=b cx=388.0 cy=1014.4 r=8 /><circle class=c cx=388.0 cy=573.9 r=8 /><circle class=d cx=388.0 cy=764.2 r=8 />
<circle class=a cx=387.2 cy=915.5 r=8 /><circle class=b cx=387.2 cy=1016.0 r=8 /><circle class=c cx=387.2 cy=575.3 r=8 /><circle class=d cx=387.2 cy=765.4 r=8 /><circle class=a cx=386.4 cy=918.5 r=8 /><circle class=b cx=386.4 cy=1014.5 r=8 />
<circle class=c cx=386.4 cy=573.7 r=8 /><circle class=d cx=386.4 cy=764.8 r=8 /><circle class=a cx=385.7 cy=920.4 r=8 /><circle class=b cx=385.7 cy=1018.2 r=8 /><circle class=c cx=385.7 cy=577.3 r=8 /><circle class=d cx=385.7 cy=767.3 r=8 />
<circle class=a cx=384.9 cy=922.4 r=8 /><circle class=b cx=384.9 cy=1021.5 r=8 /><circle class=c cx=384.9 cy=580.5 r=8 /><circle class=d cx=384.9 cy=769.6 r=8 /><circle class=a cx=384.1 cy=923.1 r=8 /><circle class=b cx=384.1 cy=1030.9 r=8 />
<circle class=c cx=384.1 cy=589.7 r=8 /><circle class=d cx=384.1 cy=775.6 r=8 /><circle class=a cx=383.3 cy=928.2 r=8 /><circle class=b cx=383.3 cy=1020.7 r=8 /><circle class=c cx=383.3 cy=579.4 r=8 /><circle class=d cx=383.3 cy=769.5 r=8 />
<circle class=a cx=382.6 cy=930.2 r=8 /><circle class=b cx=382.6 cy=1024.2 r=8 /><circle class=c cx=382.6 cy=582.8 r=8 /><circle class=d cx=382.6 cy=771.9 r=8 /><circle class=a cx=381.8 cy=933.4 r=8 /><circle class=b cx=381.8 cy=1022.6 r=8 />
<circle class=c cx=381.8 cy=581.1 r=8 /><circle class=d cx=381.8 cy=771.1 r=8 /><circle class=a cx=381.0 cy=936.1 r=8 /><circle class=b cx=381.0 cy=1023.0 r=8 /><circle class=c cx=381.0 cy=581.3 r=8 /><circle class=d cx=381.0 cy=771.4 r=8 />
<circle class=a cx=380.2 cy=938.7 r=8 /><circle class=b cx=380.2 cy=1024.1 r=8 /><circle class=c cx=380.2 cy=582.2 r=8 /><circle class=d cx=380.2 cy=772.3 r=8 /><circle class=a cx=379.5 cy=941.3 r=8 /><circle class=b cx=379.5 cy=1025.3 r=8 />
<circle class=c cx=379.5 cy=583.1 r=8 /><circle class=d cx=379.5 cy=773.1 r=8 /><circle class=a cx=378.7 cy=943.8 r=8 /><circle class=b cx=378.7 cy=1026.8 r=8 /><circle class=c cx=378.7 cy=584.3 r=8 /><circle class=d cx=378.7 cy=774.1 r=8 />
<circle class=a cx=377.9 cy=943.0 r=8 /><circle class=b cx=377.9 cy=1043.0 r=8 /><circle class=c cx=377.9 cy=600.1 r=8 /><circle class=d cx=377.9 cy=784.1 r=8 /><circle class=a cx=377.1 cy=949.3 r=8 /><circle class=b cx=377.1 cy=1027.5 r=8 />
<circle class=c cx=377.1 cy=584.3 r=8 /><circle class=d cx=377.1 cy=774.5 r=8 /><circle class=a cx=376.3 cy=951.8 r=8 /><circle class=b cx=376.3 cy=1029.3 r=8 /><circle class=c cx=376.3 cy=585.6 r=8 /><circle class=d cx=376.3 cy=775.5 r=8 />
<circle class=a cx=375.6 cy=953.3 r=8 /><circle class=b cx=375.6 cy=1035.2 r=8 /><circle class=c cx=375.6 cy=591.1 r=8 /><circle class=d cx=375.6 cy=779.1 r=8 /><circle class=a cx=374.8 cy=956.6 r=8 /><circle class=b cx=374.8 cy=1033.0 r=8 />
<circle class=c cx=374.8 cy=588.4 r=8 /><circle class=d cx=374.8 cy=777.7 r=8 /><circle class=a cx=374.0 cy=960.2 r=8 /><circle class=b cx=374.0 cy=1030.0 r=8 /><circle class=c cx=374.0 cy=584.9 r=8 /><circle class=d cx=374.0 cy=775.7 r=8 />
<circle class=a cx=373.2 cy=961.8 r=8 /><circle class=b cx=373.2 cy=1035.7 r=8 /><circle class=c cx=373.2 cy=590.2 r=8 /><circle class=d cx=373.2 cy=779.2 r=8 /><circle class=a cx=372.5 cy=965.1 r=8 /><circle class=b cx=372.5 cy=1033.4 r=8 />
<circle class=c cx=372.5 cy=587.5 r=8 /><circle class=d cx=372.5 cy=777.7 r=8 /><circle class=a cx=371.7 cy=967.2 r=8 /><circle class=b cx=371.7 cy=1036.7 r=8 /><circle class=c cx=371.7 cy=590.4 r=8 /><circle class=d cx=371.7 cy=779.7 r=8 />
<circle class=a cx=370.9 cy=965.5 r=8 /><circle class=b cx=370.9 cy=1057.7 r=8 /><circle class=c cx=370.9 cy=611.1 r=8 /><circle class=d cx=370.9 cy=792.8 r=8 /><circle class=a cx=370.1 cy=972.2 r=8 /><circle class=b cx=370.1 cy=1039.8 r=8 />
<circle class=c cx=370.1 cy=592.8 r=8 /><circle class=d cx=370.1 cy=781.7 r=8 /><circle class=a cx=369.4 cy=974.2 r=8 /><circle class=b cx=369.4 cy=1043.8 r=8 /><circle class=c cx=369.4 cy=596.6 r=8 /><circle class=d cx=369.4 cy=784.3 r=8 />
<circle class=a cx=368.6 cy=977.1 r=8 /><circle class=b cx=368.6 cy=1043.2 r=8 /><circle class=c cx=368.6 cy=595.7 r=8 /><circle class=d cx=368.6 cy=784.1 r=8 /><circle class=a cx=367.8 cy=979.6 r=8 /><circle class=b cx=367.8 cy=1044.6 r=8 />
<circle class=c cx=367.8 cy=596.9 r=8 /><circle class=d cx=367.8 cy=785.1 r=8 /><circle class=a cx=367.0 cy=981.2 r=8 /><circle class=b cx=367.0 cy=1050.3 r=8 /><circle class=c cx=367.0 cy=602.4 r=8 /><circle class=d cx=367.0 cy=788.9 r=8 />
<circle class=a cx=366.3 cy=983.1 r=8 /><circle class=b cx=366.3 cy=1054.3 r=8 /><circle class=c cx=366.3 cy=606.2 r=8 /><circle class=d cx=366.3 cy=791.6 r=8 /><circle class=a cx=365.5 cy=988.2 r=8 /><circle class=b cx=365.5 cy=1044.0 r=8 />
<circle class=c cx=365.5 cy=595.7 r=8 /><circle class=d cx=365.5 cy=785.4 r=8 /><circle class=a cx=364.7 cy=984.4 r=8 /><circle class=b cx=364.7 cy=1073.8 r=8 /><circle class=c cx=364.7 cy=625.3 r=8 /><circle class=d cx=364.7 cy=804.1 r=8 />
<circle class=a cx=363.9 cy=991.3 r=8 /><circle class=b cx=363.9 cy=1055.3 r=8 /><circle class=c cx=363.9 cy=606.7 r=8 /><circle class=d cx=363.9 cy=792.8 r=8 /><circle class=a cx=363.1 cy=994.0 r=8 /><circle class=b cx=363.1 cy=1055.5 r=8 />
<circle class=c cx=363.1 cy=606.8 r=8 /><circle class=d cx=363.1 cy=793.2 r=8 /><circle class=a cx=362.4 cy=996.8 r=8 /><circle class=b cx=362.4 cy=1055.7 r=8 /><circle class=c cx=362.4 cy=606.7 r=8 /><circle class=d cx=362.4 cy=793.5 r=8 />
<circle class=a cx=361.6 cy=999.2 r=8 /><circle class=b cx=361.6 cy=1057.3 r=8 /><circle class=c cx=361.6 cy=608.2 r=8 /><circle class=d cx=361.6 cy=794.7 r=8 /><circle class=a cx=360.8 cy=1001.9 r=8 /><circle class=b cx=360.8 cy=1057.7 r=8 />
<circle class=c cx=360.8 cy=608.4 r=8 /><circle class=d cx=360.8 cy=795.0 r=8 /><circle class=a cx=360.0 cy=1004.7 r=8 /><circle class=b cx=360.0 cy=1058.0 r=8 /><circle class=c cx=360.0 cy=608.5 r=8 /><circle class=d cx=360.0 cy=795.3 r=8 />
<circle class=a cx=359.3 cy=1009.5 r=8 /><circle class=b cx=359.3 cy=1048.6 r=8 /><circle class=c cx=359.3 cy=599.0 r=8 /><circle class=d cx=359.3 cy=789.5 r=8 /><circle class=a cx=358.5 cy=1010.9 r=8 /><circle class=b cx=358.5 cy=1054.8 r=8 />
<circle class=c cx=358.5 cy=605.1 r=8 /><circle class=d cx=358.5 cy=793.4 r=8 /><circle class=a cx=357.7 cy=1012.7 r=8 /><circle class=b cx=357.7 cy=1059.6 r=8 /><circle class=c cx=357.7 cy=609.9 r=8 /><circle class=d cx=357.7 cy=796.5 r=8 />
<circle class=a cx=356.9 cy=1005.9 r=8 /><circle class=b cx=356.9 cy=1103.1 r=8 /><circle class=c cx=356.9 cy=653.4 r=8 /><circle class=d cx=356.9 cy=823.5 r=8 /><circle class=a cx=356.2 cy=1011.1 r=8 /><circle class=b cx=356.2 cy=1091.9 r=8 />
<circle class=c cx=356.2 cy=642.3 r=8 /><circle class=d cx=356.2 cy=816.7 r=8 /><circle class=a cx=355.4 cy=1021.1 r=8 /><circle class=b cx=355.4 cy=1059.4 r=8 /><circle class=c cx=355.4 cy=609.9 r=8 /><circle class=d cx=355.4 cy=796.7 r=8 />
<circle class=a cx=354.6 cy=1020.5 r=8 /><circle class=b cx=354.6 cy=1074.9 r=8 /><circle class=c cx=354.6 cy=625.6 r=8 /><circle class=d cx=354.6 cy=806.5 r=8 /><circle class=a cx=353.8 cy=1027.9 r=8 /><circle class=b cx=353.8 cy=1054.4 r=8 />
<circle class=c cx=353.8 cy=605.3 r=8 /><circle class=d cx=353.8 cy=793.9 r=8 /><circle class=a cx=353.1 cy=1028.5 r=8 /><circle class=b cx=353.1 cy=1064.9 r=8 /><circle class=c cx=353.1 cy=615.8 r=8 /><circle class=d cx=353.1 cy=800.4 r=8 />
<circle class=a cx=352.3 cy=1032.6 r=8 /><circle class=b cx=352.3 cy=1059.2 r=8 /><circle class=c cx=352.3 cy=610.2 r=8 /><circle class=d cx=352.3 cy=797.0 r=8 /><circle class=a cx=351.5 cy=1031.3 r=8 /><circle class=b cx=351.5 cy=1077.2 r=8 />
<circle class=c cx=351.5 cy=628.2 r=8 /><circle class=d cx=351.5 cy=808.2 r=8 /><circle class=a cx=350.7 cy=1037.1 r=8 /><circle class=b cx=350.7 cy=1062.7 r=8 /><circle class=c cx=350.7 cy=613.5 r=8 /><circle class=d cx=350.7 cy=799.1 r=8 />
<circle class=a cx=349.9 cy=1033.5 r=8 /><circle class=b cx=349.9 cy=1089.4 r=8 /><circle class=c cx=349.9 cy=640.0 r=8 /><circle class=d cx=349.9 cy=815.6 r=8 /><circle class=a cx=349.2 cy=1037.1 r=8 /><circle class=b cx=349.2 cy=1083.1 r=8 />
<circle class=c cx=349.2 cy=633.6 r=8 /><circle class=d cx=349.2 cy=811.7 r=8 /><circle class=a cx=348.4 cy=1037.6 r=8 /><circle class=b cx=348.4 cy=1090.3 r=8 /><circle class=c cx=348.4 cy=640.6 r=8 /><circle class=d cx=348.4 cy=816.1 r=8 />
<circle class=a cx=347.6 cy=1045.7 r=8 /><circle class=b cx=347.6 cy=1062.8 r=8 /><circle class=c cx=347.6 cy=612.9 r=8 /><circle class=d cx=347.6 cy=799.0 r=8 /><circle class=a cx=346.8 cy=1043.7 r=8 /><circle class=b cx=346.8 cy=1080.9 r=8 />
<circle class=c cx=346.8 cy=631.0 r=8 /><circle class=d cx=346.8 cy=810.3 r=8 /><circle class=a cx=346.1 cy=1047.8 r=8 /><circle class=b cx=346.1 cy=1071.1 r=8 /><circle class=c cx=346.1 cy=621.2 r=8 /><circle class=d cx=346.1 cy=804.2 r=8 />
<circle class=a cx=345.3 cy=1040.2 r=8 /><circle class=b cx=345.3 cy=1113.9 r=8 /><circle class=c cx=345.3 cy=664.0 r=8 /><circle class=d cx=345.3 cy=830.8 r=8 /><circle class=a cx=344.5 cy=1052.8 r=8 /><circle class=b cx=344.5 cy=1064.4 r=8 />
<circle class=c cx=344.5 cy=614.5 r=8 /><circle class=d cx=344.5 cy=800.2 r=8 /><circle class=a cx=343.7 cy=1051.4 r=8 /><circle class=b cx=343.7 cy=1078.5 r=8 /><circle class=c cx=343.7 cy=628.7 r=8 /><circle class=d cx=343.7 cy=809.1 r=8 />
<circle class=a cx=343.0 cy=1054.4 r=8 /><circle class=b cx=343.0 cy=1071.9 r=8 /><circle class=c cx=343.0 cy=622.2 r=8 /><circle class=d cx=343.0 cy=805.1 r=8 /><circle class=a cx=342.2 cy=1054.6 r=8 /><circle class=b cx=342.2 cy=1078.3 r=8 />
<circle class=c cx=342.2 cy=628.6 r=8 /><circle class=d cx=342.2 cy=809.2 r=8 /><circle class=a cx=341.4 cy=1055.9 r=8 /><circle class=b cx=341.4 cy=1079.1 r=8 /><circle class=c cx=341.4 cy=629.5 r=8 /><circle class=d cx=341.4 cy=809.8 r=8 />
<circle class=a cx=340.6 cy=1060.4 r=8 /><circle class=b cx=340.6 cy=1065.2 r=8 /><circle class=c cx=340.6 cy=615.6 r=8 /><circle class=d cx=340.6 cy=801.2 r=8 /><circle class=a cx=339.9 cy=1054.3 r=8 /><circle class=b cx=339.9 cy=1099.1 r=8 />
<circle class=c cx=339.9 cy=649.6 r=8 /><circle class=d cx=339.9 cy=822.3 r=8 /><circle class=a cx=339.1 cy=1060.4 r=8 /><circle class=b cx=339.1 cy=1077.6 r=8 /><circle class=c cx=339.1 cy=628.1 r=8 /><circle class=d cx=339.1 cy=809.1 r=8 />
<circle class=a cx=338.3 cy=1062.4 r=8 /><circle class=b cx=338.3 cy=1074.8 r=8 /><circle class=c cx=338.3 cy=625.5 r=8 /><circle class=d cx=338.3 cy=807.5 r=8 /><circle class=a cx=337.5 cy=1064.0 r=8 /><circle class=b cx=337.5 cy=1073.7 r=8 />
<circle class=c cx=337.5 cy=624.5 r=8 /><circle class=d cx=337.5 cy=806.9 r=8 /><circle class=a cx=336.7 cy=1064.8 r=8 /><circle class=b cx=336.7 cy=1076.0 r=8 /><circle class=c cx=336.7 cy=626.8 r=8 /><circle class=d cx=336.7 cy=808.4 r=8 />
<circle class=a cx=336.0 cy=1067.2 r=8 /><circle class=b cx=336.0 cy=1071.1 r=8 /><circle class=c cx=336.0 cy=622.0 r=8 /><circle class=d cx=336.0 cy=805.4 r=8 /><circle class=a cx=335.2 cy=1068.1 r=8 /><circle class=b cx=335.2 cy=1072.7 r=8 />
<circle class=c cx=335.2 cy=623.7 r=8 /><circle class=d cx=335.2 cy=806.6 r=8 /><circle class=a cx=334.4 cy=1069.4 r=8 /><circle class=b cx=334.4 cy=1072.0 r=8 /><circle class=c cx=334.4 cy=623.1 r=8 /><circle class=d cx=334.4 cy=806.3 r=8 />
<circle class=a cx=333.6 cy=1070.0 r=8 /><circle class=b cx=333.6 cy=1074.3 r=8 /><circle class=c cx=333.6 cy=625.5 r=8 /><circle class=d cx=333.6 cy=807.8 r=8 /><circle class=a cx=332.9 cy=1071.1 r=8 /><circle class=b cx=332.9 cy=1073.9 r=8 />
<circle class=c cx=332.9 cy=625.3 r=8 /><circle class=d cx=332.9 cy=807.6 r=8 /><circle class=a cx=332.1 cy=1067.6 r=8 /><circle class=b cx=332.1 cy=1094.0 r=8 /><circle class=c cx=332.1 cy=645.5 r=8 /><circle class=d cx=332.1 cy=820.2 r=8 />
<circle class=a cx=331.3 cy=1072.7 r=8 /><circle class=b cx=331.3 cy=1074.2 r=8 /><circle class=c cx=331.3 cy=625.8 r=8 /><circle class=d cx=331.3 cy=808.1 r=8 /><circle class=a cx=330.5 cy=1075.2 r=8 /><circle class=b cx=330.5 cy=1065.9 r=8 />
<circle class=c cx=330.5 cy=617.8 r=8 /><circle class=d cx=330.5 cy=803.1 r=8 /><circle class=a cx=329.8 cy=1075.8 r=8 /><circle class=b cx=329.8 cy=1065.5 r=8 /><circle class=c cx=329.8 cy=617.5 r=8 /><circle class=d cx=329.8 cy=803.0 r=8 />
<circle class=a cx=329.0 cy=1073.4 r=8 /><circle class=b cx=329.0 cy=1078.7 r=8 /><circle class=c cx=329.0 cy=631.0 r=8 /><circle class=d cx=329.0 cy=811.3 r=8 /><circle class=a cx=328.2 cy=1075.8 r=8 /><circle class=b cx=328.2 cy=1069.7 r=8 />
<circle class=c cx=328.2 cy=622.3 r=8 /><circle class=d cx=328.2 cy=805.9 r=8 /><circle class=a cx=327.4 cy=1077.5 r=8 /><circle class=b cx=327.4 cy=1064.3 r=8 /><circle class=c cx=327.4 cy=617.2 r=8 /><circle class=d cx=327.4 cy=802.8 r=8 />
<circle class=a cx=326.6 cy=1075.5 r=8 /><circle class=b cx=326.6 cy=1075.2 r=8 /><circle class=c cx=326.6 cy=628.4 r=8 /><circle class=d cx=326.6 cy=809.7 r=8 /><circle class=a cx=325.9 cy=1077.1 r=8 /><circle class=b cx=325.9 cy=1069.6 r=8 />
<circle class=c cx=325.9 cy=623.1 r=8 /><circle class=d cx=325.9 cy=806.5 r=8 /><circle class=a cx=325.1 cy=1078.1 r=8 /><circle class=b cx=325.1 cy=1066.7 r=8 /><circle class=c cx=325.1 cy=620.5 r=8 /><circle class=d cx=325.1 cy=804.9 r=8 />
<circle class=a cx=324.3 cy=1078.2 r=8 /><circle class=b cx=324.3 cy=1067.5 r=8 /><circle class=c cx=324.3 cy=621.6 r=8 /><circle class=d cx=324.3 cy=805.6 r=8 /><circle class=a cx=323.5 cy=1078.0 r=8 /><circle class=b cx=323.5 cy=1070.0 r=8 />
<circle class=c cx=323.5 cy=624.4 r=8 /><circle class=d cx=323.5 cy=807.3 r=8 /><circle class=a cx=322.8 cy=1075.7 r=8 /><circle class=b cx=322.8 cy=1081.4 r=8 /><circle class=c cx=322.8 cy=636.1 r=8 /><circle class=d cx=322.8 cy=814.6 r=8 />
<circle class=a cx=322.0 cy=1073.2 r=8 /><circle class=b cx=322.0 cy=1093.5 r=8 /><circle class=c cx=322.0 cy=648.5 r=8 /><circle class=d cx=322.0 cy=822.3 r=8 /><circle class=a cx=321.2 cy=1077.1 r=8 /><circle class=b cx=321.2 cy=1076.2 r=8 />
<circle class=c cx=321.2 cy=631.4 r=8 /><circle class=d cx=321.2 cy=811.7 r=8 /><circle class=a cx=320.4 cy=1077.9 r=8 /><circle class=b cx=320.4 cy=1073.0 r=8 /><circle class=c cx=320.4 cy=628.5 r=8 /><circle class=d cx=320.4 cy=809.9 r=8 />
<circle class=a cx=319.7 cy=1070.3 r=8 /><circle class=b cx=319.7 cy=1107.2 r=8 /><circle class=c cx=319.7 cy=662.9 r=8 /><circle class=d cx=319.7 cy=831.2 r=8 /><circle class=a cx=318.9 cy=1078.4 r=8 /><circle class=b cx=318.9 cy=1070.0 r=8 />
<circle class=c cx=318.9 cy=625.9 r=8 /><circle class=d cx=318.9 cy=808.3 r=8 /><circle class=a cx=318.1 cy=1079.0 r=8 /><circle class=b cx=318.1 cy=1066.8 r=8 /><circle class=c cx=318.1 cy=622.8 r=8 /><circle class=d cx=318.1 cy=806.3 r=8 />
<circle class=a cx=317.3 cy=1068.7 r=8 /><circle class=b cx=317.3 cy=1112.9 r=8 /><circle class=c cx=317.3 cy=668.9 r=8 /><circle class=d cx=317.3 cy=834.9 r=8 /><circle class=a cx=316.6 cy=1079.0 r=8 /><circle class=b cx=316.6 cy=1065.3 r=8 />
<circle class=c cx=316.6 cy=621.3 r=8 /><circle class=d cx=316.6 cy=805.2 r=8 /><circle class=a cx=315.8 cy=1066.6 r=8 /><circle class=b cx=315.8 cy=1120.7 r=8 /><circle class=c cx=315.8 cy=676.4 r=8 /><circle class=d cx=315.8 cy=839.2 r=8 />
<circle class=a cx=315.0 cy=1077.1 r=8 /><circle class=b cx=315.0 cy=1072.1 r=8 /><circle class=c cx=315.0 cy=627.5 r=8 /><circle class=d cx=315.0 cy=808.5 r=8 /><circle class=a cx=314.2 cy=1076.9 r=8 /><circle class=b cx=314.2 cy=1072.0 r=8 />
<circle class=c cx=314.2 cy=627.0 r=8 /><circle class=d cx=314.2 cy=807.9 r=8 /><circle class=a cx=313.4 cy=1078.0 r=8 /><circle class=b cx=313.4 cy=1066.0 r=8 /><circle class=c cx=313.4 cy=620.6 r=8 /><circle class=d cx=313.4 cy=803.6 r=8 />
<circle class=a cx=312.7 cy=1074.5 r=8 /><circle class=b cx=312.7 cy=1080.5 r=8 /><circle class=c cx=312.7 cy=634.7 r=8 /><circle class=d cx=312.7 cy=812.0 r=8 /><circle class=a cx=311.9 cy=1077.2 r=8 /><circle class=b cx=311.9 cy=1067.3 r=8 />
<circle class=c cx=311.9 cy=621.0 r=8 /><circle class=d cx=311.9 cy=803.2 r=8 /><circle class=a cx=311.1 cy=1076.0 r=8 /><circle class=b cx=311.1 cy=1072.1 r=8 /><circle class=c cx=311.1 cy=625.5 r=8 /><circle class=d cx=311.1 cy=805.7 r=8 />
<circle class=a cx=310.3 cy=1077.6 r=8 /><circle class=b cx=310.3 cy=1063.9 r=8 /><circle class=c cx=310.3 cy=617.0 r=8 /><circle class=d cx=310.3 cy=800.3 r=8 /><circle class=a cx=309.6 cy=1074.4 r=8 /><circle class=b cx=309.6 cy=1078.1 r=8 />
<circle class=c cx=309.6 cy=631.0 r=8 /><circle class=d cx=309.6 cy=808.8 r=8 /><circle class=a cx=308.8 cy=1077.8 r=8 /><circle class=b cx=308.8 cy=1062.1 r=8 /><circle class=c cx=308.8 cy=614.8 r=8 /><circle class=d cx=308.8 cy=798.8 r=8 />
<circle class=a cx=308.0 cy=1076.9 r=8 /><circle class=b cx=308.0 cy=1065.8 r=8 /><circle class=c cx=308.0 cy=618.3 r=8 /><circle class=d cx=308.0 cy=800.9 r=8 /><circle class=a cx=307.2 cy=1073.0 r=8 /><circle class=b cx=307.2 cy=1082.9 r=8 />
<circle class=c cx=307.2 cy=635.2 r=8 /><circle class=d cx=307.2 cy=811.3 r=8 /><circle class=a cx=306.5 cy=1074.3 r=8 /><circle class=b cx=306.5 cy=1076.4 r=8 /><circle class=c cx=306.5 cy=628.6 r=8 /><circle class=d cx=306.5 cy=807.1 r=8 />
<circle class=a cx=305.7 cy=1072.9 r=8 /><circle class=b cx=305.7 cy=1082.2 r=8 /><circle class=c cx=305.7 cy=634.2 r=8 /><circle class=d cx=305.7 cy=810.5 r=8 /><circle class=a cx=304.9 cy=1074.5 r=8 /><circle class=b cx=304.9 cy=1074.4 r=8 />
<circle class=c cx=304.9 cy=626.3 r=8 /><circle class=d cx=304.9 cy=805.6 r=8 /><circle class=a cx=304.1 cy=1075.7 r=8 /><circle class=b cx=304.1 cy=1068.5 r=8 /><circle class=c cx=304.1 cy=620.2 r=8 /><circle class=d cx=304.1 cy=801.8 r=8 />
<circle class=a cx=303.4 cy=1074.6 r=8 /><circle class=b cx=303.4 cy=1073.1 r=8 /><circle class=c cx=303.4 cy=624.6 r=8 /><circle class=d cx=303.4 cy=804.5 r=8 /><circle class=a cx=302.6 cy=1074.8 r=8 /><circle class=b cx=302.6 cy=1071.8 r=8 />
<circle class=c cx=302.6 cy=623.2 r=8 /><circle class=d cx=302.6 cy=803.6 r=8 /><circle class=a cx=301.8 cy=1070.5 r=8 /><circle class=b cx=301.8 cy=1091.2 r=8 /><circle class=c cx=301.8 cy=642.5 r=8 /><circle class=d cx=301.8 cy=815.5 r=8 />
<circle class=a cx=301.0 cy=1070.9 r=8 /><circle class=b cx=301.0 cy=1088.6 r=8 /><circle class=c cx=301.0 cy=639.7 r=8 /><circle class=d cx=301.0 cy=813.8 r=8 /><circle class=a cx=300.2 cy=1077.4 r=8 /><circle class=b cx=300.2 cy=1059.1 r=8 />
<circle class=c cx=300.2 cy=610.1 r=8 /><circle class=d cx=300.2 cy=795.5 r=8 /><circle class=a cx=299.5 cy=1075.9 r=8 /><circle class=b cx=299.5 cy=1065.4 r=8 /><circle class=c cx=299.5 cy=616.2 r=8 /><circle class=d cx=299.5 cy=799.2 r=8 />
<circle class=a cx=298.7 cy=1076.4 r=8 /><circle class=b cx=298.7 cy=1062.9 r=8 /><circle class=c cx=298.7 cy=613.6 r=8 /><circle class=d cx=298.7 cy=797.6 r=8 /><circle class=a cx=297.9 cy=1076.9 r=8 /><circle class=b cx=297.9 cy=1059.8 r=8 />
<circle class=c cx=297.9 cy=610.5 r=8 /><circle class=d cx=297.9 cy=795.6 r=8 /><circle class=a cx=297.1 cy=1074.4 r=8 /><circle class=b cx=297.1 cy=1071.2 r=8 /><circle class=c cx=297.1 cy=621.7 r=8 /><circle class=d cx=297.1 cy=802.6 r=8 />
<circle class=a cx=296.4 cy=1068.4 r=8 /><circle class=b cx=296.4 cy=1097.7 r=8 /><circle class=c cx=296.4 cy=648.1 r=8 /><circle class=d cx=296.4 cy=819.0 r=8 /><circle class=a cx=295.6 cy=1072.9 r=8 /><circle class=b cx=295.6 cy=1077.1 r=8 />
<circle class=c cx=295.6 cy=627.5 r=8 /><circle class=d cx=295.6 cy=806.1 r=8 /><circle class=a cx=294.8 cy=1074.0 r=8 /><circle class=b cx=294.8 cy=1071.7 r=8 /><circle class=c cx=294.8 cy=622.0 r=8 /><circle class=d cx=294.8 cy=802.7 r=8 />
<circle class=a cx=294.0 cy=1075.0 r=8 /><circle class=b cx=294.0 cy=1066.7 r=8 /><circle class=c cx=294.0 cy=616.9 r=8 /><circle class=d cx=294.0 cy=799.5 r=8 /><circle class=a cx=293.3 cy=1072.8 r=8 /><circle class=b cx=293.3 cy=1076.2 r=8 />
<circle class=c cx=293.3 cy=626.4 r=8 /><circle class=d cx=293.3 cy=805.4 r=8 /><circle class=a cx=292.5 cy=1073.0 r=8 /><circle class=b cx=292.5 cy=1074.8 r=8 /><circle class=c cx=292.5 cy=624.9 r=8 /><circle class=d cx=292.5 cy=804.4 r=8 />
<circle class=a cx=291.7 cy=1074.6 r=8 /><circle class=b cx=291.7 cy=1067.2 r=8 /><circle class=c cx=291.7 cy=617.2 r=8 /><circle class=d cx=291.7 cy=799.6 r=8 /><circle class=a cx=290.9 cy=1072.5 r=8 /><circle class=b cx=290.9 cy=1076.3 r=8 />
<circle class=c cx=290.9 cy=626.3 r=8 /><circle class=d cx=290.9 cy=805.2 r=8 /><circle class=a cx=290.2 cy=1067.9 r=8 /><circle class=b cx=290.2 cy=1097.0 r=8 /><circle class=c cx=290.2 cy=647.0 r=8 /><circle class=d cx=290.2 cy=818.0 r=8 />
<circle class=a cx=289.4 cy=1073.7 r=8 /><circle class=b cx=289.4 cy=1070.1 r=8 /><circle class=c cx=289.4 cy=620.0 r=8 /><circle class=d cx=289.4 cy=801.2 r=8 /><circle class=a cx=288.6 cy=1074.9 r=8 /><circle class=b cx=288.6 cy=1064.3 r=8 />
<circle class=c cx=288.6 cy=614.2 r=8 /><circle class=d cx=288.6 cy=797.5 r=8 /><circle class=a cx=287.8 cy=1069.3 r=8 /><circle class=b cx=287.8 cy=1089.4 r=8 /><circle class=c cx=287.8 cy=639.4 r=8 /><circle class=d cx=287.8 cy=813.1 r=8 />
<circle class=a cx=287.0 cy=1072.2 r=8 /><circle class=b cx=287.0 cy=1075.7 r=8 /><circle class=c cx=287.0 cy=625.7 r=8 /><circle class=d cx=287.0 cy=804.5 r=8 /><circle class=a cx=286.3 cy=1070.6 r=8 /><circle class=b cx=286.3 cy=1082.4 r=8 />
<circle class=c cx=286.3 cy=632.4 r=8 /><circle class=d cx=286.3 cy=808.6 r=8 /><circle class=a cx=285.5 cy=1075.3 r=8 /><circle class=b cx=285.5 cy=1060.7 r=8 /><circle class=c cx=285.5 cy=610.7 r=8 /><circle class=d cx=285.5 cy=795.1 r=8 />
<circle class=a cx=284.7 cy=1071.6 r=8 /><circle class=b cx=284.7 cy=1076.9 r=8 /><circle class=c cx=284.7 cy=627.0 r=8 /><circle class=d cx=284.7 cy=805.1 r=8 /><circle class=a cx=283.9 cy=1072.3 r=8 /><circle class=b cx=283.9 cy=1073.4 r=8 />
<circle class=c cx=283.9 cy=623.5 r=8 /><circle class=d cx=283.9 cy=802.9 r=8 /><circle class=a cx=283.2 cy=1067.9 r=8 /><circle class=b cx=283.2 cy=1093.1 r=8 /><circle class=c cx=283.2 cy=643.3 r=8 /><circle class=d cx=283.2 cy=815.1 r=8 />
<circle class=a cx=282.4 cy=1072.8 r=8 /><circle class=b cx=282.4 cy=1070.4 r=8 /><circle class=c cx=282.4 cy=620.6 r=8 /><circle class=d cx=282.4 cy=801.0 r=8 /><circle class=a cx=281.6 cy=1074.1 r=8 /><circle class=b cx=281.6 cy=1064.2 r=8 />
<circle class=c cx=281.6 cy=614.4 r=8 /><circle class=d cx=281.6 cy=797.0 r=8 /><circle class=a cx=280.8 cy=1072.2 r=8 /><circle class=b cx=280.8 cy=1072.5 r=8 /><circle class=c cx=280.8 cy=622.8 r=8 /><circle class=d cx=280.8 cy=802.2 r=8 />
<circle class=a cx=280.1 cy=1074.3 r=8 /><circle class=b cx=280.1 cy=1062.4 r=8 /><circle class=c cx=280.1 cy=612.8 r=8 /><circle class=d cx=280.1 cy=795.9 r=8 /><circle class=a cx=279.3 cy=1074.2 r=8 /><circle class=b cx=279.3 cy=1062.4 r=8 />
<circle class=c cx=279.3 cy=612.8 r=8 /><circle class=d cx=279.3 cy=795.9 r=8 /><circle class=a cx=278.5 cy=1075.7 r=8 /><circle class=b cx=278.5 cy=1055.4 r=8 /><circle class=c cx=278.5 cy=605.8 r=8 /><circle class=d cx=278.5 cy=791.5 r=8 />
<circle class=a cx=277.7 cy=1072.6 r=8 /><circle class=b cx=277.7 cy=1068.9 r=8 /><circle class=c cx=277.7 cy=619.4 r=8 /><circle class=d cx=277.7 cy=799.8 r=8 /><circle class=a cx=277.0 cy=1069.8 r=8 /><circle class=b cx=277.0 cy=1081.1 r=8 />
<circle class=c cx=277.0 cy=631.7 r=8 /><circle class=d cx=277.0 cy=807.4 r=8 /><circle class=a cx=276.2 cy=1074.3 r=8 /><circle class=b cx=276.2 cy=1060.1 r=8 /><circle class=c cx=276.2 cy=610.8 r=8 /><circle class=d cx=276.2 cy=794.3 r=8 />
<circle class=a cx=275.4 cy=1073.2 r=8 /><circle class=b cx=275.4 cy=1064.8 r=8 /><circle class=c cx=275.4 cy=615.4 r=8 /><circle class=d cx=275.4 cy=797.2 r=8 /><circle class=a cx=274.6 cy=1055.2 r=8 /><circle class=b cx=274.6 cy=1145.8 r=8 />
<circle class=c cx=274.6 cy=696.5 r=8 /><circle class=d cx=274.6 cy=847.4 r=8 /><circle class=a cx=273.8 cy=1065.0 r=8 /><circle class=b cx=273.8 cy=1100.7 r=8 /><circle class=c cx=273.8 cy=651.5 r=8 /><circle class=d cx=273.8 cy=819.3 r=8 />
<circle class=a cx=273.1 cy=1071.2 r=8 /><circle class=b cx=273.1 cy=1072.2 r=8 /><circle class=c cx=273.1 cy=623.0 r=8 /><circle class=d cx=273.1 cy=801.6 r=8 /><circle class=a cx=272.3 cy=1071.5 r=8 /><circle class=b cx=272.3 cy=1070.2 r=8 />
<circle class=c cx=272.3 cy=621.1 r=8 /><circle class=d cx=272.3 cy=800.4 r=8 /><circle class=a cx=271.5 cy=1074.4 r=8 /><circle class=b cx=271.5 cy=1056.4 r=8 /><circle class=c cx=271.5 cy=607.3 r=8 /><circle class=d cx=271.5 cy=791.7 r=8 />
<circle class=a cx=270.7 cy=1070.8 r=8 /><circle class=b cx=270.7 cy=1072.1 r=8 /><circle class=c cx=270.7 cy=623.1 r=8 /><circle class=d cx=270.7 cy=801.4 r=8 /><circle class=a cx=270.0 cy=1068.1 r=8 /><circle class=b cx=270.0 cy=1083.6 r=8 />
<circle class=c cx=270.0 cy=634.6 r=8 /><circle class=d cx=270.0 cy=808.5 r=8 /><circle class=a cx=269.2 cy=1073.9 r=8 /><circle class=b cx=269.2 cy=1056.7 r=8 /><circle class=c cx=269.2 cy=607.8 r=8 /><circle class=d cx=269.2 cy=791.8 r=8 />
<circle class=a cx=268.4 cy=1071.7 r=8 /><circle class=b cx=268.4 cy=1065.8 r=8 /><circle class=c cx=268.4 cy=616.9 r=8 /><circle class=d cx=268.4 cy=797.3 r=8 /><circle class=a cx=267.6 cy=1071.1 r=8 /><circle class=b cx=267.6 cy=1067.8 r=8 />
<circle class=c cx=267.6 cy=618.9 r=8 /><circle class=d cx=267.6 cy=798.5 r=8 /><circle class=a cx=266.9 cy=1071.2 r=8 /><circle class=b cx=266.9 cy=1066.8 r=8 /><circle class=c cx=266.9 cy=617.9 r=8 /><circle class=d cx=266.9 cy=797.8 r=8 />
<circle class=a cx=266.1 cy=1072.2 r=8 /><circle class=b cx=266.1 cy=1061.0 r=8 /><circle class=c cx=266.1 cy=612.1 r=8 /><circle class=d cx=266.1 cy=794.1 r=8 /><circle class=a cx=265.3 cy=1072.4 r=8 /><circle class=b cx=265.3 cy=1059.3 r=8 />
<circle class=c cx=265.3 cy=610.4 r=8 /><circle class=d cx=265.3 cy=792.9 r=8 /><circle class=a cx=264.5 cy=1071.6 r=8 /><circle class=b cx=264.5 cy=1061.7 r=8 /><circle class=c cx=264.5 cy=612.8 r=8 /><circle class=d cx=264.5 cy=794.3 r=8 />
<circle class=a cx=263.8 cy=1071.5 r=8 /><circle class=b cx=263.8 cy=1061.2 r=8 /><circle class=c cx=263.8 cy=612.2 r=8 /><circle class=d cx=263.8 cy=793.9 r=8 /><circle class=a cx=263.0 cy=1072.2 r=8 /><circle class=b cx=263.0 cy=1056.9 r=8 />
<circle class=c cx=263.0 cy=608.0 r=8 /><circle class=d cx=263.0 cy=791.1 r=8 /><circle class=a cx=262.2 cy=1066.7 r=8 /><circle class=b cx=262.2 cy=1081.2 r=8 /><circle class=c cx=262.2 cy=632.2 r=8 /><circle class=d cx=262.2 cy=806.1 r=8 />
<circle class=a cx=261.4 cy=1068.9 r=8 /><circle class=b cx=261.4 cy=1069.7 r=8 /><circle class=c cx=261.4 cy=620.7 r=8 /><circle class=d cx=261.4 cy=798.8 r=8 /><circle class=a cx=260.6 cy=1071.0 r=8 /><circle class=b cx=260.6 cy=1059.0 r=8 />
<circle class=c cx=260.6 cy=610.0 r=8 /><circle class=d cx=260.6 cy=792.1 r=8 /><circle class=a cx=259.9 cy=1070.0 r=8 /><circle class=b cx=259.9 cy=1062.6 r=8 /><circle class=c cx=259.9 cy=613.6 r=8 /><circle class=d cx=259.9 cy=794.2 r=8 />
<circle class=a cx=259.1 cy=1070.4 r=8 /><circle class=b cx=259.1 cy=1059.5 r=8 /><circle class=c cx=259.1 cy=610.5 r=8 /><circle class=d cx=259.1 cy=792.2 r=8 /><circle class=a cx=258.3 cy=1070.3 r=8 /><circle class=b cx=258.3 cy=1058.7 r=8 />
<circle class=c cx=258.3 cy=609.7 r=8 /><circle class=d cx=258.3 cy=791.5 r=8 /><circle class=a cx=257.5 cy=1070.1 r=8 /><circle class=b cx=257.5 cy=1058.2 r=8 /><circle class=c cx=257.5 cy=609.2 r=8 /><circle class=d cx=257.5 cy=791.1 r=8 />
<circle class=a cx=256.8 cy=1068.6 r=8 /><circle class=b cx=256.8 cy=1064.2 r=8 /><circle class=c cx=256.8 cy=615.1 r=8 /><circle class=d cx=256.8 cy=794.7 r=8 /><circle class=a cx=256.0 cy=1070.1 r=8 /><circle class=b cx=256.0 cy=1055.8 r=8 />
<circle class=c cx=256.0 cy=606.7 r=8 /><circle class=d cx=256.0 cy=789.3 r=8 /><circle class=a cx=255.2 cy=1069.3 r=8 /><circle class=b cx=255.2 cy=1058.4 r=8 /><circle class=c cx=255.2 cy=609.3 r=8 /><circle class=d cx=255.2 cy=790.8 r=8 />
<circle class=a cx=254.4 cy=1067.3 r=8 /><circle class=b cx=254.4 cy=1066.4 r=8 /><circle class=c cx=254.4 cy=617.3 r=8 /><circle class=d cx=254.4 cy=795.6 r=8 /><circle class=a cx=253.7 cy=1065.1 r=8 /><circle class=b cx=253.7 cy=1074.9 r=8 />
<circle class=c cx=253.7 cy=625.8 r=8 /><circle class=d cx=253.7 cy=800.8 r=8 /><circle class=a cx=252.9 cy=1068.0 r=8 /><circle class=b cx=252.9 cy=1060.7 r=8 /><circle class=c cx=252.9 cy=611.6 r=8 /><circle class=d cx=252.9 cy=791.8 r=8 />
<circle class=a cx=252.1 cy=1069.0 r=8 /><circle class=b cx=252.1 cy=1055.0 r=8 /><circle class=c cx=252.1 cy=606.0 r=8 /><circle class=d cx=252.1 cy=788.2 r=8 /><circle class=a cx=251.3 cy=1068.0 r=8 /><circle class=b cx=251.3 cy=1058.3 r=8 />
<circle class=c cx=251.3 cy=609.3 r=8 /><circle class=d cx=251.3 cy=790.1 r=8 /><circle class=a cx=250.6 cy=1068.0 r=8 /><circle class=b cx=250.6 cy=1057.1 r=8 /><circle class=c cx=250.6 cy=608.1 r=8 /><circle class=d cx=250.6 cy=789.3 r=8 />
<circle class=a cx=249.8 cy=1067.6 r=8 /><circle class=b cx=249.8 cy=1058.3 r=8 /><circle class=c cx=249.8 cy=609.3 r=8 /><circle class=d cx=249.8 cy=789.8 r=8 /><circle class=a cx=249.0 cy=1067.1 r=8 /><circle class=b cx=249.0 cy=1059.3 r=8 />
<circle class=c cx=249.0 cy=610.4 r=8 /><circle class=d cx=249.0 cy=790.4 r=8 /><circle class=a cx=248.2 cy=1067.7 r=8 /><circle class=b cx=248.2 cy=1055.4 r=8 /><circle class=c cx=248.2 cy=606.5 r=8 /><circle class=d cx=248.2 cy=787.8 r=8 />
<circle class=a cx=247.4 cy=1067.1 r=8 /><circle class=b cx=247.4 cy=1056.9 r=8 /><circle class=c cx=247.4 cy=608.0 r=8 /><circle class=d cx=247.4 cy=788.7 r=8 /><circle class=a cx=246.7 cy=1067.7 r=8 /><circle class=b cx=246.7 cy=1053.4 r=8 />
<circle class=c cx=246.7 cy=604.5 r=8 /><circle class=d cx=246.7 cy=786.3 r=8 /><circle class=a cx=245.9 cy=1067.3 r=8 /><circle class=b cx=245.9 cy=1054.2 r=8 /><circle class=c cx=245.9 cy=605.4 r=8 /><circle class=d cx=245.9 cy=786.7 r=8 />
<circle class=a cx=245.1 cy=1067.6 r=8 /><circle class=b cx=245.1 cy=1051.6 r=8 /><circle class=c cx=245.1 cy=602.7 r=8 /><circle class=d cx=245.1 cy=785.0 r=8 /><circle class=a cx=244.3 cy=1067.5 r=8 /><circle class=b cx=244.3 cy=1051.0 r=8 />
<circle class=c cx=244.3 cy=602.2 r=8 /><circle class=d cx=244.3 cy=784.5 r=8 /><circle class=a cx=243.6 cy=1066.6 r=8 /><circle class=b cx=243.6 cy=1054.0 r=8 /><circle class=c cx=243.6 cy=605.2 r=8 /><circle class=d cx=243.6 cy=786.2 r=8 />
<circle class=a cx=242.8 cy=1066.6 r=8 /><circle class=b cx=242.8 cy=1053.0 r=8 /><circle class=c cx=242.8 cy=604.3 r=8 /><circle class=d cx=242.8 cy=785.5 r=8 /><circle class=a cx=242.0 cy=1066.3 r=8 /><circle class=b cx=242.0 cy=1053.0 r=8 />
<circle class=c cx=242.0 cy=604.3 r=8 /><circle class=d cx=242.0 cy=785.3 r=8 /><circle class=a cx=241.2 cy=1066.9 r=8 /><circle class=b cx=241.2 cy=1049.4 r=8 /><circle class=c cx=241.2 cy=600.7 r=8 /><circle class=d cx=241.2 cy=783.0 r=8 />
<circle class=a cx=240.5 cy=1065.8 r=8 /><circle class=b cx=240.5 cy=1053.3 r=8 /><circle class=c cx=240.5 cy=604.7 r=8 /><circle class=d cx=240.5 cy=785.3 r=8 /><circle class=a cx=239.7 cy=1066.3 r=8 /><circle class=b cx=239.7 cy=1049.7 r=8 />
<circle class=c cx=239.7 cy=601.1 r=8 /><circle class=d cx=239.7 cy=782.9 r=8 /><circle class=a cx=238.9 cy=1066.1 r=8 /><circle class=b cx=238.9 cy=1049.5 r=8 /><circle class=c cx=238.9 cy=601.0 r=8 /><circle class=d cx=238.9 cy=782.7 r=8 />
<circle class=a cx=238.1 cy=1065.9 r=8 /><circle class=b cx=238.1 cy=1049.4 r=8 /><circle class=c cx=238.1 cy=600.9 r=8 /><circle class=d cx=238.1 cy=782.5 r=8 /><circle class=a cx=237.4 cy=1065.7 r=8 /><circle class=b cx=237.4 cy=1049.2 r=8 />
<circle class=c cx=237.4 cy=600.7 r=8 /><circle class=d cx=237.4 cy=782.3 r=8 /><circle class=a cx=236.6 cy=1065.5 r=8 /><circle class=b cx=236.6 cy=1049.0 r=8 /><circle class=c cx=236.6 cy=600.6 r=8 /><circle class=d cx=236.6 cy=782.0 r=8 />
<circle class=a cx=235.8 cy=1065.3 r=8 /><circle class=b cx=235.8 cy=1048.9 r=8 /><circle class=c cx=235.8 cy=600.5 r=8 /><circle class=d cx=235.8 cy=781.8 r=8 /><circle class=a cx=235.0 cy=1065.1 r=8 /><circle class=b cx=235.0 cy=1048.7 r=8 />
<circle class=c cx=235.0 cy=600.4 r=8 /><circle class=d cx=235.0 cy=781.6 r=8 /><circle class=a cx=234.2 cy=1064.9 r=8 /><circle class=b cx=234.2 cy=1048.5 r=8 /><circle class=c cx=234.2 cy=600.2 r=8 /><circle class=d cx=234.2 cy=781.3 r=8 />
<circle class=a cx=233.5 cy=1064.7 r=8 /><circle class=b cx=233.5 cy=1048.4 r=8 /><circle class=c cx=233.5 cy=600.1 r=8 /><circle class=d cx=233.5 cy=781.1 r=8 /><circle class=a cx=232.7 cy=1064.5 r=8 /><circle class=b cx=232.7 cy=1048.2 r=8 />
<circle class=c cx=232.7 cy=600.0 r=8 /><circle class=d cx=232.7 cy=780.9 r=8 /><circle class=a cx=231.9 cy=1064.3 r=8 /><circle class=b cx=231.9 cy=1048.1 r=8 /><circle class=c cx=231.9 cy=599.9 r=8 /><circle class=d cx=231.9 cy=780.7 r=8 />
<circle class=a cx=231.1 cy=1064.1 r=8 /><circle class=b cx=231.1 cy=1047.9 r=8 /><circle class=c cx=231.1 cy=599.8 r=8 /><circle class=d cx=231.1 cy=780.4 r=8 /><circle class=a cx=230.4 cy=1063.9 r=8 /><circle class=b cx=230.4 cy=1047.7 r=8 />
<circle class=c cx=230.4 cy=599.7 r=8 /><circle class=d cx=230.4 cy=780.2 r=8 /><circle class=a cx=229.6 cy=1063.7 r=8 /><circle class=b cx=229.6 cy=1047.6 r=8 /><circle class=c cx=229.6 cy=599.5 r=8 /><circle class=d cx=229.6 cy=780.0 r=8 />
<circle class=a cx=228.8 cy=1063.5 r=8 /><circle class=b cx=228.8 cy=1047.4 r=8 /><circle class=c cx=228.8 cy=599.4 r=8 /><circle class=d cx=228.8 cy=779.7 r=8 /><circle class=a cx=228.0 cy=1063.3 r=8 /><circle class=b cx=228.0 cy=1047.3 r=8 />
<circle class=c cx=228.0 cy=599.3 r=8 /><circle class=d cx=228.0 cy=779.5 r=8 /><circle class=a cx=227.3 cy=1063.0 r=8 /><circle class=b cx=227.3 cy=1047.1 r=8 /><circle class=c cx=227.3 cy=599.2 r=8 /><circle class=d cx=227.3 cy=779.3 r=8 />
<circle class=a cx=226.5 cy=1062.8 r=8 /><circle class=b cx=226.5 cy=1047.0 r=8 /><circle class=c cx=226.5 cy=599.1 r=8 /><circle class=d cx=226.5 cy=779.1 r=8 /><circle class=a cx=225.7 cy=1062.6 r=8 /><circle class=b cx=225.7 cy=1046.8 r=8 />
<circle class=c cx=225.7 cy=599.0 r=8 /><circle class=d cx=225.7 cy=778.8 r=8 /><circle class=a cx=224.9 cy=1062.4 r=8 /><circle class=b cx=224.9 cy=1046.7 r=8 /><circle class=c cx=224.9 cy=598.9 r=8 /><circle class=d cx=224.9 cy=778.6 r=8 />
<circle class=a cx=224.2 cy=1062.2 r=8 /><circle class=b cx=224.2 cy=1046.5 r=8 /><circle class=c cx=224.2 cy=598.8 r=8 /><circle class=d cx=224.2 cy=778.4 r=8 /><circle class=a cx=223.4 cy=1062.0 r=8 /><circle class=b cx=223.4 cy=1046.4 r=8 />
<circle class=c cx=223.4 cy=598.7 r=8 /><circle class=d cx=223.4 cy=778.1 r=8 /><circle class=a cx=222.6 cy=1061.8 r=8 /><circle class=b cx=222.6 cy=1046.2 r=8 /><circle class=c cx=222.6 cy=598.6 r=8 /><circle class=d cx=222.6 cy=777.9 r=8 />
<circle class=a cx=221.8 cy=1061.6 r=8 /><circle class=b cx=221.8 cy=1046.1 r=8 /><circle class=c cx=221.8 cy=598.6 r=8 /><circle class=d cx=221.8 cy=777.7 r=8 /><circle class=a cx=221.0 cy=1061.4 r=8 /><circle class=b cx=221.0 cy=1045.9 r=8 />
<circle class=c cx=221.0 cy=598.5 r=8 /><circle class=d cx=221.0 cy=777.5 r=8 /><circle class=a cx=220.3 cy=1061.2 r=8 /><circle class=b cx=220.3 cy=1045.8 r=8 /><circle class=c cx=220.3 cy=598.4 r=8 /><circle class=d cx=220.3 cy=777.2 r=8 />
<circle class=a cx=219.5 cy=1061.0 r=8 /><circle class=b cx=219.5 cy=1045.6 r=8 /><circle class=c cx=219.5 cy=598.3 r=8 /><circle class=d cx=219.5 cy=777.0 r=8 /><circle class=a cx=218.7 cy=1060.7 r=8 /><circle class=b cx=218.7 cy=1045.5 r=8 />
<circle class=c cx=218.7 cy=598.2 r=8 /><circle class=d cx=218.7 cy=776.8 r=8 /><circle class=a cx=217.9 cy=1060.5 r=8 /><circle class=b cx=217.9 cy=1045.3 r=8 /><circle class=c cx=217.9 cy=598.2 r=8 /><circle class=d cx=217.9 cy=776.6 r=8 />
<circle class=a cx=217.2 cy=1060.3 r=8 /><circle class=b cx=217.2 cy=1045.2 r=8 /><circle class=c cx=217.2 cy=598.1 r=8 /><circle class=d cx=217.2 cy=776.3 r=8 />
</svg>
<g fill="#000"><rect x="143" y="22" width="4" height="1326"/><rect x="143" y="22" width="1597" height="4"/><rect x="1735" y="22" width="5" height="1326"/><rect x="143" y="1343" width="1597" height="5"/></g>
<g fill="#333"><rect x="214.5" y="1348" width="4" height="10"/><rect x="616.5" y="1348" width="4" height="10"/><rect x="1019.5" y="1348" width="4" height="10"/><rect x="1422.5" y="1348" width="4" height="10"/><rect x="132" y="46.3" width="11" height="3.8"/><rect x="132" y="355.3" width="11" height="3.8"/><rect x="132" y="663.3" width="11" height="3.8"/><rect x="132" y="972.3" width="11" height="3.8"/><rect x="132" y="1280.3" width="11" height="3.8"/></g>
<g class="tk" text-anchor="end"><text x="121.5" y="61.6">2.5</text><text x="121.5" y="370.6">2.0</text><text x="121.5" y="678.6">1.5</text><text x="121.5" y="987.6">1.0</text><text x="121.5" y="1295.6">0.5</text></g>
<g class="tk" text-anchor="middle"><text x="215.7" y="1394">4000</text><text x="617.7" y="1394">3000</text><text x="1020.7" y="1394">2000</text><text x="1423.7" y="1394">1000</text></g>
<text class="tt" x="752.4" y="1456.2" textLength="240.6" lengthAdjust="spacing">Wavenumber</text><text class="tt" x="1004.9" y="1456.4" style="font-size:56.5px">(</text><text class="tt" x="1024.2" y="1456.2">cm</text><text class="tt" x="1076.8" y="1435.8" style="font-size:31.6px">−<tspan dx="1.0">1</tspan></text><text class="tt" x="1111.2" y="1456.4" style="font-size:56.5px">)</text>
<text class="tt" text-anchor="middle" transform="translate(56 685.2) rotate(-90)">absorbance</text>
<text class="tt" x="1807" y="546.1">spectra</text>
<circle class="a" cx="1842.9" cy="608.8" r="8"/><text class="lg" x="1901.8" y="622.7">CoHA01</text>
<circle class="b" cx="1842.9" cy="680.8" r="8"/><text class="lg" x="1901.8" y="694.7">CoHA025</text>
<circle class="c" cx="1842.9" cy="752.8" r="8"/><text class="lg" x="1901.8" y="766.7">CoHA05</text>
<circle class="d" cx="1842.9" cy="824.8" r="8"/><text class="lg" x="1901.8" y="838.7">CoHA100</text>
</svg>
</body></html>
